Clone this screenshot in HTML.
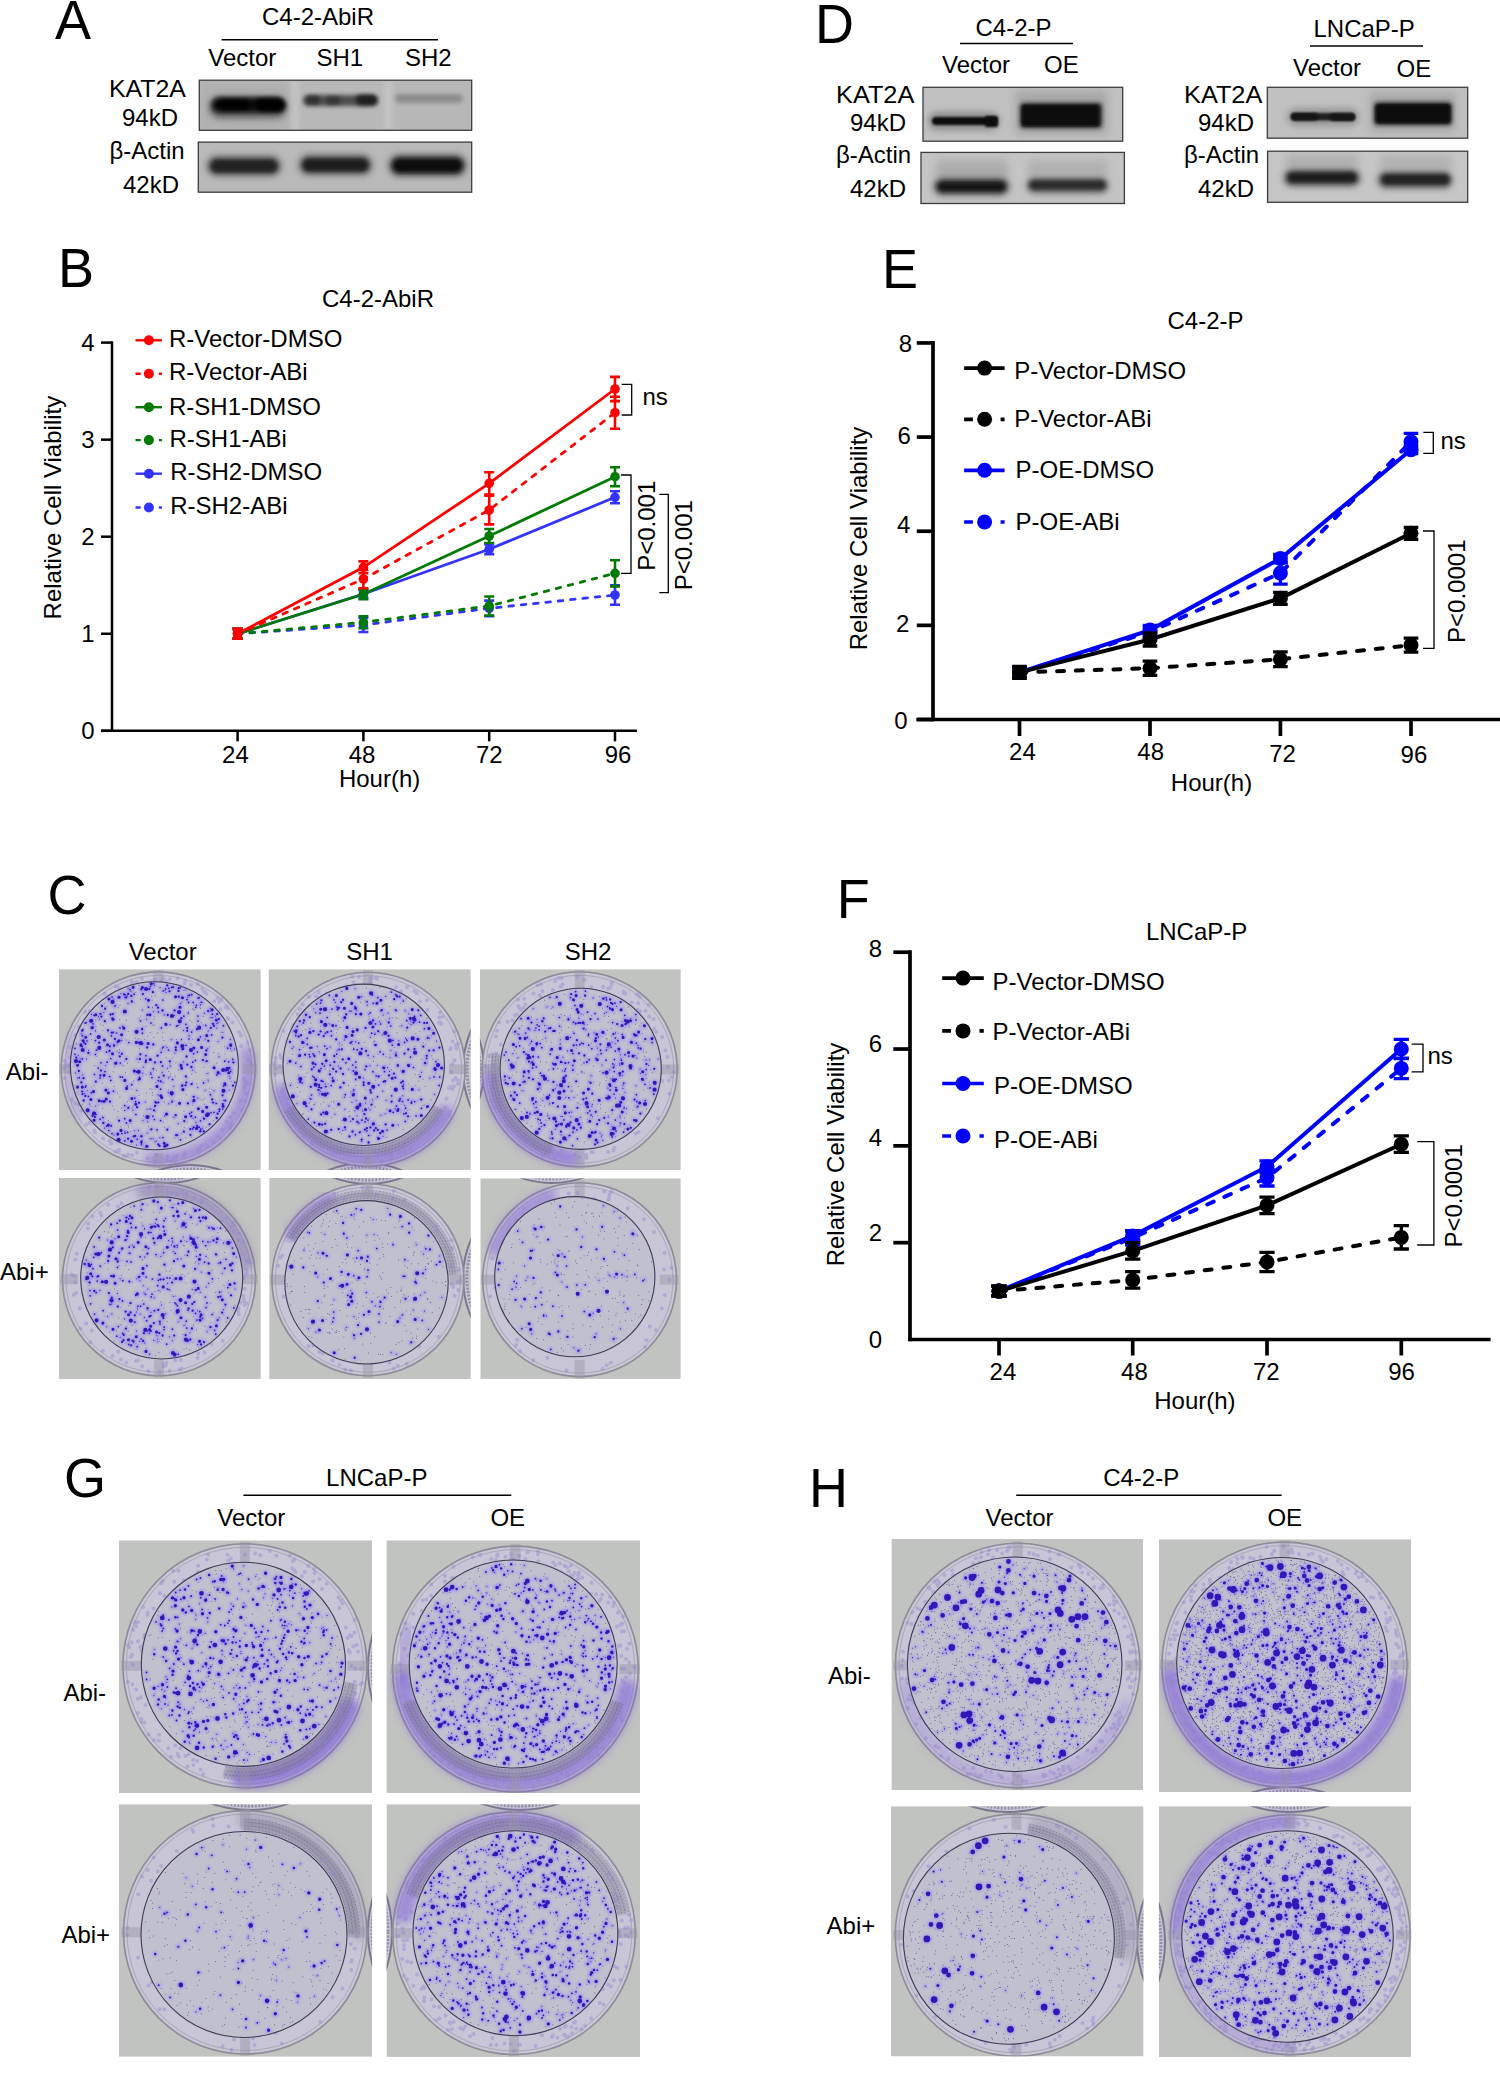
<!DOCTYPE html>
<html><head><meta charset="utf-8"><style>html,body{margin:0;padding:0;background:#fff;width:1500px;height:2073px;overflow:hidden}svg{display:block}text{font-family:"Liberation Sans",sans-serif}</style></head>
<body><svg width="1500" height="2073" viewBox="0 0 1500 2073" font-family="Liberation Sans, sans-serif"><defs><clipPath id="clip_a1"><rect x="199.3" y="80.2" width="272.4" height="50.1"/></clipPath><clipPath id="clip_a2"><rect x="198.3" y="142.1" width="273.4" height="50.1"/></clipPath><clipPath id="clip_d1"><rect x="923" y="87.3" width="199.7" height="53.9"/></clipPath><clipPath id="clip_d2"><rect x="921" y="152.4" width="203.4" height="51.1"/></clipPath><clipPath id="clip_d3"><rect x="1267.3" y="87.3" width="200.4" height="50.9"/></clipPath><clipPath id="clip_d4"><rect x="1267.6" y="151.2" width="200.1" height="51.1"/></clipPath><filter id="bl1" x="-50%" y="-50%" width="200%" height="200%"><feGaussianBlur stdDeviation="1"/></filter><filter id="bl2" x="-50%" y="-50%" width="200%" height="200%"><feGaussianBlur stdDeviation="2"/></filter><filter id="bl3" x="-50%" y="-50%" width="200%" height="200%"><feGaussianBlur stdDeviation="3"/></filter><filter id="bl4" x="-50%" y="-50%" width="200%" height="200%"><feGaussianBlur stdDeviation="4"/></filter><clipPath id="pc0"><rect x="58.9" y="969.2" width="201.9" height="200.9"/></clipPath><path id="d0_0" d="M127.5 996.1h0M89.6 1104.0h0M142.4 1010.0h0M158.2 1094.9h0M218.1 1022.6h0M217.0 1023.4h0M149.8 1108.7h0M151.4 1138.7h0M98.5 1016.2h0M121.0 993.3h0M163.0 1082.7h0M105.7 1099.7h0M124.5 997.2h0M211.8 1017.5h0M84.6 1093.6h0M170.2 1065.9h0M215.5 1016.1h0M138.5 1130.4h0M230.3 1039.4h0M88.5 1050.3h0M219.0 1056.8h0M96.3 1114.4h0M153.2 1138.6h0M223.4 1100.5h0M103.9 1012.5h0M156.3 1141.1h0M78.2 1055.3h0M136.4 1145.1h0M174.5 1015.2h0M91.4 1014.4h0M145.5 1146.9h0M150.9 1109.0h0M187.7 997.3h0M183.4 1030.4h0M153.5 1011.6h0M189.1 1035.9h0M146.5 1019.3h0M207.0 1073.5h0M124.7 1110.4h0M121.6 1040.5h0M142.4 1028.4h0M147.2 1109.3h0M183.5 1061.8h0M202.1 1002.3h0M150.6 1072.5h0M210.3 1017.8h0M160.1 987.6h0M201.7 1130.9h0M207.6 1115.2h0M185.3 990.0h0M155.0 1141.8h0M99.3 1019.0h0M230.6 1048.7h0M128.1 988.5h0M212.6 1017.8h0M197.8 1087.6h0M143.6 1067.1h0M137.0 1059.0h0M205.3 1090.3h0M220.0 1073.7h0M222.7 1032.2h0M104.7 1128.1h0M231.0 1069.8h0M200.4 1004.9h0M197.9 1098.1h0M196.0 1122.3h0M181.5 1039.4h0M164.6 1115.9h0M188.3 1012.3h0M170.2 1024.6h0M218.2 1041.6h0M173.7 1086.3h0M168.2 1092.6h0M205.2 1039.0h0M136.8 1090.4h0M159.8 1137.7h0M162.4 1048.6h0M188.2 1013.4h0M193.1 1118.2h0M229.9 1078.6h0M174.8 1053.0h0M147.7 1121.7h0M95.5 1030.9h0M214.1 1090.8h0M81.2 1033.8h0M178.2 1123.6h0M147.3 1133.1h0M132.9 1110.1h0M86.5 1058.9h0M213.2 1024.2h0M198.0 998.4h0M142.8 1073.1h0M210.3 1011.0h0M150.0 1138.8h0M208.3 1030.8h0M174.0 1117.4h0M168.6 1103.7h0M167.3 1068.2h0M207.8 1048.3h0M216.9 1028.2h0M124.9 1131.5h0M82.6 1074.7h0M77.6 1078.0h0M210.4 1008.3h0M203.3 1117.8h0M113.6 999.0h0M172.4 1100.7h0M154.4 985.3h0M162.2 1072.3h0M96.0 1114.7h0M234.6 1049.1h0M171.3 1039.7h0M95.7 1106.0h0M202.2 1128.7h0M228.5 1069.9h0M208.1 1080.1h0M115.0 1005.8h0M229.2 1090.0h0M204.3 1013.4h0M80.1 1058.7h0M165.0 990.5h0M141.4 1144.9h0M196.0 1122.6h0M89.9 1021.4h0M180.4 1003.4h0M166.9 1047.3h0M142.9 1120.6h0M119.1 1052.4h0M114.0 1135.0h0M130.9 991.3h0M87.2 1090.7h0M145.3 1102.0h0M164.2 1014.9h0M75.4 1073.1h0M134.5 1130.7h0M192.4 1070.1h0M187.9 995.5h0M105.4 1065.7h0M229.2 1076.2h0M166.0 992.5h0M168.5 1077.9h0M128.0 1003.6h0"/><path id="d0_1" d="M119.7 997.1h0M135.9 1114.5h0M105.0 1071.6h0M86.1 1022.7h0M193.6 1053.7h0M75.0 1048.3h0M193.2 1101.6h0M216.1 1103.4h0M189.0 1039.0h0M134.8 1098.0h0M134.2 994.2h0M189.7 1113.7h0M142.5 1033.2h0M125.1 1133.1h0M212.4 1014.2h0M192.8 1062.2h0M216.9 1074.9h0M172.5 1079.5h0M200.5 1120.8h0M95.4 1040.5h0M120.0 1027.9h0M154.3 1119.5h0M106.5 1052.1h0M191.6 1032.1h0M203.6 1082.9h0M106.7 1126.2h0M223.5 1025.7h0M100.1 1119.2h0M182.0 1085.8h0M171.7 987.4h0M200.6 1129.2h0M112.1 997.0h0M120.4 1063.0h0M151.0 1074.1h0M110.8 1080.4h0M111.0 1126.0h0M177.6 1135.0h0M82.6 1040.5h0M232.8 1059.3h0M108.8 1130.5h0M160.6 1089.2h0M188.5 1002.4h0M116.5 1033.0h0M211.7 1034.9h0M163.3 991.0h0M187.0 999.7h0M183.9 1016.2h0M94.5 1074.5h0M163.1 1047.2h0M151.0 1023.0h0M198.0 1021.0h0M234.8 1082.3h0M158.2 1080.6h0M83.8 1042.7h0M160.6 1120.6h0M122.7 1026.5h0M150.4 986.3h0M90.7 1033.8h0M110.8 1058.5h0M157.0 1129.8h0M153.3 1068.7h0M224.7 1061.2h0M82.2 1058.9h0M124.7 1118.7h0M117.5 1042.5h0M198.0 1016.0h0M124.8 1105.6h0M199.3 1127.2h0M124.8 1140.9h0M227.6 1048.2h0M135.6 1101.6h0M96.6 1050.2h0M79.3 1077.7h0M192.5 1128.9h0M180.4 1139.8h0M177.9 1025.5h0M197.4 1052.1h0M126.4 1122.9h0M82.4 1035.7h0M228.6 1061.8h0M128.8 1042.5h0M179.8 1007.0h0M219.3 1111.3h0M120.3 1076.9h0M100.0 1077.9h0M102.9 1117.6h0M122.4 1077.2h0M109.6 1076.5h0M185.9 1024.3h0M140.5 1020.8h0M191.5 1112.3h0M211.0 1112.7h0M180.8 1064.8h0M195.5 1117.2h0M113.5 1091.2h0M125.7 995.0h0M88.4 1096.3h0M148.4 1007.2h0M168.5 1050.0h0M111.4 1035.8h0M191.8 994.7h0M82.3 1046.7h0M200.4 1036.8h0M230.6 1071.5h0M94.2 1015.4h0M222.8 1109.0h0M152.0 1077.6h0M161.1 1052.3h0M195.4 1060.5h0M172.0 1101.9h0M205.7 1025.4h0M93.0 1023.8h0M162.8 1000.1h0M223.7 1086.1h0M176.6 1026.2h0M130.0 989.6h0M163.0 1137.5h0M186.1 1045.3h0M85.4 1087.2h0M141.1 1136.0h0M95.4 1054.5h0M131.7 1084.7h0M158.9 1077.3h0M107.2 1062.2h0M196.4 1005.3h0M210.5 1094.7h0M86.0 1085.8h0M145.7 998.8h0M152.9 1116.3h0M127.6 1132.4h0M147.2 1117.5h0M101.0 1062.8h0M153.5 983.6h0M115.1 1006.0h0M180.2 987.7h0M111.3 1125.5h0M91.3 1092.7h0M165.6 988.8h0M87.0 1041.0h0M214.0 1112.3h0M145.8 1055.7h0M158.5 1012.0h0M168.7 988.3h0M127.3 1086.0h0M161.3 1027.9h0M142.6 1043.7h0M156.3 1102.9h0M193.2 1002.4h0M112.0 1133.5h0M141.6 1144.0h0M195.8 1007.3h0M98.3 1068.0h0M121.9 1133.5h0M113.9 1045.2h0M74.9 1054.3h0M85.1 1023.1h0M225.5 1085.1h0M162.5 1065.9h0M139.5 1077.3h0M201.3 1002.3h0M137.2 1139.3h0M113.2 1032.4h0"/><path id="d0_2" d="M152.9 992.2h0M175.8 1047.4h0M82.2 1030.7h0M187.3 1064.7h0M81.3 1082.4h0M149.3 989.0h0M101.0 1070.6h0M213.1 1102.6h0M217.6 1113.7h0M82.5 1094.1h0M128.3 1107.8h0M147.2 1047.5h0M99.2 1042.7h0M158.3 1144.4h0M101.9 1101.4h0M178.4 990.9h0M160.9 1062.2h0M159.5 1145.9h0M131.3 995.9h0M119.1 1120.7h0M162.5 1010.5h0M119.8 1056.4h0M183.9 1131.7h0M142.9 994.1h0M94.9 1116.9h0M206.7 1061.2h0M197.1 1125.8h0M100.5 1013.8h0M186.3 1082.6h0M139.9 1078.9h0M117.7 1041.7h0M188.0 1103.4h0M176.2 1135.2h0M209.6 1124.3h0M219.5 1109.4h0M202.9 1060.1h0M198.8 997.8h0M191.3 1116.2h0M173.1 987.1h0M167.7 1015.0h0M109.5 1050.9h0M82.6 1029.9h0M204.1 1118.8h0M110.0 1101.6h0M181.4 1018.2h0M174.6 1010.4h0M131.8 1001.5h0M146.0 1060.5h0M230.8 1045.9h0M222.4 1037.6h0M108.0 1030.4h0M133.7 1136.4h0M182.4 1085.5h0M208.3 1040.8h0M190.3 1129.1h0M169.5 991.3h0M140.4 1054.3h0M153.3 1044.5h0M217.2 1014.1h0M109.8 1046.3h0M155.0 1106.0h0M139.9 1059.0h0M145.7 1062.2h0M185.8 1076.4h0M126.2 997.5h0M206.4 1050.4h0M95.8 1081.6h0M186.6 1056.5h0M138.6 1042.6h0M190.4 1134.8h0M121.9 1053.8h0M82.2 1091.6h0M137.1 1107.2h0M102.0 1006.0h0M155.5 1102.2h0M114.9 1038.9h0M142.1 1029.2h0M138.7 1079.7h0M80.9 1045.8h0M197.0 1029.2h0M191.4 1067.0h0M160.6 1081.3h0M104.9 1021.2h0M210.8 1027.9h0M216.7 1118.0h0M114.0 1045.7h0M141.4 1142.6h0M158.0 1007.7h0M126.4 1059.0h0M110.6 1014.5h0M128.1 1138.7h0M175.7 1115.2h0M175.8 1049.9h0M155.0 1062.4h0M178.7 988.2h0M156.3 1005.2h0M135.2 1136.0h0M200.2 1131.4h0M163.7 1075.7h0M212.2 1099.4h0M112.4 1018.5h0M208.1 1011.1h0M116.3 1063.0h0M226.0 1070.5h0M124.1 994.4h0M147.4 1014.9h0M222.6 1095.3h0M233.4 1062.4h0M193.7 1096.8h0M219.0 1019.1h0M141.6 1141.5h0M105.1 1008.7h0M100.4 1075.4h0M111.8 1032.7h0M187.3 1030.8h0M85.4 1043.8h0M83.5 1078.2h0M158.3 1102.4h0M78.8 1071.0h0M222.8 1104.1h0M141.6 1136.3h0M139.0 1102.8h0M213.8 1025.9h0M128.2 993.9h0M137.0 1071.9h0M167.2 985.4h0M76.3 1057.7h0M141.3 989.3h0M112.9 1014.1h0M92.5 1115.8h0M193.7 1127.4h0M103.3 1123.0h0M83.7 1100.5h0M189.3 995.3h0M157.6 1055.7h0M191.6 1084.2h0M92.7 1027.4h0M184.3 1121.1h0M213.0 1023.8h0M154.1 1110.3h0M233.0 1085.7h0M85.4 1095.9h0M178.8 996.7h0M169.8 1061.3h0M185.5 1085.3h0M167.3 1129.7h0M101.4 1016.6h0M225.3 1100.6h0M88.4 1052.9h0M203.8 1131.3h0M171.8 1094.4h0M151.4 1129.3h0M187.2 1028.1h0M197.7 1127.6h0M229.5 1067.8h0"/><path id="d0_3" d="M119.0 1040.7h0M142.4 987.5h0M106.3 1099.0h0M224.8 1083.9h0M104.3 1101.2h0M216.4 1020.0h0M166.0 1024.4h0M150.3 1059.5h0M135.8 1104.2h0M123.9 1028.3h0M179.6 1103.3h0M160.9 1095.8h0M90.9 1099.5h0M108.9 999.0h0M94.1 1120.2h0M149.9 1014.7h0M214.1 1067.8h0M133.1 987.3h0M134.4 1071.1h0M104.1 1075.2h0M181.7 1068.3h0M113.1 1019.3h0M161.7 1097.6h0M79.6 1061.7h0M223.1 1106.2h0M131.5 1141.3h0M104.3 1040.0h0M151.2 983.7h0M83.2 1040.7h0M77.6 1065.2h0M82.3 1087.1h0M212.1 1009.8h0M175.6 996.8h0M206.7 1035.5h0M202.7 1111.4h0M115.6 1063.2h0M107.5 1044.8h0M157.0 1086.4h0M124.8 1080.4h0M167.0 1145.1h0M130.2 1120.5h0M117.8 1134.1h0M108.3 1092.9h0M118.9 997.2h0M99.2 1100.8h0M181.0 1065.6h0M146.9 1146.2h0M108.4 1125.1h0M164.8 1146.2h0M77.5 1087.1h0M136.3 1042.4h0M121.6 1034.7h0M182.8 1048.8h0M94.2 1113.2h0M230.7 1044.8h0M228.8 1072.8h0M182.5 997.7h0M85.7 1037.3h0M218.1 1072.6h0M131.9 1098.5h0M185.6 1116.8h0M112.5 1053.7h0M182.9 1089.6h0M196.5 1128.4h0M105.9 1090.1h0M148.5 1000.3h0M198.4 1039.8h0M206.7 1107.3h0M194.0 1100.3h0M95.8 1014.7h0M177.4 1042.9h0M121.0 1130.4h0M193.8 1048.0h0M166.5 1114.1h0M164.2 1143.3h0M92.0 1027.8h0M201.6 1047.4h0M93.5 1091.6h0M205.7 1054.5h0M81.0 1044.8h0M180.0 1007.2h0M126.6 1088.4h0M148.1 1043.5h0M198.4 1108.7h0"/><path id="d0_4" d="M179.1 1012.1h0M99.3 1047.9h0M199.2 1027.7h0M91.3 1020.8h0M112.5 1001.9h0M191.0 1050.1h0M138.7 1071.8h0M223.5 1090.8h0M140.9 1043.1h0M172.0 1016.0h0M207.1 1115.2h0M82.7 1050.0h0M124.8 1011.5h0M179.8 1021.3h0M76.0 1061.1h0M227.4 1068.8h0M182.3 1046.1h0M146.1 989.0h0M171.7 1093.2h0M118.6 1139.9h0M87.7 1110.3h0M223.2 1070.0h0M94.0 1113.5h0M136.6 1031.8h0M98.7 1037.0h0M147.5 1117.0h0M207.9 1114.3h0"/><clipPath id="pc1"><rect x="268.5" y="969.2" width="202.3" height="200.9"/></clipPath><path id="d1_0" d="M398.8 1040.8h0M405.5 1038.0h0M418.8 1089.7h0M406.5 1039.4h0M321.7 1008.8h0M348.6 1069.2h0M387.6 1067.6h0M351.4 1011.2h0M328.9 1105.9h0M390.1 1057.7h0M434.5 1094.3h0M373.7 1056.6h0M380.8 1115.3h0M373.2 1020.3h0M390.9 1050.3h0M355.3 988.7h0M421.4 1072.2h0M292.1 1048.4h0M344.6 1097.1h0M368.7 1014.2h0M402.8 1095.8h0M370.3 1109.8h0M382.6 1091.1h0M325.3 1084.0h0M344.9 1109.3h0M403.6 1084.2h0M329.2 1023.7h0M405.6 1038.3h0M385.2 1113.8h0M410.7 1020.9h0M325.1 1086.7h0M343.5 1020.8h0M411.6 1101.1h0M415.8 1020.0h0M363.3 1078.0h0M309.8 1098.3h0M365.5 1103.1h0M336.4 1006.9h0M410.1 1019.2h0M370.4 1037.2h0M338.3 1066.1h0M356.1 1100.2h0M395.2 1108.9h0M382.6 1034.7h0M361.0 997.0h0M377.4 1065.3h0M408.8 1013.7h0M429.4 1038.2h0M436.6 1041.1h0M388.0 1013.2h0M389.4 1018.3h0M339.4 1043.0h0M404.7 1105.5h0M341.7 991.5h0M361.6 1141.4h0M344.4 1039.9h0M335.4 1002.4h0M411.0 1024.4h0M370.1 1065.7h0M320.3 1091.2h0M352.0 1102.2h0M313.8 1008.7h0M379.6 1021.8h0M396.1 1052.5h0M405.2 1010.8h0M290.6 1085.4h0M313.7 1055.3h0M330.1 1047.1h0M401.7 1025.7h0M383.2 1015.1h0M398.2 1125.0h0M355.7 1041.9h0M315.8 1012.7h0M354.9 1110.8h0M353.0 1091.8h0M310.0 1028.8h0M361.2 996.6h0M372.5 1099.8h0M353.4 1071.1h0M342.8 1130.3h0M389.5 1071.4h0M335.0 1114.2h0M298.7 1056.4h0M400.8 1099.7h0M386.1 1100.2h0M367.2 1005.1h0M383.1 1136.3h0M319.1 1051.7h0M429.8 1078.2h0M356.7 1010.8h0M362.8 1110.9h0M350.7 1121.4h0M317.3 1046.5h0M296.9 1103.7h0M337.1 1050.3h0M345.3 1129.6h0M385.8 996.4h0M293.4 1046.8h0M357.1 1115.7h0M319.8 1093.7h0"/><path id="d1_1" d="M419.4 1022.1h0M439.7 1077.1h0M397.8 1066.1h0M345.9 1062.8h0M314.2 1077.6h0M294.2 1031.1h0M405.6 1108.2h0M307.1 1038.3h0M312.9 1076.3h0M390.8 1026.0h0M303.9 1042.8h0M310.8 1099.1h0M391.5 992.1h0M296.1 1032.8h0M331.9 1009.1h0M407.1 1040.6h0M354.9 1006.5h0M393.2 1112.3h0M377.5 1096.7h0M324.7 1046.1h0M414.6 1016.4h0M380.9 1010.7h0M306.1 1014.6h0M329.3 995.3h0M332.5 1077.8h0M395.5 1009.9h0M320.6 1003.0h0M357.2 1049.9h0M299.5 1049.6h0M368.0 1120.1h0M359.6 1105.1h0M326.1 1086.6h0M374.8 1034.2h0M420.7 1015.5h0M376.0 1044.8h0M361.9 1120.2h0M387.2 1130.0h0M410.5 1057.1h0M371.7 1033.2h0M367.1 1001.7h0M420.2 1076.7h0M327.2 1017.5h0M439.2 1085.4h0M425.5 1063.5h0M414.7 1101.5h0M336.0 1025.7h0M345.3 1094.7h0M339.1 1049.4h0M376.2 1075.8h0M358.7 1043.1h0M372.4 995.0h0M426.6 1058.4h0M395.6 994.6h0M380.1 1051.8h0M435.9 1061.6h0M406.8 1020.6h0M380.7 1024.0h0M353.7 1049.2h0M400.1 1098.6h0M330.3 1065.2h0M421.4 1108.3h0M365.0 1069.6h0M309.9 1056.7h0M321.3 1020.9h0M311.5 1095.0h0M365.1 1121.8h0M404.5 1042.4h0M351.9 1041.5h0M397.2 996.7h0M326.9 1048.6h0M307.3 1044.3h0M408.1 1099.9h0M352.7 1065.0h0M355.5 1134.7h0M373.0 1071.7h0M353.8 1089.8h0M396.4 1106.1h0M424.4 1028.7h0M393.0 1040.4h0M308.3 1119.1h0M309.2 1054.6h0M320.9 1068.5h0M373.2 1003.3h0M303.4 1022.9h0M391.7 1095.8h0M297.2 1026.4h0M355.7 1062.0h0M302.1 1082.8h0M384.5 1071.7h0M336.7 1054.2h0M295.7 1063.1h0M434.1 1076.8h0M331.2 1085.6h0M378.7 1085.1h0M313.8 1067.2h0M366.8 1130.9h0M313.1 1053.9h0M368.7 1135.5h0M316.7 1004.0h0M323.1 1081.6h0M331.3 1035.8h0M403.3 1001.0h0M331.2 1031.1h0M403.8 1113.9h0M403.4 1088.7h0M395.7 1054.3h0M383.3 1054.3h0M353.3 1070.8h0M416.1 1115.8h0M324.3 1066.0h0M396.4 1010.6h0M358.9 1123.0h0M355.9 1067.3h0M368.1 1055.4h0M320.0 1013.2h0M377.7 997.6h0M405.3 1121.4h0M295.8 1035.6h0M325.2 1033.3h0M370.2 1012.8h0M375.5 1023.9h0M349.9 1011.0h0M334.0 999.8h0M402.5 1101.5h0M413.5 1067.5h0M392.3 1045.1h0M355.7 1079.4h0M300.9 1066.5h0M414.5 1017.2h0"/><path id="d1_2" d="M411.4 1102.8h0M408.3 1049.5h0M435.3 1068.5h0M342.7 1059.4h0M318.5 1089.9h0M394.0 1073.6h0M399.6 996.7h0M353.0 1119.1h0M371.5 1104.7h0M396.8 995.9h0M290.0 1041.9h0M364.9 1129.6h0M414.5 1049.1h0M341.8 1049.3h0M327.3 1032.2h0M321.2 1114.4h0M391.6 1101.7h0M314.4 1122.6h0M402.8 1086.4h0M418.3 1010.3h0M373.7 1123.3h0M322.3 1063.8h0M374.1 1130.5h0M388.6 1035.8h0M309.8 1017.2h0M370.8 1092.5h0M366.3 1066.3h0M399.3 1100.7h0M336.2 1039.4h0M385.2 1081.2h0M408.0 1116.3h0M402.9 1081.4h0M354.0 1094.1h0M295.7 1032.0h0M396.1 1055.6h0M375.3 1045.0h0M346.3 1036.8h0M327.6 1093.3h0M359.8 1132.3h0M397.8 1065.2h0M305.1 1054.7h0M378.2 1031.2h0M334.4 1062.0h0M375.8 1128.2h0M403.2 1071.2h0M404.5 1053.6h0M344.9 1127.3h0M433.6 1050.3h0M427.0 1022.9h0M350.6 1042.9h0M424.3 1022.9h0M298.7 1036.5h0M340.6 1068.5h0M370.4 1127.4h0M336.1 1071.6h0M427.8 1037.8h0M383.7 1081.7h0M357.3 1121.8h0M421.2 1099.5h0M311.8 1069.3h0M355.9 1014.1h0M352.5 1131.7h0M319.1 1084.9h0M406.0 1113.3h0M361.7 1139.6h0M343.0 1074.0h0M314.5 1056.0h0M373.0 1020.5h0M299.8 1021.2h0M363.7 1085.1h0M380.2 1133.2h0M395.4 1077.7h0M320.6 1031.4h0M325.1 1123.8h0M300.7 1078.7h0M319.0 1087.2h0M349.5 1136.5h0M311.6 1047.7h0M321.4 1000.3h0M364.4 1114.1h0M301.0 1035.2h0M413.5 1022.6h0M439.4 1047.7h0M306.3 1106.1h0M338.0 1007.6h0M366.1 1051.0h0M381.9 1010.1h0M338.7 1129.1h0M323.7 1036.1h0M331.2 1129.8h0M339.1 1007.8h0M321.2 1087.8h0M377.8 1129.9h0M346.2 1014.4h0M426.8 1055.8h0M388.7 1022.5h0M313.4 1031.2h0M300.1 1081.9h0M340.4 1087.4h0M370.4 1090.1h0M361.8 1048.9h0M368.6 1142.5h0M318.7 1034.6h0M343.7 1082.9h0M366.0 1118.5h0M333.2 1068.9h0M389.0 1075.4h0M341.2 1002.2h0M310.2 1047.9h0M323.2 1112.6h0M398.2 1109.1h0M360.1 1104.0h0M401.2 1082.6h0M394.2 999.2h0M429.1 1050.6h0M363.6 1082.5h0M315.5 1064.5h0M322.2 1124.7h0M321.5 1080.9h0M334.3 1056.1h0M425.1 1062.9h0M407.2 1027.6h0M304.0 1020.5h0M423.3 1046.6h0M329.9 1074.3h0M366.9 1128.2h0M305.9 1014.8h0M311.5 1109.3h0M378.6 1076.5h0M343.0 1000.0h0M365.6 1028.0h0M310.8 1086.8h0M385.6 1124.4h0M337.6 1009.5h0"/><path id="d1_3" d="M338.7 1104.2h0M346.8 988.4h0M372.9 1027.0h0M359.5 1077.2h0M313.0 1063.1h0M376.9 1003.2h0M392.8 1125.2h0M319.2 1070.9h0M353.2 1094.9h0M365.3 1098.1h0M353.0 1031.6h0M435.2 1069.5h0M412.3 1089.4h0M320.7 1009.3h0M351.7 1003.4h0M421.3 1115.5h0M319.3 1124.2h0M324.4 1054.6h0M433.6 1033.2h0M344.8 1017.6h0M326.2 1060.7h0M290.0 1061.3h0M392.2 1078.3h0M348.8 1058.7h0M380.9 1000.3h0M296.1 1030.8h0M357.2 1029.9h0M417.9 1039.2h0M408.4 1065.2h0M321.5 1021.7h0M428.9 1028.4h0M309.9 1032.4h0M333.2 1080.9h0M373.2 1124.0h0M410.3 1018.2h0M332.8 1025.5h0M413.3 1018.3h0M352.1 1035.2h0M368.8 1083.2h0M408.7 1065.8h0M358.7 997.2h0M427.5 1106.5h0M315.7 1079.8h0M398.7 1044.5h0M434.8 1068.8h0M403.2 1071.4h0M359.9 1105.3h0M347.1 1027.4h0M299.7 1055.5h0M355.6 1008.2h0M365.5 1109.6h0M360.8 1014.1h0M397.7 1110.5h0M322.5 1094.3h0M383.7 1067.7h0M382.5 1131.3h0M441.6 1068.0h0M390.0 1110.8h0M345.9 1036.6h0M378.5 1138.4h0M302.6 1042.4h0M344.4 1008.3h0M412.2 1009.6h0M336.4 995.5h0"/><path id="d1_4" d="M315.7 1084.7h0M360.4 1053.4h0M325.0 1009.3h0M415.1 1052.7h0M385.4 1033.0h0M412.7 1038.4h0M371.1 993.3h0M292.8 1096.4h0M344.9 1119.5h0M356.1 1073.3h0M438.0 1065.1h0M370.4 1023.0h0M326.4 1113.2h0M414.4 1019.7h0M325.2 1094.6h0M373.2 1086.8h0M325.3 1024.9h0M325.9 1131.5h0M304.6 1103.2h0M357.4 1107.6h0M395.8 1089.7h0M300.3 1079.0h0M389.8 1040.7h0"/><clipPath id="pc2"><rect x="479.9" y="969.2" width="200.9" height="200.9"/></clipPath><path id="d2_0" d="M557.7 1058.2h0M567.5 1050.9h0M640.4 1073.2h0M513.0 1053.6h0M608.0 1047.1h0M604.6 1013.5h0M539.6 1087.9h0M619.4 1051.8h0M544.6 1025.6h0M625.0 1092.3h0M594.1 1032.7h0M611.0 1078.7h0M649.4 1059.8h0M571.7 1091.0h0M570.0 1125.9h0M530.7 1063.0h0M533.2 1008.7h0M570.9 1116.8h0M619.5 1063.9h0M592.3 1104.4h0M606.4 1012.2h0M621.0 1058.8h0M636.0 1085.7h0M620.1 1117.8h0M611.2 1129.7h0M630.8 1018.6h0M608.8 1099.2h0M658.1 1059.0h0M555.3 1129.3h0M615.5 1032.9h0M593.0 997.9h0M619.9 1115.9h0M571.6 1112.1h0M584.0 1062.9h0M648.5 1065.3h0M553.4 1090.9h0M530.1 1043.5h0M518.1 1057.5h0M615.2 1043.7h0M600.0 1133.1h0M561.1 1116.4h0M592.4 1116.7h0M616.6 1006.3h0M542.7 1100.6h0M615.6 1098.1h0M533.0 1048.2h0M522.8 1090.8h0M601.3 1136.7h0M536.6 1107.4h0M555.1 1088.8h0M536.4 1045.7h0M562.5 1070.8h0M608.3 1117.0h0M535.9 1102.6h0M584.2 1024.2h0M535.1 1107.5h0M560.2 1043.9h0M602.7 1140.5h0M529.9 1030.0h0M609.7 1070.1h0M611.9 1126.2h0M541.3 1126.6h0M622.3 1075.3h0M562.4 1116.5h0M511.0 1068.8h0M572.4 1070.2h0M560.7 1048.6h0M635.1 1055.6h0M505.0 1079.9h0M623.1 1085.1h0M534.9 1030.4h0M607.9 1088.1h0M585.7 1105.1h0M637.6 1035.1h0M512.4 1098.3h0M609.5 1007.4h0M591.9 1106.3h0M620.3 1054.8h0M565.6 1097.2h0M620.2 1106.1h0M549.4 1103.9h0M614.2 1064.9h0M597.9 1054.8h0M643.3 1080.2h0M645.8 1074.7h0M636.9 1058.0h0M566.5 1139.9h0M561.1 1134.8h0M568.3 1018.3h0M640.1 1069.0h0M547.2 1006.8h0M529.0 1072.4h0M547.8 1115.7h0M589.0 1081.5h0M517.6 1033.8h0M536.9 1019.5h0M574.1 1097.5h0M545.6 1038.1h0M560.3 1039.7h0M568.7 1135.8h0M602.1 1065.0h0M585.9 1029.8h0M581.8 1071.8h0M602.0 1135.1h0M548.1 1080.6h0M612.0 1042.0h0M622.9 1088.4h0M641.8 1078.8h0M591.0 1075.3h0M626.5 1108.6h0M579.0 1018.2h0M601.7 1032.1h0M519.2 1028.5h0M550.1 1138.2h0M580.2 1117.3h0M552.8 1007.0h0M638.0 1045.4h0M624.7 1019.7h0M562.9 1057.2h0M620.0 1125.8h0M515.7 1109.4h0M570.5 1037.4h0M581.2 1014.0h0M646.1 1059.9h0M619.8 1065.3h0M519.0 1034.4h0M557.0 1085.3h0M636.9 1107.2h0M597.5 1048.1h0"/><path id="d2_1" d="M568.4 1086.7h0M636.3 1043.2h0M576.5 1045.0h0M569.7 1135.4h0M614.1 1094.1h0M635.8 1014.5h0M568.8 1097.9h0M526.0 1054.0h0M564.9 1139.2h0M606.6 999.9h0M552.9 1063.3h0M614.2 1071.6h0M623.8 1083.2h0M519.7 1103.2h0M532.2 1100.4h0M597.9 1019.0h0M623.6 1132.2h0M568.5 1062.6h0M612.2 1136.9h0M552.0 1133.9h0M652.2 1042.5h0M540.5 1073.2h0M505.9 1052.2h0M625.0 1054.7h0M523.2 1082.0h0M616.0 1131.1h0M550.0 997.3h0M637.9 1106.4h0M536.3 1067.0h0M609.7 1097.2h0M621.4 1060.2h0M504.3 1055.0h0M636.4 1094.7h0M591.1 1115.0h0M538.2 1119.2h0M535.9 1101.7h0M586.3 1098.2h0M631.2 1041.6h0M600.5 1050.2h0M622.3 1034.5h0M603.1 1072.8h0M549.4 1095.1h0M636.9 1101.4h0M573.1 1069.8h0M614.9 1003.2h0M539.1 1029.8h0M565.5 1068.9h0M624.8 1015.3h0M516.2 1046.7h0M636.0 1019.8h0M541.1 1122.9h0M606.0 1060.2h0M550.3 1054.2h0M572.9 1132.2h0M559.4 1017.5h0M577.4 1138.8h0M570.5 997.5h0M575.6 991.6h0M620.4 1123.0h0M527.1 1112.7h0M521.0 1018.7h0M646.2 1069.6h0M588.7 1045.2h0M587.8 1112.9h0M622.2 1097.4h0M574.9 1005.4h0M553.4 1068.9h0M615.3 1051.1h0M573.0 1053.5h0M563.9 1119.9h0M587.5 1012.2h0M541.5 1075.5h0M549.2 1118.4h0M573.5 1022.2h0M583.3 1043.7h0M532.6 1067.9h0M598.2 1037.0h0M611.1 1047.0h0M589.9 1110.9h0M533.7 1103.7h0M624.1 1107.8h0M596.0 1058.3h0M601.2 1053.6h0M589.2 1059.9h0M538.3 1057.0h0M569.2 1112.5h0M509.3 1078.1h0M612.6 1022.6h0M523.5 1076.3h0M615.9 1087.6h0M653.8 1094.2h0M581.5 1043.2h0M626.2 1023.4h0M591.8 1048.8h0M645.0 1084.3h0M606.3 1050.0h0M628.8 1056.1h0M610.1 1090.2h0M535.9 1028.0h0M588.3 1035.4h0M645.3 1100.6h0M614.4 1059.5h0M551.6 1131.9h0M527.4 1037.4h0M508.7 1060.2h0M561.9 1062.3h0M572.5 1145.6h0M579.8 1044.7h0M650.0 1087.8h0M540.2 1120.0h0M607.5 1006.7h0M585.4 991.1h0M548.6 1028.4h0M574.0 1033.3h0M540.2 1043.5h0M553.4 1064.4h0M606.1 997.7h0M529.8 1113.8h0M572.8 1065.4h0M617.9 1040.7h0M539.1 1026.2h0M588.6 1034.1h0M615.4 1038.1h0M519.6 1045.8h0M602.8 998.5h0M619.9 1075.6h0M541.8 1047.7h0M615.4 1120.1h0M638.3 1047.8h0M531.6 1041.4h0M612.8 1063.8h0M525.6 1033.0h0M595.0 1013.5h0M576.9 1129.8h0M562.0 1086.5h0M564.7 1071.0h0M559.5 1026.0h0M537.1 1024.8h0"/><path id="d2_2" d="M590.6 1082.9h0M595.1 1144.3h0M590.5 1019.1h0M542.1 1021.1h0M539.3 1128.9h0M524.7 1081.6h0M560.9 1062.0h0M550.4 1028.0h0M504.9 1076.4h0M578.4 1022.9h0M565.9 1075.8h0M606.3 1098.1h0M507.8 1083.9h0M610.2 999.5h0M645.3 1039.1h0M570.5 1122.4h0M640.4 1113.6h0M613.6 1067.3h0M580.2 1022.9h0M587.0 1062.1h0M612.2 1110.1h0M552.9 1103.1h0M544.5 1125.1h0M625.4 1024.2h0M511.0 1095.7h0M595.9 1038.3h0M545.2 1031.6h0M577.4 1107.8h0M594.8 1132.7h0M608.1 1123.3h0M533.1 1056.7h0M604.2 1117.8h0M575.7 1023.6h0M528.5 1071.2h0M620.7 1002.1h0M622.8 1071.7h0M580.8 1127.7h0M556.0 1121.5h0M573.6 1045.3h0M613.4 1034.1h0M565.4 1063.1h0M514.7 1092.5h0M523.9 1052.1h0M595.7 1111.8h0M583.7 1028.6h0M515.2 1031.7h0M610.3 1085.9h0M634.6 1099.6h0M568.4 1019.6h0M533.0 1079.3h0M576.2 1081.3h0M553.3 1030.9h0M579.0 1053.3h0M542.5 1021.4h0M553.1 1090.2h0M603.7 998.7h0M630.8 1127.8h0M634.1 1120.2h0M552.6 1138.4h0M554.7 1030.9h0M608.5 1096.4h0M516.9 1095.1h0M528.9 1077.8h0M613.7 1133.7h0M597.5 1142.6h0M531.5 1022.6h0M529.0 1061.6h0M576.9 1040.2h0M532.3 1062.5h0M557.9 1106.6h0M571.1 994.1h0M519.8 1085.2h0M607.6 1098.5h0M566.2 1125.8h0M611.0 1002.8h0M553.5 1081.9h0M556.7 997.2h0M592.3 1093.7h0M585.1 995.7h0M537.8 1089.2h0M654.2 1068.8h0M599.2 1120.1h0M534.8 1112.9h0M610.1 1008.7h0M584.4 1055.5h0M558.5 1124.3h0M600.4 1044.3h0M617.2 1024.1h0M616.0 1079.3h0M583.3 1099.3h0M505.7 1083.0h0M646.4 1064.1h0M612.4 1003.9h0M597.1 1124.2h0M595.6 1131.9h0M634.1 1034.5h0M624.4 1124.1h0M528.5 1028.5h0M561.0 1131.7h0M566.3 1126.8h0M640.6 1048.7h0M543.6 1018.4h0M538.8 1083.5h0"/><path id="d2_3" d="M609.7 1084.5h0M589.8 1121.3h0M620.7 1102.3h0M599.2 1100.2h0M628.6 1052.6h0M630.6 1068.0h0M635.5 1035.3h0M511.3 1064.9h0M574.3 1060.8h0M532.7 1098.5h0M533.3 1064.4h0M578.2 1012.1h0M627.9 1129.0h0M564.0 1091.1h0M588.4 1089.1h0M529.9 1057.6h0M551.7 1049.3h0M652.0 1038.6h0M527.7 1058.2h0M514.0 1099.6h0M612.5 1009.6h0M536.8 1043.6h0M642.4 1079.2h0M543.7 1076.1h0M638.6 1032.1h0M596.1 1140.1h0M636.0 1120.5h0M573.8 1127.9h0M592.1 1132.5h0M555.4 1064.3h0M528.3 1055.6h0M631.5 1042.2h0M564.6 1106.6h0M573.5 999.7h0M560.2 1048.4h0M625.5 1020.6h0M571.6 1050.5h0M578.9 1124.1h0M560.4 1142.1h0M539.6 1084.2h0M619.8 1073.3h0M616.3 1090.1h0M587.6 1106.8h0M603.0 1032.4h0M644.4 1025.7h0M621.1 1009.7h0M622.2 1112.0h0M540.8 1114.4h0M524.2 1071.9h0M597.2 1059.8h0M576.1 995.6h0M633.0 1056.1h0M622.1 1025.5h0M595.5 1040.7h0M520.0 1038.2h0M565.4 1112.9h0M622.1 1063.5h0M557.2 1057.5h0M525.1 1038.4h0M639.7 1102.9h0M563.9 1077.8h0M556.4 1125.6h0M583.0 1022.7h0M623.1 1037.4h0M561.5 1124.1h0M528.2 1018.3h0M630.5 1020.8h0M513.4 1044.5h0M577.1 1009.5h0M609.2 1097.5h0M596.7 1034.2h0M583.6 1093.0h0M537.4 1112.0h0M642.7 1071.8h0M618.9 1049.0h0"/><path id="d2_4" d="M563.8 1081.2h0M606.6 1072.7h0M559.3 1098.0h0M627.7 1021.6h0M559.8 1003.8h0M513.7 1083.5h0M567.2 1038.2h0M561.0 1085.1h0M611.6 1133.9h0M613.9 1080.3h0M564.3 1138.4h0M526.8 1116.9h0M623.0 1098.4h0M568.3 1124.8h0M536.7 1132.7h0M576.7 1120.2h0M586.6 1103.2h0M544.9 1078.7h0M512.7 1066.7h0M554.3 1118.5h0M617.1 1105.7h0M559.3 1092.7h0M654.6 1089.7h0M547.6 1097.8h0M599.8 1004.1h0M589.7 1136.0h0M581.3 1005.8h0M630.5 1066.2h0M614.1 1128.5h0M619.2 1105.4h0M608.8 1044.4h0M654.7 1082.8h0M521.8 1118.1h0M532.8 1049.1h0M645.0 1104.0h0"/><clipPath id="pc3"><rect x="58.9" y="1177.9" width="201.9" height="201.3"/></clipPath><path id="d3_0" d="M117.5 1293.5h0M85.3 1264.9h0M207.1 1331.7h0M132.4 1245.1h0M192.6 1241.9h0M222.2 1273.3h0M107.3 1240.1h0M211.8 1227.4h0M156.9 1335.7h0M197.8 1237.6h0M202.4 1217.9h0M193.7 1208.2h0M111.5 1304.0h0M143.3 1285.8h0M144.6 1257.1h0M144.3 1317.4h0M144.7 1343.0h0M219.2 1317.7h0M144.1 1293.0h0M158.8 1290.6h0M140.3 1314.1h0M190.1 1235.9h0M137.0 1347.0h0M171.2 1207.5h0M200.3 1292.3h0M172.8 1242.4h0M190.0 1332.7h0M171.5 1244.9h0M161.5 1305.1h0M106.6 1326.8h0M223.5 1242.9h0M118.1 1259.0h0M153.8 1340.4h0M154.4 1297.7h0M196.3 1256.4h0M121.3 1249.2h0M206.2 1287.0h0M115.0 1238.8h0M144.3 1229.1h0M177.2 1247.3h0M209.9 1327.3h0M230.9 1242.3h0M197.7 1344.6h0M120.2 1337.3h0M198.8 1263.8h0M136.7 1278.8h0M130.4 1253.5h0M191.9 1237.9h0M126.9 1239.3h0M172.4 1241.0h0M178.6 1309.2h0M191.5 1217.3h0M100.0 1290.4h0M175.1 1221.0h0M184.0 1325.5h0M140.1 1280.7h0M169.3 1336.8h0M206.0 1256.4h0M178.2 1321.8h0M155.3 1223.6h0M181.7 1226.6h0M235.2 1289.0h0M173.3 1251.6h0M181.2 1258.9h0M147.7 1309.7h0M210.5 1241.7h0M165.8 1313.7h0M183.4 1237.0h0M167.6 1283.4h0M151.0 1312.3h0M192.3 1289.3h0M165.6 1218.4h0M89.4 1264.3h0M144.6 1228.4h0M149.6 1354.3h0M126.6 1217.2h0M218.4 1263.3h0M142.8 1225.7h0M124.5 1318.9h0M168.5 1240.6h0M136.4 1312.0h0M107.6 1316.6h0M186.8 1241.5h0M120.1 1278.6h0M209.5 1227.7h0M185.8 1223.2h0M154.8 1310.4h0M201.3 1272.1h0M157.7 1341.7h0M157.8 1339.0h0M197.6 1310.8h0M111.9 1314.1h0M86.4 1259.9h0M223.4 1309.6h0M236.5 1257.0h0M173.7 1296.5h0M137.5 1308.9h0M172.4 1340.7h0M160.8 1256.5h0M136.5 1331.0h0M134.2 1322.0h0M208.7 1283.4h0M147.9 1289.0h0M139.7 1341.4h0M94.7 1253.6h0M196.8 1246.7h0"/><path id="d3_1" d="M199.8 1311.6h0M208.0 1241.9h0M227.9 1287.6h0M154.3 1310.8h0M140.9 1236.8h0M232.5 1248.0h0M117.5 1267.3h0M220.4 1228.2h0M212.4 1278.8h0M207.0 1302.9h0M169.8 1278.2h0M163.6 1252.7h0M110.0 1304.4h0M164.3 1231.0h0M226.0 1259.3h0M146.6 1320.7h0M147.4 1330.8h0M164.2 1327.2h0M167.1 1277.8h0M155.5 1226.7h0M177.0 1313.1h0M116.7 1336.2h0M188.0 1310.2h0M122.7 1333.3h0M128.7 1218.9h0M152.4 1279.0h0M122.7 1280.6h0M141.3 1209.7h0M176.1 1304.1h0M134.2 1206.0h0M187.3 1255.3h0M206.0 1307.7h0M202.8 1241.4h0M96.2 1292.6h0M175.0 1302.8h0M185.8 1227.1h0M185.1 1213.8h0M145.5 1294.3h0M186.8 1328.1h0M186.2 1321.2h0M141.3 1339.0h0M103.1 1310.7h0M195.5 1313.4h0M90.6 1303.8h0M140.1 1256.8h0M158.3 1280.3h0M160.0 1323.9h0M146.9 1265.7h0M177.5 1259.0h0M214.7 1330.3h0M93.0 1268.7h0M149.2 1333.0h0M133.8 1247.3h0M216.5 1242.3h0M164.1 1220.7h0M129.2 1247.1h0M94.5 1314.1h0M139.7 1276.6h0M143.7 1304.0h0M169.1 1289.5h0M146.1 1277.0h0M148.4 1248.4h0M150.9 1232.5h0M178.2 1354.3h0M227.7 1317.9h0M205.7 1245.7h0M100.2 1266.1h0M233.9 1307.9h0M177.4 1305.7h0M172.2 1238.3h0M214.3 1228.9h0M134.1 1246.8h0M134.8 1322.2h0M175.2 1253.3h0M137.9 1306.1h0M101.3 1252.8h0M117.6 1230.0h0M129.3 1253.0h0M166.7 1344.2h0M152.0 1294.1h0M94.2 1246.9h0M97.2 1281.1h0M118.3 1326.6h0M156.1 1254.5h0M117.2 1223.2h0M167.3 1289.0h0M215.7 1334.2h0M137.3 1346.5h0M128.9 1344.4h0M209.0 1227.7h0M131.1 1261.9h0M86.3 1279.3h0M90.1 1295.8h0M164.1 1329.6h0M205.3 1297.1h0M157.6 1285.7h0M127.0 1261.3h0M93.7 1257.4h0M97.2 1276.7h0M197.0 1320.0h0M219.6 1292.2h0M131.5 1227.4h0M122.5 1300.9h0M151.2 1296.9h0M89.9 1290.5h0M177.2 1245.3h0M172.9 1207.6h0M204.6 1262.2h0M172.4 1329.2h0M140.6 1306.2h0M91.3 1264.3h0M212.2 1314.5h0M156.4 1219.3h0M202.5 1318.4h0"/><path id="d3_2" d="M164.5 1264.7h0M111.9 1241.8h0M178.3 1203.6h0M150.7 1330.9h0M130.6 1223.3h0M108.2 1260.9h0M153.9 1323.1h0M204.0 1342.1h0M162.6 1335.5h0M129.4 1281.6h0M111.0 1249.9h0M195.1 1268.9h0M159.4 1274.7h0M134.8 1315.3h0M160.5 1279.4h0M157.6 1225.1h0M131.2 1345.3h0M199.5 1210.0h0M111.1 1224.5h0M234.6 1283.4h0M94.3 1291.0h0M153.4 1238.4h0M224.8 1268.3h0M185.6 1335.1h0M199.2 1217.7h0M152.4 1226.7h0M109.1 1250.2h0M122.1 1341.9h0M123.5 1340.2h0M174.0 1261.2h0M203.1 1217.4h0M127.9 1231.0h0M181.0 1241.3h0M174.5 1246.5h0M201.0 1344.4h0M200.2 1254.8h0M192.3 1303.9h0M147.6 1308.1h0M159.3 1333.1h0M130.6 1312.4h0M169.9 1200.3h0M217.6 1320.1h0M225.4 1304.6h0M231.0 1295.3h0M212.9 1228.6h0M157.8 1238.2h0M194.2 1302.1h0M143.1 1341.0h0M98.3 1276.1h0M117.7 1261.5h0M111.8 1297.6h0M200.3 1316.8h0M143.9 1333.2h0M119.8 1220.6h0M213.5 1240.4h0M154.7 1226.4h0M220.4 1262.7h0M148.6 1232.7h0M111.1 1276.1h0M89.6 1282.4h0M135.8 1227.7h0M196.0 1244.8h0M163.3 1318.2h0M191.9 1328.5h0M158.3 1309.9h0M149.6 1316.5h0M125.4 1240.2h0M125.9 1328.6h0M119.1 1252.8h0M210.6 1327.1h0M232.4 1263.4h0M154.4 1242.8h0M130.5 1303.2h0M160.8 1238.2h0M190.9 1217.3h0M126.4 1217.6h0M192.6 1310.7h0M188.6 1308.4h0M222.2 1312.6h0M163.5 1226.7h0M127.2 1236.2h0M147.4 1253.6h0M125.6 1311.6h0M232.0 1270.4h0M92.3 1276.3h0M208.7 1263.5h0M88.6 1265.0h0M119.4 1299.1h0M84.6 1263.9h0M195.8 1290.1h0M174.2 1335.6h0M188.4 1251.7h0M123.8 1334.9h0M108.9 1293.1h0M173.6 1216.0h0M99.2 1237.6h0M157.9 1202.1h0M129.9 1216.0h0M150.6 1315.8h0M138.9 1277.1h0M158.7 1226.4h0M200.4 1221.1h0M133.6 1341.7h0M220.6 1296.6h0M216.0 1254.4h0M142.5 1204.2h0M88.6 1263.8h0M172.1 1282.6h0M112.8 1247.3h0M190.3 1339.5h0M136.0 1295.0h0M163.5 1279.4h0M159.8 1321.6h0M218.3 1297.1h0M117.8 1306.6h0M132.5 1340.7h0M122.3 1248.4h0"/><path id="d3_3" d="M201.1 1314.8h0M146.0 1351.4h0M136.2 1336.7h0M128.5 1339.8h0M175.9 1278.5h0M102.4 1281.8h0M102.9 1323.1h0M183.8 1266.0h0M151.2 1227.3h0M118.7 1236.7h0M230.4 1264.9h0M177.3 1211.5h0M89.7 1265.8h0M116.0 1258.7h0M199.4 1259.3h0M167.3 1247.3h0M217.2 1238.8h0M222.3 1299.8h0M137.4 1293.9h0M96.1 1254.1h0M199.6 1341.2h0M128.2 1232.4h0M193.4 1239.6h0M161.3 1208.1h0M128.6 1314.8h0M195.4 1210.5h0M143.0 1268.4h0M178.2 1216.0h0M143.0 1273.3h0M150.7 1326.2h0M126.3 1221.4h0M183.5 1223.2h0M149.6 1329.6h0M164.8 1234.4h0M131.9 1217.7h0M187.6 1340.5h0M113.0 1329.3h0M163.2 1286.9h0M153.8 1200.9h0M233.7 1253.6h0M145.9 1246.7h0M182.8 1202.6h0M200.1 1320.1h0M90.7 1273.7h0M196.1 1247.3h0M111.6 1300.6h0M229.9 1284.5h0M113.6 1276.1h0M185.6 1302.7h0M181.0 1317.8h0M138.2 1242.4h0M205.7 1217.9h0M190.8 1238.4h0M108.9 1256.0h0M156.6 1332.1h0M209.0 1273.2h0M198.2 1288.4h0M115.1 1283.2h0M216.4 1325.7h0"/><path id="d3_4" d="M228.3 1242.9h0M188.9 1296.7h0M162.7 1315.1h0M98.6 1254.1h0M194.5 1281.6h0M185.9 1339.6h0M106.1 1281.9h0M160.2 1236.5h0M111.7 1242.4h0M173.0 1353.0h0M180.5 1300.1h0M87.3 1277.9h0M180.6 1278.5h0M111.6 1300.4h0M174.6 1354.6h0M110.1 1249.6h0M177.7 1311.2h0M193.5 1242.4h0M130.8 1320.6h0M145.3 1329.9h0M141.1 1234.2h0M194.2 1243.4h0M183.4 1224.5h0M96.6 1320.3h0"/><clipPath id="pc4"><rect x="269.2" y="1177.9" width="201.6" height="201.3"/></clipPath><path id="d4_0" d="M400.0 1318.1h0M424.8 1292.5h0M307.6 1232.3h0M387.8 1208.5h0M308.4 1328.7h0M366.8 1235.0h0M420.4 1295.3h0M315.9 1332.0h0M318.0 1252.9h0M346.2 1327.4h0M354.3 1338.3h0M354.0 1316.6h0M416.4 1244.7h0M373.0 1219.6h0M396.4 1354.2h0M423.5 1254.0h0M375.2 1305.9h0M428.5 1329.4h0M439.7 1256.0h0M354.1 1214.3h0M303.9 1250.1h0M350.9 1290.8h0M424.4 1311.1h0M317.7 1277.1h0M413.3 1310.1h0M324.7 1234.3h0M334.0 1299.8h0M391.1 1352.7h0M441.8 1297.2h0M374.1 1234.5h0M425.6 1269.4h0"/><path id="d4_1" d="M332.8 1321.8h0M422.3 1320.4h0M358.2 1250.6h0M404.9 1259.6h0M353.8 1275.6h0M379.1 1322.1h0M376.8 1248.5h0M333.7 1312.0h0M352.1 1300.7h0M351.2 1214.9h0M404.8 1276.2h0M416.2 1283.2h0M309.3 1232.8h0M356.7 1258.1h0M356.3 1208.7h0M379.0 1313.9h0M402.2 1226.6h0M371.9 1301.7h0M347.7 1295.4h0M402.4 1315.0h0M346.9 1238.0h0M339.6 1285.9h0M425.8 1248.9h0M393.1 1244.7h0M367.1 1276.7h0M366.4 1292.5h0M403.1 1276.3h0M336.7 1210.8h0M368.0 1270.2h0M380.0 1306.6h0M436.4 1264.7h0M333.6 1317.9h0"/><path id="d4_2" d="M363.9 1314.8h0M405.5 1298.8h0M317.8 1301.1h0M409.1 1223.5h0M409.2 1232.7h0M430.0 1249.4h0M303.3 1267.5h0M326.8 1255.8h0M354.7 1357.8h0M367.0 1261.0h0M428.4 1235.6h0M361.3 1209.9h0M358.1 1325.1h0M341.6 1272.0h0M343.1 1223.0h0M380.5 1302.0h0M367.8 1256.7h0M390.2 1214.7h0M439.9 1261.9h0M343.8 1233.7h0M323.8 1282.6h0M352.2 1293.7h0M415.3 1282.0h0M411.2 1342.3h0M354.1 1335.2h0M361.1 1333.9h0M422.9 1273.4h0M384.7 1297.6h0"/><path id="d4_3" d="M348.7 1304.6h0M358.9 1277.8h0M415.2 1319.4h0M397.7 1321.6h0M361.5 1257.9h0M330.5 1278.5h0M347.4 1254.9h0M319.4 1330.0h0M348.3 1274.3h0M315.7 1273.0h0M347.0 1284.2h0M334.2 1352.8h0M322.5 1320.5h0M351.7 1301.2h0M323.0 1253.3h0M400.4 1216.4h0M350.7 1296.9h0M369.0 1311.5h0"/><path id="d4_4" d="M291.4 1266.7h0M415.1 1298.9h0M367.0 1329.3h0M313.0 1321.7h0M342.2 1285.8h0M417.2 1273.3h0"/><clipPath id="pc5"><rect x="480.3" y="1178.3" width="200.5" height="200.6"/></clipPath><path id="d5_0" d="M573.8 1347.8h0M613.3 1339.4h0M623.6 1302.8h0M524.5 1265.9h0M614.7 1277.0h0M579.2 1350.0h0M633.5 1234.6h0M620.5 1328.7h0M525.9 1280.2h0M593.2 1313.1h0M599.0 1280.3h0M596.2 1333.7h0M562.1 1253.9h0M527.9 1277.0h0M516.1 1287.1h0M627.1 1276.5h0M557.1 1266.0h0M603.6 1205.8h0M521.6 1306.8h0M531.8 1333.9h0M644.4 1279.6h0M610.0 1275.9h0M516.6 1276.1h0M533.8 1227.9h0M620.2 1217.9h0M608.9 1274.8h0M561.8 1282.0h0M537.0 1236.7h0M614.4 1211.3h0M546.3 1315.9h0M582.5 1237.1h0"/><path id="d5_1" d="M550.8 1349.4h0M622.1 1274.7h0M541.8 1304.6h0M514.2 1281.4h0M552.9 1306.2h0M522.5 1242.4h0M535.3 1306.7h0M521.9 1328.5h0M532.6 1250.3h0M613.9 1338.7h0M512.1 1289.2h0M517.7 1231.1h0M498.4 1269.4h0M614.4 1251.8h0M566.5 1266.0h0M624.4 1255.2h0M543.6 1316.0h0M516.6 1283.3h0M642.9 1280.7h0M585.3 1284.8h0M584.3 1311.5h0M540.9 1227.3h0M561.9 1315.9h0M543.7 1315.2h0M555.4 1272.4h0M576.9 1285.0h0M634.8 1274.4h0M567.1 1286.9h0"/><path id="d5_2" d="M530.9 1250.9h0M567.5 1336.9h0M498.7 1285.1h0M548.8 1333.7h0M560.2 1206.5h0M533.5 1277.9h0M581.2 1247.0h0M535.9 1298.1h0M603.9 1258.9h0M548.1 1239.6h0M602.1 1226.8h0M576.5 1229.4h0M564.7 1256.9h0M515.6 1299.8h0M558.4 1331.5h0M594.7 1337.2h0M540.8 1292.4h0M549.9 1334.3h0M541.4 1226.9h0M627.7 1308.6h0M578.3 1350.8h0M596.4 1249.3h0"/><path id="d5_3" d="M557.4 1275.0h0M558.2 1255.6h0M529.2 1323.8h0M535.2 1229.0h0M530.7 1329.4h0M589.8 1314.9h0M499.2 1263.0h0M524.7 1299.0h0M632.8 1233.7h0M616.6 1274.0h0M530.5 1258.0h0"/><path id="d5_4" d="M577.7 1293.8h0M598.5 1310.9h0M607.0 1291.6h0"/><clipPath id="pc6"><rect x="118.9" y="1540.3" width="253.2" height="252.7"/></clipPath><path id="d6_0" d="M327.1 1615.5h0M323.1 1627.2h0M245.7 1605.7h0M297.9 1677.1h0M299.2 1613.5h0M212.5 1738.8h0M223.3 1689.6h0M179.3 1624.1h0M166.1 1676.6h0M247.3 1760.1h0M233.5 1568.9h0M248.3 1727.2h0M303.6 1739.2h0M224.5 1578.7h0M161.9 1689.4h0M247.0 1696.2h0M242.6 1676.5h0M216.9 1734.2h0M280.5 1670.6h0M189.8 1743.3h0M318.7 1724.3h0M225.1 1740.8h0M244.8 1633.4h0M193.7 1690.1h0M256.1 1637.3h0M263.5 1597.8h0M221.9 1639.5h0M291.4 1624.8h0M335.6 1679.0h0M288.9 1623.7h0M239.3 1583.8h0M289.5 1595.2h0M274.1 1656.9h0M165.6 1698.0h0M305.3 1713.5h0M166.7 1682.3h0M168.0 1705.0h0M303.5 1643.9h0M258.1 1724.5h0M180.7 1638.5h0M192.1 1648.3h0M268.7 1723.8h0M227.0 1746.8h0M301.6 1588.7h0M243.4 1744.5h0M236.7 1737.8h0M206.5 1665.9h0M260.2 1587.2h0M236.5 1685.3h0M312.9 1715.7h0M222.3 1654.8h0M153.8 1695.6h0M223.9 1639.4h0M281.8 1668.1h0M263.5 1642.8h0M240.9 1651.3h0M275.9 1742.6h0M189.3 1742.0h0M265.0 1593.8h0M321.4 1628.6h0M158.1 1686.4h0M255.7 1576.2h0M258.7 1704.6h0M180.9 1657.5h0M314.2 1673.5h0M249.2 1682.7h0M260.8 1761.4h0M292.5 1583.9h0M335.7 1698.0h0M208.7 1668.4h0M241.1 1653.4h0M260.3 1656.1h0M208.4 1676.3h0M196.0 1614.9h0M199.9 1691.2h0M280.2 1708.9h0M154.3 1649.3h0M299.0 1630.0h0M291.8 1721.4h0M222.6 1579.9h0M233.0 1733.2h0M265.7 1736.5h0M234.0 1756.3h0M182.8 1731.3h0M193.5 1630.4h0M243.9 1603.1h0M257.3 1661.4h0M331.3 1681.1h0M271.4 1742.2h0M323.9 1687.8h0M214.7 1683.6h0M292.4 1605.9h0M241.8 1589.4h0M286.5 1722.4h0M245.6 1717.4h0M199.6 1603.7h0M190.8 1632.9h0M281.4 1619.4h0M237.4 1598.9h0M267.7 1638.7h0M272.4 1598.3h0M161.4 1708.8h0M206.1 1598.3h0M179.7 1704.1h0M245.7 1625.2h0M239.2 1704.8h0M193.4 1708.0h0M195.6 1619.3h0M309.7 1642.6h0M231.2 1603.7h0M247.1 1752.4h0M193.9 1644.2h0M245.3 1723.0h0M247.6 1716.9h0M199.5 1732.1h0M274.0 1579.1h0M205.2 1633.4h0M200.9 1699.5h0M233.9 1687.9h0M303.3 1593.1h0M218.2 1588.0h0M223.6 1581.8h0M253.8 1681.2h0M203.5 1701.4h0M207.8 1622.1h0M223.6 1749.3h0M171.9 1607.1h0M307.2 1633.4h0M284.0 1628.4h0M248.2 1591.1h0M285.7 1588.6h0M209.3 1705.2h0M238.7 1688.2h0M164.8 1690.9h0M279.9 1682.0h0M243.7 1565.7h0M201.8 1652.8h0M275.0 1701.9h0M249.4 1754.4h0M173.8 1664.5h0M196.1 1637.9h0M325.9 1716.4h0M317.5 1613.2h0M263.0 1719.3h0M287.0 1625.9h0M184.2 1709.4h0M178.1 1641.2h0M233.3 1657.5h0"/><path id="d6_1" d="M286.7 1659.3h0M239.7 1709.4h0M175.7 1592.5h0M252.6 1644.6h0M258.2 1664.5h0M171.9 1714.9h0M207.6 1617.8h0M334.0 1690.0h0M284.1 1743.8h0M240.6 1573.3h0M221.7 1575.9h0M284.7 1625.6h0M222.0 1650.6h0M228.5 1673.4h0M341.3 1667.0h0M290.8 1646.8h0M229.1 1620.7h0M195.1 1726.1h0M284.7 1634.8h0M191.3 1596.0h0M260.7 1709.4h0M244.0 1703.4h0M281.4 1724.9h0M303.7 1677.4h0M212.8 1581.7h0M167.4 1687.0h0M307.5 1709.6h0M199.5 1687.2h0M176.5 1720.5h0M338.4 1687.5h0M228.5 1593.0h0M281.1 1594.7h0M277.9 1660.9h0M239.8 1687.6h0M233.4 1669.9h0M193.9 1730.6h0M279.6 1582.3h0M206.9 1700.3h0M189.4 1671.3h0M200.7 1597.7h0M227.9 1623.1h0M285.1 1717.6h0M247.7 1657.5h0M280.6 1620.3h0M201.7 1682.3h0M277.6 1599.0h0M169.3 1715.5h0M264.3 1586.9h0M306.8 1608.9h0M220.7 1624.7h0M162.2 1630.9h0M195.4 1690.0h0M146.5 1679.4h0M321.9 1707.3h0M307.7 1689.6h0M254.5 1628.3h0M188.9 1606.4h0M163.3 1628.5h0M276.5 1576.6h0M243.1 1668.4h0M160.4 1624.0h0M209.5 1595.0h0M264.3 1663.9h0M211.3 1641.9h0M309.1 1590.8h0M330.7 1643.9h0M196.6 1579.5h0M229.0 1693.0h0M270.9 1620.7h0M202.9 1666.6h0M198.3 1670.7h0M258.5 1712.3h0M239.9 1640.8h0M252.1 1642.7h0M303.3 1595.9h0M253.8 1657.7h0M176.1 1688.2h0M332.1 1638.0h0M173.7 1650.8h0M277.2 1689.7h0M175.4 1628.9h0M173.8 1664.0h0M326.6 1629.9h0M277.7 1610.0h0M246.9 1721.8h0M243.8 1760.0h0M191.5 1723.6h0M219.6 1674.9h0M231.8 1650.0h0M231.4 1745.0h0M174.5 1598.6h0M235.2 1734.8h0M233.7 1698.9h0M162.4 1684.6h0M167.3 1679.3h0M252.1 1712.3h0M169.6 1668.3h0M304.2 1689.3h0M223.2 1697.6h0M248.6 1579.1h0M169.0 1619.8h0M156.0 1621.8h0M185.1 1682.3h0M221.0 1745.5h0M188.2 1713.3h0M294.9 1593.1h0M269.9 1724.7h0M269.1 1650.2h0M316.1 1663.5h0M215.2 1598.9h0M194.4 1631.1h0M200.4 1578.0h0M221.5 1686.4h0M146.5 1672.4h0M321.6 1662.4h0M190.2 1660.4h0M319.6 1685.1h0M177.4 1641.4h0M258.4 1691.8h0M231.3 1609.3h0M161.5 1617.8h0M282.4 1625.4h0M188.9 1711.9h0M312.9 1710.0h0M306.3 1729.4h0M233.3 1606.3h0M253.4 1734.0h0M233.7 1629.8h0M163.3 1615.2h0M309.7 1728.8h0M268.1 1630.7h0M183.9 1664.2h0M236.1 1629.9h0M195.4 1729.1h0M233.5 1637.0h0M284.1 1588.9h0M271.4 1654.5h0M180.9 1599.3h0M236.0 1642.4h0M237.2 1753.0h0M180.1 1590.1h0M289.5 1682.3h0M262.5 1724.9h0M245.9 1712.5h0M304.2 1638.4h0M177.6 1617.3h0M188.1 1675.3h0M210.8 1666.6h0M188.4 1585.9h0M289.9 1590.6h0M239.0 1574.2h0M262.8 1626.4h0M186.4 1645.3h0M285.8 1734.6h0M165.0 1704.0h0M163.2 1656.9h0M202.1 1609.4h0M224.8 1625.5h0M228.0 1639.8h0M178.1 1702.2h0M275.8 1637.5h0M264.9 1639.0h0M213.4 1658.4h0M300.2 1713.2h0M309.9 1701.0h0M258.7 1636.6h0M245.4 1688.0h0M229.1 1612.0h0"/><path id="d6_2" d="M280.0 1648.8h0M289.2 1746.1h0M210.4 1657.9h0M284.9 1621.8h0M195.3 1722.2h0M272.7 1723.3h0M322.2 1656.4h0M254.2 1679.0h0M248.5 1699.9h0M236.9 1655.9h0M330.5 1671.1h0M166.2 1660.9h0M243.3 1606.9h0M175.6 1693.1h0M236.5 1735.6h0M323.7 1635.2h0M283.9 1637.7h0M279.7 1606.9h0M158.7 1699.5h0M259.6 1668.6h0M217.6 1589.8h0M233.2 1713.4h0M285.2 1607.8h0M193.7 1735.8h0M244.5 1667.7h0M214.7 1581.2h0M177.5 1651.1h0M253.0 1599.4h0M286.0 1657.6h0M304.5 1658.1h0M179.8 1707.7h0M158.0 1704.5h0M304.8 1606.7h0M293.1 1598.0h0M223.3 1579.0h0M177.6 1706.4h0M282.4 1751.5h0M300.8 1706.6h0M179.5 1715.5h0M275.3 1583.1h0M184.7 1741.8h0M318.2 1614.0h0M261.5 1631.9h0M247.2 1701.5h0M258.5 1588.5h0M225.7 1643.7h0M230.5 1653.7h0M239.8 1646.4h0M176.1 1653.4h0M226.4 1717.4h0M281.4 1643.8h0M185.8 1612.5h0M175.4 1617.3h0M256.0 1632.6h0M316.4 1707.0h0M292.1 1653.2h0M253.9 1665.3h0M173.8 1692.5h0M267.5 1660.3h0M199.0 1742.7h0M291.3 1578.9h0M219.2 1608.5h0M275.4 1578.7h0M242.1 1709.3h0M172.6 1674.8h0M189.4 1727.2h0M221.7 1640.4h0M238.0 1738.7h0M304.4 1643.0h0M270.6 1673.3h0M330.3 1701.4h0M197.2 1644.5h0M221.3 1579.3h0M323.3 1632.3h0M198.0 1634.9h0M273.5 1702.2h0M295.7 1584.4h0M287.1 1680.6h0M262.1 1649.8h0M267.2 1678.9h0M172.4 1710.6h0M203.7 1747.4h0M301.5 1641.8h0M323.9 1630.6h0M225.3 1714.2h0M282.5 1602.4h0M215.6 1758.7h0M288.9 1652.4h0M154.2 1654.3h0M304.5 1601.4h0M209.8 1647.1h0M253.2 1667.3h0M304.7 1630.8h0M261.1 1703.4h0M212.7 1746.7h0M268.0 1666.2h0M234.1 1736.7h0M209.7 1612.9h0M305.9 1715.3h0M296.3 1630.2h0M294.6 1673.9h0M188.9 1737.3h0M161.3 1625.6h0M197.5 1684.2h0M280.9 1695.8h0M282.4 1641.1h0M209.1 1575.1h0M326.6 1687.7h0M233.6 1629.0h0M326.6 1653.9h0M185.0 1589.4h0M290.1 1747.4h0M267.3 1725.5h0M190.0 1686.0h0M192.9 1683.1h0M232.6 1642.6h0M227.2 1592.6h0M276.9 1662.3h0M283.1 1654.1h0M300.3 1730.3h0"/><path id="d6_3" d="M306.7 1737.2h0M232.3 1566.1h0M228.7 1756.9h0M205.9 1663.8h0M178.5 1659.1h0M223.6 1640.9h0M295.2 1680.6h0M263.4 1759.5h0M312.4 1701.0h0M281.3 1583.2h0M260.6 1645.5h0M275.8 1671.4h0M184.0 1597.7h0M258.5 1735.3h0M203.5 1721.4h0M275.1 1711.2h0M209.2 1672.6h0M251.3 1625.4h0M240.9 1617.4h0M257.4 1734.8h0M188.1 1735.8h0M276.9 1712.0h0M286.9 1741.0h0M265.6 1573.3h0M164.4 1696.4h0M175.6 1647.1h0M205.7 1600.3h0M173.0 1671.1h0M262.9 1586.4h0M246.3 1645.5h0M188.9 1723.1h0M202.5 1613.8h0M191.8 1630.6h0M223.6 1579.4h0M162.5 1684.7h0M286.0 1737.4h0M257.3 1604.4h0M193.8 1688.2h0M274.0 1594.9h0M253.6 1646.7h0M303.5 1618.8h0M154.1 1688.2h0M213.4 1704.5h0M307.5 1593.2h0M207.8 1720.6h0M288.7 1722.4h0M342.0 1663.1h0M235.8 1694.3h0M340.9 1674.2h0M223.1 1589.5h0M235.8 1630.7h0M309.7 1714.3h0M308.3 1656.6h0M281.0 1577.5h0M310.0 1605.1h0M279.4 1680.4h0M182.8 1610.0h0M220.8 1579.5h0M203.3 1684.3h0M177.1 1631.0h0M298.7 1656.8h0M297.9 1709.7h0M241.3 1670.1h0M175.3 1605.7h0M262.2 1655.6h0M288.1 1631.3h0M261.5 1682.0h0M275.0 1692.3h0M301.9 1664.7h0M206.1 1728.6h0M215.8 1631.7h0M191.7 1610.5h0M312.3 1617.6h0M246.2 1659.9h0M172.5 1597.9h0M218.5 1674.3h0M175.8 1599.9h0M307.9 1627.5h0"/><path id="d6_4" d="M235.2 1752.4h0M201.5 1593.3h0M217.5 1718.5h0M255.5 1665.2h0M190.5 1693.9h0M197.1 1747.9h0M191.8 1662.2h0M302.5 1721.0h0M288.9 1707.0h0M279.0 1720.2h0M314.3 1726.2h0M220.6 1661.8h0M252.6 1675.3h0M178.1 1693.2h0M214.9 1645.1h0M291.2 1586.9h0M278.7 1590.0h0M197.0 1725.6h0M165.3 1648.6h0M162.3 1617.9h0M199.8 1631.5h0M266.4 1718.9h0M268.7 1757.9h0M188.8 1678.1h0M306.0 1593.6h0M194.7 1641.0h0"/><clipPath id="pc7"><rect x="386.4" y="1540.3" width="253.6" height="252.7"/></clipPath><path id="d7_0" d="M465.9 1681.8h0M519.7 1673.6h0M432.6 1632.2h0M460.1 1652.4h0M533.8 1639.8h0M469.9 1689.6h0M533.3 1608.6h0M553.4 1754.8h0M499.4 1610.6h0M491.0 1678.9h0M567.9 1600.6h0M516.0 1631.9h0M432.9 1703.0h0M610.3 1688.7h0M486.9 1593.1h0M419.8 1640.1h0M423.7 1631.7h0M465.7 1688.2h0M431.7 1637.3h0M588.6 1725.0h0M589.6 1680.6h0M472.0 1695.4h0M521.1 1592.9h0M557.6 1752.6h0M487.2 1744.8h0M467.2 1714.8h0M486.7 1713.5h0M583.7 1734.5h0M481.1 1613.6h0M539.8 1730.9h0M558.2 1632.3h0M490.2 1746.8h0M564.2 1714.4h0M518.5 1763.4h0M498.9 1728.6h0M579.0 1610.6h0M608.7 1641.1h0M597.2 1686.7h0M518.3 1690.1h0M559.9 1614.4h0M573.2 1723.6h0M488.4 1688.6h0M471.8 1641.5h0M492.3 1753.8h0M447.2 1646.9h0M571.6 1619.8h0M584.2 1676.0h0M484.9 1750.7h0M523.4 1611.0h0M563.4 1708.1h0M479.0 1690.9h0M559.5 1742.4h0M538.4 1602.2h0M595.1 1615.3h0M449.7 1611.9h0M586.2 1596.6h0M548.3 1629.3h0M575.3 1666.3h0M432.8 1670.4h0M443.1 1633.8h0M468.2 1704.4h0M464.9 1640.0h0M457.9 1739.4h0M522.4 1653.4h0M426.8 1639.1h0M501.7 1709.9h0M429.8 1642.9h0M509.2 1613.2h0M533.3 1736.9h0M449.6 1668.9h0M585.0 1650.7h0M537.1 1691.1h0M587.6 1620.6h0M487.6 1604.0h0M552.0 1677.2h0M431.4 1692.1h0M577.1 1664.3h0M461.5 1644.7h0M537.6 1615.8h0M518.2 1729.1h0M434.9 1710.3h0M606.2 1690.2h0M472.8 1597.9h0M476.3 1692.0h0M421.3 1649.2h0M587.7 1696.1h0M485.6 1645.6h0M486.0 1708.1h0M562.0 1749.8h0M443.4 1628.1h0M484.5 1739.1h0M522.1 1692.4h0M526.7 1655.5h0M560.5 1731.4h0M605.2 1657.6h0M571.1 1740.9h0M545.0 1721.9h0M536.2 1745.4h0M425.8 1673.0h0M439.8 1617.4h0M476.9 1711.3h0M441.6 1715.0h0M440.0 1638.3h0M544.8 1748.5h0M570.4 1688.3h0M438.1 1727.1h0M495.7 1700.7h0M529.9 1702.1h0M431.3 1624.2h0M510.0 1738.7h0M568.3 1737.8h0M561.6 1654.0h0M499.1 1604.9h0M508.4 1670.8h0M446.1 1640.5h0M494.7 1572.6h0M606.7 1630.7h0M524.3 1565.4h0M544.9 1591.4h0M613.7 1657.1h0M547.9 1591.9h0M464.9 1727.4h0M418.7 1655.0h0M537.7 1735.3h0M588.9 1608.5h0M476.1 1585.9h0M477.4 1648.3h0M574.7 1680.8h0M546.7 1578.7h0M563.0 1593.3h0M598.4 1683.5h0M539.0 1682.4h0M495.2 1757.3h0M509.5 1734.6h0M536.7 1595.0h0M497.1 1631.8h0M569.4 1600.2h0M579.7 1617.7h0M516.0 1684.6h0M580.1 1689.2h0M476.3 1733.3h0M415.9 1643.0h0M556.7 1737.7h0M548.9 1721.2h0M611.4 1669.7h0M605.0 1674.5h0M530.1 1642.4h0M516.1 1738.3h0M581.8 1655.3h0M475.2 1679.4h0M491.7 1599.0h0M510.4 1674.4h0M451.6 1733.4h0M553.3 1642.8h0M553.9 1619.5h0M564.2 1716.3h0M486.9 1586.3h0M441.9 1636.1h0M590.5 1712.9h0M536.3 1715.9h0M508.7 1764.3h0M482.9 1619.1h0M505.9 1671.4h0M574.7 1619.4h0M456.3 1653.1h0M537.1 1637.1h0M430.6 1634.7h0M525.7 1684.7h0M570.6 1593.5h0M539.9 1602.9h0M529.8 1726.7h0M458.2 1611.7h0M470.7 1630.2h0"/><path id="d7_1" d="M453.7 1682.5h0M446.4 1693.8h0M507.8 1570.8h0M448.2 1605.5h0M555.4 1590.8h0M539.8 1749.4h0M581.6 1606.6h0M545.4 1745.8h0M535.0 1635.5h0M525.4 1737.1h0M524.7 1587.5h0M478.3 1590.4h0M504.0 1658.0h0M505.7 1602.9h0M525.5 1686.6h0M452.1 1632.7h0M540.0 1677.6h0M513.2 1651.0h0M512.4 1674.4h0M491.7 1735.2h0M518.5 1725.5h0M504.8 1603.1h0M439.6 1607.7h0M505.7 1603.4h0M565.6 1627.5h0M583.6 1640.7h0M441.5 1622.3h0M564.0 1592.7h0M483.1 1680.4h0M505.2 1642.5h0M476.1 1657.1h0M500.9 1735.4h0M595.3 1710.6h0M508.0 1688.7h0M510.6 1660.5h0M494.2 1631.5h0M440.5 1656.8h0M543.2 1724.4h0M543.3 1621.8h0M574.9 1588.1h0M501.1 1661.0h0M434.5 1701.1h0M531.7 1693.6h0M582.9 1665.4h0M518.6 1584.2h0M497.0 1704.8h0M567.1 1610.7h0M544.3 1609.4h0M508.8 1715.9h0M448.9 1738.0h0M449.6 1682.8h0M554.5 1673.5h0M597.0 1716.8h0M464.0 1642.9h0M473.1 1715.1h0M449.3 1623.6h0M474.9 1680.9h0M512.5 1571.5h0M450.2 1694.6h0M476.7 1719.3h0M586.4 1615.6h0M578.6 1731.3h0M512.6 1658.1h0M526.7 1599.2h0M573.9 1601.2h0M549.4 1706.2h0M591.0 1621.3h0M514.1 1747.2h0M555.0 1589.1h0M448.3 1638.0h0M507.2 1705.3h0M552.3 1742.8h0M533.9 1728.8h0M537.9 1684.4h0M521.5 1628.5h0M473.7 1721.5h0M477.1 1708.6h0M550.7 1746.5h0M454.2 1724.2h0M465.6 1694.3h0M551.6 1678.0h0M537.5 1627.2h0M499.9 1585.1h0M549.9 1641.2h0M455.4 1716.9h0M570.2 1660.8h0M481.3 1755.2h0M499.3 1564.7h0M416.6 1688.2h0M534.8 1736.6h0M585.8 1656.2h0M523.9 1743.1h0M568.3 1738.6h0M523.7 1591.2h0M542.3 1638.0h0M596.9 1718.2h0M462.6 1744.3h0M513.2 1709.2h0M489.3 1703.2h0M597.6 1698.1h0M535.4 1578.7h0M598.3 1705.3h0M477.5 1696.4h0M499.6 1701.8h0M436.2 1630.0h0M542.5 1759.3h0M457.0 1720.1h0M612.1 1681.8h0M490.2 1675.3h0M487.5 1751.7h0M551.7 1699.0h0M499.3 1730.5h0M605.3 1665.4h0M559.0 1595.1h0M475.0 1609.3h0M572.5 1593.5h0M489.0 1757.3h0M548.1 1689.6h0M533.4 1746.0h0M428.4 1616.0h0M482.5 1639.8h0M457.2 1679.0h0M508.8 1760.1h0M453.4 1711.7h0M601.0 1616.9h0M524.5 1748.6h0M544.5 1658.3h0M539.9 1733.3h0M576.0 1629.4h0M449.2 1674.4h0M476.2 1605.8h0M526.5 1718.5h0M520.9 1573.6h0M468.3 1679.9h0M533.2 1700.7h0M573.3 1607.4h0M460.7 1725.6h0M485.9 1572.0h0M612.0 1651.3h0M584.5 1728.2h0M465.2 1636.4h0M522.7 1611.3h0M553.7 1690.2h0M556.5 1663.6h0M539.6 1718.9h0M456.6 1736.4h0M463.8 1627.6h0M436.6 1607.6h0M517.9 1665.1h0M541.0 1589.8h0M547.0 1647.9h0M442.5 1662.6h0M528.5 1660.2h0M517.3 1705.9h0M552.0 1600.7h0M565.7 1731.2h0M532.9 1728.5h0M512.1 1737.6h0M512.2 1681.6h0M556.3 1741.2h0M588.5 1618.6h0M491.9 1568.1h0M488.6 1615.9h0M552.2 1654.6h0M424.5 1626.0h0M516.1 1653.2h0M491.8 1684.1h0M566.2 1727.7h0M429.1 1654.4h0M546.3 1750.0h0M575.1 1584.5h0M427.6 1644.4h0M583.2 1653.3h0M491.0 1699.5h0M515.1 1593.9h0M552.3 1708.6h0M559.2 1617.4h0M597.2 1656.4h0M592.7 1658.8h0M514.3 1715.2h0M583.3 1656.4h0M496.7 1666.2h0M441.8 1609.2h0M532.6 1731.7h0M531.9 1681.2h0M490.6 1681.0h0M466.0 1655.6h0M461.5 1715.9h0M569.5 1737.3h0M500.9 1748.0h0M570.9 1588.3h0M559.4 1716.9h0M540.9 1590.0h0M485.4 1754.8h0M530.6 1619.3h0M570.8 1646.0h0M462.7 1586.9h0M557.8 1679.3h0M551.0 1586.8h0M516.5 1585.3h0M452.7 1615.8h0M532.9 1589.9h0M581.3 1645.2h0M569.1 1586.1h0M579.8 1604.2h0"/><path id="d7_2" d="M447.3 1632.5h0M459.2 1660.6h0M437.8 1603.2h0M496.6 1632.7h0M497.0 1749.1h0M535.4 1760.3h0M431.3 1663.3h0M556.6 1735.6h0M543.2 1667.4h0M465.9 1600.7h0M531.7 1688.2h0M466.4 1654.8h0M504.6 1722.5h0M543.8 1751.8h0M491.3 1719.4h0M518.9 1595.9h0M601.1 1632.4h0M532.8 1620.7h0M585.4 1713.3h0M483.6 1713.5h0M517.0 1664.9h0M553.9 1641.2h0M601.5 1638.6h0M509.9 1662.7h0M550.0 1607.0h0M456.6 1588.9h0M526.4 1756.3h0M612.3 1646.5h0M516.0 1695.3h0M579.2 1692.1h0M435.7 1633.1h0M612.8 1668.2h0M416.9 1682.7h0M450.4 1711.7h0M570.3 1740.9h0M611.5 1652.0h0M484.4 1651.8h0M523.2 1691.8h0M601.8 1672.4h0M469.1 1597.2h0M423.6 1626.6h0M562.6 1662.0h0M570.2 1616.4h0M492.4 1677.2h0M527.8 1655.2h0M432.1 1671.4h0M510.9 1698.2h0M493.1 1570.2h0M467.2 1717.8h0M569.0 1727.2h0M472.6 1657.5h0M575.3 1732.3h0M501.5 1732.1h0M436.6 1686.1h0M515.7 1697.7h0M492.9 1686.9h0M540.6 1580.7h0M566.4 1674.4h0M526.5 1641.7h0M587.5 1702.4h0M522.0 1750.1h0M469.3 1644.2h0M534.4 1693.5h0M593.5 1640.6h0M447.7 1606.8h0M569.5 1598.1h0M555.9 1751.5h0M471.6 1697.5h0M536.1 1730.1h0M526.2 1659.3h0M539.6 1627.4h0M515.0 1746.1h0M464.9 1712.0h0M482.7 1596.8h0M526.3 1733.2h0M448.5 1666.1h0M453.4 1680.9h0M449.8 1589.4h0M442.3 1723.5h0M582.5 1712.4h0M499.8 1653.7h0M609.2 1682.6h0M585.2 1622.3h0M581.3 1598.2h0M457.3 1657.5h0M541.9 1751.9h0M448.3 1724.6h0M464.9 1706.4h0M479.1 1748.3h0M494.2 1749.1h0M433.1 1623.3h0M562.0 1618.3h0M568.3 1689.3h0M506.1 1685.6h0M563.2 1618.1h0M443.5 1631.5h0M503.9 1668.8h0M440.3 1677.3h0M523.4 1762.0h0M513.5 1662.6h0M609.9 1665.5h0M570.1 1625.1h0M501.6 1615.7h0M449.9 1738.6h0M543.0 1697.7h0M430.8 1623.3h0M546.9 1601.5h0M504.2 1574.8h0M511.2 1564.3h0M592.2 1701.7h0M576.5 1731.2h0M460.2 1660.0h0M430.4 1675.3h0M457.8 1637.6h0M558.3 1688.1h0M570.3 1661.1h0M593.0 1623.7h0M608.5 1641.2h0M435.0 1648.2h0M566.3 1702.1h0M501.2 1568.5h0M535.5 1684.5h0M451.9 1616.8h0M478.8 1721.1h0M540.3 1690.6h0M503.4 1618.9h0M444.2 1671.5h0M523.6 1686.5h0M487.0 1674.3h0M479.8 1756.4h0M566.3 1729.2h0M454.9 1739.8h0M522.0 1687.8h0M447.0 1664.0h0M416.5 1636.4h0M598.5 1666.7h0M502.6 1696.1h0M479.9 1651.6h0M609.2 1676.8h0M535.7 1598.1h0M532.9 1759.3h0M417.4 1690.7h0M421.4 1656.8h0M529.0 1637.0h0M581.7 1737.0h0M532.9 1630.0h0M460.3 1650.5h0M601.6 1659.1h0M530.3 1758.7h0M516.6 1724.9h0M497.7 1587.3h0M438.7 1643.3h0M447.2 1617.2h0M547.1 1591.6h0M468.7 1721.4h0M596.6 1709.4h0M458.3 1657.0h0M587.0 1670.1h0"/><path id="d7_3" d="M567.0 1708.3h0M533.1 1611.8h0M570.2 1657.4h0M496.7 1610.3h0M475.9 1756.0h0M558.5 1719.6h0M436.1 1608.3h0M450.1 1657.9h0M500.2 1609.2h0M522.0 1635.7h0M414.4 1645.8h0M571.5 1662.3h0M550.9 1585.8h0M516.6 1724.2h0M528.8 1664.1h0M541.1 1706.1h0M492.2 1605.5h0M487.1 1664.2h0M454.8 1634.6h0M436.8 1718.8h0M583.2 1671.0h0M496.9 1587.6h0M444.8 1722.3h0M605.5 1686.2h0M500.9 1716.9h0M526.5 1664.4h0M443.6 1626.6h0M484.4 1620.4h0M510.8 1737.4h0M546.6 1714.5h0M472.6 1717.6h0M547.6 1634.3h0M564.7 1612.5h0M529.3 1589.5h0M435.3 1660.8h0M515.1 1725.1h0M606.7 1632.6h0M548.5 1749.0h0M496.0 1566.5h0M564.9 1684.4h0M556.4 1663.0h0M447.0 1656.0h0M449.6 1644.3h0M552.5 1619.4h0M424.0 1676.2h0M543.3 1741.0h0M544.0 1702.3h0M525.3 1583.5h0M575.9 1704.1h0M497.7 1625.7h0M451.4 1623.9h0M472.0 1676.3h0M596.8 1627.1h0M485.9 1687.7h0M451.2 1738.0h0M563.1 1714.3h0M504.3 1763.2h0M443.7 1709.8h0M514.4 1725.9h0M544.5 1689.2h0M516.3 1623.5h0M476.6 1679.1h0M478.8 1603.0h0M478.3 1638.3h0M480.2 1691.6h0M494.4 1742.4h0M438.6 1719.4h0M470.3 1698.9h0M605.1 1689.5h0M482.7 1687.3h0M609.0 1674.2h0M479.0 1731.8h0M608.7 1658.1h0M599.7 1650.0h0M611.9 1652.8h0M497.2 1719.1h0M555.2 1633.4h0M583.8 1646.8h0M523.6 1750.6h0M514.1 1664.4h0M527.7 1707.1h0M536.6 1744.6h0M522.1 1686.4h0M479.1 1676.2h0M566.4 1659.8h0M489.4 1616.3h0M441.1 1611.3h0M512.6 1618.8h0M564.3 1736.7h0M608.1 1631.4h0M498.8 1649.8h0M601.5 1678.2h0M515.6 1658.2h0M591.9 1605.7h0M549.7 1674.1h0M502.5 1703.8h0M419.9 1632.2h0M537.9 1724.8h0M458.8 1728.6h0M530.9 1743.6h0M605.3 1669.0h0M418.4 1666.7h0M474.9 1624.5h0M537.0 1635.5h0"/><path id="d7_4" d="M542.2 1721.1h0M481.3 1744.2h0M481.5 1661.5h0M468.6 1741.1h0M559.9 1673.5h0M467.3 1666.4h0M561.7 1613.2h0M500.4 1739.6h0M542.3 1638.0h0M609.2 1657.6h0M522.8 1729.5h0M576.4 1705.7h0M439.9 1666.3h0M504.4 1684.9h0M546.2 1718.7h0M446.6 1680.9h0M440.6 1695.3h0M507.4 1758.6h0M527.4 1581.0h0M527.4 1601.8h0M513.4 1651.2h0M452.2 1587.1h0M446.1 1589.7h0M425.2 1648.3h0M451.6 1714.1h0M456.8 1687.3h0M479.0 1740.2h0M458.6 1621.5h0M551.7 1665.4h0M522.1 1706.6h0M465.9 1733.1h0M500.0 1688.7h0M486.5 1618.0h0M571.7 1676.3h0M440.0 1725.5h0"/><clipPath id="pc8"><rect x="118.9" y="1804.2" width="253.2" height="252.6"/></clipPath><path id="d8_0" d="M286.1 1958.5h0M222.8 1844.8h0M281.6 1959.7h0M253.4 1917.6h0M159.7 1907.5h0M297.4 2002.2h0M253.4 1959.7h0M178.6 1946.5h0M339.3 1915.6h0M276.3 1980.3h0M266.5 1941.5h0M260.5 1995.3h0M230.4 1936.8h0M299.9 1917.6h0M314.4 1996.2h0M196.0 2011.9h0M273.4 1962.9h0M288.8 1967.1h0M278.9 1894.7h0M248.1 1938.0h0M197.3 1931.1h0M278.8 1885.5h0M192.3 1886.2h0M317.2 1975.7h0M266.6 1931.5h0M248.3 1936.0h0M249.8 1867.6h0M238.0 1962.5h0M255.5 1840.0h0M246.6 1849.2h0M186.2 1877.8h0M300.3 1863.7h0"/><path id="d8_1" d="M307.1 1936.9h0M166.9 1912.5h0M232.5 2009.3h0M277.2 2002.0h0M227.1 1871.4h0M211.7 1855.3h0M236.6 1878.7h0M178.3 1946.7h0M238.4 1968.5h0M282.4 1864.3h0M158.7 1985.2h0M238.3 1892.2h0M224.4 1947.7h0M216.0 1931.6h0M244.6 1892.1h0M275.3 1964.5h0M336.7 1909.0h0M220.4 1995.2h0M170.1 1997.4h0M195.8 1904.4h0M221.2 1912.3h0M201.7 1847.6h0M257.3 2022.8h0M245.9 2027.5h0M208.8 1868.3h0M324.5 1961.2h0M199.2 1927.5h0M250.4 1924.3h0"/><path id="d8_2" d="M293.9 1867.9h0M200.1 2008.7h0M264.2 1940.8h0M196.6 1853.9h0M187.8 1914.4h0M319.2 1909.8h0M198.4 1972.6h0M185.4 1940.8h0M283.7 1950.1h0M248.5 1864.0h0M212.5 1889.2h0M155.2 1954.0h0M321.6 1963.0h0M206.2 1907.3h0M164.5 1913.7h0M246.1 2019.0h0M337.3 1944.9h0"/><path id="d8_3" d="M275.3 2013.8h0M268.6 2030.3h0M319.7 1899.3h0M298.0 1995.9h0M242.7 1960.9h0M314.1 1966.0h0M238.4 1982.5h0M305.9 1931.1h0M308.8 1892.9h0M260.7 1847.4h0"/><path id="d8_4" d="M267.1 2000.8h0M250.7 1925.5h0M180.8 1985.0h0"/><clipPath id="pc9"><rect x="386.5" y="1804.2" width="253.5" height="252.7"/></clipPath><path id="d9_0" d="M498.2 1914.3h0M445.5 1985.1h0M499.8 1977.9h0M556.9 2014.4h0M542.4 1927.7h0M425.0 1914.7h0M436.2 1893.6h0M511.0 1998.7h0M569.5 1931.1h0M526.6 1889.8h0M555.1 1875.9h0M486.6 1852.3h0M438.2 1912.0h0M538.7 1947.6h0M516.9 1930.8h0M466.0 1915.5h0M509.6 1916.7h0M557.4 1858.4h0M479.9 1868.9h0M422.4 1906.2h0M535.1 1902.8h0M490.5 1934.9h0M441.8 1993.6h0M550.5 1912.7h0M517.1 2018.6h0M540.8 1887.1h0M427.9 1922.4h0M587.3 1902.8h0M530.7 1930.4h0M502.9 1899.4h0M521.9 1894.3h0M502.6 1856.7h0M483.6 1849.9h0M420.7 1933.9h0M574.4 1915.5h0M446.0 1952.2h0M515.2 2009.2h0M501.9 2029.5h0M521.2 1986.6h0M506.0 1989.6h0M494.2 2017.5h0M461.6 1851.4h0M531.7 1932.7h0M442.1 1871.6h0M545.5 1986.9h0M521.8 1920.8h0M612.1 1925.8h0M493.2 1841.5h0M523.4 1867.1h0M521.7 1907.0h0M572.6 2002.5h0M526.0 1941.8h0M541.7 2006.3h0M602.9 1901.4h0M580.5 1900.8h0M545.1 1877.6h0M446.6 1950.6h0M510.4 1901.7h0M560.1 1971.7h0M497.5 1919.7h0M424.7 1928.1h0M510.7 1929.6h0M588.3 1918.7h0M502.2 1964.7h0M530.2 1868.8h0M599.7 1938.6h0M563.0 1954.4h0M443.3 1876.5h0M500.4 1885.2h0M560.5 1929.7h0M494.5 1909.0h0M452.9 1957.8h0M440.9 1995.5h0M567.4 1923.4h0M443.6 1956.5h0M447.9 1885.3h0M593.7 1952.9h0M506.4 1958.7h0M430.8 1901.1h0M501.8 1969.4h0M542.0 1951.4h0M458.7 1987.2h0M520.9 1858.3h0M580.0 1937.9h0M548.5 2012.3h0M476.3 1938.5h0M507.3 1976.3h0M571.4 1890.9h0M553.3 1997.9h0M579.5 1905.2h0M458.9 1851.8h0M509.1 1981.8h0M465.5 1964.3h0M431.6 1950.4h0M458.2 1903.6h0M607.9 1959.7h0M467.8 1930.8h0M524.2 1965.8h0M576.8 1889.7h0M424.4 1905.5h0M469.0 2004.3h0M478.3 1924.0h0M570.7 2000.2h0M515.6 1837.9h0M483.3 1972.2h0M519.4 2005.6h0M539.2 1907.0h0M424.6 1940.4h0M485.1 1862.5h0M605.4 1950.0h0M468.7 1922.7h0M505.0 1986.5h0M499.4 1838.7h0M486.5 1887.0h0M454.8 1958.6h0M486.4 1901.7h0M507.6 1859.1h0M441.7 1883.4h0M562.7 2017.4h0M606.9 1918.9h0M587.3 1963.6h0M464.2 2010.9h0M463.6 2017.5h0M471.0 1903.4h0M476.7 1892.2h0M479.4 1906.4h0M580.7 1881.6h0M519.3 1971.8h0M496.8 1955.1h0M589.8 1958.3h0M593.9 1943.6h0M491.2 1977.7h0M449.1 1981.7h0M566.5 1889.0h0M457.7 1983.4h0M451.9 1918.6h0M497.4 1901.7h0M563.0 2014.2h0M588.1 1939.4h0M493.1 1990.6h0M431.3 1899.3h0M423.5 1931.7h0M590.8 1961.7h0M528.3 1967.1h0M460.4 2006.6h0M561.7 2015.0h0M485.2 1850.6h0M488.2 1855.0h0M529.8 1967.2h0M521.3 1877.5h0M557.5 1915.8h0M514.4 2020.5h0M551.1 1891.6h0M493.8 1886.8h0M432.5 1947.2h0M529.7 1835.6h0M563.5 1962.0h0M510.6 2001.4h0"/><path id="d9_1" d="M457.5 1959.9h0M550.9 1859.4h0M581.1 1887.5h0M503.0 1846.7h0M552.0 1873.0h0M587.1 1956.4h0M553.8 1992.1h0M487.9 1946.9h0M482.2 1940.7h0M443.5 1942.1h0M499.4 1867.6h0M472.1 1941.8h0M548.3 1955.7h0M497.9 1910.2h0M536.8 1947.1h0M572.4 1963.4h0M439.0 1965.7h0M457.8 1905.8h0M431.1 1914.8h0M421.2 1963.6h0M522.8 2010.9h0M607.9 1908.8h0M467.8 1993.9h0M582.8 1862.6h0M467.6 2010.0h0M466.6 1979.1h0M493.5 1890.2h0M544.4 1877.7h0M530.8 1930.7h0M557.8 1938.6h0M456.0 1922.9h0M448.0 1877.7h0M557.6 1882.0h0M544.2 1890.1h0M600.4 1964.1h0M546.1 1887.3h0M567.3 1975.7h0M545.7 1934.1h0M506.1 1989.7h0M597.3 1970.2h0M487.8 1911.8h0M440.8 1923.8h0M445.7 1967.0h0M568.6 1862.6h0M525.9 1872.8h0M587.8 1885.1h0M603.9 1926.7h0M476.6 1851.7h0M546.4 1983.3h0M518.5 1921.3h0M466.8 1962.1h0M433.8 1878.0h0M517.9 1872.3h0M501.6 1945.7h0M562.0 1886.7h0M439.9 1980.9h0M449.1 1966.1h0M554.7 1945.9h0M473.8 1981.0h0M580.2 1887.7h0M569.0 1885.3h0M578.1 2007.8h0M469.8 1919.1h0M587.2 1899.7h0M439.4 1896.8h0M469.8 1967.3h0M439.2 1882.0h0M465.0 1905.5h0M457.1 2002.0h0M559.8 1892.7h0M468.5 1954.6h0M588.0 1904.7h0M431.3 1886.1h0M427.6 1951.1h0M517.5 1934.2h0M492.8 1932.6h0M561.9 1928.0h0M588.5 1980.8h0M561.5 1894.6h0M478.1 1903.9h0M543.4 2015.4h0M570.4 1868.6h0M571.9 1993.3h0M547.0 1989.2h0M574.1 1898.9h0M596.5 1881.9h0M568.5 1996.7h0M499.5 1992.4h0M541.4 1943.7h0M419.4 1930.1h0M514.3 1924.1h0M522.1 1958.0h0M450.1 1924.6h0M513.3 1933.5h0M591.6 1958.2h0M568.1 1918.2h0M474.5 1900.5h0M542.2 1973.4h0M467.9 1964.3h0M461.7 1906.6h0M433.5 1961.7h0M503.1 1867.1h0M532.5 1971.4h0M585.4 1898.2h0M490.2 1972.8h0M567.5 1931.6h0M488.9 1849.5h0M521.1 1992.4h0M508.1 2022.3h0M559.8 2020.1h0M524.0 1870.0h0M517.1 1885.5h0M501.3 1930.4h0M581.1 1951.0h0M421.5 1928.5h0M531.4 1861.7h0M542.1 2018.0h0M430.8 1890.0h0M537.0 1950.7h0M508.5 1998.9h0M461.0 2005.4h0M560.3 1932.5h0M569.2 1871.5h0M572.5 1966.7h0M581.7 1919.0h0M599.2 1890.3h0M514.9 1947.8h0M484.9 1922.0h0M604.0 1898.1h0M525.2 1842.7h0M498.1 1937.0h0M455.5 1896.7h0M556.0 1989.7h0M498.8 1985.5h0M488.2 2020.7h0M510.3 2027.8h0M481.0 1849.4h0M436.5 1979.1h0M522.3 1996.9h0M485.0 1967.1h0M429.5 1936.2h0M536.5 2013.7h0M425.1 1915.7h0M437.1 1906.2h0M453.2 1905.6h0M560.6 1965.4h0M542.1 1905.4h0M457.9 1942.0h0M589.2 1982.3h0M470.0 1971.8h0M466.8 1963.0h0M523.6 1940.7h0M478.2 1928.2h0M416.2 1928.0h0M599.6 1964.5h0M436.9 1977.4h0M443.1 1943.4h0M569.7 1966.5h0M566.0 1967.0h0M514.5 1876.3h0M518.5 1917.5h0M486.5 1983.2h0M582.5 1880.2h0M570.4 1932.2h0M576.0 1991.8h0M489.1 1976.9h0M468.6 1934.3h0M505.0 1871.0h0M554.7 1963.2h0M587.3 1897.3h0M517.7 1889.8h0M527.2 1854.4h0M496.8 1956.8h0M462.2 1920.7h0M431.5 1883.2h0M481.9 2007.5h0M445.0 1945.7h0M514.2 2001.7h0M497.0 2011.2h0M507.2 1929.5h0M500.6 1854.1h0M542.4 1977.0h0M462.7 1988.1h0M569.1 1968.0h0M438.5 1891.8h0M447.6 1897.8h0"/><path id="d9_2" d="M502.3 1850.6h0M430.6 1882.5h0M533.1 1861.5h0M556.4 1912.5h0M505.7 2021.7h0M562.8 1979.0h0M467.4 1856.6h0M482.2 1971.5h0M478.5 1974.0h0M460.5 1970.0h0M537.3 1837.2h0M521.5 1954.6h0M509.5 1872.5h0M551.4 1848.2h0M562.5 1931.6h0M426.0 1956.8h0M468.4 2014.7h0M522.0 1942.5h0M570.1 1961.4h0M569.1 1983.4h0M452.3 1955.3h0M500.9 1911.3h0M523.9 1834.4h0M458.7 1919.2h0M497.3 2001.7h0M482.3 2019.6h0M447.9 1904.8h0M550.6 1967.2h0M465.0 1887.8h0M471.6 1967.0h0M552.8 1992.7h0M503.6 2030.0h0M581.0 1914.3h0M464.4 1906.7h0M575.2 1871.0h0M590.7 1974.5h0M496.3 1844.9h0M458.5 2003.5h0M505.2 1906.5h0M456.9 1906.0h0M433.2 1945.3h0M474.7 1862.3h0M529.6 1871.8h0M534.6 1842.4h0M538.9 2011.3h0M535.3 1951.6h0M555.2 1852.0h0M508.2 1923.7h0M424.3 1904.5h0M475.8 1956.3h0M571.7 2012.9h0M438.3 1922.5h0M494.5 1854.9h0M567.3 1852.4h0M585.1 1915.2h0M509.8 1915.0h0M482.7 1954.5h0M581.2 1910.2h0M582.4 1943.9h0M420.8 1919.1h0M461.6 1964.5h0M469.9 1993.0h0M457.6 1954.2h0M465.7 1896.0h0M493.5 2015.6h0M562.5 1995.9h0M583.2 1868.3h0M605.9 1905.0h0M425.3 1892.8h0M500.7 2031.2h0M594.0 1970.1h0M508.7 1838.7h0M539.2 1923.5h0M547.5 1886.5h0M523.1 1875.8h0M586.7 1951.5h0M486.0 1895.7h0M589.1 1892.5h0M464.5 1897.7h0M444.3 1940.4h0M511.1 1985.2h0M528.2 1863.2h0M573.0 1880.3h0M460.1 1874.2h0M579.8 1984.5h0M469.7 1956.2h0M556.1 1975.3h0M534.2 1926.3h0M493.3 1985.2h0M476.0 1996.8h0M595.2 1935.5h0M453.3 2000.6h0M587.3 2001.0h0M574.6 1890.5h0M430.0 1980.1h0M493.4 1854.7h0M535.8 1980.6h0M485.6 1922.6h0M515.4 1841.5h0M542.0 1977.2h0M520.6 1874.0h0M525.1 1916.0h0M549.5 1945.6h0M513.7 1984.4h0M448.0 1974.0h0M476.0 1951.5h0M567.6 1893.6h0M492.0 1904.3h0M512.5 2004.1h0M573.5 1955.1h0M466.6 2003.7h0M464.1 1892.0h0M543.4 1875.2h0M544.5 1995.1h0M583.3 2005.8h0M565.0 1883.4h0M540.5 1863.1h0M520.2 1837.8h0M535.8 1860.5h0M517.7 1847.8h0M427.9 1953.6h0M541.9 2010.6h0M543.6 1923.2h0M492.3 1913.6h0M530.3 1894.3h0M587.8 1963.9h0M527.7 1868.9h0M546.1 1943.0h0M552.8 1975.0h0M439.7 1923.0h0M612.0 1941.7h0M518.7 1881.4h0M442.9 1911.7h0M426.1 1963.1h0M499.1 2023.7h0M513.2 1878.0h0M610.7 1912.1h0M520.0 2024.8h0M485.1 1872.8h0M463.4 1962.9h0M491.9 1844.9h0M514.3 1937.1h0M506.1 1893.8h0M577.8 1879.5h0M543.5 1881.6h0M439.4 1876.0h0M470.7 1880.5h0M546.0 1890.4h0M424.8 1955.4h0M579.2 1858.5h0M489.2 1991.9h0M498.9 1850.9h0M498.8 1940.2h0M483.2 2013.2h0"/><path id="d9_3" d="M464.0 2009.9h0M607.4 1959.4h0M465.4 1942.7h0M554.4 1889.0h0M488.4 1950.3h0M530.9 1870.6h0M547.1 1865.0h0M558.4 1994.5h0M534.4 1885.8h0M554.6 1842.1h0M460.7 1894.7h0M419.5 1946.9h0M476.7 1999.1h0M539.5 1905.0h0M462.9 1955.2h0M552.2 1947.1h0M438.3 1963.2h0M496.2 1924.0h0M444.7 1896.3h0M468.3 1863.0h0M552.4 1846.9h0M576.5 1927.7h0M489.1 1987.2h0M555.7 1849.2h0M519.9 2032.0h0M470.3 1965.1h0M452.2 2008.4h0M539.6 1963.3h0M596.1 1981.4h0M430.5 1928.2h0M543.2 1922.0h0M509.3 1890.8h0M476.4 1967.8h0M591.7 1972.6h0M602.6 1932.3h0M506.4 1922.8h0M518.8 1948.6h0M533.5 1885.0h0M586.4 1892.7h0M599.3 1938.2h0M540.2 1857.6h0M563.2 1980.8h0M578.0 1937.7h0M489.4 1891.7h0M478.5 1874.3h0M548.2 1879.2h0M606.0 1923.5h0M454.7 1921.6h0M439.7 1874.4h0M543.5 1901.5h0M455.2 1932.6h0M467.9 1932.3h0M545.9 1981.6h0M548.3 2023.9h0M517.3 1911.0h0M470.3 1983.5h0M506.9 1905.9h0M532.8 1974.4h0M503.4 1908.8h0M531.8 1837.2h0M543.3 1856.9h0M455.6 1929.5h0M580.2 1996.9h0M454.8 1868.0h0M497.3 1836.5h0M583.7 2004.7h0M438.7 1913.2h0M533.0 1841.1h0M554.6 1874.0h0M576.4 1915.0h0M580.4 1915.7h0M520.7 1896.3h0M564.1 1924.1h0M528.5 2018.9h0M516.3 2007.2h0"/><path id="d9_4" d="M506.4 2017.0h0M522.9 1993.4h0M474.2 1877.7h0M513.5 1849.6h0M505.0 2019.1h0M460.3 1945.5h0M548.1 1958.4h0M551.9 1966.1h0M505.5 1993.6h0M495.8 1853.9h0M563.2 1881.8h0M547.5 1902.4h0M463.0 1904.3h0M550.5 1860.9h0M539.2 1863.3h0M527.3 1950.4h0M569.0 1936.3h0M569.2 1949.2h0M432.8 1907.0h0M503.3 1982.2h0M561.0 1878.5h0M579.8 2001.0h0M545.4 1905.9h0M528.9 2018.0h0M457.7 1898.1h0M563.3 1868.9h0M510.3 1836.2h0"/><clipPath id="pc10"><rect x="891.4" y="1539" width="251.8" height="251.2"/></clipPath><path id="d10_0" d="M985.1 1628.3h0M950.7 1674.7h0M1010.2 1684.8h0M1024.1 1568.6h0M996.8 1645.5h0M968.4 1627.5h0M1041.1 1627.5h0M973.3 1730.0h0M1009.1 1638.3h0M986.8 1599.2h0M1104.8 1645.2h0M1057.6 1733.9h0M1035.2 1678.9h0M992.7 1637.1h0M1063.7 1673.6h0M988.9 1659.1h0M1084.0 1691.1h0M996.6 1677.5h0M1064.8 1733.8h0M1037.2 1759.8h0M917.3 1674.8h0M1002.7 1640.8h0M959.8 1621.7h0M963.3 1750.9h0M1085.9 1722.5h0M1039.7 1753.4h0M1042.2 1569.3h0M1081.8 1588.2h0M982.9 1734.8h0M1066.9 1712.2h0M973.4 1703.9h0M1036.1 1732.6h0M1036.1 1719.8h0M1027.8 1629.8h0M1078.3 1708.9h0M970.2 1584.0h0M1056.8 1582.0h0M1052.6 1675.9h0M949.4 1636.3h0M1038.4 1643.1h0M969.1 1675.3h0M1081.7 1717.5h0M1101.6 1628.1h0M1033.2 1695.3h0M992.4 1694.0h0M1075.8 1677.0h0M944.5 1728.8h0M1030.4 1620.4h0M918.1 1658.3h0M1023.3 1724.4h0M954.3 1638.2h0M962.2 1715.0h0M1007.9 1687.0h0M946.3 1653.2h0M1082.2 1620.4h0M975.7 1648.0h0M1057.6 1625.7h0M1000.3 1754.9h0M1004.5 1577.2h0M915.6 1646.8h0M976.8 1725.6h0M1104.5 1625.2h0M1027.5 1758.2h0M1026.9 1672.1h0M1062.7 1589.4h0M1006.5 1762.6h0M1053.9 1657.0h0M928.5 1625.9h0M924.1 1686.2h0M1022.2 1715.3h0M981.8 1716.8h0M914.5 1690.3h0M961.5 1725.9h0M994.8 1613.5h0M969.2 1699.6h0M1074.7 1655.7h0M1026.0 1739.3h0M1060.0 1629.4h0M942.8 1653.4h0M1099.0 1694.8h0M949.6 1614.0h0M912.5 1657.6h0M937.5 1732.6h0M1009.5 1749.3h0M1101.1 1617.8h0M1015.7 1660.8h0M1028.2 1686.5h0M1020.6 1720.6h0M1017.7 1753.0h0M1105.3 1704.9h0M996.2 1687.8h0M983.1 1657.4h0M1039.3 1599.7h0M1029.0 1749.8h0M1040.7 1761.9h0M934.6 1676.3h0M1069.1 1727.5h0M975.3 1666.5h0M1047.3 1575.3h0M1086.1 1658.2h0M974.4 1628.0h0M978.7 1647.6h0M949.1 1689.8h0M976.4 1674.5h0M923.2 1632.3h0M958.4 1602.4h0M929.7 1609.5h0M1041.8 1761.0h0M1069.9 1744.2h0M1012.9 1564.9h0M1058.6 1702.2h0M1018.8 1745.5h0"/><path id="d10_1" d="M973.0 1654.8h0M978.1 1647.6h0M1043.1 1740.8h0M1022.3 1657.8h0M1054.0 1756.3h0M1077.9 1744.4h0M1018.0 1664.3h0M926.2 1712.3h0M1062.4 1603.8h0M1051.0 1592.1h0M922.4 1631.7h0M1085.8 1669.1h0M971.8 1632.5h0M991.6 1754.0h0M1039.3 1594.5h0M915.3 1674.3h0M995.3 1730.9h0M935.2 1679.2h0M1061.8 1721.2h0M1020.0 1574.7h0M1034.5 1626.3h0M959.6 1727.1h0M1003.8 1628.6h0M1110.4 1645.8h0M955.7 1723.8h0M976.8 1614.0h0M1062.2 1593.1h0M1014.1 1747.7h0M1050.3 1629.9h0M1002.4 1668.0h0M1072.1 1677.1h0M1075.7 1653.6h0M1082.2 1590.6h0M959.5 1592.4h0M949.8 1703.5h0M981.9 1582.8h0M977.4 1759.2h0M1108.0 1665.0h0M1021.0 1610.9h0M942.1 1708.5h0M969.4 1654.8h0M1098.0 1611.3h0M948.4 1682.7h0M974.2 1742.2h0M1052.7 1675.4h0M1007.3 1680.8h0M1052.5 1708.3h0M1026.0 1692.2h0M1007.2 1573.3h0M971.8 1719.6h0M1000.0 1718.0h0M994.7 1676.6h0M1008.5 1652.3h0M1049.4 1670.8h0M1025.2 1654.3h0M1022.0 1632.0h0M945.5 1649.6h0M997.4 1694.1h0M949.0 1692.6h0M1076.2 1661.1h0M1004.8 1737.9h0M985.2 1600.9h0M1049.0 1665.1h0M1080.1 1668.9h0M1076.3 1661.3h0M1084.5 1694.7h0M1064.9 1741.0h0M969.9 1628.6h0M1094.5 1714.8h0M1007.1 1628.0h0M1055.6 1575.2h0M946.9 1705.2h0M1022.9 1603.3h0M1104.3 1654.0h0M1054.0 1671.4h0M1041.9 1612.7h0M1087.3 1688.6h0M1030.3 1649.7h0M1018.2 1758.6h0M1107.3 1666.4h0M1000.6 1735.1h0M1003.9 1635.1h0M1085.1 1599.2h0M1076.3 1736.1h0M1096.5 1639.1h0M1076.6 1698.4h0M931.0 1625.0h0M1046.4 1681.5h0M1043.9 1618.0h0M993.8 1656.2h0"/><path id="d10_2" d="M986.6 1689.6h0M1034.0 1576.2h0M1070.0 1576.2h0M1067.6 1721.8h0M979.3 1704.2h0M1069.2 1661.3h0M989.5 1724.9h0M1042.0 1725.5h0M1046.5 1601.3h0M997.5 1632.5h0M1023.2 1609.2h0M960.4 1623.8h0M1044.3 1639.9h0M1040.4 1760.6h0M979.7 1738.3h0M992.4 1600.6h0M1057.8 1657.4h0M1024.9 1583.4h0M1050.0 1613.6h0M1013.8 1694.4h0M1002.7 1731.1h0M1022.3 1636.3h0M1059.6 1756.9h0M999.0 1582.0h0M953.9 1681.9h0M1048.3 1667.5h0M1006.6 1615.0h0M1015.5 1692.1h0M974.1 1725.1h0M999.8 1567.0h0M1015.0 1640.5h0M924.5 1670.5h0M1004.5 1733.0h0M970.9 1609.0h0M1017.1 1714.9h0M1115.4 1646.0h0M1013.3 1592.8h0M976.6 1739.9h0M1034.8 1672.5h0M983.3 1602.2h0M956.3 1728.4h0M1036.6 1648.4h0M1005.4 1583.6h0M1094.7 1692.5h0M965.7 1577.9h0M1062.9 1600.3h0M1036.9 1613.4h0M1083.2 1676.4h0M1078.4 1721.6h0M973.1 1740.9h0M1047.5 1670.5h0M1107.2 1694.6h0M963.6 1618.6h0M1064.4 1754.8h0M1072.1 1685.5h0M1032.7 1630.2h0M1016.5 1743.3h0M994.8 1742.9h0M1050.8 1625.6h0M1011.1 1743.6h0M1072.3 1735.7h0"/><path id="d10_3" d="M997.7 1603.1h0M1008.5 1561.5h0M927.4 1618.4h0M1002.3 1593.1h0M932.1 1680.0h0M1024.6 1632.8h0M989.3 1634.3h0M1003.1 1650.5h0M969.6 1744.3h0M1020.4 1663.8h0M1049.5 1718.2h0M1078.2 1640.2h0M1007.9 1756.8h0M961.2 1684.7h0M1039.3 1746.6h0M931.2 1607.5h0M1034.1 1593.1h0M1046.4 1595.9h0M1009.6 1615.2h0M1106.4 1622.2h0M1069.0 1580.2h0M1060.4 1587.9h0M992.0 1601.1h0M1099.6 1675.4h0M1105.3 1640.8h0M962.1 1601.9h0M914.0 1688.6h0M943.5 1701.8h0M942.6 1615.4h0M994.4 1660.9h0M1002.1 1717.5h0M995.4 1618.0h0M1103.0 1612.6h0M1046.7 1682.8h0M964.9 1601.4h0M974.3 1576.1h0M1076.6 1626.2h0M1081.7 1603.4h0M1008.4 1570.4h0M972.4 1683.7h0M1027.6 1666.6h0"/><path id="d10_4" d="M951.8 1647.4h0M965.3 1625.8h0M1058.1 1609.9h0M978.7 1594.2h0M972.0 1577.5h0M981.1 1590.5h0M969.7 1720.6h0M1039.7 1651.3h0M1051.7 1719.8h0M1077.9 1616.7h0M934.3 1605.1h0M1062.6 1753.0h0M963.9 1714.9h0M1062.7 1652.1h0M1071.8 1619.3h0M947.5 1597.4h0M1062.9 1588.3h0M1085.0 1616.7h0M1037.9 1681.0h0M1060.1 1664.7h0M956.0 1607.8h0M969.1 1714.0h0M998.0 1589.9h0M1031.6 1680.3h0M1060.3 1613.4h0M959.1 1745.3h0"/><clipPath id="pc11"><rect x="1158.9" y="1539.3" width="252.3" height="252.7"/></clipPath><path id="d11_0" d="M1319.3 1617.1h0M1302.6 1607.6h0M1315.1 1707.4h0M1298.6 1759.8h0M1189.0 1656.7h0M1232.2 1644.8h0M1257.4 1579.1h0M1243.2 1648.2h0M1306.6 1714.7h0M1308.0 1750.6h0M1274.0 1583.8h0M1212.1 1731.6h0M1349.0 1661.0h0M1253.8 1747.4h0M1224.1 1656.1h0M1366.6 1713.6h0M1203.9 1696.4h0M1268.8 1743.3h0M1298.5 1651.9h0M1240.5 1590.2h0M1240.4 1588.6h0M1314.6 1592.9h0M1292.2 1641.9h0M1328.7 1632.4h0M1185.2 1634.8h0M1222.1 1680.1h0M1315.4 1687.3h0M1341.0 1645.9h0M1263.0 1678.7h0M1215.4 1739.8h0M1328.9 1616.9h0M1251.2 1738.7h0M1352.8 1696.0h0M1329.5 1664.2h0M1253.0 1613.9h0M1301.5 1762.4h0M1279.7 1704.2h0M1184.6 1648.5h0M1230.2 1643.7h0M1200.3 1625.6h0M1280.9 1639.3h0M1234.3 1753.3h0M1363.8 1632.4h0M1241.0 1698.9h0M1346.3 1683.5h0M1350.9 1694.0h0M1326.3 1742.8h0M1213.0 1731.2h0M1309.7 1672.0h0M1359.0 1705.8h0M1234.8 1593.9h0M1259.3 1634.9h0M1251.4 1575.3h0M1280.2 1742.4h0M1268.6 1748.9h0M1351.0 1698.4h0M1283.0 1726.5h0M1190.1 1619.5h0M1353.4 1712.5h0M1262.7 1711.2h0M1266.6 1628.1h0M1246.8 1592.1h0M1306.2 1722.3h0M1222.8 1666.2h0M1320.3 1616.1h0M1296.5 1720.8h0M1314.4 1738.8h0M1252.8 1653.4h0M1192.9 1672.5h0M1338.7 1638.2h0M1360.0 1686.1h0M1202.2 1607.5h0M1192.0 1625.8h0M1316.3 1694.5h0M1201.0 1708.0h0M1220.9 1599.9h0M1352.0 1682.5h0M1347.0 1598.6h0M1288.5 1639.5h0M1316.6 1715.8h0M1252.6 1640.8h0M1349.1 1702.1h0M1316.6 1569.0h0M1281.6 1670.1h0M1344.8 1712.4h0M1357.9 1611.9h0M1268.4 1580.1h0M1297.9 1759.9h0M1314.8 1645.7h0M1285.6 1750.6h0M1316.6 1741.9h0M1183.3 1658.8h0M1257.3 1605.5h0M1312.7 1663.5h0M1312.9 1621.4h0M1267.4 1692.3h0M1206.5 1683.3h0M1284.0 1697.2h0M1261.5 1603.7h0M1333.2 1587.7h0M1303.8 1640.8h0M1372.3 1683.0h0M1283.4 1627.2h0M1195.1 1627.0h0M1360.2 1640.7h0M1247.5 1756.1h0M1303.4 1583.0h0M1321.0 1734.4h0M1209.8 1675.9h0M1330.6 1653.0h0M1322.2 1582.9h0M1313.2 1602.4h0M1217.5 1629.5h0M1253.9 1596.1h0M1348.7 1728.1h0M1313.8 1645.2h0M1267.5 1649.3h0M1252.7 1639.7h0M1319.3 1614.6h0M1230.2 1640.2h0M1351.5 1730.3h0M1274.2 1730.8h0M1264.0 1690.3h0M1259.8 1587.4h0M1364.3 1657.1h0M1273.1 1592.1h0M1188.0 1661.8h0M1240.4 1663.1h0M1299.9 1610.3h0M1357.9 1632.0h0M1211.6 1632.3h0M1228.7 1580.7h0M1181.5 1669.3h0M1203.8 1628.3h0M1375.6 1703.3h0M1261.5 1634.9h0M1212.3 1709.1h0M1237.1 1709.3h0M1280.6 1712.8h0M1310.4 1598.5h0M1253.8 1683.3h0M1241.3 1749.5h0M1255.3 1702.2h0M1233.3 1730.7h0M1216.9 1589.5h0M1333.6 1749.7h0M1288.7 1580.2h0M1279.5 1625.6h0M1276.5 1692.8h0M1237.7 1622.8h0M1208.4 1655.1h0M1339.1 1618.4h0M1315.8 1588.0h0M1195.5 1632.0h0M1229.5 1719.7h0M1303.3 1759.4h0M1341.0 1622.5h0M1309.2 1641.9h0M1320.2 1653.9h0M1350.9 1655.9h0M1277.9 1642.2h0M1223.3 1745.4h0M1266.5 1689.0h0M1330.1 1621.4h0M1252.8 1669.1h0M1204.3 1598.1h0M1337.8 1656.3h0M1320.1 1634.2h0M1250.5 1687.9h0M1249.0 1627.6h0M1378.0 1696.8h0M1200.3 1654.2h0M1301.1 1725.8h0M1246.7 1666.4h0M1384.1 1654.0h0M1183.8 1642.9h0M1247.0 1686.5h0M1302.7 1705.4h0M1328.3 1694.5h0M1269.3 1664.2h0M1249.7 1631.6h0M1260.1 1729.5h0M1285.0 1611.7h0"/><path id="d11_1" d="M1289.4 1764.4h0M1287.2 1621.6h0M1238.2 1651.1h0M1279.9 1709.3h0M1261.7 1676.8h0M1201.3 1700.9h0M1336.7 1747.3h0M1244.3 1645.6h0M1253.3 1588.3h0M1333.5 1725.5h0M1275.3 1623.5h0M1261.7 1632.1h0M1339.1 1593.8h0M1298.0 1578.1h0M1339.9 1603.4h0M1278.0 1649.5h0M1212.0 1650.5h0M1317.6 1628.1h0M1285.4 1700.5h0M1316.7 1744.4h0M1279.8 1737.6h0M1254.3 1718.7h0M1294.0 1695.8h0M1248.1 1748.6h0M1317.7 1703.0h0M1242.6 1655.0h0M1238.3 1659.0h0M1311.4 1624.1h0M1325.7 1744.6h0M1189.1 1624.4h0M1288.5 1588.6h0M1193.1 1679.5h0M1222.2 1640.1h0M1236.9 1590.5h0M1226.9 1688.5h0M1206.7 1648.3h0M1364.4 1650.0h0M1266.2 1566.6h0M1186.8 1643.8h0M1297.0 1591.7h0M1213.6 1650.9h0M1304.1 1634.6h0M1379.7 1644.2h0M1304.0 1717.3h0M1276.1 1648.0h0M1223.1 1611.5h0M1259.6 1753.5h0M1329.8 1703.1h0M1338.2 1650.1h0M1349.2 1686.9h0M1186.9 1661.4h0M1335.5 1679.3h0M1302.0 1630.2h0M1244.0 1677.1h0M1259.1 1683.5h0M1259.6 1573.0h0M1318.1 1578.1h0M1186.0 1686.1h0M1331.2 1638.4h0M1304.8 1568.8h0M1255.6 1614.2h0M1309.3 1696.9h0M1368.5 1624.4h0M1261.6 1575.3h0M1324.3 1742.2h0M1352.3 1652.7h0M1291.9 1652.8h0M1339.6 1627.1h0M1267.7 1703.9h0M1212.3 1734.3h0M1264.1 1621.1h0M1279.4 1723.2h0M1229.2 1615.3h0M1335.9 1639.1h0M1296.8 1707.7h0M1273.2 1684.2h0M1360.9 1727.3h0M1275.6 1668.6h0M1368.0 1649.6h0M1300.7 1718.4h0M1288.4 1630.6h0M1238.1 1693.3h0M1272.7 1646.9h0M1304.5 1612.2h0M1241.5 1692.6h0M1218.9 1739.0h0M1310.1 1759.7h0M1368.6 1677.1h0M1257.9 1708.5h0M1202.4 1620.6h0M1212.9 1692.7h0M1303.1 1647.5h0M1248.4 1580.8h0M1263.2 1601.1h0M1336.0 1722.6h0M1258.1 1675.6h0M1318.2 1635.4h0M1338.1 1615.9h0M1257.7 1675.0h0M1274.1 1645.4h0M1230.5 1743.7h0M1297.4 1648.8h0M1332.7 1624.2h0M1297.8 1762.7h0M1332.1 1658.9h0M1320.5 1577.5h0M1320.7 1721.7h0M1214.5 1693.3h0M1287.7 1631.3h0M1296.3 1656.6h0M1261.4 1715.5h0M1285.7 1643.1h0M1185.4 1690.7h0M1259.4 1587.5h0M1342.3 1692.0h0M1300.9 1680.4h0M1333.6 1643.5h0M1212.8 1590.3h0M1336.2 1672.3h0M1334.0 1742.8h0M1320.3 1746.8h0M1306.7 1743.3h0M1251.5 1740.5h0M1297.7 1656.9h0M1237.8 1739.0h0M1289.5 1764.8h0M1297.5 1675.5h0M1301.9 1657.7h0M1343.8 1613.9h0M1297.3 1667.7h0M1190.1 1627.0h0M1244.4 1615.5h0M1222.6 1619.2h0M1310.3 1636.1h0M1241.0 1754.7h0M1315.5 1568.3h0M1245.6 1704.9h0M1277.6 1746.2h0M1315.1 1738.3h0M1307.1 1659.8h0M1218.1 1691.2h0M1373.1 1662.7h0M1222.5 1688.8h0M1326.8 1738.8h0M1340.1 1595.2h0M1366.8 1632.9h0M1342.6 1671.0h0M1251.5 1644.3h0M1229.1 1737.8h0M1261.7 1726.4h0M1307.8 1595.3h0M1283.7 1599.7h0M1290.4 1576.4h0M1216.3 1694.1h0M1206.4 1689.4h0M1209.7 1624.8h0M1197.3 1699.0h0M1234.3 1611.4h0M1210.9 1674.6h0M1293.7 1613.9h0M1262.3 1699.3h0M1321.7 1660.2h0M1244.0 1625.8h0M1261.7 1686.6h0M1229.0 1601.2h0M1298.1 1724.3h0M1304.3 1572.0h0M1205.2 1714.2h0M1344.8 1626.7h0M1321.0 1632.7h0M1267.9 1692.0h0M1248.5 1687.7h0M1339.6 1642.3h0M1226.9 1697.2h0M1246.5 1647.7h0M1299.3 1579.7h0M1195.4 1682.7h0M1343.9 1604.1h0M1322.9 1688.5h0M1297.3 1744.9h0M1364.1 1693.6h0M1310.6 1580.1h0M1314.8 1602.4h0M1350.8 1624.2h0M1238.2 1689.4h0M1257.8 1661.2h0M1297.0 1663.3h0"/><path id="d11_2" d="M1192.5 1635.3h0M1256.0 1717.5h0M1327.5 1701.0h0M1266.2 1759.3h0M1334.4 1630.2h0M1354.2 1709.6h0M1346.6 1613.6h0M1224.0 1630.1h0M1241.3 1614.3h0M1204.7 1668.0h0M1342.5 1649.1h0M1284.1 1651.6h0M1313.6 1694.6h0M1307.5 1603.5h0M1362.2 1668.5h0M1316.9 1718.6h0M1198.5 1623.4h0M1358.9 1674.1h0M1281.1 1576.6h0M1323.4 1613.6h0M1251.3 1694.4h0M1290.3 1573.5h0M1255.0 1689.3h0M1344.5 1723.5h0M1284.5 1704.5h0M1294.6 1716.7h0M1225.3 1638.8h0M1267.0 1645.2h0M1313.0 1645.8h0M1319.8 1708.0h0M1184.3 1649.0h0M1345.3 1599.2h0M1336.5 1674.7h0M1307.3 1655.6h0M1307.0 1637.3h0M1341.1 1580.0h0M1264.6 1613.1h0M1321.2 1628.6h0M1344.4 1697.8h0M1305.6 1641.7h0M1287.8 1730.7h0M1205.6 1710.4h0M1270.4 1678.6h0M1309.4 1656.0h0M1339.0 1645.3h0M1230.6 1706.0h0M1290.0 1588.5h0M1337.7 1745.5h0M1374.8 1676.7h0M1286.6 1673.8h0M1296.2 1701.1h0M1258.3 1636.7h0M1309.1 1570.5h0M1200.2 1661.7h0M1281.3 1638.5h0M1262.6 1687.8h0M1267.4 1586.4h0M1295.2 1588.0h0M1324.4 1755.5h0M1285.9 1709.5h0M1222.4 1625.5h0M1263.8 1715.4h0M1332.5 1656.8h0M1373.7 1619.8h0M1322.2 1642.7h0M1336.8 1660.3h0M1262.6 1585.6h0M1271.5 1753.3h0M1328.7 1704.0h0M1381.6 1659.4h0M1213.8 1669.3h0M1326.0 1711.6h0M1343.3 1678.4h0M1260.6 1724.2h0M1204.3 1641.4h0M1197.4 1674.6h0M1206.0 1637.8h0M1306.7 1669.5h0M1262.9 1645.6h0M1235.4 1750.6h0M1314.9 1630.8h0M1244.8 1588.6h0M1293.8 1683.2h0M1239.9 1727.7h0M1245.8 1688.5h0M1282.1 1662.4h0M1274.6 1686.4h0M1297.8 1719.8h0M1266.3 1661.8h0M1322.8 1587.8h0M1262.4 1563.4h0M1316.3 1576.6h0M1350.5 1698.9h0M1341.2 1719.0h0M1366.1 1695.6h0M1372.7 1671.7h0M1230.2 1704.1h0M1234.4 1650.1h0M1357.4 1732.2h0M1373.4 1669.8h0M1252.8 1685.1h0M1284.3 1607.8h0M1229.6 1637.1h0M1350.3 1662.5h0M1243.0 1746.4h0M1304.3 1743.7h0M1236.6 1699.5h0M1275.2 1643.2h0M1284.3 1692.3h0M1306.9 1716.1h0M1242.4 1591.6h0M1262.2 1711.5h0M1279.5 1754.6h0M1310.6 1675.2h0M1246.9 1723.1h0M1342.8 1611.8h0M1237.5 1651.2h0M1281.4 1639.7h0M1220.5 1622.1h0M1227.5 1615.0h0M1302.4 1568.0h0M1366.0 1711.5h0M1301.9 1735.6h0M1280.5 1704.2h0M1309.1 1585.5h0M1330.2 1705.1h0M1223.8 1626.2h0M1224.4 1582.8h0M1360.1 1655.5h0M1381.2 1651.0h0M1361.0 1636.6h0"/><path id="d11_3" d="M1368.9 1702.9h0M1356.9 1601.4h0M1289.5 1627.1h0M1219.1 1690.8h0M1253.8 1726.8h0M1303.5 1663.5h0M1288.4 1596.4h0M1256.8 1580.1h0M1327.4 1726.1h0M1365.3 1636.7h0M1227.0 1719.9h0M1340.5 1713.7h0M1230.8 1665.5h0M1282.9 1696.4h0M1267.5 1747.1h0M1291.0 1686.5h0M1230.7 1607.0h0M1297.4 1629.1h0M1253.7 1696.3h0M1334.4 1743.8h0M1266.5 1630.9h0M1183.9 1687.7h0M1328.1 1606.3h0M1216.9 1631.0h0M1239.4 1607.3h0M1256.5 1655.6h0M1202.1 1716.6h0M1250.7 1754.3h0M1238.7 1745.2h0M1370.3 1690.7h0M1338.1 1605.5h0M1242.0 1614.2h0M1209.4 1628.5h0M1284.9 1760.9h0M1308.9 1566.8h0M1293.0 1764.2h0M1279.8 1704.8h0M1304.3 1575.9h0M1242.3 1722.3h0M1323.1 1702.3h0M1225.8 1688.4h0M1364.0 1712.8h0M1339.5 1607.3h0M1272.6 1742.6h0M1345.4 1660.7h0M1256.0 1600.8h0M1304.9 1714.4h0M1354.6 1652.4h0M1263.0 1711.7h0M1225.3 1677.9h0M1307.0 1580.5h0M1236.3 1633.1h0M1259.2 1699.9h0M1187.9 1625.4h0M1240.3 1732.0h0M1208.4 1631.0h0M1200.9 1711.2h0M1295.3 1726.5h0M1334.7 1582.6h0M1235.3 1621.1h0M1235.6 1705.4h0M1189.7 1688.7h0M1348.8 1596.7h0M1273.3 1737.5h0M1286.0 1658.7h0M1288.9 1596.1h0M1292.7 1605.7h0M1228.5 1718.1h0M1308.6 1724.4h0M1273.0 1658.8h0M1378.2 1696.6h0M1210.0 1682.7h0M1190.7 1708.4h0M1246.7 1583.7h0M1343.0 1740.1h0M1319.7 1589.1h0M1273.8 1666.3h0M1268.3 1680.1h0M1218.0 1739.5h0M1348.1 1715.6h0M1294.1 1723.3h0M1244.4 1704.3h0M1207.2 1705.3h0M1229.4 1588.6h0M1315.2 1648.5h0"/><path id="d11_4" d="M1283.6 1730.1h0M1266.0 1631.5h0M1211.2 1702.5h0M1233.3 1589.5h0M1219.5 1625.4h0M1307.6 1685.7h0M1212.0 1650.0h0M1332.5 1665.1h0M1232.5 1674.4h0M1276.6 1653.0h0M1239.9 1704.1h0M1280.4 1566.5h0M1315.6 1722.9h0M1323.1 1658.2h0M1267.7 1662.4h0M1236.6 1654.4h0M1293.7 1753.4h0M1341.4 1650.2h0M1266.4 1633.1h0M1363.4 1609.9h0M1275.9 1706.5h0M1217.8 1597.2h0M1289.4 1710.6h0M1330.3 1702.9h0M1343.9 1587.1h0M1380.3 1665.0h0M1302.4 1650.7h0M1272.4 1686.0h0M1223.3 1655.0h0M1314.0 1687.2h0M1283.4 1574.7h0M1299.7 1753.1h0M1214.8 1603.4h0M1319.7 1575.8h0M1242.0 1629.7h0M1307.4 1729.6h0M1241.8 1616.6h0M1210.2 1595.7h0M1314.8 1708.9h0M1270.1 1567.6h0M1308.8 1683.0h0M1312.0 1669.3h0M1221.5 1654.3h0M1297.0 1656.6h0"/><clipPath id="pc12"><rect x="890.9" y="1806.2" width="252.6" height="250.3"/></clipPath><path id="d12_0" d="M1022.0 1884.8h0M973.4 1957.3h0M1076.3 1873.1h0M1046.6 1925.3h0M925.3 1986.2h0M999.7 1895.0h0M1019.7 1872.6h0M1005.5 1990.5h0M1021.5 1995.6h0M1055.2 2011.3h0M1006.8 1845.7h0M1039.6 1846.7h0M953.1 1960.6h0M1052.4 1998.0h0M1091.6 1990.6h0M1026.8 1888.0h0M942.8 1913.6h0M940.5 1869.9h0M982.5 1871.5h0M1077.3 1948.8h0M1000.4 1874.9h0M1014.3 1840.3h0M961.2 1934.0h0M980.4 1986.3h0"/><path id="d12_1" d="M960.0 1966.6h0M1044.8 1880.8h0M974.1 2031.8h0M1087.6 1965.2h0M1056.9 1937.3h0M1093.6 1978.3h0M949.8 2011.5h0M981.3 1976.8h0M1039.9 1921.2h0M980.3 1930.7h0M1071.9 1897.0h0M1062.9 1887.9h0M1059.1 2020.8h0M1005.1 1882.3h0M977.3 1912.1h0M1062.8 1887.9h0M933.7 1871.6h0M930.3 1968.8h0M919.4 1900.0h0M981.8 1939.5h0M1053.6 2004.2h0M941.8 1881.7h0M1057.9 1905.1h0M998.3 2024.2h0M1067.0 1954.6h0"/><path id="d12_2" d="M1023.8 1900.9h0M987.2 2021.1h0M1042.7 1849.5h0M958.5 1969.7h0M937.9 1985.5h0M973.4 1936.1h0M1019.3 1841.4h0M1003.9 1857.1h0M1088.3 1921.3h0M1025.7 1909.9h0M987.0 1897.2h0M1051.8 1948.0h0"/><path id="d12_3" d="M936.3 1915.6h0M1021.0 1879.1h0M1038.2 1992.9h0M948.5 1975.0h0M951.4 2005.8h0M972.1 1973.3h0M972.7 1851.9h0M972.8 1955.8h0M931.0 1924.5h0M928.1 1893.8h0M988.6 1886.2h0"/><path id="d12_4" d="M1010.5 2029.3h0M939.6 1925.5h0M944.8 1970.8h0M978.4 1845.7h0M985.1 1840.8h0M979.0 1886.8h0M934.1 1999.6h0M1044.1 2007.2h0M926.9 1938.9h0M1056.5 2011.8h0"/><clipPath id="pc13"><rect x="1158.9" y="1806.2" width="252.3" height="250.8"/></clipPath><path id="d13_0" d="M1367.9 1959.8h0M1203.6 1925.5h0M1268.1 1936.6h0M1322.7 1965.8h0M1311.7 2017.7h0M1370.4 1948.9h0M1190.6 1967.2h0M1216.9 2009.2h0M1354.9 1882.2h0M1275.8 1837.0h0M1347.9 1872.6h0M1278.2 1947.6h0M1253.8 1866.2h0M1292.1 2028.1h0M1242.2 1908.8h0M1251.0 1879.8h0M1210.7 1902.0h0M1304.7 2012.7h0M1336.2 1847.4h0M1314.1 1984.5h0M1275.1 2028.7h0M1228.8 1943.0h0M1340.0 1979.9h0M1309.2 1985.5h0M1305.7 1846.1h0M1284.2 1991.8h0M1359.5 1991.7h0M1204.9 1980.3h0M1344.3 1891.3h0M1249.2 1908.7h0M1277.8 2020.1h0M1211.3 1920.7h0M1256.8 1901.3h0M1329.6 1889.1h0M1297.1 1880.1h0M1251.9 2022.4h0M1312.9 1934.2h0M1241.9 1867.9h0M1225.2 1991.3h0M1358.1 1961.6h0M1235.1 1865.8h0M1290.3 1945.2h0M1323.1 1994.8h0M1337.7 1894.6h0M1248.7 1975.7h0M1375.4 1963.0h0M1334.3 1847.2h0M1223.5 1951.2h0M1342.1 1935.0h0M1310.0 1998.0h0M1243.2 1987.2h0M1244.7 1906.6h0M1320.2 1970.7h0M1299.1 1838.5h0M1297.3 1883.6h0M1238.7 2015.6h0M1292.5 1943.0h0M1293.9 1987.5h0M1192.2 1966.0h0M1372.4 1911.4h0M1203.9 1957.1h0M1232.4 1957.1h0M1342.3 1878.6h0M1294.7 2000.7h0M1251.9 1939.6h0M1310.4 1904.9h0M1247.8 1883.3h0M1241.5 1947.3h0M1227.8 1967.2h0M1270.0 1962.5h0M1208.0 1988.0h0M1310.4 1930.8h0M1333.3 1888.8h0M1230.9 1984.0h0M1347.5 1963.4h0M1259.0 1923.4h0M1356.8 1949.6h0M1251.4 1885.4h0M1319.2 1915.9h0M1316.9 1915.9h0M1310.5 2029.2h0M1284.2 2020.0h0M1338.3 2011.3h0M1226.2 1951.6h0M1383.0 1962.0h0M1301.5 1927.1h0M1360.2 1939.7h0M1285.4 1918.3h0M1263.6 1901.9h0M1296.2 1994.7h0M1365.3 1878.4h0M1355.8 1974.3h0M1332.8 2017.7h0M1240.3 1987.1h0M1293.0 1926.8h0M1329.0 1963.3h0M1321.3 1928.1h0M1254.3 1981.1h0M1380.0 1902.9h0M1363.5 1884.0h0M1243.2 2025.7h0M1224.7 1901.0h0M1225.2 1927.0h0M1285.4 1911.8h0M1244.5 1940.2h0M1299.4 1893.0h0M1352.0 1899.8h0M1264.1 1957.7h0M1332.3 2006.4h0M1251.3 1914.3h0M1296.7 1927.1h0M1232.5 1863.6h0M1229.5 1933.8h0M1316.8 1928.7h0M1227.2 1899.4h0M1243.5 1971.6h0M1225.8 1922.8h0M1382.7 1912.0h0M1214.6 1967.9h0M1337.5 1847.7h0M1266.6 1971.2h0M1344.4 1932.0h0M1357.5 1892.8h0M1374.5 1910.5h0M1214.8 1930.7h0M1255.9 2030.5h0M1242.2 1990.6h0M1327.9 1985.2h0M1362.6 1947.8h0M1273.3 2027.5h0M1316.0 1960.3h0M1215.2 1885.0h0M1235.1 1889.0h0M1273.9 1883.6h0M1374.0 1881.6h0M1254.3 1955.8h0M1354.0 1922.2h0M1321.9 1992.1h0M1350.4 1947.5h0M1382.2 1898.1h0M1215.9 1971.7h0M1197.0 1970.5h0M1285.0 1893.1h0M1348.0 1883.5h0M1387.0 1911.6h0M1342.0 1939.9h0M1329.7 1852.3h0M1271.3 1991.3h0M1257.6 1905.4h0M1350.8 1999.7h0M1383.9 1931.0h0M1308.8 1891.1h0M1322.2 1931.7h0M1246.2 1964.0h0M1274.1 2037.6h0M1255.7 2019.3h0M1338.8 2004.4h0M1260.6 1981.1h0M1224.5 1968.2h0M1279.3 1998.7h0M1240.5 1910.7h0M1254.4 1892.1h0M1199.2 1887.6h0M1269.1 1967.1h0M1382.2 1951.2h0M1288.7 1862.9h0M1202.9 1906.8h0M1250.0 1845.6h0M1249.1 2000.1h0M1363.2 2001.3h0M1249.0 1907.9h0M1277.5 1963.3h0M1359.5 1997.6h0M1220.8 1991.5h0"/><path id="d13_1" d="M1311.5 1926.6h0M1333.3 1846.3h0M1271.1 2002.1h0M1301.6 2013.4h0M1221.8 1883.6h0M1278.2 1973.3h0M1300.2 1841.5h0M1240.6 1967.6h0M1309.9 1947.0h0M1254.9 2005.0h0M1249.0 1967.1h0M1314.6 1987.6h0M1251.7 1864.4h0M1281.1 1918.0h0M1281.5 1889.5h0M1263.3 1878.1h0M1378.2 1982.8h0M1299.9 1974.2h0M1232.0 2003.3h0M1265.0 1980.8h0M1198.8 1904.1h0M1252.5 1958.0h0M1289.1 2010.7h0M1333.6 1874.6h0M1248.5 1872.6h0M1258.1 1925.6h0M1323.8 1918.6h0M1285.4 1868.5h0M1296.5 1975.7h0M1262.0 1942.9h0M1290.1 1952.1h0M1324.6 1890.4h0M1312.4 1896.5h0M1329.0 1884.4h0M1356.8 1964.5h0M1298.3 1936.0h0M1313.8 1865.8h0M1225.3 2017.6h0M1352.8 1959.6h0M1369.0 1929.5h0M1385.8 1936.2h0M1229.7 1937.1h0M1226.2 1976.6h0M1315.0 1970.1h0M1237.5 2025.2h0M1243.6 1868.2h0M1297.5 1900.7h0M1233.1 1869.7h0M1296.2 1920.4h0M1324.9 1945.7h0M1223.1 1930.8h0M1318.4 1866.4h0M1238.9 1976.0h0M1236.9 1898.0h0M1376.6 1904.7h0M1302.7 1947.2h0M1342.9 1898.8h0M1238.2 2014.5h0M1232.8 1998.1h0M1372.5 1922.4h0M1271.4 1983.8h0M1224.9 1926.6h0M1298.3 1923.7h0M1362.5 1876.7h0M1262.3 1879.0h0M1323.0 1977.5h0M1376.6 1971.7h0M1288.5 1898.3h0M1354.4 1967.0h0M1376.5 1890.2h0M1364.1 2000.1h0M1276.1 1991.2h0M1258.3 2032.5h0M1349.7 1962.0h0M1225.7 1856.3h0M1191.2 1909.6h0M1213.5 1996.3h0M1266.7 1858.6h0M1304.7 1976.7h0M1226.9 1943.0h0M1303.4 1951.8h0M1252.6 2009.6h0M1219.9 1917.1h0M1249.1 1869.4h0M1288.0 1962.3h0M1377.9 1923.0h0M1349.0 2008.6h0M1255.1 1961.3h0M1305.0 2030.7h0M1372.0 1897.3h0M1335.4 1968.2h0M1197.8 1901.0h0M1245.6 2016.8h0M1349.1 1915.6h0M1298.3 2020.4h0M1352.4 1882.0h0M1265.8 1936.0h0M1242.5 1855.6h0M1225.1 1948.5h0M1321.9 1898.7h0M1211.2 1973.8h0M1215.4 1992.6h0M1327.0 1929.6h0M1318.3 1974.6h0M1247.3 1858.3h0M1348.0 1878.5h0M1335.3 2011.8h0M1222.8 2002.9h0M1190.5 1916.4h0M1344.4 1903.4h0M1200.2 1916.6h0M1353.4 1931.8h0M1202.0 1913.6h0M1194.9 1958.1h0M1272.7 1964.1h0M1301.6 1899.1h0M1311.1 1851.4h0M1344.7 1941.1h0M1298.5 1913.3h0M1389.8 1940.5h0M1280.8 2013.6h0M1201.5 1948.2h0M1287.0 1919.3h0M1330.3 1980.6h0M1244.6 1931.4h0M1272.2 1890.9h0M1337.4 1975.3h0M1344.4 1856.1h0M1227.4 2001.3h0M1309.5 2025.2h0M1300.6 1915.2h0M1262.5 1901.5h0M1245.6 2000.6h0M1326.9 1961.9h0M1211.7 1884.5h0M1275.9 1999.2h0M1299.8 1876.6h0M1260.8 1873.1h0M1344.3 1947.0h0M1296.2 2025.1h0M1292.6 1954.1h0M1269.3 2024.7h0M1340.7 1929.4h0M1387.0 1923.2h0M1237.2 1948.3h0M1265.1 1915.8h0M1315.3 2018.7h0M1249.8 1938.4h0M1311.4 1901.9h0M1360.9 1883.0h0M1322.0 1918.1h0M1259.1 1992.9h0M1260.7 2031.6h0M1252.2 1846.4h0M1311.6 1867.9h0M1222.5 1926.9h0M1302.4 1960.0h0M1343.5 1927.7h0M1319.6 2008.5h0M1326.9 1889.9h0M1366.5 1889.2h0M1296.2 1880.5h0M1353.4 1974.7h0M1324.4 1885.8h0M1234.1 1953.8h0M1327.5 2024.5h0M1294.6 1877.4h0M1239.6 1969.7h0M1204.9 1946.3h0M1351.9 1873.5h0M1194.5 1911.8h0M1213.4 1972.3h0M1312.2 1908.2h0M1302.9 1867.2h0M1366.5 1885.6h0M1318.5 1947.9h0M1376.9 1954.2h0M1217.1 1991.7h0"/><path id="d13_2" d="M1352.8 1997.4h0M1252.0 1888.3h0M1306.4 2018.7h0M1243.8 1998.3h0M1340.8 1942.5h0M1281.5 1849.4h0M1296.0 1916.4h0M1255.5 1852.7h0M1305.0 1912.5h0M1197.0 1953.5h0M1333.2 1928.2h0M1235.3 1882.2h0M1299.3 1989.3h0M1200.1 1960.2h0M1247.3 1889.8h0M1193.1 1942.5h0M1190.8 1927.2h0M1195.2 1925.7h0M1317.1 2006.0h0M1315.8 1932.9h0M1285.9 1915.1h0M1369.5 1898.8h0M1221.9 2002.0h0M1301.7 1988.1h0M1186.2 1921.2h0M1322.4 1971.9h0M1324.6 1949.5h0M1287.5 2021.2h0M1243.0 1858.8h0M1370.2 1895.2h0M1293.1 1904.7h0M1294.4 1954.3h0M1257.9 1941.7h0M1243.9 1965.5h0M1221.9 2007.4h0M1205.3 1916.3h0M1244.8 1967.9h0M1335.5 1892.8h0M1315.5 2003.9h0M1219.3 1973.1h0M1272.4 1928.6h0M1258.1 2012.9h0M1300.8 1925.2h0M1364.9 1949.4h0M1231.0 1864.5h0M1256.0 1885.0h0M1302.2 1908.1h0M1236.6 2019.2h0M1303.6 1838.1h0M1294.8 1887.9h0M1269.4 1905.7h0M1287.5 1890.4h0M1238.0 1877.7h0M1277.4 1895.5h0M1326.5 1939.0h0M1266.3 1879.7h0M1301.1 1977.7h0M1230.0 1889.2h0M1328.6 1978.8h0M1379.1 1953.6h0M1237.8 2001.9h0M1278.3 1906.5h0M1331.6 1884.7h0M1217.9 1909.6h0M1254.4 2002.6h0M1359.8 2004.5h0M1354.4 2002.0h0M1329.0 1845.5h0M1238.9 1868.4h0M1213.8 1889.8h0M1270.2 1883.5h0M1260.4 2015.0h0M1202.1 1971.1h0M1384.6 1903.6h0M1358.2 1990.7h0M1215.6 2004.7h0M1328.9 1886.8h0M1217.1 1929.2h0M1302.1 1872.9h0M1292.0 1878.3h0M1280.0 1967.3h0M1301.9 1963.7h0M1273.7 2008.9h0M1321.0 1882.9h0M1336.2 1947.1h0M1235.3 1975.8h0M1354.9 1861.6h0M1191.0 1902.9h0M1228.2 1957.1h0M1192.1 1924.4h0M1284.8 1983.6h0M1240.0 1975.3h0M1375.2 1899.7h0M1237.5 1976.4h0M1363.4 1967.8h0M1245.4 1984.5h0M1287.4 2021.5h0M1214.1 1901.3h0M1197.7 1934.9h0M1239.3 1899.9h0M1376.2 1925.0h0M1328.2 1982.9h0M1331.6 1946.2h0M1284.6 1842.0h0M1268.2 2030.6h0M1332.9 1952.7h0M1256.1 1985.7h0M1327.2 1887.0h0M1243.8 1918.0h0M1333.3 1901.8h0M1235.9 1912.1h0M1335.8 1985.3h0M1238.8 1937.8h0M1319.4 2024.1h0M1293.9 2013.3h0M1200.0 1942.2h0M1342.6 1902.1h0M1342.8 1930.4h0"/><path id="d13_3" d="M1303.6 1961.5h0M1262.8 1912.7h0M1317.7 1956.6h0M1286.2 1961.5h0M1272.8 1896.2h0M1386.6 1933.8h0M1233.6 1915.2h0M1329.8 1967.7h0M1260.4 2022.2h0M1350.6 1882.9h0M1242.1 1936.3h0M1259.7 1845.2h0M1268.4 1861.6h0M1272.6 1904.1h0M1249.2 1912.8h0M1311.5 1966.7h0M1225.0 1859.3h0M1312.0 1883.1h0M1309.7 1895.0h0M1277.2 1950.2h0M1264.5 2013.1h0M1335.0 1991.5h0M1245.9 1919.9h0M1331.0 1945.3h0M1377.7 1982.6h0M1238.5 1999.8h0M1260.9 2002.4h0M1223.5 1877.2h0M1282.1 1935.6h0M1262.5 1890.7h0M1319.2 1918.7h0M1320.4 2004.0h0M1371.2 1931.3h0M1217.7 1934.6h0M1243.4 1867.8h0M1294.8 1932.3h0M1210.2 1980.6h0M1332.8 1889.9h0M1315.9 1956.4h0M1328.7 1928.0h0M1349.1 1988.1h0M1347.1 1932.1h0M1242.8 1975.9h0M1355.1 1973.0h0M1325.4 1872.0h0M1281.7 1847.4h0M1246.6 1978.5h0M1321.5 1967.2h0M1270.9 1842.7h0M1332.2 1961.4h0M1232.3 1923.5h0M1271.0 1857.1h0M1343.4 1901.4h0M1253.1 1929.9h0M1272.4 1920.2h0M1252.8 1864.7h0M1380.0 1903.2h0M1339.4 1856.8h0M1283.8 2026.1h0M1273.4 1954.2h0M1285.1 1965.1h0M1259.7 1896.5h0M1347.9 1916.0h0M1257.3 1939.7h0M1254.0 1963.2h0M1247.6 1937.6h0M1308.4 1865.4h0M1279.8 1903.2h0M1238.7 2024.7h0M1326.3 2007.3h0M1273.7 2028.4h0M1211.4 1942.4h0M1315.7 1972.0h0M1249.3 1849.6h0M1280.3 1964.2h0"/><path id="d13_4" d="M1236.2 2014.7h0M1279.2 1916.9h0M1199.3 1981.7h0M1344.9 1992.0h0M1275.7 2033.3h0M1210.9 1911.6h0M1347.0 1929.1h0M1323.7 1924.9h0M1248.7 1906.0h0M1318.4 1931.1h0M1334.4 1962.6h0M1255.4 2020.3h0M1319.9 1956.8h0M1293.1 1998.0h0M1210.4 1941.3h0M1266.9 2000.8h0M1321.9 1916.2h0M1296.1 1906.2h0M1285.2 1878.2h0M1282.1 1972.0h0M1288.5 1905.1h0M1201.6 1922.5h0M1251.5 1914.5h0M1366.5 1961.3h0M1243.2 1922.0h0M1362.2 1934.6h0M1317.0 1971.5h0M1321.8 1899.0h0M1317.6 1863.0h0M1201.1 1953.9h0M1334.9 2019.9h0M1295.8 1936.6h0M1227.5 1951.7h0M1247.4 1857.6h0M1205.4 1936.2h0M1194.7 1959.3h0M1353.6 2003.0h0M1233.4 1948.6h0M1289.0 1932.9h0M1345.5 1930.7h0M1349.8 2016.4h0M1295.4 1901.6h0M1276.8 1941.9h0M1329.6 1862.3h0M1353.2 2001.8h0M1384.2 1906.3h0M1329.1 1870.4h0M1345.9 1956.9h0M1321.5 1850.0h0M1339.4 2008.2h0M1269.3 1954.6h0M1359.1 1916.7h0M1382.8 1928.1h0M1352.2 1887.8h0M1234.9 1891.7h0"/><filter id="pb4" x="-20%" y="-20%" width="140%" height="140%"><feGaussianBlur stdDeviation="4"/></filter><filter id="pb1" x="-5%" y="-5%" width="110%" height="110%"><feGaussianBlur stdDeviation="1"/></filter><filter id="pbs" x="0" y="0" width="100%" height="100%"><feGaussianBlur stdDeviation="0.45"/></filter></defs>
<g clip-path="url(#pc0)"><g filter="url(#pbs)">
<rect x="58.9" y="969.2" width="201.9" height="200.9" fill="#c1c3c0"/>
<circle cx="190" cy="1262" r="97" fill="#c8c5d7" stroke="#7a788c" stroke-width="2"/>
<circle cx="190" cy="1262" r="93" fill="none" stroke="#6e6c82" stroke-opacity="0.6" stroke-width="3" stroke-dasharray="2 1.5"/>
<circle cx="158.2" cy="1068.9" r="97" fill="#c8c5d7" stroke="#8c8b96" stroke-width="1.6"/>
<circle cx="158.2" cy="1068.9" r="93.5" fill="none" stroke="#a9a8b3" stroke-width="1"/>
<path d="M247.3,1053.2A90.5,90.5 0 0 1 150.3,1159.1" fill="none" stroke="#7d5fd6" stroke-opacity="0.55" stroke-width="11.7" stroke-linecap="round" filter="url(#pb4)"/>
<path d="M79.8,1114.2A90.5,90.5 0 0 1 73.2,1037.9" fill="none" stroke="#7d5fd6" stroke-opacity="0.25" stroke-width="7.8" stroke-linecap="round" filter="url(#pb4)"/>
<rect x="-7.5" y="-5" width="15.0" height="10" fill="#9795a6" fill-opacity="0.45" transform="translate(249.7,1068.9) rotate(0)"/>
<rect x="-7.5" y="-5" width="15.0" height="10" fill="#9795a6" fill-opacity="0.45" transform="translate(158.2,1160.4) rotate(90)"/>
<rect x="-7.5" y="-5" width="15.0" height="10" fill="#9795a6" fill-opacity="0.45" transform="translate(66.7,1068.9) rotate(180)"/>
<rect x="-7.5" y="-5" width="15.0" height="10" fill="#9795a6" fill-opacity="0.45" transform="translate(158.2,977.4) rotate(270)"/>
<path d="M219.8 1138.2h0M165.8 981.2h0M68.6 1071.5h0M104.7 993.7h0M229.9 1116.9h0M204.1 992.1h0M164.8 983.1h0M71.8 1099.8h0M170.6 1161.6h0M228.4 1018.8h0M247.4 1083.3h0M240.8 1035.7h0M176.8 1156.3h0M244.5 1084.8h0M75.0 1103.1h0M167.5 1156.3h0M175.7 1156.9h0M136.9 1152.4h0M205.5 991.8h0M103.4 1000.7h0M251.0 1064.6h0M222.5 1130.0h0M141.9 978.7h0M240.5 1034.1h0M202.2 988.8h0M128.4 1154.5h0M226.8 1006.5h0M67.5 1065.9h0M244.1 1087.8h0M184.4 983.5h0M200.2 1148.9h0M131.6 981.5h0M95.0 1132.3h0M66.1 1064.0h0M69.8 1057.2h0M72.1 1074.5h0M246.4 1093.6h0M248.4 1059.3h0M89.6 1123.1h0M64.4 1067.6h0M169.8 979.3h0M214.3 1001.3h0M64.9 1060.8h0M79.0 1026.8h0M147.3 1158.6h0M241.1 1046.0h0M177.6 978.4h0M227.6 1008.6h0M190.9 984.9h0M75.4 1035.3h0M245.4 1101.0h0M78.9 1031.6h0M68.4 1066.2h0M103.0 1138.4h0M69.9 1047.1h0M90.0 1010.7h0M244.7 1084.3h0M198.2 1150.3h0M217.5 998.1h0M185.2 980.4h0M155.1 1161.6h0M117.9 992.2h0M243.8 1077.9h0M161.3 981.0h0M228.5 1126.7h0M109.8 1140.7h0M206.7 1145.0h0M201.6 1145.7h0M136.8 981.9h0M119.0 1149.7h0M246.3 1082.1h0M81.3 1110.6h0M230.5 1127.7h0M70.7 1063.3h0M85.3 1011.9h0M243.6 1080.1h0M213.8 1141.9h0M207.2 1146.3h0M118.8 987.6h0M175.4 1161.1h0M184.9 982.8h0M173.5 1158.8h0M86.6 1124.5h0M118.8 1151.0h0M240.6 1100.8h0M249.3 1050.3h0M126.0 1156.0h0M123.6 1155.8h0M154.7 979.6h0M156.9 1155.0h0M220.6 1009.3h0M197.8 984.0h0M79.2 1031.6h0M221.4 999.6h0M132.5 982.6h0M94.3 1130.5h0M183.3 1156.8h0M78.3 1104.7h0M230.6 1124.6h0M132.5 1155.2h0M115.8 1151.6h0M227.8 1018.1h0M185.1 1153.3h0M250.2 1061.4h0M111.6 1143.2h0M115.8 986.4h0M239.0 1032.2h0M225.8 1007.3h0M64.8 1078.0h0M167.0 1160.3h0M233.5 1113.2h0M232.5 1022.4h0M163.4 978.2h0M206.4 994.1h0M110.7 1143.4h0M219.3 1001.7h0M247.5 1042.5h0M217.8 1136.8h0M226.6 1121.5h0M241.5 1110.1h0" stroke="#8f84c8" stroke-opacity="0.42" stroke-width="4" stroke-linecap="round" fill="none"/>
<circle cx="154.4" cy="1065.8" r="84" fill="#c1c0ce"/>
<path d="M189.0 1001.4h0M118.4 1034.0h0M102.0 1116.3h0M164.6 1127.1h0M151.9 1089.2h0M83.0 1035.2h0M78.0 1086.6h0M164.4 1023.6h0M229.1 1071.6h0M210.9 1102.5h0M175.4 1047.3h0M155.5 1082.2h0M82.4 1104.8h0M168.3 1090.1h0M152.9 1025.4h0M176.8 1051.8h0M204.1 1056.4h0M133.0 1141.3h0M113.4 1071.8h0M139.4 1044.5h0M170.7 1066.9h0M131.4 1144.1h0M93.9 1085.5h0M196.9 1083.6h0M231.7 1051.0h0M216.4 1118.0h0M126.2 1040.0h0M75.9 1044.1h0M118.5 1007.7h0M113.9 1055.0h0M155.4 1111.4h0M149.9 1088.8h0M77.1 1092.0h0M113.2 1013.7h0M92.7 1116.5h0M133.1 1106.1h0M181.0 1027.8h0M129.1 1139.4h0M108.6 1052.7h0M102.8 1030.3h0M194.8 1071.0h0M190.9 1083.6h0M209.5 1092.1h0M139.5 1048.8h0M166.0 1023.0h0M192.0 1021.9h0M122.1 1065.5h0M219.4 1100.0h0M191.6 1136.9h0M226.6 1058.9h0M122.7 1133.4h0M127.6 1063.4h0M133.1 1141.8h0M203.4 1126.3h0M231.4 1081.4h0M192.4 1039.3h0M216.0 1025.1h0M152.6 990.3h0M184.2 1127.3h0M184.0 1111.1h0M120.0 1005.3h0M192.4 1082.1h0M183.3 990.4h0M95.4 1050.1h0M81.7 1087.8h0M127.0 1109.8h0M195.7 1072.2h0M97.1 1098.9h0M211.9 1089.5h0M186.1 1103.2h0M152.7 1094.9h0M94.4 1110.7h0M114.7 1032.0h0M194.1 1067.7h0M94.5 1065.5h0M93.0 1090.9h0M146.5 998.1h0M114.2 1067.0h0M163.3 1122.1h0M105.3 1046.2h0M222.5 1027.0h0M128.2 1031.4h0M170.7 1073.7h0M196.7 1024.8h0M157.7 1033.1h0M125.1 1137.4h0M194.3 1010.1h0M139.3 1018.0h0M95.9 1026.2h0M215.1 1019.7h0M81.7 1030.9h0M154.3 1100.4h0M119.6 1049.6h0M222.2 1088.9h0M140.5 999.3h0M106.1 1061.2h0M150.2 1032.6h0M170.9 1063.8h0M103.2 1012.4h0M190.8 1043.6h0M206.1 1127.6h0M194.0 1005.1h0M133.9 1002.2h0M203.2 1040.7h0M94.4 1120.5h0M87.1 1096.0h0M139.1 1095.5h0M179.0 1049.9h0M213.5 1120.7h0M100.9 1100.6h0M146.4 1092.9h0M154.3 1024.8h0M156.3 1070.6h0M208.5 1073.0h0M103.0 1025.6h0M174.7 1138.3h0M112.0 1054.3h0M117.5 1043.7h0M137.7 1028.1h0M180.8 997.5h0M76.5 1043.0h0M189.9 1020.4h0M89.2 1034.8h0M143.6 1115.6h0M164.0 1040.5h0M153.9 1037.5h0M213.7 1052.5h0M225.2 1053.9h0M124.0 1065.7h0M131.0 1123.5h0M118.1 1111.5h0M214.2 1066.1h0M102.4 1082.9h0M117.7 1092.7h0M124.8 999.2h0M119.8 1019.6h0M168.8 1114.3h0M153.5 1070.8h0M201.3 1022.7h0M79.6 1060.6h0M75.0 1085.4h0M91.2 1106.5h0M225.2 1060.3h0M176.2 1105.7h0M90.8 1053.3h0M203.7 1066.9h0M108.5 1088.9h0M188.1 1025.7h0M148.0 1003.2h0M153.8 987.8h0M152.9 1008.0h0M115.3 1012.8h0M99.9 1101.8h0M110.8 1017.2h0M170.5 987.8h0M162.7 990.5h0M95.8 1020.1h0M149.9 1114.3h0M203.1 1016.5h0M189.5 1115.4h0M79.6 1073.1h0M208.4 1081.6h0M152.5 1007.0h0M121.6 1108.0h0M220.6 1074.1h0M209.7 1046.3h0M98.6 1105.3h0M100.4 1023.9h0M164.3 1102.1h0M145.1 1142.7h0M165.3 1046.1h0M114.1 1109.7h0M149.5 1007.1h0M135.1 1038.1h0M182.0 1002.0h0M121.4 1038.6h0M117.6 1051.0h0M162.9 1032.7h0M117.6 1133.0h0M192.2 1057.0h0M192.9 1008.3h0M166.0 1057.3h0M128.0 1125.2h0M158.3 1011.9h0M181.3 1133.6h0M187.3 1122.0h0M78.2 1094.0h0M143.7 987.9h0M149.6 1129.7h0M192.9 1111.5h0M147.9 1035.9h0M154.8 1016.3h0M146.4 1026.2h0M130.6 1131.4h0M133.0 1082.0h0M201.1 1099.7h0M187.8 1077.9h0M203.1 1024.9h0M191.8 1074.1h0M181.8 1002.4h0M93.2 1013.0h0M179.7 1024.8h0M144.4 1039.3h0M133.9 1080.8h0M112.7 1106.0h0M158.3 1099.4h0M81.9 1083.2h0M169.3 1126.7h0M120.8 1126.8h0M207.8 1031.6h0M233.1 1089.3h0M200.4 1008.5h0M119.9 1097.0h0M209.1 1035.2h0M192.4 1030.2h0M195.7 1124.4h0M232.7 1073.3h0M138.4 1038.8h0M140.1 1079.3h0M125.5 1072.7h0M217.1 1023.8h0M168.8 1071.6h0M227.2 1085.9h0M186.3 1094.8h0M178.9 1070.1h0M152.2 1000.1h0M193.0 1009.5h0M102.8 1108.6h0M218.6 1053.4h0M157.3 1131.7h0M172.9 1057.8h0M117.3 1117.1h0M94.9 1042.1h0M209.6 1088.0h0M112.7 1091.3h0M181.2 1040.7h0M126.4 1020.1h0M151.5 996.3h0M155.4 995.9h0M195.2 1059.7h0M182.3 1050.2h0M200.0 1004.8h0M170.3 1076.1h0M81.6 1080.1h0M204.3 1061.0h0M138.2 1062.6h0M192.4 1105.3h0M140.8 1015.9h0M230.8 1077.7h0M204.7 1097.9h0M217.6 1103.6h0M143.0 1075.9h0M127.1 1130.8h0M162.6 1037.3h0M200.0 1007.6h0M114.0 1086.4h0M116.2 1051.5h0M129.4 1105.9h0M224.5 1046.0h0M204.2 1104.3h0M91.3 1086.9h0M138.8 985.5h0M131.7 994.1h0M202.4 1029.4h0M135.1 1138.4h0M132.0 1089.5h0M203.0 1099.9h0M111.3 1043.9h0M161.2 1050.0h0M128.5 1127.0h0M127.4 1101.7h0M154.0 1018.9h0M96.9 1056.3h0M181.7 1049.5h0M132.4 1107.3h0M175.8 1063.0h0M203.1 1036.1h0M232.3 1050.8h0M220.7 1032.2h0M179.5 990.8h0M124.5 1061.3h0M216.8 1062.9h0M133.2 996.1h0M108.5 1120.2h0M104.8 1003.1h0M103.5 1077.3h0M74.6 1049.5h0M174.5 1092.9h0M91.4 1039.6h0M185.7 1137.7h0M147.1 1013.5h0M169.4 1076.6h0M148.4 1126.3h0M152.4 1092.6h0M89.8 1055.0h0M175.1 1076.0h0M107.2 1006.3h0M176.6 1039.6h0M146.2 1074.8h0M135.7 992.4h0" stroke="#3a2a8a" stroke-opacity="0.7" stroke-width="1.05" stroke-linecap="round" fill="none"/>
<use href="#d0_0" stroke="#9d92ee" stroke-opacity="0.6" stroke-width="4.7" stroke-linecap="round" fill="none" filter="url(#pb1)"/>
<use href="#d0_1" stroke="#9d92ee" stroke-opacity="0.6" stroke-width="5.3" stroke-linecap="round" fill="none" filter="url(#pb1)"/>
<use href="#d0_2" stroke="#9d92ee" stroke-opacity="0.6" stroke-width="5.9" stroke-linecap="round" fill="none" filter="url(#pb1)"/>
<use href="#d0_3" stroke="#9d92ee" stroke-opacity="0.6" stroke-width="6.7" stroke-linecap="round" fill="none" filter="url(#pb1)"/>
<use href="#d0_4" stroke="#9d92ee" stroke-opacity="0.6" stroke-width="7.8" stroke-linecap="round" fill="none" filter="url(#pb1)"/>
<use href="#d0_0" stroke="#3118b8" stroke-width="1.1" stroke-linecap="round" fill="none"/>
<use href="#d0_1" stroke="#3118b8" stroke-width="1.7" stroke-linecap="round" fill="none"/>
<use href="#d0_2" stroke="#3118b8" stroke-width="2.3" stroke-linecap="round" fill="none"/>
<use href="#d0_3" stroke="#3118b8" stroke-width="3.1" stroke-linecap="round" fill="none"/>
<use href="#d0_4" stroke="#3118b8" stroke-width="4.2" stroke-linecap="round" fill="none"/>
<circle cx="154.4" cy="1065.8" r="84" fill="none" stroke="#3c3a55" stroke-width="1.1"/>
</g></g>
<g clip-path="url(#pc1)"><g filter="url(#pbs)">
<rect x="268.5" y="969.2" width="202.3" height="200.9" fill="#c1c3c0"/>
<circle cx="560" cy="1069" r="97" fill="#c8c5d7" stroke="#7a788c" stroke-width="2"/>
<circle cx="560" cy="1069" r="93" fill="none" stroke="#6e6c82" stroke-opacity="0.6" stroke-width="3" stroke-dasharray="2 1.5"/>
<circle cx="365" cy="1260" r="97" fill="#c8c5d7" stroke="#7a788c" stroke-width="2"/>
<circle cx="365" cy="1260" r="93" fill="none" stroke="#6e6c82" stroke-opacity="0.6" stroke-width="3" stroke-dasharray="2 1.5"/>
<circle cx="368.1" cy="1069.3" r="97" fill="#c8c5d7" stroke="#8c8b96" stroke-width="1.6"/>
<circle cx="368.1" cy="1069.3" r="93.5" fill="none" stroke="#a9a8b3" stroke-width="1"/>
<path d="M445.0,1113.7A88.85,88.85 0 0 1 282.3,1092.3" fill="none" stroke="#7d5fd6" stroke-opacity="0.6" stroke-width="16.3" stroke-linecap="round" filter="url(#pb4)"/>
<path d="M438.7,1108.1A86.59,86.59 0 0 1 288.7,1108.1" fill="none" stroke="#7c7a90" stroke-opacity="0.45" stroke-width="9.8" filter="url(#pb1)"/>
<path d="M435.3,1106.1A82.7,82.7 0 0 1 292.1,1106.1" fill="none" stroke="#5e5c72" stroke-opacity="0.5" stroke-width="0.9" stroke-dasharray="2 1.5"/>
<path d="M438.0,1107.7A85.75625000000001,85.75625000000001 0 0 1 289.4,1107.7" fill="none" stroke="#5e5c72" stroke-opacity="0.5" stroke-width="0.9" stroke-dasharray="2 1.5"/>
<path d="M440.6,1109.2A88.8125,88.8125 0 0 1 286.8,1109.2" fill="none" stroke="#5e5c72" stroke-opacity="0.5" stroke-width="0.9" stroke-dasharray="2 1.5"/>
<path d="M443.3,1110.7A91.86875,91.86875 0 0 1 284.1,1110.7" fill="none" stroke="#5e5c72" stroke-opacity="0.5" stroke-width="0.9" stroke-dasharray="2 1.5"/>
<rect x="-9.1" y="-5" width="18.3" height="10" fill="#9795a6" fill-opacity="0.45" transform="translate(458.0,1069.3) rotate(0)"/>
<rect x="-9.1" y="-5" width="18.3" height="10" fill="#9795a6" fill-opacity="0.45" transform="translate(368.1,1159.1) rotate(90)"/>
<rect x="-9.1" y="-5" width="18.3" height="10" fill="#9795a6" fill-opacity="0.45" transform="translate(278.2,1069.3) rotate(180)"/>
<rect x="-9.1" y="-5" width="18.3" height="10" fill="#9795a6" fill-opacity="0.45" transform="translate(368.1,979.4) rotate(270)"/>
<path d="M458.0 1043.8h0M446.5 1098.4h0M414.7 991.1h0M326.5 993.8h0M297.7 1014.0h0M294.4 1028.0h0M289.1 1106.1h0M352.2 976.7h0M452.5 1041.5h0M287.5 1098.4h0M449.0 1087.9h0M283.9 1088.2h0M300.5 1132.8h0M280.2 1055.0h0M375.3 1152.0h0M329.8 1144.3h0M274.3 1063.3h0M329.4 993.9h0M440.1 1012.4h0M359.0 976.8h0M375.5 978.0h0M311.2 1143.8h0M450.2 1049.3h0M370.4 978.5h0M282.0 1090.6h0M275.1 1075.1h0M276.0 1068.8h0M311.8 1142.9h0M439.1 1017.5h0M283.3 1030.9h0M353.6 982.3h0M383.3 1154.3h0M341.7 988.9h0M439.9 1022.4h0M441.3 1023.7h0M455.5 1045.3h0M279.6 1066.9h0M316.2 996.6h0M335.9 1148.0h0M275.1 1062.3h0M308.4 1010.9h0M407.0 987.1h0M439.1 1022.8h0M365.4 986.0h0M319.0 999.0h0M381.7 1160.9h0M437.7 1124.2h0M420.0 1001.4h0M390.9 1159.1h0M287.7 1111.6h0M453.2 1086.6h0M410.7 1148.9h0M449.2 1115.8h0M457.9 1083.7h0M452.9 1080.6h0M400.8 991.4h0M404.7 1152.1h0M305.5 1124.1h0M452.3 1064.0h0M452.5 1088.9h0M299.9 1009.0h0M433.7 1125.7h0M454.2 1086.2h0M377.2 978.7h0M442.6 1016.6h0M427.0 1000.3h0M284.1 1083.8h0M322.3 996.2h0M438.4 1121.8h0M427.5 1009.7h0M293.1 1025.0h0M284.1 1061.5h0M451.0 1047.9h0M299.4 1015.2h0M456.5 1079.4h0M421.0 1133.7h0M450.7 1087.0h0M442.2 1120.2h0M274.4 1064.4h0M454.1 1031.5h0M377.7 1156.5h0M367.7 1158.7h0M302.9 1004.8h0M346.6 986.5h0M289.6 1110.5h0M451.2 1071.8h0M297.6 1114.9h0M354.1 985.0h0M436.7 1119.0h0M378.0 1153.9h0M280.9 1057.9h0M335.1 1153.0h0M389.8 1159.7h0M456.6 1048.4h0M287.2 1105.1h0M295.4 1028.7h0M291.0 1113.0h0M403.2 1145.4h0M396.3 987.2h0M275.7 1058.1h0M302.0 1014.3h0M454.5 1060.3h0M457.9 1080.1h0M437.4 1120.4h0M416.8 993.2h0M455.5 1078.0h0M293.4 1116.2h0M391.3 1155.6h0M444.9 1107.7h0M303.0 1136.1h0M449.0 1111.5h0M399.7 1152.7h0M299.7 1124.6h0M370.1 982.2h0M428.8 1127.5h0M448.8 1114.0h0M308.9 996.9h0M338.8 991.6h0M318.7 992.3h0M353.5 982.2h0" stroke="#8f84c8" stroke-opacity="0.42" stroke-width="4" stroke-linecap="round" fill="none"/>
<circle cx="363.7" cy="1064.8" r="80.7" fill="#c1c0ce"/>
<path d="M318.1 1077.4h0M355.3 1135.0h0M306.9 1072.9h0M389.6 992.0h0M403.0 999.3h0M368.7 1107.6h0M360.4 1120.0h0M341.4 1018.1h0M298.7 1025.8h0M422.6 1105.4h0M410.9 1064.1h0M337.5 1079.9h0M381.2 1075.3h0M438.3 1059.5h0M407.7 1110.8h0M368.6 1107.6h0M336.5 1006.0h0M311.9 1056.9h0M338.1 1058.1h0M366.5 987.8h0M339.3 1062.3h0M360.6 1131.6h0M291.1 1083.0h0M309.0 1102.4h0M379.9 987.6h0M400.5 1112.1h0M415.3 1074.4h0M408.7 1023.5h0M330.2 1062.7h0M318.3 1095.7h0M425.2 1039.0h0M298.3 1076.2h0M326.0 1132.6h0M326.6 1007.5h0M405.0 1009.5h0M336.6 1038.9h0M338.7 1021.3h0M311.9 1006.2h0M355.4 1066.7h0M413.2 1020.1h0M389.4 1006.5h0M373.4 1061.2h0M310.7 1022.9h0M420.0 1014.9h0M373.7 1041.8h0M385.3 1130.6h0M305.2 1029.6h0M375.3 1032.2h0M341.3 1045.8h0M362.5 1116.9h0M305.5 1077.0h0M398.7 1057.4h0M385.0 1065.2h0M392.4 1017.8h0M365.6 1000.7h0M338.6 1015.8h0M358.8 1110.3h0M418.9 1074.5h0M364.3 1042.5h0M363.8 1031.8h0M305.9 1104.4h0M378.8 1001.6h0M412.4 1119.9h0M340.2 1086.4h0M348.7 1116.6h0M356.2 1062.0h0M311.7 1122.7h0M320.8 1103.9h0M399.8 1026.5h0M337.7 1029.4h0M310.3 1051.6h0M430.7 1099.9h0M339.7 1132.5h0M381.8 1003.8h0M313.7 1104.6h0M424.2 1104.8h0M314.9 1104.6h0M397.8 1018.4h0M315.0 1013.7h0M368.4 1108.4h0M369.7 1118.0h0M403.9 1053.9h0M374.8 1040.8h0M331.6 1101.4h0M403.2 1085.7h0M390.5 1111.1h0M350.0 1115.6h0M429.6 1029.5h0M330.1 1024.4h0M328.6 1132.5h0M365.6 1089.7h0M348.7 1033.8h0M333.8 1102.8h0M371.1 1134.9h0M316.0 1012.1h0M386.0 1020.0h0M397.1 1032.8h0M287.6 1063.6h0M426.0 1044.0h0M364.1 996.7h0M431.5 1035.8h0M431.8 1055.8h0M333.0 1035.1h0M320.1 1112.7h0M386.3 1109.1h0M316.6 1126.3h0M406.5 1030.9h0M396.8 1056.4h0M391.5 1069.7h0M334.0 1101.0h0M420.0 1014.1h0M300.1 1091.6h0M368.5 1122.9h0M308.1 1110.9h0M336.4 1032.7h0M351.3 1092.9h0M426.6 1107.6h0M372.1 1093.4h0M328.9 1083.8h0M341.9 1097.8h0M366.1 1104.0h0M331.8 1117.7h0M369.1 1016.8h0M375.8 1080.2h0M297.7 1096.0h0M410.6 1116.5h0M396.0 1017.6h0M368.9 1019.1h0M315.0 1102.8h0M302.1 1114.3h0M323.9 1027.7h0M387.0 1026.9h0M311.7 1032.7h0M421.5 1059.3h0M406.2 998.6h0M318.4 1092.9h0M418.6 1081.2h0M389.7 1064.0h0M389.9 1053.9h0M419.8 1031.6h0M356.1 1085.5h0M434.2 1068.7h0M348.5 1085.6h0M383.6 1091.0h0M417.9 1100.1h0M317.6 1001.9h0M377.9 1054.3h0M325.1 1069.3h0M401.8 1110.0h0M415.8 1085.5h0M394.5 1047.5h0M292.7 1054.5h0M410.0 1018.8h0M334.1 1066.3h0M385.1 1084.0h0M369.9 1090.1h0M367.7 1082.6h0M328.8 1030.9h0M424.1 1023.3h0M296.8 1061.8h0M403.1 1129.5h0M374.3 1041.4h0M379.2 1125.5h0M349.4 1111.2h0M317.0 1087.6h0M378.4 1017.1h0M297.9 1037.6h0M352.0 1117.9h0M432.7 1059.1h0M352.7 1028.6h0M327.7 1009.4h0M350.6 1060.4h0M375.9 1098.2h0M326.8 1017.2h0M360.6 1002.3h0M298.2 1075.1h0M366.1 1047.7h0M400.4 1003.2h0M423.1 1079.3h0M390.9 1086.8h0M303.1 1047.5h0M396.5 1055.4h0M426.8 1018.5h0M349.7 1116.8h0M379.9 1032.5h0M352.4 1130.0h0M295.5 1033.3h0M319.9 1090.5h0M299.2 1083.4h0M409.9 1109.4h0M354.5 1130.4h0M380.4 1138.4h0M319.3 1054.0h0M314.8 1056.9h0M386.7 1137.3h0M339.5 999.7h0M297.3 1087.4h0M333.5 1108.7h0M362.1 1119.2h0M329.5 1070.0h0M329.7 1071.4h0M341.8 1120.6h0M337.9 1044.8h0M376.4 1137.0h0M330.0 1012.7h0M332.9 997.1h0M375.3 1107.1h0M341.7 1133.7h0M369.8 1058.3h0M350.1 1097.3h0M362.0 1109.4h0M326.6 1121.0h0M317.8 1090.3h0M435.4 1073.1h0M404.4 1109.2h0M339.7 1045.7h0M408.2 1084.0h0M415.8 1033.7h0M300.2 1066.6h0M424.8 1029.1h0M354.3 1094.1h0M433.1 1030.0h0M353.5 1030.7h0M301.6 1024.7h0M298.2 1054.9h0M372.5 1102.1h0M353.8 1047.8h0M342.4 1044.5h0M318.2 1084.1h0M303.1 1113.8h0M324.0 1102.1h0M369.6 1101.0h0M387.4 1012.2h0M386.1 1056.8h0M425.0 1086.3h0M309.5 1103.4h0M409.4 1098.4h0M307.6 1057.7h0M302.6 1030.8h0M357.3 998.7h0M400.4 1070.6h0M401.3 1104.5h0M350.7 1091.6h0M320.4 1026.2h0M423.2 1042.4h0M340.1 1055.8h0M352.5 1044.4h0M397.0 1105.1h0M340.2 1027.5h0M414.8 1046.2h0" stroke="#3a2a8a" stroke-opacity="0.7" stroke-width="1.05" stroke-linecap="round" fill="none"/>
<use href="#d1_0" stroke="#9d92ee" stroke-opacity="0.6" stroke-width="4.7" stroke-linecap="round" fill="none" filter="url(#pb1)"/>
<use href="#d1_1" stroke="#9d92ee" stroke-opacity="0.6" stroke-width="5.3" stroke-linecap="round" fill="none" filter="url(#pb1)"/>
<use href="#d1_2" stroke="#9d92ee" stroke-opacity="0.6" stroke-width="5.9" stroke-linecap="round" fill="none" filter="url(#pb1)"/>
<use href="#d1_3" stroke="#9d92ee" stroke-opacity="0.6" stroke-width="6.7" stroke-linecap="round" fill="none" filter="url(#pb1)"/>
<use href="#d1_4" stroke="#9d92ee" stroke-opacity="0.6" stroke-width="7.8" stroke-linecap="round" fill="none" filter="url(#pb1)"/>
<use href="#d1_0" stroke="#3118b8" stroke-width="1.1" stroke-linecap="round" fill="none"/>
<use href="#d1_1" stroke="#3118b8" stroke-width="1.7" stroke-linecap="round" fill="none"/>
<use href="#d1_2" stroke="#3118b8" stroke-width="2.3" stroke-linecap="round" fill="none"/>
<use href="#d1_3" stroke="#3118b8" stroke-width="3.1" stroke-linecap="round" fill="none"/>
<use href="#d1_4" stroke="#3118b8" stroke-width="4.2" stroke-linecap="round" fill="none"/>
<circle cx="363.7" cy="1064.8" r="80.7" fill="none" stroke="#3c3a55" stroke-width="1.1"/>
</g></g>
<g clip-path="url(#pc2)"><g filter="url(#pbs)">
<rect x="479.9" y="969.2" width="200.9" height="200.9" fill="#c1c3c0"/>
<circle cx="387" cy="1069" r="97" fill="#c8c5d7" stroke="#7a788c" stroke-width="2"/>
<circle cx="387" cy="1069" r="93" fill="none" stroke="#6e6c82" stroke-opacity="0.6" stroke-width="3" stroke-dasharray="2 1.5"/>
<circle cx="579.7" cy="1069.3" r="97.5" fill="#c8c5d7" stroke="#8c8b96" stroke-width="1.6"/>
<circle cx="579.7" cy="1069.3" r="94.0" fill="none" stroke="#a9a8b3" stroke-width="1"/>
<path d="M571.9,1158.0A89.05,89.05 0 0 1 491.0,1077.1" fill="none" stroke="#7d5fd6" stroke-opacity="0.6" stroke-width="16.9" stroke-linecap="round" filter="url(#pb4)"/>
<path d="M551.1,1150.2A86.67,86.67 0 0 1 495.3,1053.7" fill="none" stroke="#7c7a90" stroke-opacity="0.45" stroke-width="10.1" filter="url(#pb1)"/>
<path d="M552.4,1146.4A82.6,82.6 0 0 1 499.4,1054.5" fill="none" stroke="#5e5c72" stroke-opacity="0.5" stroke-width="0.9" stroke-dasharray="2 1.5"/>
<path d="M551.4,1149.4A85.76875,85.76875 0 0 1 496.2,1053.9" fill="none" stroke="#5e5c72" stroke-opacity="0.5" stroke-width="0.9" stroke-dasharray="2 1.5"/>
<path d="M550.3,1152.4A88.9375,88.9375 0 0 1 493.1,1053.4" fill="none" stroke="#5e5c72" stroke-opacity="0.5" stroke-width="0.9" stroke-dasharray="2 1.5"/>
<path d="M549.2,1155.4A92.10624999999999,92.10624999999999 0 0 1 490.0,1052.8" fill="none" stroke="#5e5c72" stroke-opacity="0.5" stroke-width="0.9" stroke-dasharray="2 1.5"/>
<rect x="-9.5" y="-5" width="18.9" height="10" fill="#9795a6" fill-opacity="0.45" transform="translate(669.8,1069.3) rotate(0)"/>
<rect x="-9.5" y="-5" width="18.9" height="10" fill="#9795a6" fill-opacity="0.45" transform="translate(579.7,1159.3) rotate(90)"/>
<rect x="-9.5" y="-5" width="18.9" height="10" fill="#9795a6" fill-opacity="0.45" transform="translate(489.7,1069.3) rotate(180)"/>
<rect x="-9.5" y="-5" width="18.9" height="10" fill="#9795a6" fill-opacity="0.45" transform="translate(579.7,979.2) rotate(270)"/>
<path d="M586.4 1158.1h0M518.3 1134.8h0M521.0 1010.1h0M671.9 1076.9h0M574.7 1154.5h0M667.9 1066.9h0M625.3 993.7h0M525.5 1004.6h0M518.2 999.6h0M489.2 1056.0h0M540.2 995.9h0M584.3 979.8h0M553.4 1148.0h0M638.3 1003.3h0M561.6 978.0h0M558.8 978.1h0M506.9 1125.8h0M491.6 1101.3h0M640.3 1011.5h0M635.6 1133.5h0M665.4 1050.4h0M519.4 1007.7h0M492.6 1065.3h0M526.6 1141.5h0M499.1 1022.2h0M540.9 984.1h0M638.2 995.2h0M539.6 994.9h0M640.0 997.1h0M653.5 1018.9h0M560.5 986.4h0M623.6 991.4h0M561.5 1150.7h0M637.0 994.3h0M657.9 1117.9h0M508.3 1114.3h0M554.7 1157.6h0M637.6 1009.7h0M517.2 1014.5h0M562.7 984.5h0M648.8 1005.2h0M485.3 1066.1h0M549.1 1147.0h0M512.5 1020.6h0M608.1 1152.0h0M514.8 1015.3h0M669.3 1093.8h0M543.0 1155.8h0M649.1 1016.6h0M493.6 1091.2h0M524.2 998.8h0M495.9 1036.6h0M662.2 1037.0h0M496.9 1107.5h0M586.4 1155.2h0M667.6 1057.0h0M500.8 1044.5h0M502.6 1114.8h0M668.9 1080.6h0M523.5 1007.8h0M518.3 1006.1h0M542.4 990.9h0M555.3 981.2h0M662.2 1080.9h0M537.5 985.2h0M579.1 1157.3h0M507.5 1021.8h0M523.0 1134.4h0M518.7 1135.0h0M552.6 1152.1h0M591.3 987.2h0M496.9 1030.8h0M548.3 1148.6h0M608.0 988.7h0M613.3 1150.4h0M552.8 989.9h0M541.9 1147.2h0M623.7 993.3h0M631.8 1002.6h0M532.9 1146.6h0M645.6 1011.1h0M592.8 1152.3h0M496.3 1053.6h0M612.0 982.6h0M614.5 1147.8h0M611.5 984.8h0M609.7 988.0h0M638.7 1131.9h0M603.1 986.7h0M529.9 1141.3h0M503.1 1111.6h0M653.9 1028.9h0M673.5 1072.0h0M648.5 1004.7h0M493.7 1106.9h0M656.2 1031.7h0M577.1 976.8h0M533.5 993.5h0M558.7 1153.4h0M591.5 1151.9h0" stroke="#8f84c8" stroke-opacity="0.42" stroke-width="4" stroke-linecap="round" fill="none"/>
<circle cx="580.7" cy="1068.8" r="80.6" fill="#c1c0ce"/>
<path d="M566.7 1127.8h0M649.0 1088.7h0M554.7 998.4h0M641.1 1022.9h0M514.4 1034.0h0M580.4 1059.7h0M570.6 1099.9h0M517.2 1058.8h0M627.8 1049.8h0M547.1 1120.7h0M606.3 1038.5h0M591.7 1015.4h0M595.9 1113.1h0M604.2 1016.1h0M589.2 1037.2h0M606.9 997.6h0M652.3 1072.2h0M621.4 1021.2h0M578.3 1086.3h0M540.4 1061.8h0M530.1 1077.5h0M650.3 1069.6h0M593.6 1082.0h0M606.0 1080.4h0M628.3 1007.0h0M557.5 1068.5h0M563.2 1109.6h0M552.5 1031.5h0M541.9 1115.2h0M564.3 1099.2h0M554.6 1059.3h0M531.9 1114.5h0M590.4 1088.9h0M542.5 1039.4h0M529.7 1116.5h0M530.1 1019.5h0M544.6 1106.1h0M564.5 1015.6h0M563.1 1020.7h0M582.4 1122.4h0M561.2 1014.4h0M561.9 1078.4h0M618.2 1033.4h0M526.9 1123.1h0M599.7 996.4h0M541.3 1077.8h0M591.4 1043.2h0M629.5 1027.0h0M545.9 1007.7h0M518.4 1042.4h0M559.1 1055.5h0M584.1 1073.1h0M647.5 1087.9h0M600.1 1082.8h0M612.6 1135.7h0M587.3 1058.6h0M596.0 1045.9h0M614.1 1013.2h0M512.9 1032.1h0M649.5 1084.7h0M511.7 1063.9h0M633.0 1110.3h0M643.4 1041.5h0M571.9 1086.2h0M608.6 1016.5h0M597.3 1103.9h0M551.2 1042.5h0M526.9 1111.3h0M542.6 1097.8h0M540.0 1091.8h0M557.9 1068.8h0M514.2 1109.4h0M617.1 1126.6h0M583.2 1003.2h0M516.2 1061.9h0M546.5 1025.8h0M624.9 1129.1h0M580.4 1044.3h0M505.5 1060.6h0M570.5 1017.2h0M577.0 1102.7h0M550.4 1050.7h0M585.6 1112.8h0M643.6 1049.9h0M568.8 1027.5h0M611.5 1028.4h0M574.2 1128.8h0M617.2 1074.1h0M540.2 1105.5h0M559.7 1094.0h0M587.5 1024.5h0M610.6 1067.1h0M536.2 1036.9h0M608.1 1022.2h0M513.7 1043.7h0M570.7 1014.9h0M521.5 1111.7h0M646.3 1052.1h0M587.6 1122.4h0M573.0 1031.3h0M643.4 1052.1h0M584.3 1141.7h0M578.8 1103.1h0M571.1 1036.0h0M639.8 1025.7h0M607.1 1038.9h0M541.5 1089.3h0M638.5 1103.5h0M592.8 1048.0h0M554.2 1102.2h0M553.6 1015.1h0M577.4 1074.4h0M528.7 1073.4h0M549.5 1050.3h0M520.9 1117.7h0M623.4 1108.5h0M559.7 1033.1h0M600.8 1051.6h0M642.5 1111.9h0M526.8 1123.3h0M583.9 999.5h0M561.4 1030.4h0M602.7 1008.8h0M581.8 1028.1h0M544.6 1000.3h0M624.5 1106.6h0M547.5 1113.3h0M551.6 1008.5h0M605.3 1122.9h0M537.5 1022.3h0M606.4 1047.5h0M626.4 1113.5h0M628.8 1128.0h0M572.3 1024.1h0M523.2 1048.1h0M519.4 1085.5h0M600.4 1108.3h0M576.3 1048.6h0M514.6 1050.4h0M537.7 1121.4h0M550.4 1096.0h0M651.9 1088.1h0M581.7 1124.9h0M538.6 1123.8h0M543.3 1094.8h0M588.6 1011.2h0M607.5 1030.3h0M577.3 1095.0h0M599.6 1085.0h0M570.8 999.8h0M593.4 1100.3h0M578.6 1017.9h0M580.1 997.5h0M617.5 1117.2h0M598.0 1115.6h0M528.5 1044.9h0M580.7 1104.3h0M649.3 1081.9h0M635.6 1024.1h0M523.6 1120.4h0M529.8 1039.5h0M642.9 1059.7h0M560.7 1131.1h0M507.8 1076.1h0M571.8 1008.2h0M581.2 1065.0h0M516.5 1072.1h0M525.3 1082.8h0M546.6 1062.4h0M565.5 1068.8h0M521.1 1090.6h0M638.2 1053.7h0M629.8 1124.9h0M530.4 1019.6h0M569.4 1082.5h0M614.4 1086.7h0M633.1 1044.1h0M611.5 1036.2h0M624.4 1118.0h0M521.8 1025.4h0M564.6 994.5h0M543.0 1125.3h0M645.2 1039.3h0M513.1 1097.1h0M512.3 1075.3h0M605.9 1075.7h0M587.5 1089.8h0M549.0 1069.4h0M516.5 1053.4h0M550.3 1027.4h0M538.2 1078.5h0M524.7 1108.7h0M607.8 1049.0h0M535.8 1118.5h0M533.4 1060.0h0M590.7 1129.0h0M581.7 1072.8h0M624.1 1123.6h0M598.8 1119.2h0M598.0 1100.5h0M605.4 1112.5h0M590.8 1077.2h0M548.4 1070.8h0M599.8 1071.5h0M536.5 1097.8h0M643.6 1089.7h0M540.8 1099.1h0M593.3 1066.0h0M611.4 1089.4h0M608.5 1115.6h0M545.2 1120.0h0M607.0 1077.7h0M570.1 1135.3h0M512.2 1083.9h0M556.9 1141.3h0M576.8 1108.1h0M531.6 1017.1h0M619.3 1094.6h0M644.7 1056.3h0M641.5 1070.2h0M592.3 1076.2h0M612.4 1076.2h0M570.3 1053.7h0M603.6 1140.2h0M503.6 1080.1h0M642.2 1033.7h0M655.5 1085.1h0M546.6 1041.7h0M646.2 1109.1h0M605.8 1034.2h0M560.1 1085.9h0M561.3 1027.5h0M615.4 1136.5h0M573.9 1001.2h0M512.5 1045.1h0M531.3 1126.4h0M587.3 1119.2h0M511.5 1077.3h0M600.5 1104.7h0M527.9 1027.5h0M530.3 1112.3h0M612.0 1114.2h0M646.6 1078.4h0M583.6 1014.9h0M634.0 1106.0h0M602.1 1036.8h0M626.4 1025.0h0M510.6 1091.6h0M572.7 994.4h0M549.4 1102.0h0" stroke="#3a2a8a" stroke-opacity="0.7" stroke-width="1.05" stroke-linecap="round" fill="none"/>
<use href="#d2_0" stroke="#9d92ee" stroke-opacity="0.6" stroke-width="4.7" stroke-linecap="round" fill="none" filter="url(#pb1)"/>
<use href="#d2_1" stroke="#9d92ee" stroke-opacity="0.6" stroke-width="5.3" stroke-linecap="round" fill="none" filter="url(#pb1)"/>
<use href="#d2_2" stroke="#9d92ee" stroke-opacity="0.6" stroke-width="5.9" stroke-linecap="round" fill="none" filter="url(#pb1)"/>
<use href="#d2_3" stroke="#9d92ee" stroke-opacity="0.6" stroke-width="6.7" stroke-linecap="round" fill="none" filter="url(#pb1)"/>
<use href="#d2_4" stroke="#9d92ee" stroke-opacity="0.6" stroke-width="7.8" stroke-linecap="round" fill="none" filter="url(#pb1)"/>
<use href="#d2_0" stroke="#3118b8" stroke-width="1.1" stroke-linecap="round" fill="none"/>
<use href="#d2_1" stroke="#3118b8" stroke-width="1.7" stroke-linecap="round" fill="none"/>
<use href="#d2_2" stroke="#3118b8" stroke-width="2.3" stroke-linecap="round" fill="none"/>
<use href="#d2_3" stroke="#3118b8" stroke-width="3.1" stroke-linecap="round" fill="none"/>
<use href="#d2_4" stroke="#3118b8" stroke-width="4.2" stroke-linecap="round" fill="none"/>
<circle cx="580.7" cy="1068.8" r="80.6" fill="none" stroke="#3c3a55" stroke-width="1.1"/>
</g></g>
<g clip-path="url(#pc3)"><g filter="url(#pbs)">
<rect x="58.9" y="1177.9" width="201.9" height="201.3" fill="#c1c3c0"/>
<circle cx="167" cy="1086" r="97" fill="#c8c5d7" stroke="#7a788c" stroke-width="2"/>
<circle cx="167" cy="1086" r="93" fill="none" stroke="#6e6c82" stroke-opacity="0.6" stroke-width="3" stroke-dasharray="2 1.5"/>
<circle cx="159" cy="1279.2" r="96.5" fill="#c8c5d7" stroke="#8c8b96" stroke-width="1.6"/>
<circle cx="159" cy="1279.2" r="93.0" fill="none" stroke="#a9a8b3" stroke-width="1"/>
<path d="M143.6,1191.8A88.75,88.75 0 0 1 246.4,1263.8" fill="none" stroke="#6a5a9a" stroke-opacity="0.45" stroke-width="14.0" stroke-linecap="round" filter="url(#pb4)"/>
<rect x="-8.8" y="-5" width="17.5" height="10" fill="#9795a6" fill-opacity="0.45" transform="translate(248.8,1279.2) rotate(0)"/>
<rect x="-8.8" y="-5" width="17.5" height="10" fill="#9795a6" fill-opacity="0.45" transform="translate(159.0,1369.0) rotate(90)"/>
<rect x="-8.8" y="-5" width="17.5" height="10" fill="#9795a6" fill-opacity="0.45" transform="translate(69.2,1279.2) rotate(180)"/>
<rect x="-8.8" y="-5" width="17.5" height="10" fill="#9795a6" fill-opacity="0.45" transform="translate(159.0,1189.5) rotate(270)"/>
<path d="M166.4 1363.0h0M91.8 1330.6h0M238.7 1314.6h0M238.5 1234.1h0M167.1 1194.3h0M75.4 1259.6h0M198.3 1353.6h0M179.6 1369.6h0M202.5 1198.7h0M185.5 1198.4h0M126.1 1362.5h0M148.6 1187.8h0M220.2 1221.8h0M88.1 1223.6h0M74.2 1276.0h0M76.2 1293.1h0M243.4 1242.4h0M76.7 1253.8h0M233.8 1231.0h0M226.9 1217.3h0M71.8 1274.6h0M87.8 1228.2h0M204.6 1352.4h0M191.0 1202.1h0M244.8 1304.9h0M142.2 1366.2h0M73.8 1294.8h0M244.0 1277.7h0M86.3 1323.5h0M101.3 1215.6h0M102.9 1350.7h0M120.8 1359.4h0M228.3 1231.7h0M238.1 1311.4h0M167.5 1190.1h0M165.8 1365.4h0M197.6 1358.1h0M246.1 1303.2h0M232.8 1222.6h0M150.2 1186.5h0M244.5 1289.0h0M248.1 1259.9h0M80.4 1328.8h0M92.4 1216.3h0M136.1 1361.1h0M79.7 1308.2h0M90.5 1342.2h0M118.4 1351.7h0M240.4 1302.7h0M177.3 1194.3h0M137.9 1360.5h0M245.9 1269.2h0M180.9 1359.9h0M238.7 1308.1h0M121.5 1203.4h0M244.3 1301.6h0M159.6 1372.7h0M222.7 1340.7h0M172.0 1192.9h0M246.8 1272.4h0M163.5 1366.4h0M244.1 1299.3h0M159.8 1371.5h0M202.0 1202.2h0M243.0 1296.1h0M163.1 1364.3h0M169.7 1370.7h0M211.6 1344.1h0M239.0 1240.3h0M246.1 1274.0h0M232.0 1226.8h0M182.1 1191.4h0M75.1 1282.2h0M181.4 1368.6h0M233.9 1224.6h0M112.5 1356.1h0M186.5 1193.8h0M194.1 1197.9h0M108.2 1204.7h0M148.4 1371.3h0M239.6 1256.5h0M250.6 1262.4h0M118.0 1206.5h0M226.9 1229.2h0M247.3 1261.5h0M237.7 1310.6h0M100.2 1212.4h0M157.0 1186.5h0M175.3 1360.6h0M232.4 1240.2h0" stroke="#8f84c8" stroke-opacity="0.42" stroke-width="4" stroke-linecap="round" fill="none"/>
<circle cx="161.7" cy="1278" r="81" fill="#c1c0ce"/>
<path d="M217.2 1327.5h0M176.4 1208.1h0M91.1 1254.7h0M184.0 1349.0h0M130.1 1334.9h0M172.8 1203.9h0M107.9 1269.0h0M174.3 1280.7h0M100.6 1282.3h0M104.3 1231.6h0M142.5 1300.5h0M92.9 1268.0h0M166.0 1271.1h0M223.8 1314.8h0M118.8 1317.7h0M135.3 1343.3h0M123.5 1281.2h0M226.2 1321.9h0M142.2 1259.5h0M87.2 1272.2h0M194.5 1237.3h0M225.6 1306.6h0M186.6 1348.2h0M184.3 1240.6h0M177.1 1228.8h0M184.6 1254.9h0M181.4 1304.9h0M132.2 1325.4h0M209.8 1244.9h0M228.6 1280.3h0M119.1 1265.6h0M149.8 1223.9h0M210.8 1303.3h0M184.3 1245.8h0M166.7 1230.8h0M106.6 1221.7h0M111.3 1236.5h0M199.6 1254.9h0M207.8 1249.3h0M191.2 1245.5h0M108.3 1232.1h0M195.2 1318.8h0M116.5 1331.1h0M204.9 1326.0h0M175.8 1295.9h0M193.0 1342.2h0M109.4 1332.3h0M126.2 1326.6h0M213.8 1312.7h0M208.1 1258.3h0M142.7 1250.3h0M147.5 1321.1h0M173.7 1279.5h0M198.9 1210.2h0M186.7 1211.5h0M203.9 1343.0h0M101.1 1279.8h0M217.3 1255.1h0M229.6 1264.4h0M146.0 1255.9h0M159.7 1212.8h0M192.2 1223.6h0M201.0 1258.9h0M120.6 1248.5h0M140.1 1206.0h0M167.1 1321.8h0M130.0 1245.6h0M225.5 1231.0h0M121.0 1307.3h0M146.6 1348.2h0M212.5 1282.2h0M128.7 1269.5h0M112.1 1234.4h0M207.4 1263.5h0M196.6 1330.1h0M182.1 1274.6h0M230.8 1240.0h0M138.2 1335.0h0M160.5 1302.0h0M195.4 1261.7h0M174.8 1204.2h0M163.9 1308.5h0M202.8 1264.0h0M169.8 1247.0h0M99.1 1258.9h0M155.7 1355.5h0M193.3 1326.0h0M185.9 1282.9h0M193.9 1308.9h0M181.3 1277.1h0M194.6 1250.8h0M153.9 1211.9h0M223.1 1259.2h0M147.5 1205.0h0M141.1 1222.3h0M97.8 1256.2h0M193.6 1324.4h0M89.1 1285.2h0M171.9 1296.0h0M158.9 1352.2h0M141.2 1232.8h0M126.8 1342.9h0M118.0 1300.9h0M171.2 1268.7h0M172.3 1275.3h0M178.9 1303.8h0M194.2 1212.5h0M125.6 1265.4h0M150.9 1224.3h0M177.3 1247.6h0M140.3 1201.7h0M232.0 1248.7h0M189.8 1238.0h0M99.8 1240.2h0M142.7 1260.3h0M136.0 1349.3h0M212.7 1239.6h0M221.5 1292.3h0M159.5 1341.1h0M123.1 1215.4h0M196.6 1251.2h0M128.4 1331.2h0M218.0 1232.4h0M217.4 1227.8h0M141.3 1216.9h0M100.9 1267.5h0M114.1 1340.9h0M156.5 1255.9h0M108.0 1262.2h0M161.7 1339.4h0M193.8 1293.4h0M220.6 1239.8h0M210.9 1322.4h0M198.1 1208.4h0M218.3 1278.3h0M109.6 1227.0h0M223.9 1285.2h0M228.1 1292.5h0M195.4 1321.3h0M198.4 1247.7h0M189.3 1215.1h0M128.6 1305.9h0M222.0 1291.1h0M212.0 1270.0h0M206.5 1225.7h0M145.9 1237.6h0M141.8 1210.4h0M185.6 1324.8h0M169.8 1271.1h0M149.3 1353.6h0M104.1 1316.0h0M196.0 1225.3h0M128.9 1247.2h0M121.6 1275.2h0M160.5 1291.7h0M198.2 1256.2h0M163.2 1249.2h0M185.0 1276.0h0M188.8 1295.7h0M195.0 1263.1h0M211.9 1236.8h0M204.0 1314.8h0M117.2 1290.7h0M201.3 1346.4h0M183.4 1245.3h0M188.1 1273.2h0M122.3 1260.3h0M215.5 1242.4h0M174.2 1260.1h0M155.0 1245.1h0M163.1 1265.0h0M170.9 1310.5h0M155.0 1291.2h0M206.9 1273.1h0M121.0 1324.6h0M198.9 1347.7h0M197.1 1268.0h0M130.6 1207.1h0M235.2 1305.8h0M140.3 1205.6h0M197.5 1223.9h0M169.7 1302.4h0M132.5 1281.9h0M104.9 1263.2h0M159.8 1230.3h0M165.6 1205.4h0M170.6 1290.7h0M164.4 1315.1h0M182.2 1334.5h0M126.7 1330.1h0M149.2 1231.8h0M189.8 1349.8h0M208.2 1272.6h0M197.8 1284.2h0M177.5 1247.1h0M224.6 1252.4h0M215.8 1292.4h0M153.3 1234.9h0M193.5 1316.3h0M114.3 1289.0h0" stroke="#3a2a8a" stroke-opacity="0.7" stroke-width="1.05" stroke-linecap="round" fill="none"/>
<use href="#d3_0" stroke="#9d92ee" stroke-opacity="0.6" stroke-width="4.7" stroke-linecap="round" fill="none" filter="url(#pb1)"/>
<use href="#d3_1" stroke="#9d92ee" stroke-opacity="0.6" stroke-width="5.3" stroke-linecap="round" fill="none" filter="url(#pb1)"/>
<use href="#d3_2" stroke="#9d92ee" stroke-opacity="0.6" stroke-width="5.9" stroke-linecap="round" fill="none" filter="url(#pb1)"/>
<use href="#d3_3" stroke="#9d92ee" stroke-opacity="0.6" stroke-width="6.7" stroke-linecap="round" fill="none" filter="url(#pb1)"/>
<use href="#d3_4" stroke="#9d92ee" stroke-opacity="0.6" stroke-width="7.8" stroke-linecap="round" fill="none" filter="url(#pb1)"/>
<use href="#d3_0" stroke="#3118b8" stroke-width="1.1" stroke-linecap="round" fill="none"/>
<use href="#d3_1" stroke="#3118b8" stroke-width="1.7" stroke-linecap="round" fill="none"/>
<use href="#d3_2" stroke="#3118b8" stroke-width="2.3" stroke-linecap="round" fill="none"/>
<use href="#d3_3" stroke="#3118b8" stroke-width="3.1" stroke-linecap="round" fill="none"/>
<use href="#d3_4" stroke="#3118b8" stroke-width="4.2" stroke-linecap="round" fill="none"/>
<circle cx="161.7" cy="1278" r="81" fill="none" stroke="#3c3a55" stroke-width="1.1"/>
</g></g>
<g clip-path="url(#pc4)"><g filter="url(#pbs)">
<rect x="269.2" y="1177.9" width="201.6" height="201.3" fill="#c1c3c0"/>
<circle cx="560" cy="1278" r="97" fill="#c8c5d7" stroke="#7a788c" stroke-width="2"/>
<circle cx="560" cy="1278" r="93" fill="none" stroke="#6e6c82" stroke-opacity="0.6" stroke-width="3" stroke-dasharray="2 1.5"/>
<circle cx="368" cy="1087" r="97" fill="#c8c5d7" stroke="#7a788c" stroke-width="2"/>
<circle cx="368" cy="1087" r="93" fill="none" stroke="#6e6c82" stroke-opacity="0.6" stroke-width="3" stroke-dasharray="2 1.5"/>
<circle cx="367.9" cy="1279.8" r="96" fill="#c8c5d7" stroke="#8c8b96" stroke-width="1.6"/>
<circle cx="367.9" cy="1279.8" r="92.5" fill="none" stroke="#a9a8b3" stroke-width="1"/>
<path d="M291.0,1235.4A88.85,88.85 0 0 1 330.4,1199.3" fill="none" stroke="#7d5fd6" stroke-opacity="0.55" stroke-width="12.9" stroke-linecap="round" filter="url(#pb4)"/>
<path d="M291.2,1238.8A86.99000000000001,86.99000000000001 0 0 1 453.2,1274.7" fill="none" stroke="#7c7a90" stroke-opacity="0.45" stroke-width="8.6" filter="url(#pb1)"/>
<path d="M294.0,1240.5A83.7,83.7 0 0 1 449.9,1275.0" fill="none" stroke="#5e5c72" stroke-opacity="0.5" stroke-width="0.9" stroke-dasharray="2 1.5"/>
<path d="M291.7,1239.1A86.38125000000001,86.38125000000001 0 0 1 452.6,1274.8" fill="none" stroke="#5e5c72" stroke-opacity="0.5" stroke-width="0.9" stroke-dasharray="2 1.5"/>
<path d="M289.4,1237.8A89.0625,89.0625 0 0 1 455.2,1274.5" fill="none" stroke="#5e5c72" stroke-opacity="0.5" stroke-width="0.9" stroke-dasharray="2 1.5"/>
<path d="M287.0,1236.4A91.74375,91.74375 0 0 1 457.9,1274.3" fill="none" stroke="#5e5c72" stroke-opacity="0.5" stroke-width="0.9" stroke-dasharray="2 1.5"/>
<rect x="-8.1" y="-5" width="16.3" height="10" fill="#9795a6" fill-opacity="0.45" transform="translate(457.8,1279.8) rotate(0)"/>
<rect x="-8.1" y="-5" width="16.3" height="10" fill="#9795a6" fill-opacity="0.45" transform="translate(367.9,1369.6) rotate(90)"/>
<rect x="-8.1" y="-5" width="16.3" height="10" fill="#9795a6" fill-opacity="0.45" transform="translate(278.0,1279.8) rotate(180)"/>
<rect x="-8.1" y="-5" width="16.3" height="10" fill="#9795a6" fill-opacity="0.45" transform="translate(367.9,1190.0) rotate(270)"/>
<path d="M303.0 1216.6h0M393.8 1191.0h0M362.0 1187.7h0M454.5 1295.8h0M452.0 1248.5h0M436.7 1230.4h0M283.5 1296.4h0M282.2 1255.6h0M453.3 1286.9h0M350.9 1370.4h0M376.3 1195.0h0M392.7 1198.5h0M305.1 1222.7h0M459.7 1280.8h0M389.5 1362.7h0M459.2 1269.7h0M345.3 1369.6h0M280.6 1257.8h0M393.8 1368.5h0M334.1 1193.5h0M435.8 1226.3h0M313.1 1345.1h0M419.3 1346.6h0M339.6 1364.5h0M457.9 1281.7h0M322.5 1353.5h0M404.7 1199.7h0M332.5 1360.5h0M344.2 1199.0h0M450.8 1266.7h0M367.8 1188.2h0M458.3 1290.1h0M308.5 1346.2h0M451.9 1284.6h0M406.8 1363.8h0M397.8 1365.5h0M451.5 1240.3h0M319.3 1351.9h0M278.1 1265.7h0M438.5 1336.7h0" stroke="#8f84c8" stroke-opacity="0.42" stroke-width="4" stroke-linecap="round" fill="none"/>
<circle cx="366.5" cy="1282.3" r="81.7" fill="#c1c0ce"/>
<path d="M412.0 1227.1h0M380.9 1277.2h0M353.5 1302.7h0M421.0 1251.5h0M408.0 1260.9h0M343.9 1336.9h0M386.3 1322.8h0M379.8 1300.3h0M433.0 1280.9h0M397.2 1292.0h0M288.7 1265.7h0M370.6 1333.1h0M395.0 1227.5h0M318.9 1307.8h0M382.8 1272.8h0M352.0 1282.9h0M416.5 1335.9h0M431.6 1261.1h0M381.5 1220.5h0M342.5 1292.8h0M383.8 1256.7h0M324.9 1294.9h0M414.5 1218.2h0M290.7 1305.1h0M359.3 1226.8h0M352.4 1335.9h0M397.3 1322.8h0M415.5 1278.7h0M311.7 1226.2h0M336.6 1330.4h0M363.2 1306.0h0M414.1 1229.9h0M377.3 1235.4h0M342.5 1216.0h0M370.4 1217.2h0M352.9 1236.0h0M324.2 1286.1h0M341.0 1216.8h0M407.4 1267.7h0M310.1 1251.0h0M358.3 1279.8h0M347.6 1247.0h0M388.7 1232.5h0M385.5 1220.7h0M337.3 1245.2h0M398.9 1221.7h0M392.6 1242.8h0M338.3 1213.2h0M442.7 1261.0h0M309.8 1271.7h0M383.4 1254.4h0M289.8 1293.3h0M353.9 1216.9h0M398.8 1342.6h0M304.7 1247.9h0M309.1 1313.5h0M376.3 1219.8h0M354.7 1219.5h0M373.6 1293.5h0M335.3 1239.3h0M351.8 1247.8h0M427.9 1298.8h0M374.7 1336.7h0M378.9 1296.2h0M385.3 1323.3h0M400.8 1290.1h0M326.6 1319.6h0M313.7 1248.7h0M398.5 1260.0h0M364.8 1283.5h0M330.8 1304.9h0M379.8 1258.6h0M414.2 1293.3h0M418.4 1317.5h0M335.0 1332.3h0M425.4 1266.5h0M303.2 1317.6h0M321.3 1226.0h0M397.0 1320.2h0M309.6 1258.2h0M443.3 1266.7h0M329.4 1332.6h0M442.2 1282.8h0M342.4 1271.7h0M406.3 1330.9h0M415.8 1242.2h0M321.9 1302.7h0M356.7 1319.1h0M309.0 1336.4h0M433.7 1241.8h0M362.7 1344.0h0M287.2 1284.1h0M344.8 1329.1h0M287.2 1286.4h0M324.1 1288.5h0M346.3 1263.0h0M352.2 1333.7h0M399.4 1219.6h0M357.5 1280.4h0M405.0 1265.7h0M368.4 1353.1h0M389.8 1316.5h0M345.2 1359.0h0M304.9 1292.2h0M315.4 1243.3h0M417.4 1329.0h0M344.6 1348.6h0M336.4 1332.4h0M323.6 1274.2h0M331.4 1324.1h0M308.3 1245.0h0M366.3 1297.6h0M413.3 1255.3h0M294.1 1261.0h0M368.2 1272.8h0M319.9 1258.3h0M321.1 1232.5h0M413.7 1253.0h0M327.8 1313.5h0M390.9 1352.1h0M387.5 1244.1h0M377.1 1264.7h0M305.6 1309.6h0M374.7 1240.3h0M414.2 1342.0h0M313.7 1265.5h0M339.1 1331.7h0M339.6 1266.2h0M432.1 1312.4h0M382.8 1247.5h0M329.7 1221.3h0M364.3 1269.7h0M445.7 1281.5h0M430.4 1302.6h0M380.6 1354.4h0M428.0 1263.3h0M411.3 1332.9h0M404.2 1261.0h0M342.7 1262.5h0M393.8 1326.0h0M427.3 1299.4h0M347.4 1300.4h0M386.6 1289.9h0M363.6 1221.6h0M416.4 1338.4h0M345.7 1330.6h0M304.6 1286.4h0M311.9 1337.4h0M360.4 1264.4h0M345.4 1259.4h0M414.7 1251.9h0M323.2 1241.2h0M327.6 1269.2h0M366.6 1241.9h0M404.9 1325.2h0M339.7 1310.4h0M396.0 1344.4h0M328.5 1226.4h0M355.0 1262.0h0M383.6 1299.4h0M370.9 1343.8h0M292.1 1291.5h0M379.6 1238.7h0M364.4 1268.7h0M377.3 1297.4h0M333.7 1211.4h0M394.7 1307.5h0M326.3 1214.3h0M412.8 1338.1h0M327.9 1332.5h0M347.1 1315.9h0M330.1 1333.4h0M399.1 1319.9h0M322.8 1223.8h0M300.9 1311.5h0M293.1 1274.2h0M311.3 1254.9h0M311.9 1324.3h0M390.9 1287.5h0M401.4 1291.1h0M291.5 1291.3h0M436.3 1282.5h0M408.8 1247.2h0M309.7 1309.6h0M410.7 1314.3h0M383.5 1308.8h0M329.6 1314.6h0M409.8 1343.7h0M359.6 1322.1h0M359.1 1313.6h0M327.9 1286.7h0M379.3 1275.7h0M411.5 1263.8h0M335.9 1223.4h0M418.3 1263.8h0M353.0 1258.3h0M346.8 1243.9h0M402.0 1340.8h0M402.0 1287.9h0M400.4 1300.4h0M416.5 1273.9h0M348.2 1327.0h0M355.2 1335.9h0M352.8 1215.2h0M368.4 1314.6h0M427.6 1258.3h0M308.2 1309.5h0M445.5 1285.4h0M370.1 1262.9h0M415.7 1296.6h0M425.7 1278.4h0M332.6 1329.0h0M388.6 1292.9h0M290.7 1286.5h0M439.6 1308.0h0M404.0 1294.6h0M413.4 1300.9h0M332.7 1304.5h0M408.5 1296.3h0M381.8 1279.5h0M332.6 1280.5h0M316.7 1272.4h0M357.4 1303.7h0M341.1 1275.4h0M303.8 1237.8h0M382.9 1354.6h0M356.3 1279.7h0M316.2 1258.1h0M331.8 1247.5h0M424.8 1246.8h0M324.4 1296.3h0M378.3 1354.1h0M356.2 1307.5h0M369.8 1258.8h0M338.6 1349.2h0M391.6 1296.5h0M400.7 1302.3h0M320.1 1257.9h0M403.2 1297.2h0M430.5 1302.2h0M358.5 1317.2h0M406.4 1310.7h0M346.2 1330.1h0M301.3 1258.3h0M323.5 1219.9h0M304.3 1250.7h0M388.2 1233.7h0M428.7 1264.1h0M345.9 1217.2h0M382.3 1244.0h0" stroke="#3a2a8a" stroke-opacity="0.7" stroke-width="1.05" stroke-linecap="round" fill="none"/>
<use href="#d4_0" stroke="#9d92ee" stroke-opacity="0.6" stroke-width="4.7" stroke-linecap="round" fill="none" filter="url(#pb1)"/>
<use href="#d4_1" stroke="#9d92ee" stroke-opacity="0.6" stroke-width="5.3" stroke-linecap="round" fill="none" filter="url(#pb1)"/>
<use href="#d4_2" stroke="#9d92ee" stroke-opacity="0.6" stroke-width="5.9" stroke-linecap="round" fill="none" filter="url(#pb1)"/>
<use href="#d4_3" stroke="#9d92ee" stroke-opacity="0.6" stroke-width="6.7" stroke-linecap="round" fill="none" filter="url(#pb1)"/>
<use href="#d4_4" stroke="#9d92ee" stroke-opacity="0.6" stroke-width="7.8" stroke-linecap="round" fill="none" filter="url(#pb1)"/>
<use href="#d4_0" stroke="#3118b8" stroke-width="1.1" stroke-linecap="round" fill="none"/>
<use href="#d4_1" stroke="#3118b8" stroke-width="1.7" stroke-linecap="round" fill="none"/>
<use href="#d4_2" stroke="#3118b8" stroke-width="2.3" stroke-linecap="round" fill="none"/>
<use href="#d4_3" stroke="#3118b8" stroke-width="3.1" stroke-linecap="round" fill="none"/>
<use href="#d4_4" stroke="#3118b8" stroke-width="4.2" stroke-linecap="round" fill="none"/>
<circle cx="366.5" cy="1282.3" r="81.7" fill="none" stroke="#3c3a55" stroke-width="1.1"/>
</g></g>
<g clip-path="url(#pc5)"><g filter="url(#pbs)">
<rect x="480.3" y="1178.3" width="200.5" height="200.6" fill="#c1c3c0"/>
<circle cx="552" cy="1086" r="97" fill="#c8c5d7" stroke="#7a788c" stroke-width="2"/>
<circle cx="552" cy="1086" r="93" fill="none" stroke="#6e6c82" stroke-opacity="0.6" stroke-width="3" stroke-dasharray="2 1.5"/>
<circle cx="579.6" cy="1279.7" r="96.9" fill="#c8c5d7" stroke="#8c8b96" stroke-width="1.6"/>
<circle cx="579.6" cy="1279.7" r="93.4" fill="none" stroke="#a9a8b3" stroke-width="1"/>
<path d="M496.4,1249.4A88.5,88.5 0 0 1 549.3,1196.5" fill="none" stroke="#7d5fd6" stroke-opacity="0.5" stroke-width="15.1" stroke-linecap="round" filter="url(#pb4)"/>
<rect x="-9.4" y="-5" width="18.8" height="10" fill="#9795a6" fill-opacity="0.45" transform="translate(669.1,1279.7) rotate(0)"/>
<rect x="-9.4" y="-5" width="18.8" height="10" fill="#9795a6" fill-opacity="0.45" transform="translate(579.6,1369.2) rotate(90)"/>
<rect x="-9.4" y="-5" width="18.8" height="10" fill="#9795a6" fill-opacity="0.45" transform="translate(490.1,1279.7) rotate(180)"/>
<rect x="-9.4" y="-5" width="18.8" height="10" fill="#9795a6" fill-opacity="0.45" transform="translate(579.6,1190.2) rotate(270)"/>
<path d="M604.3 1191.3h0M494.8 1287.7h0M669.5 1280.0h0M490.1 1296.6h0M515.9 1344.9h0M566.6 1370.3h0M568.6 1193.4h0M492.1 1258.2h0M610.7 1362.7h0M608.5 1199.5h0M609.3 1194.5h0M627.7 1208.3h0M655.9 1330.3h0M609.1 1197.5h0M649.8 1326.6h0M523.0 1215.6h0M664.5 1252.9h0M606.9 1365.3h0M520.1 1351.3h0M653.9 1232.2h0M524.0 1208.5h0M611.6 1191.7h0M664.6 1295.0h0M510.8 1228.6h0M509.2 1235.5h0M644.0 1219.3h0M646.4 1339.9h0M547.4 1357.7h0M496.3 1288.2h0M602.6 1369.1h0M553.3 1201.8h0M594.0 1198.7h0M533.4 1360.2h0M517.2 1220.9h0M517.4 1340.1h0M645.2 1346.9h0M661.8 1308.6h0M577.6 1192.9h0M664.0 1269.6h0M671.4 1267.7h0" stroke="#8f84c8" stroke-opacity="0.42" stroke-width="4" stroke-linecap="round" fill="none"/>
<circle cx="574.8" cy="1276.7" r="80.1" fill="#c1c0ce"/>
<path d="M624.2 1235.6h0M600.5 1230.9h0M505.1 1269.4h0M560.0 1224.9h0M617.9 1302.5h0M568.1 1344.2h0M586.4 1223.1h0M607.1 1281.2h0M551.5 1262.0h0M572.9 1323.8h0M622.2 1253.5h0M541.3 1297.8h0M518.7 1229.0h0M534.7 1283.1h0M608.8 1319.0h0M558.3 1322.0h0M543.5 1339.8h0M637.5 1265.1h0M521.1 1329.7h0M548.8 1331.8h0M525.4 1280.4h0M639.2 1249.6h0M617.1 1278.3h0M624.1 1295.2h0M576.8 1263.2h0M569.6 1250.9h0M618.5 1258.9h0M641.8 1304.4h0M607.4 1265.5h0M520.5 1305.6h0M601.8 1212.7h0M520.8 1287.4h0M558.7 1295.6h0M553.7 1255.5h0M612.5 1324.8h0M625.7 1312.4h0M559.3 1256.5h0M617.9 1245.2h0M556.1 1217.3h0M588.7 1252.4h0M558.1 1261.4h0M637.5 1235.6h0M504.0 1298.7h0M591.6 1213.5h0M602.0 1266.6h0M505.1 1303.9h0M509.3 1299.3h0M565.2 1236.6h0M580.9 1257.9h0M557.4 1352.3h0M640.6 1314.9h0M561.3 1348.1h0M504.8 1309.2h0M648.7 1291.7h0M584.1 1255.7h0M513.6 1262.8h0M581.4 1289.3h0M620.0 1292.1h0M582.3 1198.8h0M551.5 1203.8h0M615.4 1298.3h0M625.4 1320.8h0M518.2 1289.7h0M624.0 1301.8h0M553.6 1274.0h0M561.3 1274.5h0M568.8 1306.5h0M547.1 1264.0h0M583.0 1324.9h0M540.8 1262.2h0M509.4 1313.1h0M561.9 1305.7h0M540.2 1259.8h0M511.6 1247.5h0M559.3 1307.0h0M529.6 1294.3h0M624.3 1275.9h0M544.2 1227.1h0M534.1 1224.2h0M525.9 1327.4h0M637.9 1265.7h0M552.4 1254.1h0M619.9 1294.9h0M575.7 1261.1h0M568.4 1250.9h0M558.1 1295.1h0M561.2 1273.0h0M585.4 1345.5h0M626.9 1249.0h0M533.0 1284.4h0M618.7 1226.4h0M557.8 1249.3h0M595.5 1294.3h0M648.8 1300.8h0M574.9 1201.4h0M566.5 1212.7h0M560.2 1338.3h0M590.3 1326.6h0M587.9 1205.1h0M590.4 1344.6h0M572.9 1337.1h0M572.5 1206.9h0M554.5 1201.1h0M585.8 1212.7h0M555.0 1263.1h0M565.3 1287.2h0M600.3 1268.2h0M586.4 1270.5h0M504.5 1306.8h0M642.7 1299.6h0M604.1 1278.5h0M595.3 1277.0h0M635.7 1314.0h0M566.0 1336.4h0M549.8 1290.6h0M607.9 1271.9h0M534.4 1249.7h0M533.6 1234.5h0M567.9 1330.7h0M596.9 1257.9h0M542.1 1287.7h0M512.1 1244.2h0M602.7 1205.6h0M615.8 1315.2h0M515.2 1286.6h0M503.3 1262.7h0M599.5 1216.1h0M604.2 1231.6h0M616.9 1338.1h0M626.2 1221.8h0M536.8 1338.5h0M601.3 1305.9h0M604.1 1238.9h0M622.1 1278.3h0M612.4 1298.2h0M581.9 1215.2h0M638.8 1316.9h0M608.8 1311.1h0M613.7 1212.7h0M629.1 1260.6h0M584.2 1220.9h0M538.7 1318.0h0M617.4 1211.1h0M615.4 1232.0h0M593.5 1216.3h0M588.5 1291.6h0M554.1 1261.0h0M612.2 1331.8h0M617.0 1313.2h0M586.6 1212.7h0M597.7 1273.8h0M620.1 1321.9h0M600.2 1315.7h0M632.8 1243.2h0M588.0 1306.8h0M614.3 1228.6h0M509.7 1294.4h0M555.1 1259.6h0M592.4 1226.7h0M568.8 1217.6h0M520.4 1221.7h0M563.6 1350.8h0M577.1 1274.6h0M588.4 1276.2h0M623.9 1296.6h0M567.4 1236.2h0M540.2 1242.6h0M587.6 1255.2h0M598.6 1235.1h0M559.8 1250.5h0M530.4 1307.1h0M564.1 1274.5h0M631.9 1320.3h0M627.0 1280.8h0M651.6 1261.8h0M510.6 1284.8h0M589.9 1291.1h0M593.0 1213.3h0M625.2 1217.1h0M573.1 1328.6h0M542.1 1324.3h0M618.0 1238.1h0M627.3 1270.5h0M638.6 1295.6h0M539.0 1219.1h0M636.7 1278.0h0M501.2 1278.9h0M602.4 1327.1h0M589.5 1278.0h0M562.8 1310.6h0M603.6 1287.7h0M555.1 1212.7h0M589.7 1348.9h0M519.3 1239.2h0M591.5 1260.0h0M593.5 1319.8h0M604.7 1261.3h0M547.2 1301.2h0M538.0 1321.6h0M629.0 1310.0h0" stroke="#3a2a8a" stroke-opacity="0.7" stroke-width="1.05" stroke-linecap="round" fill="none"/>
<use href="#d5_0" stroke="#9d92ee" stroke-opacity="0.6" stroke-width="4.7" stroke-linecap="round" fill="none" filter="url(#pb1)"/>
<use href="#d5_1" stroke="#9d92ee" stroke-opacity="0.6" stroke-width="5.3" stroke-linecap="round" fill="none" filter="url(#pb1)"/>
<use href="#d5_2" stroke="#9d92ee" stroke-opacity="0.6" stroke-width="5.9" stroke-linecap="round" fill="none" filter="url(#pb1)"/>
<use href="#d5_3" stroke="#9d92ee" stroke-opacity="0.6" stroke-width="6.7" stroke-linecap="round" fill="none" filter="url(#pb1)"/>
<use href="#d5_4" stroke="#9d92ee" stroke-opacity="0.6" stroke-width="7.8" stroke-linecap="round" fill="none" filter="url(#pb1)"/>
<use href="#d5_0" stroke="#3118b8" stroke-width="1.1" stroke-linecap="round" fill="none"/>
<use href="#d5_1" stroke="#3118b8" stroke-width="1.7" stroke-linecap="round" fill="none"/>
<use href="#d5_2" stroke="#3118b8" stroke-width="2.3" stroke-linecap="round" fill="none"/>
<use href="#d5_3" stroke="#3118b8" stroke-width="3.1" stroke-linecap="round" fill="none"/>
<use href="#d5_4" stroke="#3118b8" stroke-width="4.2" stroke-linecap="round" fill="none"/>
<circle cx="574.8" cy="1276.7" r="80.1" fill="none" stroke="#3c3a55" stroke-width="1.1"/>
</g></g>
<g clip-path="url(#pc6)"><g filter="url(#pbs)">
<rect x="118.9" y="1540.3" width="253.2" height="252.7" fill="#c1c3c0"/>
<circle cx="490" cy="1668" r="122" fill="#c8c5d7" stroke="#7a788c" stroke-width="2"/>
<circle cx="490" cy="1668" r="118" fill="none" stroke="#6e6c82" stroke-opacity="0.6" stroke-width="3" stroke-dasharray="2 1.5"/>
<circle cx="244.9" cy="1665.8" r="122" fill="#c8c5d7" stroke="#8c8b96" stroke-width="1.6"/>
<circle cx="244.9" cy="1665.8" r="118.5" fill="none" stroke="#a9a8b3" stroke-width="1"/>
<path d="M348.8,1707.8A112.05,112.05 0 0 1 241.0,1777.8" fill="none" stroke="#7d5fd6" stroke-opacity="0.7" stroke-width="19.9" stroke-linecap="round" filter="url(#pb4)"/>
<path d="M350.8,1683.2A109.07,109.07 0 0 1 224.5,1771.7" fill="none" stroke="#7c7a90" stroke-opacity="0.45" stroke-width="11.9" filter="url(#pb1)"/>
<path d="M345.9,1682.4A104.1,104.1 0 0 1 225.3,1766.8" fill="none" stroke="#5e5c72" stroke-opacity="0.5" stroke-width="0.9" stroke-dasharray="2 1.5"/>
<path d="M349.6,1683.0A107.83125,107.83125 0 0 1 224.7,1770.5" fill="none" stroke="#5e5c72" stroke-opacity="0.5" stroke-width="0.9" stroke-dasharray="2 1.5"/>
<path d="M353.3,1683.7A111.5625,111.5625 0 0 1 224.0,1774.2" fill="none" stroke="#5e5c72" stroke-opacity="0.5" stroke-width="0.9" stroke-dasharray="2 1.5"/>
<path d="M356.9,1684.3A115.29374999999999,115.29374999999999 0 0 1 223.4,1777.8" fill="none" stroke="#5e5c72" stroke-opacity="0.5" stroke-width="0.9" stroke-dasharray="2 1.5"/>
<rect x="-11.0" y="-5" width="21.9" height="10" fill="#9795a6" fill-opacity="0.45" transform="translate(357.9,1665.8) rotate(0)"/>
<rect x="-11.0" y="-5" width="21.9" height="10" fill="#9795a6" fill-opacity="0.45" transform="translate(244.9,1778.8) rotate(90)"/>
<rect x="-11.0" y="-5" width="21.9" height="10" fill="#9795a6" fill-opacity="0.45" transform="translate(131.9,1665.8) rotate(180)"/>
<rect x="-11.0" y="-5" width="21.9" height="10" fill="#9795a6" fill-opacity="0.45" transform="translate(244.9,1552.8) rotate(270)"/>
<path d="M197.3 1760.9h0M183.6 1580.3h0M138.1 1641.3h0M349.2 1705.6h0M352.4 1691.6h0M340.4 1710.6h0M141.3 1719.0h0M321.4 1741.2h0M162.6 1580.9h0M147.5 1614.6h0M348.5 1650.2h0M313.2 1581.6h0M310.2 1749.1h0M203.1 1774.3h0M292.4 1768.1h0M174.4 1581.8h0M144.6 1634.8h0M344.6 1705.0h0M198.1 1565.7h0M200.6 1769.6h0M141.0 1697.3h0M276.4 1555.7h0M249.1 1778.4h0M129.2 1647.3h0M230.9 1558.3h0M349.9 1652.6h0M144.5 1722.6h0M309.2 1756.7h0M355.5 1693.6h0M255.2 1553.6h0M322.0 1589.1h0M206.8 1559.5h0M147.7 1612.4h0M308.2 1566.0h0M132.4 1684.3h0M351.2 1708.4h0M173.3 1570.9h0M292.2 1568.3h0M159.0 1740.8h0M354.8 1681.5h0M297.0 1757.9h0M352.6 1707.6h0M319.0 1744.1h0M154.2 1739.9h0M341.8 1719.5h0M133.2 1630.0h0M294.2 1559.7h0M225.3 1774.3h0M170.8 1756.7h0M347.5 1637.9h0M293.0 1762.0h0M256.5 1776.5h0M153.4 1608.4h0M355.2 1668.6h0M168.2 1748.2h0M354.4 1632.6h0M132.1 1654.8h0M198.0 1572.0h0M338.3 1597.5h0M326.7 1583.5h0M159.1 1734.7h0M335.3 1734.6h0M342.1 1705.9h0M272.2 1768.8h0M188.7 1754.3h0M351.3 1666.0h0M332.9 1731.0h0M360.5 1684.5h0M164.7 1596.0h0M243.3 1775.1h0M175.3 1745.6h0M314.1 1569.1h0M136.1 1689.4h0M335.5 1720.1h0M185.5 1756.1h0M295.5 1572.1h0M361.9 1682.9h0M140.3 1647.0h0M144.2 1637.8h0M128.1 1644.9h0M319.7 1579.1h0M237.3 1775.1h0M302.5 1766.1h0M131.6 1642.3h0M193.3 1760.0h0M289.7 1555.8h0M314.7 1573.0h0M292.8 1561.1h0M261.2 1776.4h0M180.5 1748.2h0M351.5 1684.7h0M238.3 1780.0h0M351.6 1635.9h0M354.5 1620.0h0M350.1 1635.2h0M264.7 1771.4h0M280.1 1767.0h0M161.3 1583.2h0M304.8 1572.0h0M178.5 1570.7h0M343.1 1723.7h0M342.5 1603.6h0M245.0 1554.6h0M295.2 1770.2h0M187.4 1766.6h0M353.2 1646.3h0M148.7 1734.4h0M228.1 1560.5h0M319.1 1742.0h0M340.9 1600.4h0M315.6 1758.3h0M357.9 1651.7h0M178.7 1756.5h0M315.8 1742.3h0M356.8 1645.1h0M128.5 1646.2h0M137.8 1713.1h0M294.3 1570.6h0M243.6 1774.3h0M251.6 1778.4h0M238.4 1776.0h0M324.9 1752.1h0M177.6 1754.0h0M143.1 1607.0h0M141.5 1722.1h0M132.9 1664.6h0M141.7 1650.4h0M145.5 1705.0h0M360.9 1668.7h0M297.0 1764.0h0M227.5 1554.8h0M193.5 1765.1h0M136.1 1626.3h0M333.3 1735.3h0M245.9 1774.0h0M260.5 1555.2h0M138.0 1622.1h0M339.3 1608.0h0M160.0 1593.3h0M130.8 1657.1h0M137.8 1698.8h0M127.9 1682.1h0M208.1 1554.6h0M345.8 1627.4h0M134.9 1622.6h0M301.8 1576.2h0M324.8 1742.4h0M341.6 1713.2h0M347.1 1716.4h0M269.8 1551.0h0" stroke="#8f84c8" stroke-opacity="0.42" stroke-width="4" stroke-linecap="round" fill="none"/>
<circle cx="243.4" cy="1664.3" r="102.1" fill="#c1c0ce"/>
<path d="M235.1 1625.9h0M294.0 1727.9h0M335.5 1645.3h0M288.2 1650.5h0M180.5 1669.3h0M292.7 1577.8h0M206.9 1681.1h0M205.2 1725.2h0M224.9 1704.5h0M327.8 1674.7h0M174.1 1691.5h0M236.8 1676.0h0M164.6 1658.2h0M268.7 1661.9h0M330.8 1648.6h0M240.2 1696.5h0M247.0 1644.7h0M279.1 1702.1h0M298.6 1630.0h0M238.5 1754.7h0M277.2 1645.5h0M220.2 1592.4h0M271.4 1674.9h0M169.4 1701.8h0M268.3 1654.1h0M268.8 1588.8h0M261.3 1641.6h0M260.2 1644.7h0M207.6 1721.4h0M310.1 1631.2h0M279.0 1701.9h0M248.7 1736.7h0M260.9 1692.4h0M250.1 1685.7h0M224.5 1716.9h0M221.7 1748.8h0M274.4 1727.9h0M302.0 1671.0h0M293.2 1669.1h0M162.1 1637.3h0M200.4 1671.2h0M319.4 1724.2h0M161.0 1701.7h0M279.1 1603.6h0M180.7 1661.7h0M325.9 1655.2h0M272.4 1613.4h0M188.2 1600.9h0M206.8 1716.4h0M259.4 1681.3h0M241.9 1637.7h0M269.6 1707.6h0M259.2 1639.9h0M198.7 1582.3h0M246.0 1717.4h0M191.0 1678.0h0M206.0 1677.6h0M293.3 1652.1h0M149.0 1635.5h0M291.7 1653.7h0M208.8 1707.9h0M241.0 1666.5h0M174.5 1663.1h0M198.6 1663.0h0M242.8 1671.3h0M219.2 1682.0h0M263.6 1667.2h0M249.3 1719.2h0M168.1 1650.3h0M195.8 1591.8h0M304.8 1606.0h0M214.7 1719.7h0M302.0 1744.4h0M190.5 1597.6h0M254.1 1646.3h0M177.6 1596.5h0M276.1 1585.1h0M206.5 1658.7h0M279.5 1603.1h0M284.9 1584.7h0M303.2 1616.6h0M214.6 1586.8h0M290.5 1673.6h0M220.0 1692.3h0M260.0 1636.5h0M191.5 1610.5h0M210.0 1592.5h0M313.4 1665.8h0M242.4 1574.9h0M174.2 1648.7h0M317.7 1697.1h0M242.2 1750.2h0M240.7 1691.5h0M267.1 1746.4h0M328.5 1651.2h0M191.4 1711.6h0M215.4 1601.0h0M178.4 1605.5h0M314.3 1701.8h0M242.4 1702.7h0M214.5 1745.6h0M318.6 1670.2h0M240.5 1688.8h0M214.3 1587.6h0M222.5 1743.9h0M173.3 1680.1h0M293.6 1710.6h0M273.1 1754.1h0M334.5 1625.7h0M230.6 1667.7h0M332.2 1646.3h0M235.6 1730.9h0M286.6 1648.9h0M203.4 1641.8h0M206.2 1658.6h0M309.1 1736.6h0M152.9 1659.3h0M216.2 1574.1h0M281.9 1635.5h0M312.3 1675.1h0M237.4 1664.6h0M221.9 1727.9h0M222.5 1695.5h0M273.6 1616.8h0M243.4 1660.1h0M310.2 1727.1h0M221.2 1570.6h0M219.9 1756.3h0M195.7 1702.3h0M158.7 1611.2h0M189.3 1690.6h0M293.5 1680.0h0M259.6 1636.8h0M292.6 1643.2h0M238.5 1714.0h0M269.8 1730.8h0M302.2 1647.7h0M279.1 1577.3h0M311.4 1623.2h0M151.0 1634.8h0M324.2 1690.3h0M161.8 1690.3h0M190.0 1595.9h0M294.4 1680.5h0M310.5 1733.4h0M205.2 1721.5h0M239.6 1609.8h0M237.1 1763.0h0M218.0 1741.2h0M184.6 1710.3h0M265.0 1699.1h0M281.3 1638.9h0M256.6 1733.6h0M338.6 1662.2h0M286.3 1715.9h0M280.4 1688.0h0M292.6 1696.0h0M240.8 1713.2h0M300.7 1615.2h0M169.5 1709.4h0M179.8 1654.6h0M211.1 1716.5h0M239.1 1688.9h0M312.6 1734.3h0M194.7 1612.7h0M263.1 1755.1h0M243.9 1716.4h0M183.8 1685.4h0M300.2 1584.8h0M336.0 1677.1h0M238.9 1646.9h0M150.0 1680.1h0M320.1 1664.4h0M299.5 1636.5h0M299.3 1592.6h0M244.4 1763.0h0M262.1 1691.6h0M213.5 1598.5h0M226.2 1568.7h0M250.9 1584.1h0M179.2 1642.8h0M247.4 1644.8h0M285.7 1641.0h0M216.7 1740.1h0M243.0 1700.1h0M218.1 1588.6h0M273.7 1678.6h0M180.5 1628.2h0M253.7 1725.8h0M320.8 1669.4h0M190.1 1677.7h0M183.1 1587.0h0M150.5 1678.8h0M244.3 1712.8h0M215.8 1570.2h0M298.4 1671.9h0M211.1 1601.5h0M240.4 1729.1h0M316.3 1627.3h0M290.0 1674.4h0M192.3 1692.1h0M269.9 1742.6h0M237.3 1575.2h0M263.1 1732.6h0M206.1 1755.5h0M254.3 1754.2h0M246.5 1617.3h0M295.3 1648.1h0M270.4 1729.4h0M202.4 1687.8h0M320.8 1638.5h0M213.4 1688.1h0M289.0 1656.8h0M279.1 1676.4h0M224.2 1679.5h0M314.0 1601.0h0M329.0 1663.0h0M197.3 1749.1h0M283.0 1647.4h0M328.1 1681.5h0M184.4 1720.6h0M213.4 1717.6h0M284.6 1665.0h0M211.9 1706.8h0M313.1 1732.9h0M269.4 1759.1h0M269.4 1610.5h0M160.7 1701.7h0M221.5 1668.0h0M296.8 1634.7h0M214.5 1697.4h0M336.5 1682.2h0M267.7 1604.9h0M328.2 1686.4h0M260.7 1671.5h0M239.2 1760.2h0M312.9 1612.8h0M235.3 1722.0h0M170.8 1598.6h0M232.7 1614.2h0M234.4 1719.9h0M243.6 1658.2h0M179.6 1592.9h0M339.5 1679.1h0M195.6 1671.8h0M337.2 1636.4h0M243.0 1726.5h0M177.8 1667.0h0M282.8 1752.3h0M236.9 1574.9h0M256.4 1574.5h0M206.8 1733.1h0M206.8 1707.5h0M321.2 1706.5h0M244.2 1619.9h0M289.1 1684.0h0M226.0 1658.3h0M300.1 1657.2h0M337.2 1657.1h0M287.9 1690.3h0M212.3 1664.6h0M163.7 1691.9h0M201.4 1688.5h0M207.2 1594.3h0M292.9 1593.3h0M302.4 1720.6h0M218.5 1752.6h0M190.8 1718.2h0M270.4 1745.9h0M244.9 1714.0h0M272.7 1638.2h0M208.3 1731.8h0M306.3 1661.3h0M251.7 1735.1h0M192.1 1590.4h0M323.1 1724.0h0M272.4 1601.8h0M322.2 1617.3h0M238.0 1683.6h0M256.2 1696.4h0M157.9 1615.0h0M176.4 1733.7h0M155.0 1693.6h0M252.3 1614.1h0M320.0 1724.3h0M187.1 1611.4h0M211.7 1698.6h0M254.1 1700.4h0M202.4 1634.8h0M266.7 1741.6h0M238.4 1673.7h0M276.1 1740.0h0M259.5 1717.8h0M158.2 1637.8h0M263.6 1679.3h0M183.6 1644.8h0M310.6 1707.7h0M229.8 1626.2h0M230.1 1727.0h0M296.5 1648.2h0M192.3 1641.6h0M191.7 1694.3h0M336.4 1662.3h0M263.1 1721.4h0M267.9 1746.1h0M249.7 1659.9h0M271.3 1605.4h0M290.7 1621.5h0M278.9 1722.2h0M231.8 1660.4h0M311.0 1621.3h0M221.9 1643.6h0M182.5 1662.6h0M235.5 1701.7h0M307.9 1631.7h0M210.5 1666.3h0M331.2 1645.8h0M274.5 1696.1h0M339.4 1649.4h0M309.0 1687.2h0M170.0 1726.7h0M174.2 1599.0h0M292.0 1741.1h0M258.9 1751.6h0M279.6 1612.0h0M280.7 1747.4h0M205.6 1691.8h0M189.8 1712.4h0M244.0 1699.4h0M311.5 1613.1h0M224.7 1656.6h0M328.0 1685.0h0M311.1 1726.1h0M169.7 1640.3h0M216.0 1738.6h0M187.1 1632.1h0M208.0 1609.4h0M181.5 1689.6h0M232.2 1653.9h0M249.9 1734.0h0M259.8 1578.4h0M272.4 1725.5h0M297.2 1707.2h0M210.9 1679.4h0M215.1 1675.1h0M312.5 1682.4h0M312.8 1703.7h0M258.2 1579.9h0M310.8 1688.2h0M192.3 1713.6h0" stroke="#3a2a8a" stroke-opacity="0.7" stroke-width="1.05" stroke-linecap="round" fill="none"/>
<use href="#d6_0" stroke="#9d92ee" stroke-opacity="0.6" stroke-width="4.7" stroke-linecap="round" fill="none" filter="url(#pb1)"/>
<use href="#d6_1" stroke="#9d92ee" stroke-opacity="0.6" stroke-width="5.4" stroke-linecap="round" fill="none" filter="url(#pb1)"/>
<use href="#d6_2" stroke="#9d92ee" stroke-opacity="0.6" stroke-width="6.1" stroke-linecap="round" fill="none" filter="url(#pb1)"/>
<use href="#d6_3" stroke="#9d92ee" stroke-opacity="0.6" stroke-width="7.0" stroke-linecap="round" fill="none" filter="url(#pb1)"/>
<use href="#d6_4" stroke="#9d92ee" stroke-opacity="0.6" stroke-width="8.4" stroke-linecap="round" fill="none" filter="url(#pb1)"/>
<use href="#d6_0" stroke="#3118b8" stroke-width="1.1" stroke-linecap="round" fill="none"/>
<use href="#d6_1" stroke="#3118b8" stroke-width="1.8" stroke-linecap="round" fill="none"/>
<use href="#d6_2" stroke="#3118b8" stroke-width="2.5" stroke-linecap="round" fill="none"/>
<use href="#d6_3" stroke="#3118b8" stroke-width="3.4" stroke-linecap="round" fill="none"/>
<use href="#d6_4" stroke="#3118b8" stroke-width="4.8" stroke-linecap="round" fill="none"/>
<circle cx="243.4" cy="1664.3" r="102.1" fill="none" stroke="#3c3a55" stroke-width="1.1"/>
</g></g>
<g clip-path="url(#pc7)"><g filter="url(#pbs)">
<rect x="386.4" y="1540.3" width="253.6" height="252.7" fill="#c1c3c0"/>
<circle cx="515.4" cy="1669" r="122.9" fill="#c8c5d7" stroke="#8c8b96" stroke-width="1.6"/>
<circle cx="515.4" cy="1669" r="119.4" fill="none" stroke="#a9a8b3" stroke-width="1"/>
<path d="M627.1,1688.7A113.45,113.45 0 0 1 402.4,1678.9" fill="none" stroke="#7d5fd6" stroke-opacity="0.6" stroke-width="18.9" stroke-linecap="round" filter="url(#pb4)"/>
<path d="M402.4,1678.9A113.45,113.45 0 0 1 408.8,1630.2" fill="none" stroke="#7d5fd6" stroke-opacity="0.3" stroke-width="13.2" stroke-linecap="round" filter="url(#pb4)"/>
<path d="M617.2,1701.9A110.67,110.67 0 0 1 409.2,1701.9" fill="none" stroke="#7c7a90" stroke-opacity="0.45" stroke-width="11.3" filter="url(#pb1)"/>
<path d="M612.8,1700.3A106.0,106.0 0 0 1 413.6,1700.3" fill="none" stroke="#5e5c72" stroke-opacity="0.5" stroke-width="0.9" stroke-dasharray="2 1.5"/>
<path d="M616.1,1701.5A109.54375,109.54375 0 0 1 410.3,1701.5" fill="none" stroke="#5e5c72" stroke-opacity="0.5" stroke-width="0.9" stroke-dasharray="2 1.5"/>
<path d="M619.5,1702.7A113.0875,113.0875 0 0 1 406.9,1702.7" fill="none" stroke="#5e5c72" stroke-opacity="0.5" stroke-width="0.9" stroke-dasharray="2 1.5"/>
<path d="M622.8,1703.9A116.63125000000001,116.63125000000001 0 0 1 403.6,1703.9" fill="none" stroke="#5e5c72" stroke-opacity="0.5" stroke-width="0.9" stroke-dasharray="2 1.5"/>
<rect x="-10.5" y="-5" width="20.9" height="10" fill="#9795a6" fill-opacity="0.45" transform="translate(629.9,1669.0) rotate(0)"/>
<rect x="-10.5" y="-5" width="20.9" height="10" fill="#9795a6" fill-opacity="0.45" transform="translate(515.4,1783.5) rotate(90)"/>
<rect x="-10.5" y="-5" width="20.9" height="10" fill="#9795a6" fill-opacity="0.45" transform="translate(400.9,1669.0) rotate(180)"/>
<rect x="-10.5" y="-5" width="20.9" height="10" fill="#9795a6" fill-opacity="0.45" transform="translate(515.4,1554.5) rotate(270)"/>
<path d="M532.8 1787.1h0M596.6 1751.6h0M609.5 1724.8h0M624.3 1668.4h0M444.8 1581.6h0M407.4 1701.8h0M557.1 1778.9h0M607.8 1727.3h0M624.2 1682.7h0M416.3 1734.0h0M437.4 1743.1h0M509.1 1788.6h0M621.1 1713.3h0M432.8 1749.3h0M454.4 1767.2h0M400.4 1670.7h0M608.3 1602.7h0M582.4 1752.3h0M621.8 1631.5h0M556.6 1780.8h0M413.3 1613.7h0M596.0 1594.2h0M442.0 1761.6h0M592.5 1756.5h0M609.9 1735.5h0M480.1 1555.1h0M578.0 1574.9h0M550.3 1771.3h0M404.2 1648.7h0M622.2 1720.4h0M399.8 1663.6h0M535.9 1776.4h0M625.9 1677.3h0M503.6 1780.3h0M431.2 1751.1h0M599.6 1600.7h0M429.3 1734.7h0M453.4 1566.8h0M550.2 1780.3h0M482.6 1770.0h0M525.3 1558.7h0M569.3 1767.2h0M528.2 1780.0h0M410.0 1706.2h0M422.0 1610.9h0M604.0 1729.3h0M604.2 1739.3h0M440.6 1759.2h0M399.6 1665.4h0M621.4 1655.7h0M622.7 1680.5h0M429.3 1743.7h0M511.0 1558.2h0M618.9 1645.8h0M571.2 1575.5h0M590.8 1593.8h0M629.2 1643.7h0M629.3 1662.2h0M567.8 1776.4h0M415.4 1707.5h0M426.4 1599.6h0M408.8 1687.1h0M597.6 1748.1h0M412.4 1700.6h0M407.6 1712.1h0M491.2 1559.1h0M428.2 1737.7h0M532.1 1776.5h0M414.0 1704.6h0M497.4 1554.6h0M434.1 1600.5h0M441.8 1753.4h0M614.9 1735.1h0M519.4 1556.1h0M485.2 1564.5h0M530.0 1781.4h0M511.0 1554.1h0M629.8 1673.8h0M613.2 1606.0h0M622.9 1616.4h0M533.5 1777.6h0M401.1 1634.0h0M434.3 1756.2h0M582.2 1577.6h0M431.1 1584.6h0M538.3 1561.3h0M576.9 1579.4h0M433.7 1756.0h0M578.6 1578.6h0M486.6 1779.8h0M578.9 1572.5h0M622.3 1623.6h0M564.7 1565.8h0M442.9 1754.3h0M402.3 1676.2h0M573.1 1575.7h0M621.0 1717.6h0M500.8 1779.9h0M602.6 1747.8h0M498.9 1777.8h0M553.2 1562.5h0M495.2 1785.6h0M421.0 1727.4h0M629.6 1643.8h0M513.6 1559.5h0M559.7 1563.6h0M568.8 1571.5h0M537.9 1554.2h0M427.7 1743.5h0M538.0 1551.4h0M618.0 1613.0h0M590.1 1755.7h0M472.8 1570.6h0M400.6 1696.4h0M613.9 1602.5h0M611.0 1731.9h0M591.5 1582.7h0M470.1 1765.4h0M618.7 1612.0h0M452.2 1577.7h0M570.9 1565.6h0M497.3 1556.1h0M469.0 1768.8h0M446.3 1755.3h0M408.7 1655.5h0M495.6 1559.9h0M574.2 1761.4h0M429.4 1740.8h0M537.0 1563.8h0M534.3 1777.4h0M567.2 1773.3h0M598.0 1736.5h0M406.3 1629.0h0M567.1 1567.6h0M460.5 1773.8h0M505.6 1556.8h0M405.5 1623.2h0M634.3 1667.0h0M589.7 1750.8h0M424.7 1728.3h0M523.5 1562.5h0M602.2 1594.8h0M431.0 1595.7h0M620.5 1624.7h0M610.0 1597.1h0M472.8 1557.2h0M404.5 1676.2h0M578.5 1574.9h0M473.7 1776.7h0M408.9 1685.3h0M574.6 1572.8h0M627.0 1648.8h0M616.9 1626.5h0M538.4 1780.0h0M527.7 1552.2h0M450.7 1582.9h0M431.6 1734.8h0M433.0 1755.1h0M449.1 1763.9h0M437.3 1594.4h0M475.0 1569.8h0M560.9 1773.6h0M598.5 1754.7h0M413.0 1720.8h0M620.3 1645.6h0M621.9 1668.4h0M422.8 1600.6h0M625.9 1659.1h0M624.1 1631.2h0M408.2 1684.8h0M525.3 1779.6h0M452.2 1760.4h0M555.1 1565.1h0M441.8 1591.9h0M588.9 1758.6h0M600.7 1599.0h0M622.4 1691.1h0M444.3 1754.4h0M413.3 1627.5h0M444.9 1575.7h0" stroke="#8f84c8" stroke-opacity="0.42" stroke-width="4" stroke-linecap="round" fill="none"/>
<circle cx="513.2" cy="1664" r="104" fill="#c1c0ce"/>
<path d="M508.3 1573.9h0M507.9 1741.7h0M490.2 1754.6h0M423.8 1694.8h0M432.4 1664.4h0M468.6 1733.3h0M506.7 1586.8h0M463.7 1627.8h0M445.6 1676.9h0M452.8 1645.8h0M552.8 1740.2h0M530.5 1629.1h0M521.3 1634.8h0M531.1 1751.0h0M511.5 1745.3h0M544.3 1754.5h0M547.0 1671.9h0M533.7 1747.9h0M569.7 1655.8h0M506.4 1576.8h0M464.1 1604.2h0M517.3 1654.1h0M548.9 1617.7h0M568.9 1629.3h0M515.4 1663.7h0M481.7 1661.8h0M583.7 1657.9h0M598.9 1654.2h0M426.7 1708.0h0M537.0 1695.1h0M595.1 1638.1h0M466.0 1732.4h0M469.7 1598.3h0M495.5 1615.9h0M558.0 1671.9h0M487.4 1665.9h0M526.2 1748.0h0M490.7 1603.9h0M461.4 1656.7h0M447.5 1708.0h0M496.8 1620.5h0M545.1 1743.1h0M461.9 1588.2h0M531.1 1570.8h0M497.9 1594.0h0M480.6 1617.0h0M496.6 1688.1h0M567.8 1616.3h0M584.1 1618.4h0M606.6 1646.6h0M453.7 1610.4h0M525.8 1732.7h0M443.2 1605.9h0M515.8 1704.9h0M505.0 1616.8h0M537.1 1739.1h0M435.3 1631.3h0M463.7 1682.0h0M577.4 1742.6h0M472.0 1636.4h0M595.5 1619.9h0M520.8 1600.1h0M486.7 1687.0h0M465.2 1582.8h0M457.7 1624.5h0M445.2 1642.9h0M607.9 1649.4h0M514.7 1618.4h0M435.8 1602.2h0M463.0 1715.8h0M451.2 1629.6h0M573.3 1716.3h0M496.7 1764.5h0M537.3 1735.5h0M585.4 1700.6h0M469.0 1703.1h0M456.4 1668.6h0M472.7 1666.4h0M450.4 1598.3h0M608.7 1633.0h0M444.2 1678.1h0M578.0 1603.0h0M476.0 1598.9h0M428.8 1656.6h0M454.1 1706.3h0M445.8 1675.1h0M562.2 1741.0h0M544.2 1647.8h0M489.4 1595.2h0M504.8 1566.8h0M586.5 1641.3h0M437.2 1690.5h0M536.7 1700.7h0M585.4 1609.1h0M453.3 1653.0h0M447.4 1611.8h0M558.6 1635.7h0M496.4 1590.2h0M434.9 1696.0h0M544.7 1743.3h0M469.4 1602.6h0M492.0 1742.0h0M548.1 1689.8h0M527.6 1696.8h0M448.7 1634.4h0M434.0 1696.5h0M601.0 1680.5h0M557.2 1705.0h0M447.4 1631.8h0M440.2 1691.0h0M483.9 1718.5h0M524.8 1695.1h0M448.4 1634.7h0M531.4 1637.3h0M525.1 1676.1h0M479.2 1723.2h0M486.1 1595.7h0M530.4 1587.3h0M482.0 1601.5h0M559.4 1711.0h0M524.7 1689.3h0M502.1 1731.0h0M475.3 1597.8h0M570.8 1743.0h0M612.9 1664.8h0M608.9 1654.8h0M531.7 1605.3h0M446.2 1636.5h0M601.3 1630.1h0M523.8 1718.8h0M431.5 1610.7h0M530.7 1759.2h0M563.8 1743.1h0M503.9 1701.9h0M438.6 1727.8h0M496.8 1729.6h0M487.2 1674.0h0M476.8 1725.9h0M481.2 1745.0h0M598.1 1609.6h0M575.5 1710.2h0M458.0 1611.4h0M439.9 1701.1h0M600.0 1662.2h0M595.8 1685.8h0M455.4 1607.5h0M582.9 1635.5h0M536.4 1666.5h0M583.1 1715.1h0M528.7 1629.6h0M558.7 1623.0h0M465.6 1586.2h0M566.2 1694.3h0M582.4 1590.9h0M415.7 1658.5h0M475.7 1625.2h0M536.8 1725.6h0M484.6 1682.7h0M508.8 1703.0h0M605.3 1623.2h0M417.6 1656.6h0M559.1 1740.3h0M592.5 1651.2h0M603.5 1656.2h0M486.4 1740.2h0M511.3 1678.5h0M421.8 1647.8h0M539.3 1587.9h0M548.3 1706.8h0M435.8 1607.2h0M507.7 1648.2h0M519.4 1577.7h0M507.8 1700.5h0M471.0 1588.2h0M572.0 1652.3h0M556.6 1628.6h0M477.0 1674.0h0M478.4 1568.6h0M579.2 1604.8h0M435.8 1641.0h0M422.4 1645.8h0M520.2 1564.5h0M512.4 1667.5h0M584.3 1728.4h0M502.3 1657.8h0M597.5 1653.8h0M443.2 1592.6h0M429.5 1647.7h0M479.8 1576.2h0M487.5 1637.9h0M501.5 1683.7h0M564.9 1635.8h0M479.1 1697.6h0M534.4 1737.6h0M493.3 1729.7h0M536.6 1580.6h0M565.6 1606.5h0M511.8 1592.6h0M489.4 1684.4h0M557.1 1626.2h0M461.9 1714.4h0M593.0 1640.4h0M543.9 1576.3h0M540.7 1585.5h0M454.8 1713.2h0M508.5 1721.2h0M454.0 1663.7h0M521.3 1758.3h0M508.7 1727.6h0M578.8 1690.5h0M563.8 1601.5h0M451.8 1739.5h0M508.2 1622.4h0M545.7 1746.4h0M501.1 1642.0h0M451.0 1655.3h0M570.3 1613.0h0M511.0 1700.1h0M506.1 1646.5h0M530.5 1641.1h0M433.8 1657.9h0M549.1 1625.4h0M483.0 1647.3h0M462.3 1586.3h0M530.5 1678.6h0M506.6 1609.9h0M549.5 1653.7h0M426.9 1622.0h0M450.2 1592.3h0M479.6 1687.1h0M498.6 1670.0h0M429.7 1721.5h0M460.3 1728.1h0M470.6 1736.1h0M430.9 1716.1h0M465.4 1686.7h0M499.8 1688.5h0M440.9 1713.5h0M519.7 1731.8h0M582.5 1602.6h0M578.4 1664.8h0M560.2 1616.7h0M524.5 1745.5h0M538.2 1642.4h0M491.7 1644.9h0M545.6 1735.7h0M557.2 1612.5h0M603.9 1710.1h0M512.1 1681.9h0M533.8 1654.1h0M493.8 1685.4h0M421.3 1685.2h0M558.7 1682.8h0M495.3 1709.1h0M427.4 1701.9h0M507.1 1739.5h0M571.7 1635.5h0M502.8 1631.2h0M463.5 1692.1h0M462.8 1734.3h0M442.1 1669.5h0M576.6 1695.8h0M466.7 1707.7h0M498.1 1728.3h0M509.2 1595.9h0M537.8 1676.6h0M447.4 1629.0h0M602.4 1682.6h0M505.4 1657.8h0M465.9 1665.8h0M560.4 1692.8h0M482.8 1734.0h0M561.6 1611.9h0M550.7 1606.8h0M536.2 1714.1h0M494.1 1725.8h0M576.2 1723.8h0M529.7 1749.1h0M527.0 1727.6h0M538.1 1693.7h0M595.4 1723.1h0M418.3 1688.3h0M554.4 1750.4h0M481.1 1593.0h0M470.5 1627.1h0M429.4 1712.7h0M499.8 1652.9h0M426.7 1689.3h0M455.8 1737.6h0M450.8 1692.3h0M541.4 1677.6h0M575.6 1611.8h0M549.3 1639.4h0M462.6 1692.7h0M534.1 1665.0h0M571.0 1612.6h0M568.9 1723.2h0M570.0 1724.4h0M513.2 1594.1h0M486.9 1721.7h0M498.6 1719.8h0M511.3 1651.4h0M537.8 1722.9h0M568.2 1678.5h0M452.7 1629.0h0M437.7 1691.3h0M572.6 1746.1h0M471.4 1647.0h0M491.7 1725.8h0M426.8 1655.9h0M485.8 1592.4h0M447.2 1659.0h0M566.5 1750.1h0M460.4 1618.9h0M588.7 1711.2h0M509.4 1698.4h0M534.1 1744.6h0M496.5 1673.3h0M497.8 1627.0h0M515.5 1564.7h0M449.1 1706.4h0M497.9 1670.6h0M490.2 1733.9h0M574.1 1641.0h0M508.4 1726.0h0M575.3 1637.1h0M492.8 1668.3h0M413.5 1645.8h0M484.8 1713.9h0M570.5 1726.5h0M478.1 1571.0h0M564.4 1746.7h0M507.4 1676.2h0M444.6 1651.7h0M591.6 1681.6h0M570.3 1744.4h0M544.0 1695.3h0M546.6 1717.3h0M461.5 1732.9h0M488.9 1690.8h0M425.1 1636.2h0M490.5 1650.2h0M442.2 1655.5h0M567.6 1733.5h0M524.8 1579.6h0M439.6 1728.1h0M501.1 1617.4h0M613.2 1645.2h0M479.4 1734.9h0M569.7 1743.9h0M563.9 1599.9h0M509.5 1587.7h0M494.1 1600.0h0M493.4 1621.2h0M530.7 1697.7h0M497.6 1695.8h0M510.9 1656.4h0M564.6 1581.3h0M492.4 1664.8h0M479.9 1647.6h0M524.2 1660.6h0M544.6 1725.1h0M488.4 1724.8h0M452.7 1701.0h0M473.7 1756.2h0M488.5 1655.5h0M469.6 1719.2h0M569.0 1581.0h0M555.3 1713.8h0M544.8 1573.7h0M433.7 1721.3h0M464.4 1656.8h0M505.8 1590.4h0M550.4 1655.6h0M494.9 1736.5h0M585.5 1696.1h0M423.2 1641.6h0M556.8 1678.4h0M535.4 1593.0h0M561.1 1650.5h0M433.9 1657.6h0M452.0 1743.5h0M452.1 1723.6h0M453.8 1654.2h0M594.8 1720.7h0M573.9 1685.5h0M573.2 1690.3h0M473.7 1581.7h0M503.1 1564.6h0M469.1 1623.3h0M475.9 1680.4h0M545.6 1657.3h0M510.9 1747.2h0M455.3 1711.3h0M469.9 1578.3h0M452.6 1603.6h0M477.3 1647.1h0M448.6 1732.1h0M510.7 1670.4h0M500.5 1658.3h0" stroke="#3a2a8a" stroke-opacity="0.7" stroke-width="1.05" stroke-linecap="round" fill="none"/>
<use href="#d7_0" stroke="#9d92ee" stroke-opacity="0.6" stroke-width="4.7" stroke-linecap="round" fill="none" filter="url(#pb1)"/>
<use href="#d7_1" stroke="#9d92ee" stroke-opacity="0.6" stroke-width="5.4" stroke-linecap="round" fill="none" filter="url(#pb1)"/>
<use href="#d7_2" stroke="#9d92ee" stroke-opacity="0.6" stroke-width="6.1" stroke-linecap="round" fill="none" filter="url(#pb1)"/>
<use href="#d7_3" stroke="#9d92ee" stroke-opacity="0.6" stroke-width="7.0" stroke-linecap="round" fill="none" filter="url(#pb1)"/>
<use href="#d7_4" stroke="#9d92ee" stroke-opacity="0.6" stroke-width="8.4" stroke-linecap="round" fill="none" filter="url(#pb1)"/>
<use href="#d7_0" stroke="#3118b8" stroke-width="1.1" stroke-linecap="round" fill="none"/>
<use href="#d7_1" stroke="#3118b8" stroke-width="1.8" stroke-linecap="round" fill="none"/>
<use href="#d7_2" stroke="#3118b8" stroke-width="2.5" stroke-linecap="round" fill="none"/>
<use href="#d7_3" stroke="#3118b8" stroke-width="3.4" stroke-linecap="round" fill="none"/>
<use href="#d7_4" stroke="#3118b8" stroke-width="4.8" stroke-linecap="round" fill="none"/>
<circle cx="513.2" cy="1664" r="104" fill="none" stroke="#3c3a55" stroke-width="1.1"/>
</g></g>
<g clip-path="url(#pc8)"><g filter="url(#pbs)">
<rect x="118.9" y="1804.2" width="253.2" height="252.6" fill="#c1c3c0"/>
<circle cx="490" cy="1932" r="122" fill="#c8c5d7" stroke="#7a788c" stroke-width="2"/>
<circle cx="490" cy="1932" r="118" fill="none" stroke="#6e6c82" stroke-opacity="0.6" stroke-width="3" stroke-dasharray="2 1.5"/>
<circle cx="250" cy="1688" r="122" fill="#c8c5d7" stroke="#7a788c" stroke-width="2"/>
<circle cx="250" cy="1688" r="118" fill="none" stroke="#6e6c82" stroke-opacity="0.6" stroke-width="3" stroke-dasharray="2 1.5"/>
<circle cx="245.2" cy="1932.3" r="121.7" fill="#c8c5d7" stroke="#8c8b96" stroke-width="1.6"/>
<circle cx="245.2" cy="1932.3" r="118.2" fill="none" stroke="#a9a8b3" stroke-width="1"/>
<path d="M245.2,1820.0A112.35,112.35 0 0 1 357.5,1932.3" fill="none" stroke="#7a7890" stroke-opacity="0.35" stroke-width="16.8" stroke-linecap="round" filter="url(#pb4)"/>
<path d="M244.0,1824.9A109.61,109.61 0 0 1 353.6,1934.5" fill="none" stroke="#7c7a90" stroke-opacity="0.45" stroke-width="11.2" filter="url(#pb1)"/>
<path d="M244.0,1829.5A105.0,105.0 0 0 1 349.0,1934.5" fill="none" stroke="#5e5c72" stroke-opacity="0.5" stroke-width="0.9" stroke-dasharray="2 1.5"/>
<path d="M244.0,1826.0A108.50625,108.50625 0 0 1 352.5,1934.5" fill="none" stroke="#5e5c72" stroke-opacity="0.5" stroke-width="0.9" stroke-dasharray="2 1.5"/>
<path d="M244.0,1822.5A112.0125,112.0125 0 0 1 356.0,1934.5" fill="none" stroke="#5e5c72" stroke-opacity="0.5" stroke-width="0.9" stroke-dasharray="2 1.5"/>
<path d="M244.0,1819.0A115.51875,115.51875 0 0 1 359.5,1934.5" fill="none" stroke="#5e5c72" stroke-opacity="0.5" stroke-width="0.9" stroke-dasharray="2 1.5"/>
<rect x="-10.4" y="-5" width="20.7" height="10" fill="#9795a6" fill-opacity="0.45" transform="translate(358.5,1932.3) rotate(0)"/>
<rect x="-10.4" y="-5" width="20.7" height="10" fill="#9795a6" fill-opacity="0.45" transform="translate(245.2,2045.6) rotate(90)"/>
<rect x="-10.4" y="-5" width="20.7" height="10" fill="#9795a6" fill-opacity="0.45" transform="translate(131.8,1932.3) rotate(180)"/>
<rect x="-10.4" y="-5" width="20.7" height="10" fill="#9795a6" fill-opacity="0.45" transform="translate(245.2,1819.0) rotate(270)"/>
<path d="M138.0 1957.7h0M320.5 2021.7h0M357.0 1936.8h0M330.4 1869.0h0M138.3 1894.4h0M351.8 1960.3h0M213.2 1825.8h0M228.5 1826.5h0M253.2 2038.5h0M127.6 1927.7h0M147.8 1870.1h0M159.4 2009.2h0M332.7 1997.3h0M192.5 1830.1h0M151.6 1982.4h0M233.9 2039.6h0M222.6 2046.2h0M281.8 2043.6h0M322.0 1859.6h0M164.3 2009.4h0M354.8 1948.6h0M333.8 1873.2h0M157.7 1871.3h0M142.0 1876.6h0M275.8 2032.9h0M342.5 1988.6h0M350.7 1943.9h0M127.6 1934.7h0M148.4 1985.4h0M176.8 1851.0h0M151.1 1880.7h0M153.7 1857.6h0M351.3 1969.9h0M161.2 1866.0h0M231.6 2050.1h0M351.9 1930.9h0M212.6 1818.9h0M254.6 2045.3h0M351.2 1961.7h0M193.3 1831.8h0" stroke="#8f84c8" stroke-opacity="0.42" stroke-width="4" stroke-linecap="round" fill="none"/>
<circle cx="244" cy="1934.5" r="103" fill="#c1c0ce"/>
<path d="M320.0 1980.6h0M283.1 1889.6h0M170.4 1957.7h0M307.8 1928.9h0M320.0 1943.3h0M201.2 2013.9h0M259.1 1999.2h0M213.6 1994.5h0M223.3 1912.6h0M250.9 1902.8h0M247.1 1918.7h0M153.3 1936.0h0M244.9 2019.5h0M166.8 1973.9h0M291.3 1923.6h0M199.4 1980.3h0M180.2 2003.0h0M283.2 2007.0h0M238.8 2027.0h0M266.4 1931.0h0M283.6 1920.7h0M165.4 1872.3h0M254.2 1938.6h0M208.7 1964.1h0M321.2 1918.0h0M282.1 1981.0h0M293.2 1992.0h0M216.1 1924.3h0M321.2 1968.2h0M224.6 1869.5h0M178.5 1993.7h0M290.3 2017.5h0M255.6 1849.9h0M149.4 1937.8h0M274.3 1944.0h0M278.0 1999.6h0M313.1 1975.0h0M259.4 2022.3h0M249.2 1944.8h0M180.5 1909.7h0M273.2 1990.2h0M310.2 1911.4h0M312.9 1907.9h0M261.1 1933.8h0M152.5 1908.3h0M172.9 1917.6h0M332.2 1973.1h0M165.9 1913.3h0M235.3 1879.9h0M312.3 1986.3h0M163.1 1958.8h0M197.9 1881.0h0M225.5 1920.5h0M288.6 1891.9h0M265.5 1891.0h0M183.0 1873.5h0M336.1 1955.7h0M184.9 1883.6h0M174.8 1980.5h0M253.9 1959.1h0M276.9 2006.0h0M228.3 1954.8h0M176.5 1919.2h0M246.6 1918.4h0M255.9 1877.4h0M253.0 1931.8h0M320.7 1923.0h0M293.8 1847.5h0M224.9 1961.3h0M253.1 1886.8h0M252.0 1978.0h0M268.5 1957.5h0M340.7 1919.9h0M240.5 1873.0h0M175.6 1925.0h0M203.3 1888.5h0M242.0 1983.5h0M267.6 2003.2h0M306.8 1911.4h0M256.0 1943.6h0M328.4 1966.6h0M274.2 1893.9h0M258.4 2011.7h0M240.1 1958.6h0M261.2 1881.9h0M266.5 1837.4h0M330.9 1894.1h0M326.8 1889.0h0M326.3 1990.0h0M245.0 1991.4h0M165.6 1938.6h0M274.9 1883.7h0M260.3 1996.2h0M192.5 1947.1h0M172.3 1901.6h0M270.1 1996.2h0M214.9 1991.5h0M203.9 1923.2h0M233.5 1891.9h0M297.1 1996.9h0M202.1 2002.5h0M191.1 1892.6h0M309.6 1875.7h0M264.9 2018.4h0M206.0 1998.4h0M230.8 1930.0h0M290.4 1883.1h0M272.8 1884.8h0M302.8 1976.7h0M225.5 2017.9h0M310.4 1966.5h0M253.2 1929.5h0M256.3 1951.2h0M277.6 1957.6h0M335.6 1931.8h0M179.6 1984.2h0M148.9 1930.8h0M230.4 1900.0h0M236.4 1994.5h0M201.1 1972.3h0M211.2 1906.5h0M159.1 1894.0h0M240.1 1925.5h0M229.8 1936.4h0M202.5 1850.2h0M246.8 1838.3h0M276.6 1975.9h0M215.0 1873.2h0M220.3 1977.0h0M193.7 2005.9h0M168.9 1912.5h0M340.0 1950.5h0M251.8 1891.6h0M311.8 1981.6h0M253.0 1970.4h0M304.8 1891.7h0M257.7 1979.4h0M170.0 1973.3h0M336.9 1933.9h0M223.1 1839.1h0M310.0 1961.1h0M171.1 1988.5h0M197.6 1883.8h0M151.0 1900.4h0M338.3 1912.9h0M226.0 1957.8h0M254.4 1839.9h0M282.7 2026.0h0M311.1 1904.4h0M208.4 1869.4h0M290.2 2022.8h0M258.6 1915.4h0M267.6 2007.7h0M224.7 2024.6h0M233.3 1969.2h0M228.1 1945.2h0M158.6 1959.9h0M339.7 1960.3h0M270.0 1967.5h0M267.8 2007.2h0M162.4 1922.5h0M287.2 1870.9h0M323.2 1892.4h0M215.4 1961.6h0M165.2 1994.2h0M190.4 1940.6h0M268.9 1899.5h0M310.7 1979.6h0M145.7 1921.8h0M205.4 1901.4h0M187.8 2015.2h0M247.8 1945.8h0M219.9 1930.1h0M277.6 1889.3h0M289.6 1938.8h0M293.2 1982.6h0M252.6 1990.1h0M216.1 1902.3h0M177.1 2005.6h0M208.2 2006.8h0M152.7 1903.0h0M243.1 1917.3h0M288.3 1947.9h0M251.5 1922.7h0M190.6 2000.7h0M223.2 1862.1h0M236.4 1907.8h0M323.5 1904.4h0M222.0 1923.7h0M284.9 1875.3h0M212.2 1882.6h0M188.4 2012.3h0M300.9 1889.6h0M262.4 1931.5h0M189.5 1949.5h0M260.0 1882.8h0M242.9 1860.8h0M267.8 1912.3h0M205.2 1851.7h0M241.1 1982.1h0M306.3 1961.5h0M161.5 1988.4h0M284.3 2024.4h0M268.5 1857.0h0M172.2 1972.1h0M231.2 1940.0h0M303.3 1913.1h0M340.0 1907.8h0M292.7 2021.7h0M239.5 1951.3h0M250.6 1940.6h0M267.3 2007.6h0M186.3 1988.3h0M295.9 1924.4h0M276.2 1905.2h0M205.9 1871.9h0M242.8 1896.2h0M274.5 2024.7h0M204.4 1877.5h0M244.9 1865.0h0M212.3 2009.1h0M256.0 1852.1h0M186.1 1897.6h0M164.4 1946.1h0M218.8 1951.0h0M229.5 1846.7h0M216.8 1938.3h0M168.3 1918.6h0M220.4 1903.4h0M161.8 1915.8h0M157.6 1888.6h0M241.6 1945.4h0M318.2 1975.2h0M212.8 1840.4h0M286.6 2011.8h0M249.8 1928.6h0M176.6 1960.2h0M252.3 1862.3h0M252.8 1873.5h0M284.3 1929.5h0M208.8 2011.0h0M295.2 1887.2h0M225.9 1879.8h0M337.3 1910.9h0M258.2 1885.5h0M272.3 1861.0h0M221.3 1948.3h0M270.8 1872.2h0M309.5 1952.2h0M266.6 1894.3h0M159.2 1892.1h0M248.1 1906.3h0M222.3 2025.9h0M226.3 2002.3h0M241.6 1911.3h0M278.4 1955.4h0M323.1 1989.3h0M279.0 1853.8h0M208.9 1970.9h0M231.6 1888.5h0M240.2 1835.0h0M175.1 1918.0h0M229.7 1871.6h0M245.5 1986.9h0M241.4 2018.7h0M229.7 1835.2h0M286.9 1940.3h0M296.0 1992.7h0M186.3 1892.5h0M174.8 1993.2h0M273.4 1866.0h0M225.0 1966.3h0M187.0 2005.1h0M328.1 1983.5h0M224.8 1956.8h0M197.7 1985.3h0M199.1 1949.8h0M332.2 1898.0h0M240.7 2014.3h0M286.3 1998.9h0M251.1 1910.2h0M271.8 1978.7h0M309.7 1998.1h0M272.4 1974.5h0M204.3 1847.8h0M282.6 1953.3h0M310.5 2003.9h0M212.6 1855.1h0M167.3 1944.7h0M231.3 1998.3h0M291.4 2000.4h0M239.5 2004.1h0M291.4 1895.7h0M197.5 1874.3h0M325.2 1935.2h0M307.1 1871.3h0M157.7 1922.3h0M331.2 1902.6h0M271.3 1980.1h0M302.3 1941.2h0" stroke="#3a2a8a" stroke-opacity="0.7" stroke-width="1.05" stroke-linecap="round" fill="none"/>
<use href="#d8_0" stroke="#9d92ee" stroke-opacity="0.6" stroke-width="4.7" stroke-linecap="round" fill="none" filter="url(#pb1)"/>
<use href="#d8_1" stroke="#9d92ee" stroke-opacity="0.6" stroke-width="5.4" stroke-linecap="round" fill="none" filter="url(#pb1)"/>
<use href="#d8_2" stroke="#9d92ee" stroke-opacity="0.6" stroke-width="6.1" stroke-linecap="round" fill="none" filter="url(#pb1)"/>
<use href="#d8_3" stroke="#9d92ee" stroke-opacity="0.6" stroke-width="7.0" stroke-linecap="round" fill="none" filter="url(#pb1)"/>
<use href="#d8_4" stroke="#9d92ee" stroke-opacity="0.6" stroke-width="8.4" stroke-linecap="round" fill="none" filter="url(#pb1)"/>
<use href="#d8_0" stroke="#3118b8" stroke-width="1.1" stroke-linecap="round" fill="none"/>
<use href="#d8_1" stroke="#3118b8" stroke-width="1.8" stroke-linecap="round" fill="none"/>
<use href="#d8_2" stroke="#3118b8" stroke-width="2.5" stroke-linecap="round" fill="none"/>
<use href="#d8_3" stroke="#3118b8" stroke-width="3.4" stroke-linecap="round" fill="none"/>
<use href="#d8_4" stroke="#3118b8" stroke-width="4.8" stroke-linecap="round" fill="none"/>
<circle cx="244" cy="1934.5" r="103" fill="none" stroke="#3c3a55" stroke-width="1.1"/>
</g></g>
<g clip-path="url(#pc9)"><g filter="url(#pbs)">
<rect x="386.5" y="1804.2" width="253.5" height="252.7" fill="#c1c3c0"/>
<circle cx="270" cy="1932" r="122" fill="#c8c5d7" stroke="#7a788c" stroke-width="2"/>
<circle cx="270" cy="1932" r="118" fill="none" stroke="#6e6c82" stroke-opacity="0.6" stroke-width="3" stroke-dasharray="2 1.5"/>
<circle cx="520" cy="1688" r="122" fill="#c8c5d7" stroke="#7a788c" stroke-width="2"/>
<circle cx="520" cy="1688" r="118" fill="none" stroke="#6e6c82" stroke-opacity="0.6" stroke-width="3" stroke-dasharray="2 1.5"/>
<circle cx="514" cy="1933.2" r="121.3" fill="#c8c5d7" stroke="#8c8b96" stroke-width="1.6"/>
<circle cx="514" cy="1933.2" r="117.8" fill="none" stroke="#a9a8b3" stroke-width="1"/>
<path d="M403.8,1913.8A111.9,111.9 0 0 1 570.0,1836.3" fill="none" stroke="#7d5fd6" stroke-opacity="0.55" stroke-width="18.8" stroke-linecap="round" filter="url(#pb4)"/>
<path d="M412.8,1895.9A109.14,109.14 0 0 1 622.9,1914.2" fill="none" stroke="#7c7a90" stroke-opacity="0.45" stroke-width="11.3" filter="url(#pb1)"/>
<path d="M417.2,1897.5A104.5,104.5 0 0 1 618.3,1915.1" fill="none" stroke="#5e5c72" stroke-opacity="0.5" stroke-width="0.9" stroke-dasharray="2 1.5"/>
<path d="M413.9,1896.3A108.025,108.025 0 0 1 621.8,1914.4" fill="none" stroke="#5e5c72" stroke-opacity="0.5" stroke-width="0.9" stroke-dasharray="2 1.5"/>
<path d="M410.6,1895.0A111.55,111.55 0 0 1 625.3,1913.8" fill="none" stroke="#5e5c72" stroke-opacity="0.5" stroke-width="0.9" stroke-dasharray="2 1.5"/>
<path d="M407.3,1893.8A115.07499999999999,115.07499999999999 0 0 1 628.7,1913.2" fill="none" stroke="#5e5c72" stroke-opacity="0.5" stroke-width="0.9" stroke-dasharray="2 1.5"/>
<rect x="-10.4" y="-5" width="20.8" height="10" fill="#9795a6" fill-opacity="0.45" transform="translate(626.9,1933.2) rotate(0)"/>
<rect x="-10.4" y="-5" width="20.8" height="10" fill="#9795a6" fill-opacity="0.45" transform="translate(514.0,2046.1) rotate(90)"/>
<rect x="-10.4" y="-5" width="20.8" height="10" fill="#9795a6" fill-opacity="0.45" transform="translate(401.1,1933.2) rotate(180)"/>
<rect x="-10.4" y="-5" width="20.8" height="10" fill="#9795a6" fill-opacity="0.45" transform="translate(514.0,1820.3) rotate(270)"/>
<path d="M414.5 1885.3h0M419.3 1882.6h0M558.9 1826.4h0M453.2 1845.5h0M405.9 1919.1h0M514.0 2050.8h0M619.1 1930.9h0M586.0 1846.3h0M434.2 2006.6h0M463.7 1834.5h0M469.4 1828.7h0M591.2 2018.6h0M631.2 1920.2h0M434.4 1864.5h0M620.3 1935.9h0M615.3 1893.8h0M436.1 2020.3h0M469.9 2036.2h0M417.0 1974.4h0M413.9 1874.4h0M573.7 2022.7h0M424.3 1987.9h0M398.2 1935.7h0M452.8 1839.6h0M579.4 1849.0h0M414.0 1888.2h0M428.7 1870.2h0M530.9 1828.7h0M572.0 2033.2h0M618.6 1897.5h0M421.5 1988.7h0M496.5 2044.9h0M560.1 2028.8h0M411.3 1962.5h0M445.2 1840.0h0M533.1 1823.7h0M450.4 2023.6h0M628.3 1936.8h0M460.5 2028.1h0M611.0 1986.5h0M418.7 1878.5h0M591.7 1850.0h0M520.0 2044.8h0M608.5 1873.7h0M429.6 1870.1h0M403.4 1940.6h0M424.3 1997.4h0M417.6 1876.3h0M407.4 1940.0h0M404.0 1975.7h0M423.6 1986.5h0M625.9 1935.2h0M614.5 1966.2h0M599.9 2003.1h0M625.1 1928.1h0M407.2 1961.6h0M403.3 1932.4h0M496.6 1817.6h0M478.5 1828.7h0M444.9 1838.7h0M575.3 2021.8h0M430.5 1855.6h0M443.6 1845.3h0M567.2 1835.6h0M555.7 1823.0h0M407.1 1979.2h0M490.9 1818.8h0M626.2 1966.7h0M526.4 1816.1h0M621.7 1920.5h0M462.7 1839.9h0M417.1 1867.2h0M553.0 2035.3h0M608.0 1984.7h0M541.8 2035.3h0M630.7 1933.0h0M402.2 1959.1h0M476.3 1828.0h0M413.2 1985.8h0M412.3 1896.2h0M439.5 2018.4h0M439.1 1856.3h0M424.1 1859.0h0M592.4 1851.1h0M613.8 1980.3h0M603.2 1989.1h0M510.7 2044.0h0M520.7 1820.2h0M490.9 2044.9h0M402.6 1928.6h0M504.5 2043.4h0M451.7 2029.3h0M404.0 1945.3h0M404.0 1949.2h0M471.6 1826.9h0M548.7 1828.7h0M545.8 1819.8h0M628.3 1927.7h0M620.5 1979.7h0M568.1 1843.6h0M462.9 2029.4h0M507.2 1820.5h0M492.4 2038.1h0M565.8 2025.5h0M543.6 1819.6h0M535.6 2045.9h0M616.1 1900.8h0M414.5 1884.9h0M629.1 1914.9h0M620.7 1944.0h0M578.9 1841.4h0M399.5 1916.7h0M524.4 1816.0h0M465.3 2026.4h0M476.7 1834.8h0M407.3 1886.9h0M424.0 2001.2h0M564.5 2027.1h0M422.5 1861.2h0M618.9 1933.1h0M612.1 1880.1h0M449.7 2022.4h0M417.5 1881.8h0M585.1 2025.4h0M483.5 1824.5h0M493.7 1816.8h0M566.5 2036.5h0M561.9 1835.0h0M410.6 1893.2h0M551.9 2037.0h0M581.4 2029.2h0M557.4 2037.8h0M407.3 1883.0h0M543.6 1827.8h0M439.1 2007.1h0M617.1 1968.0h0M614.0 1900.6h0M564.3 2034.7h0M445.5 2015.5h0M613.4 1899.1h0M423.9 1869.4h0M453.6 2021.7h0M571.3 2027.2h0M515.6 1822.3h0M533.9 1818.3h0M568.2 2036.5h0M417.8 1879.2h0M397.6 1923.4h0M431.7 1999.6h0M616.8 1906.6h0M603.6 2004.4h0M473.5 2033.9h0M445.1 1838.9h0M447.9 2029.7h0M431.6 1856.1h0M411.5 1912.0h0M576.2 2028.6h0M477.2 1834.0h0M441.6 1849.0h0M416.6 1882.1h0" stroke="#8f84c8" stroke-opacity="0.42" stroke-width="4" stroke-linecap="round" fill="none"/>
<circle cx="515.4" cy="1933.2" r="102.5" fill="#c1c0ce"/>
<path d="M486.6 1970.2h0M552.7 2024.8h0M423.9 1915.0h0M525.7 1907.7h0M522.3 1921.9h0M566.4 1904.6h0M461.5 1999.7h0M594.6 1926.6h0M526.8 1973.1h0M538.6 1884.4h0M516.5 1983.1h0M447.5 1893.3h0M453.7 1912.7h0M533.1 1933.8h0M531.1 1938.9h0M602.8 1921.7h0M488.8 1956.6h0M504.3 1938.1h0M457.3 1875.7h0M425.0 1902.8h0M498.9 1949.4h0M480.5 1991.6h0M502.4 1919.8h0M497.7 1865.2h0M570.2 1959.2h0M538.6 1979.5h0M554.2 1989.3h0M487.6 1928.8h0M545.2 1956.2h0M505.8 1899.7h0M548.5 1849.3h0M465.1 1876.0h0M437.0 1971.5h0M498.9 1863.4h0M453.4 1882.7h0M436.7 1915.3h0M499.4 1976.8h0M442.5 1973.9h0M450.0 1999.4h0M576.9 1987.8h0M548.0 1888.9h0M485.8 1903.3h0M502.5 1922.6h0M569.9 1893.3h0M528.7 1842.9h0M486.9 1882.1h0M476.0 1935.7h0M453.9 1945.1h0M527.9 1984.3h0M474.2 1873.7h0M587.5 1911.3h0M559.7 1993.6h0M482.7 2006.7h0M582.1 2004.1h0M484.1 1872.9h0M417.4 1919.6h0M525.6 1872.1h0M591.7 1887.2h0M574.7 1994.5h0M606.1 1891.0h0M479.6 1877.4h0M594.9 1887.4h0M587.3 1979.2h0M497.9 1952.7h0M489.9 1996.1h0M522.9 1846.6h0M495.0 1873.0h0M557.4 1919.9h0M542.8 1974.2h0M555.9 1886.1h0M485.0 1861.7h0M446.9 1992.9h0M613.5 1925.4h0M515.1 1859.7h0M437.6 1882.7h0M495.4 1903.0h0M556.7 1879.4h0M561.2 1936.6h0M535.7 1970.5h0M531.7 1993.3h0M466.2 1902.4h0M476.0 1937.0h0M575.3 1935.0h0M432.9 1932.4h0M578.7 1871.4h0M510.5 1911.7h0M563.3 1884.8h0M533.5 1904.2h0M570.4 1969.4h0M564.3 1885.6h0M495.7 1952.0h0M543.8 1934.5h0M428.7 1904.6h0M576.6 1888.3h0M542.9 1923.2h0M567.0 1863.0h0M444.2 1989.3h0M530.7 1933.0h0M496.3 1855.6h0M490.1 2013.1h0M437.9 1958.0h0M467.6 1933.3h0M493.4 1998.3h0M588.5 1886.1h0M592.3 1944.5h0M465.0 1878.9h0M485.5 2018.8h0M481.3 1967.9h0M522.8 1893.6h0M500.2 1926.7h0M605.2 1951.7h0M556.1 1931.1h0M521.6 1877.8h0M498.8 1936.7h0M516.0 1954.0h0M509.7 1921.3h0M474.9 1987.5h0M487.7 1874.2h0M544.2 1975.4h0M503.7 1916.3h0M520.9 2014.9h0M586.2 1919.4h0M522.4 1864.4h0M459.1 1914.1h0M486.9 1849.3h0M493.9 2007.8h0M491.7 1935.9h0M461.1 1999.1h0M431.2 1948.7h0M492.2 1920.3h0M483.0 2000.2h0M560.0 1929.1h0M503.1 1857.3h0M513.2 1912.7h0M475.3 1937.5h0M467.1 1973.7h0M541.6 2018.6h0M572.8 1854.2h0M565.6 1883.8h0M580.3 1896.6h0M584.9 1923.4h0M468.2 1860.6h0M481.8 1838.9h0M485.5 1893.5h0M481.2 1956.5h0M546.0 2011.7h0M523.8 1998.0h0M523.0 1997.4h0M558.1 1860.6h0M499.0 1865.5h0M546.4 1851.6h0M465.9 1858.1h0M504.2 1847.6h0M536.1 1863.6h0M507.2 1890.3h0M437.8 1912.9h0M583.4 1894.9h0M482.9 1850.1h0M581.2 1864.3h0M552.3 1889.1h0M433.2 1886.4h0M559.0 2019.4h0M519.6 2023.1h0M452.0 1930.0h0M450.5 1926.3h0M543.9 1944.3h0M504.5 2018.0h0M499.1 1882.8h0M430.1 1914.2h0M461.7 2006.5h0M454.2 1860.9h0M551.5 1848.1h0M590.1 1894.6h0M432.4 1960.0h0M487.0 1952.9h0M593.3 1944.5h0M450.4 1975.6h0M578.8 1961.2h0M498.7 1910.6h0M544.9 1976.2h0M603.0 1966.1h0M552.7 1857.7h0M464.1 1853.1h0M493.9 1942.1h0M435.9 1983.3h0M512.1 1859.8h0M466.5 1991.8h0M440.0 1950.3h0M567.9 1957.8h0M566.6 1931.6h0M483.9 1977.5h0M594.9 1993.1h0M479.3 1968.5h0M458.8 1971.7h0M546.2 1975.9h0M551.9 1998.6h0M515.7 1927.1h0M459.0 2000.4h0M566.3 2012.6h0M475.6 1846.6h0M593.6 1958.6h0M558.1 2009.8h0M445.5 1910.4h0M508.5 1956.9h0M520.8 1837.0h0M570.6 1925.2h0M499.9 1911.1h0M567.2 1859.6h0M510.0 1852.6h0M525.5 1884.4h0M441.3 1896.0h0M491.0 1887.4h0M493.0 1932.9h0M472.4 2002.4h0M588.5 1960.0h0M457.4 1936.5h0M426.4 1912.3h0M447.7 2002.4h0M432.8 1886.5h0M543.7 1996.0h0M541.0 1845.5h0M488.3 1989.6h0M487.2 1977.6h0M533.9 1909.2h0M544.6 1992.8h0M552.9 2007.2h0M609.6 1935.8h0M468.0 1875.5h0M536.0 1988.3h0M435.6 1881.2h0M557.6 2005.6h0M523.6 1927.8h0M556.4 1947.9h0M434.5 1897.3h0M503.1 1928.5h0M578.8 1899.9h0M560.5 1995.8h0M540.2 1857.7h0M478.3 2024.8h0M588.3 1955.7h0M576.6 2009.9h0M565.5 1869.4h0M584.3 1923.5h0M457.2 1906.4h0M607.7 1942.7h0M568.3 1856.3h0M502.2 1894.6h0M534.2 1982.5h0M498.1 1863.5h0M481.8 1985.3h0M472.9 1911.8h0M567.2 1876.6h0M607.0 1937.9h0M541.4 1961.5h0M512.8 1880.9h0M506.7 1863.5h0M452.5 2000.5h0M516.8 1938.9h0M444.7 1898.3h0M516.6 1887.8h0M525.0 1947.3h0M458.1 1889.0h0M443.6 1997.3h0M426.2 1948.9h0M568.2 1917.0h0M496.7 1865.0h0M556.1 1897.2h0M581.8 1953.3h0M499.7 1954.0h0M565.7 1975.5h0M428.7 1900.9h0M458.4 1853.7h0M558.4 2012.0h0M518.3 1954.1h0M577.2 1953.3h0M486.2 2025.4h0M601.1 1958.6h0M469.1 2013.4h0M459.7 1887.4h0M493.0 2008.4h0M476.8 1965.9h0M590.3 1933.5h0M558.7 1953.6h0M487.4 1845.9h0M471.1 1853.1h0M506.6 1949.9h0M423.1 1952.9h0M546.5 1980.9h0M595.2 1986.6h0M491.1 1988.4h0M583.5 1890.9h0M599.8 1914.8h0M514.0 1879.6h0M595.5 1961.0h0M570.0 1880.2h0M517.9 1950.5h0M458.2 1887.0h0M570.4 1883.5h0M481.7 1881.3h0M547.5 1866.4h0M570.2 1902.6h0M499.8 1842.0h0M465.4 1851.1h0M568.1 1919.4h0M481.4 1982.1h0M435.9 1933.0h0M429.3 1984.6h0M423.0 1962.8h0M468.9 1922.6h0M489.7 2011.5h0M444.4 1962.9h0M528.9 1939.0h0M496.5 1874.2h0M554.3 1923.9h0M562.6 1971.1h0M553.5 1912.4h0M466.9 1854.6h0M500.1 1914.3h0M516.8 1948.4h0M502.9 1910.3h0M508.9 2023.9h0M418.7 1906.8h0M545.8 2020.6h0M454.4 1867.6h0M517.9 1905.2h0M452.2 1994.1h0M561.5 1956.7h0M491.7 2007.5h0M469.3 1948.5h0M496.0 1902.8h0M499.8 1988.2h0M454.9 1959.7h0M513.8 1999.4h0M584.5 1880.1h0M502.0 1858.9h0M495.2 2021.3h0M430.5 1893.7h0M439.7 1907.0h0M421.0 1938.0h0M510.5 2017.7h0M476.4 1923.4h0M571.6 2005.1h0M502.6 2017.8h0M527.7 1902.0h0M494.2 1944.9h0M491.5 1855.5h0M586.7 1984.6h0M502.8 1967.3h0M588.4 1876.9h0M502.4 1997.2h0M444.2 1966.8h0M504.4 1924.3h0M466.7 1849.6h0M592.5 1970.2h0M588.7 1904.6h0M492.9 1980.5h0M474.4 1904.2h0M549.7 1885.2h0M436.1 1910.2h0M538.3 2017.8h0M470.8 1956.4h0M456.8 1956.5h0M470.7 2022.4h0M561.8 1853.2h0M471.2 1968.4h0M510.3 1919.0h0M549.3 1994.4h0M424.9 1963.5h0M466.6 1940.7h0M517.8 1974.6h0M470.5 1866.1h0M512.6 1900.7h0M429.6 1912.6h0M455.2 1883.1h0M494.9 1847.1h0M426.9 1924.0h0M558.8 1986.5h0M463.7 1869.2h0M462.3 1862.8h0M581.5 1958.3h0M478.8 1861.0h0M518.7 1969.9h0M566.1 1979.1h0M605.0 1977.9h0M573.9 1872.8h0M490.9 1936.4h0M581.4 1923.6h0M430.2 1883.8h0M573.8 1868.7h0M540.6 1954.3h0M582.5 1888.9h0M587.7 1889.2h0M509.0 1973.5h0M473.1 1922.4h0M545.6 2026.7h0M449.7 1946.9h0M492.6 2003.9h0M582.5 1933.4h0M510.1 1932.3h0M490.3 1912.5h0" stroke="#3a2a8a" stroke-opacity="0.7" stroke-width="1.05" stroke-linecap="round" fill="none"/>
<use href="#d9_0" stroke="#9d92ee" stroke-opacity="0.6" stroke-width="4.7" stroke-linecap="round" fill="none" filter="url(#pb1)"/>
<use href="#d9_1" stroke="#9d92ee" stroke-opacity="0.6" stroke-width="5.4" stroke-linecap="round" fill="none" filter="url(#pb1)"/>
<use href="#d9_2" stroke="#9d92ee" stroke-opacity="0.6" stroke-width="6.1" stroke-linecap="round" fill="none" filter="url(#pb1)"/>
<use href="#d9_3" stroke="#9d92ee" stroke-opacity="0.6" stroke-width="7.0" stroke-linecap="round" fill="none" filter="url(#pb1)"/>
<use href="#d9_4" stroke="#9d92ee" stroke-opacity="0.6" stroke-width="8.4" stroke-linecap="round" fill="none" filter="url(#pb1)"/>
<use href="#d9_0" stroke="#3118b8" stroke-width="1.1" stroke-linecap="round" fill="none"/>
<use href="#d9_1" stroke="#3118b8" stroke-width="1.8" stroke-linecap="round" fill="none"/>
<use href="#d9_2" stroke="#3118b8" stroke-width="2.5" stroke-linecap="round" fill="none"/>
<use href="#d9_3" stroke="#3118b8" stroke-width="3.4" stroke-linecap="round" fill="none"/>
<use href="#d9_4" stroke="#3118b8" stroke-width="4.8" stroke-linecap="round" fill="none"/>
<circle cx="515.4" cy="1933.2" r="102.5" fill="none" stroke="#3c3a55" stroke-width="1.1"/>
</g></g>
<g clip-path="url(#pc10)"><g filter="url(#pbs)">
<rect x="891.4" y="1539" width="251.8" height="251.2" fill="#c1c3c0"/>
<circle cx="1017.7" cy="1665.6" r="122.3" fill="#c8c5d7" stroke="#8c8b96" stroke-width="1.6"/>
<circle cx="1017.7" cy="1665.6" r="118.8" fill="none" stroke="#a9a8b3" stroke-width="1"/>
<path d="M1125.6,1704.9A114.8,114.8 0 0 1 904.6,1685.5" fill="none" stroke="#7d5fd6" stroke-opacity="0.25" stroke-width="12.0" stroke-linecap="round" filter="url(#pb4)"/>
<rect x="-8.5" y="-5" width="17.0" height="10" fill="#9795a6" fill-opacity="0.45" transform="translate(1133.5,1665.6) rotate(0)"/>
<rect x="-8.5" y="-5" width="17.0" height="10" fill="#9795a6" fill-opacity="0.45" transform="translate(1017.7,1781.4) rotate(90)"/>
<rect x="-8.5" y="-5" width="17.0" height="10" fill="#9795a6" fill-opacity="0.45" transform="translate(901.9,1665.6) rotate(180)"/>
<rect x="-8.5" y="-5" width="17.0" height="10" fill="#9795a6" fill-opacity="0.45" transform="translate(1017.7,1549.8) rotate(270)"/>
<path d="M907.9 1699.5h0M1119.0 1613.4h0M902.7 1659.9h0M1063.4 1770.5h0M937.4 1580.2h0M1111.0 1728.2h0M1116.6 1728.9h0M979.5 1562.7h0M1135.9 1652.3h0M952.2 1570.6h0M1077.8 1757.1h0M909.5 1646.1h0M1058.7 1769.5h0M1129.6 1687.0h0M908.1 1708.6h0M902.8 1651.7h0M901.8 1665.8h0M909.6 1695.3h0M1136.9 1663.8h0M1080.2 1567.4h0M973.2 1767.9h0M991.0 1772.3h0M1029.3 1552.9h0M1082.2 1572.6h0M1131.4 1634.9h0M1129.1 1666.0h0M1114.1 1604.7h0M1130.1 1651.7h0M1121.3 1716.8h0M1037.7 1555.4h0M1113.9 1724.2h0M1131.6 1639.4h0M1100.1 1741.1h0M1106.2 1730.8h0M1050.0 1559.3h0M911.7 1624.2h0M1060.2 1774.2h0M1096.4 1750.4h0M1102.1 1741.5h0M1043.6 1774.6h0M1133.1 1644.3h0M978.3 1777.0h0M1045.4 1775.4h0M1088.3 1573.9h0M1114.0 1735.9h0M1043.3 1774.5h0M1033.7 1554.2h0M986.1 1771.0h0M1114.9 1727.4h0M1022.8 1780.8h0M938.9 1747.7h0M1128.1 1636.6h0M912.4 1612.3h0M1063.1 1766.7h0M1116.3 1601.7h0M1018.1 1776.8h0M1009.8 1547.2h0M1056.8 1777.8h0M1102.9 1587.8h0M920.5 1717.9h0M1133.1 1694.2h0M1026.2 1781.6h0M1012.5 1783.0h0M925.5 1601.7h0M1070.3 1769.5h0M1119.0 1712.3h0M908.0 1622.7h0M933.3 1591.8h0M1114.4 1610.4h0M1129.1 1677.2h0M914.1 1702.4h0M1068.2 1766.7h0M918.3 1617.1h0M941.1 1755.7h0M1132.7 1651.4h0M976.1 1558.2h0M1087.4 1750.2h0M1135.4 1678.9h0M981.6 1552.3h0M1132.3 1681.0h0M901.8 1678.6h0M967.7 1773.9h0M1119.9 1717.9h0M1008.1 1547.7h0M1008.3 1549.6h0M1049.5 1551.5h0M948.3 1758.8h0M1113.5 1596.7h0M916.0 1723.9h0M1092.9 1578.6h0M937.7 1585.6h0M917.5 1608.3h0M1119.0 1721.5h0M1135.7 1660.6h0M1002.3 1553.5h0M1006.9 1551.0h0M908.1 1708.6h0M1118.7 1724.3h0M1131.0 1687.1h0M906.9 1678.9h0M981.3 1557.3h0M928.6 1587.5h0M1013.7 1774.9h0M981.1 1775.8h0M1050.3 1771.7h0M1113.9 1600.9h0M907.3 1707.8h0M963.8 1768.3h0M1053.8 1773.3h0M1058.5 1554.4h0M1100.3 1588.3h0M920.2 1609.5h0M1092.6 1751.9h0M1079.0 1565.0h0M989.0 1550.3h0M999.1 1775.0h0M911.0 1699.8h0M1043.1 1776.2h0M937.3 1584.4h0M970.7 1773.5h0M1130.8 1652.8h0M1115.5 1715.2h0M1094.2 1587.0h0M988.1 1554.5h0M975.2 1774.8h0M1127.6 1678.9h0M912.5 1696.3h0M1071.3 1567.6h0M1087.2 1750.6h0M939.4 1583.1h0M938.4 1581.2h0M1059.6 1554.4h0M973.2 1563.6h0M908.0 1682.9h0M1131.5 1673.3h0M992.9 1557.3h0M1001.9 1777.2h0M980.5 1557.3h0M929.8 1588.6h0M925.8 1738.3h0M1109.3 1604.4h0M1123.9 1617.7h0M1095.7 1748.5h0M934.3 1581.6h0M935.5 1746.0h0M1102.8 1585.0h0M1124.7 1626.5h0M953.0 1575.0h0M997.1 1549.9h0M944.4 1575.1h0" stroke="#8f84c8" stroke-opacity="0.42" stroke-width="4" stroke-linecap="round" fill="none"/>
<circle cx="1014.7" cy="1664.3" r="107.3" fill="#c1c0ce"/>
<path d="M1054.0 1635.8h0M1117.8 1649.5h0M1034.2 1589.8h0M1065.0 1632.4h0M958.3 1743.5h0M986.5 1675.3h0M1023.6 1586.8h0M1086.9 1677.3h0M1101.7 1701.4h0M1058.5 1747.5h0M1029.1 1605.2h0M1038.1 1696.0h0M1002.2 1589.8h0M978.9 1574.8h0M912.5 1669.1h0M1102.5 1717.0h0M965.9 1656.0h0M1007.2 1608.2h0M931.5 1652.3h0M924.9 1628.8h0M971.6 1704.2h0M1093.1 1607.7h0M1043.1 1625.6h0M912.4 1648.6h0M1038.8 1740.1h0M937.7 1662.8h0M1095.3 1678.5h0M911.7 1653.9h0M1035.7 1601.1h0M935.9 1668.7h0M1094.7 1699.5h0M948.6 1704.1h0M1105.9 1616.7h0M960.9 1673.5h0M980.4 1679.5h0M1091.7 1608.7h0M984.9 1730.5h0M980.7 1633.3h0M1084.2 1737.8h0M1106.6 1677.5h0M1021.3 1710.2h0M976.6 1742.7h0M968.9 1621.5h0M1010.6 1630.5h0M977.9 1661.9h0M1031.7 1714.1h0M944.1 1693.9h0M959.6 1697.7h0M1055.8 1728.8h0M982.5 1629.4h0M932.1 1648.8h0M940.6 1601.7h0M1025.3 1761.1h0M1048.3 1580.3h0M974.5 1755.8h0M1066.9 1636.8h0M1063.8 1663.8h0M1080.7 1738.2h0M1007.2 1613.4h0M1058.6 1695.0h0M930.2 1709.6h0M1080.4 1730.8h0M988.3 1603.0h0M1019.0 1677.7h0M1088.4 1618.4h0M1092.1 1732.9h0M1018.5 1589.6h0M985.4 1595.7h0M1056.0 1683.9h0M1048.0 1672.3h0M936.9 1657.0h0M1062.7 1727.4h0M1027.6 1707.6h0M1110.9 1658.4h0M1098.3 1721.3h0M1039.7 1656.4h0M1021.3 1593.1h0M955.9 1676.7h0M946.4 1696.4h0M1095.9 1671.1h0M1063.8 1591.3h0M971.8 1677.1h0M939.8 1715.0h0M1038.3 1704.3h0M1089.6 1671.6h0M1046.4 1570.1h0M1071.3 1596.5h0M945.8 1711.4h0M933.3 1662.1h0M1049.9 1566.2h0M1060.1 1636.0h0M1030.6 1575.0h0M936.0 1717.3h0M1087.2 1596.1h0M1024.2 1577.2h0M938.4 1715.6h0M1095.4 1702.6h0M954.4 1676.3h0M1008.0 1672.8h0M954.9 1605.2h0M1062.3 1647.0h0M969.7 1737.4h0M937.3 1628.1h0M955.7 1713.4h0M948.8 1582.3h0M1021.2 1576.5h0M1117.7 1679.2h0M1008.9 1582.0h0M971.3 1695.2h0M1022.6 1686.5h0M1067.2 1701.7h0M1058.4 1634.9h0M936.8 1660.5h0M920.6 1621.5h0M946.8 1584.3h0M1098.7 1707.9h0M1019.4 1583.2h0M1034.9 1654.8h0M973.3 1671.7h0M971.5 1665.5h0M1091.4 1693.9h0M924.9 1713.2h0M952.4 1620.3h0M1000.5 1726.3h0M935.7 1632.6h0M1003.0 1609.5h0M1071.7 1669.3h0M1064.9 1678.1h0M1015.9 1622.7h0M1067.2 1624.9h0M1101.2 1692.5h0M1113.0 1628.5h0M1038.3 1648.4h0M946.5 1674.0h0M1018.8 1768.0h0M1084.9 1635.1h0M927.1 1682.0h0M1057.0 1569.3h0M1076.0 1718.4h0M934.8 1687.1h0M1059.6 1679.5h0M1069.0 1718.1h0M980.2 1603.4h0M1009.3 1735.1h0M944.5 1703.2h0M923.7 1646.5h0M1115.1 1633.5h0M1021.3 1754.2h0M1042.4 1642.1h0M948.8 1598.5h0M1006.2 1726.7h0M934.8 1629.8h0M960.5 1604.3h0M1048.4 1749.1h0M1066.7 1657.6h0M1087.5 1594.9h0M1034.1 1672.1h0M965.9 1689.1h0M1081.1 1714.1h0M1084.2 1698.3h0M1000.9 1636.6h0M961.7 1607.0h0M951.0 1672.9h0M987.9 1704.4h0M1062.6 1587.2h0M1035.6 1683.9h0M947.3 1597.9h0M1035.8 1754.0h0M1011.2 1732.7h0M950.4 1733.7h0M1099.5 1658.5h0M957.5 1646.3h0M1094.5 1621.0h0M967.9 1714.6h0M1037.9 1641.2h0M1040.2 1679.0h0M936.1 1671.8h0M988.4 1747.3h0M1096.9 1706.9h0M989.2 1623.0h0M1004.7 1692.7h0M983.8 1580.3h0M1049.6 1708.0h0M1005.2 1602.1h0M1061.8 1707.1h0M934.4 1627.0h0M1108.4 1627.2h0M921.7 1702.5h0M982.9 1753.0h0M966.8 1699.3h0M1094.9 1601.9h0M980.9 1704.3h0M973.2 1712.4h0M964.4 1707.2h0M972.0 1646.2h0M923.9 1640.6h0M925.9 1627.3h0M1017.2 1620.2h0M995.3 1761.1h0M999.1 1662.8h0M944.0 1632.4h0M954.6 1580.2h0M1101.5 1701.2h0M1033.1 1588.8h0M1041.3 1679.3h0M1087.4 1610.8h0M994.3 1641.5h0M1013.6 1624.4h0M1017.1 1749.0h0M1019.5 1615.2h0M1021.7 1588.7h0M980.1 1720.5h0M966.2 1572.9h0M942.8 1647.1h0M991.5 1578.1h0M929.6 1717.9h0M966.9 1581.5h0M1048.1 1573.1h0M1088.2 1602.5h0M949.2 1584.9h0M995.8 1590.6h0M931.7 1708.8h0M1056.1 1718.5h0M1105.1 1659.2h0M1046.6 1720.3h0M972.4 1685.9h0M1070.5 1653.6h0M1005.5 1688.2h0M993.4 1635.7h0M1054.4 1748.0h0M989.3 1671.0h0M1082.4 1620.9h0M1030.3 1677.0h0M1023.9 1708.5h0M1004.3 1614.4h0M1027.9 1744.3h0M1005.9 1708.7h0M1016.8 1620.7h0M958.7 1646.8h0M920.4 1676.5h0M1055.5 1629.4h0M959.7 1748.5h0M1089.7 1643.5h0M1027.9 1736.1h0M1036.9 1656.7h0M944.1 1726.6h0M938.7 1656.7h0M1069.7 1660.9h0M1021.3 1749.3h0M1003.9 1666.2h0M1033.3 1603.0h0M944.9 1609.4h0M1037.7 1699.1h0M1011.2 1723.8h0M917.2 1654.4h0M1098.5 1660.7h0M961.7 1652.6h0M1019.9 1623.8h0M1016.4 1660.8h0M1057.0 1577.3h0M1010.9 1694.3h0M1087.6 1715.3h0M943.2 1678.6h0M926.8 1611.1h0M982.5 1756.2h0M933.7 1710.9h0M1099.4 1718.8h0M1039.4 1756.6h0M938.2 1651.9h0M1035.3 1628.0h0M992.8 1718.8h0M1004.8 1691.5h0M999.1 1594.1h0M990.4 1606.1h0M987.8 1685.4h0M1084.6 1649.5h0M960.3 1585.4h0M1006.3 1672.5h0M1021.7 1752.6h0M938.4 1684.9h0M1025.4 1663.7h0M1039.9 1754.9h0M994.0 1744.2h0M952.2 1648.4h0M984.7 1713.3h0M981.8 1607.3h0M1031.2 1714.9h0M971.7 1743.3h0M920.3 1625.0h0M970.8 1742.2h0M1094.7 1716.7h0M1047.4 1686.4h0M992.3 1580.7h0M978.2 1690.0h0M934.4 1611.4h0M1019.3 1695.5h0M1044.3 1693.6h0M1074.9 1693.9h0M924.2 1709.0h0M969.4 1604.2h0M1054.5 1581.3h0M982.7 1721.3h0M1081.9 1670.8h0M994.1 1601.0h0M1040.4 1563.3h0M948.4 1610.4h0M1007.7 1676.8h0M978.8 1614.4h0M990.1 1688.1h0M1032.7 1591.4h0M941.7 1602.7h0M1019.0 1622.7h0M919.3 1634.5h0M952.3 1664.1h0M1005.7 1625.8h0M910.8 1653.8h0M1060.2 1587.9h0M1058.6 1648.5h0M1041.5 1743.1h0M1015.7 1694.6h0M988.6 1588.8h0M1069.1 1638.3h0M953.2 1678.8h0M1051.2 1658.2h0M1046.6 1642.3h0M942.8 1635.4h0M1007.6 1742.7h0M1114.9 1659.3h0M938.3 1607.7h0M1031.3 1631.5h0M1059.8 1630.2h0M968.5 1641.3h0M1052.4 1752.4h0M1083.8 1700.2h0M1022.7 1681.3h0M1111.7 1625.5h0M984.5 1744.1h0M1008.0 1578.4h0M960.3 1628.8h0M1108.5 1674.0h0M968.7 1673.7h0M984.6 1690.3h0M1051.3 1734.7h0M1008.2 1739.8h0M975.6 1733.2h0M1096.6 1684.2h0M1067.6 1732.3h0M931.4 1603.7h0M953.5 1702.4h0M983.8 1587.2h0M1015.7 1572.8h0M1087.9 1661.8h0M1073.7 1588.2h0M953.2 1691.4h0M1080.2 1619.9h0M939.4 1652.4h0M1071.7 1625.2h0M1070.8 1684.4h0M1087.2 1611.7h0M941.1 1612.6h0M983.9 1750.1h0M1088.0 1698.7h0M979.6 1676.4h0M955.3 1709.4h0M1006.6 1641.8h0M1019.9 1740.4h0M968.6 1699.8h0M1061.1 1685.6h0M1112.9 1643.3h0M1072.0 1600.5h0M1037.9 1600.1h0M1013.6 1614.8h0M1079.7 1619.2h0M1023.4 1632.4h0M978.7 1655.6h0M1117.2 1664.7h0M998.9 1713.8h0M1070.0 1687.3h0M1054.5 1573.1h0M973.6 1716.3h0M1091.8 1687.2h0M1029.6 1653.3h0M956.4 1664.9h0M1115.3 1649.8h0M1034.2 1733.9h0M1065.2 1637.6h0M1048.1 1758.1h0M956.1 1740.7h0M1048.8 1728.0h0M1113.3 1661.5h0M982.9 1629.4h0M1048.3 1632.8h0M1033.2 1678.8h0M980.2 1747.0h0M1082.8 1591.4h0M1073.5 1730.9h0M1095.8 1630.9h0M1076.4 1697.7h0M997.2 1710.8h0M1044.0 1748.0h0M1018.8 1708.9h0M1036.3 1581.3h0M981.0 1609.7h0M931.2 1611.4h0M998.9 1712.1h0M964.3 1576.5h0M979.4 1621.7h0M1046.1 1660.9h0M946.0 1652.0h0M1088.2 1685.8h0M997.2 1743.8h0M1032.0 1614.5h0M1007.9 1694.6h0M1017.1 1755.7h0M961.7 1647.8h0M1050.9 1636.9h0M1116.9 1686.2h0M1015.0 1592.9h0M1073.6 1636.3h0M1046.4 1731.6h0M966.6 1602.4h0M980.3 1611.4h0M922.2 1654.5h0M1056.9 1602.6h0M928.4 1653.1h0M1061.9 1755.4h0M1061.9 1744.3h0M1022.2 1746.0h0M1024.8 1595.2h0M1038.5 1574.1h0M963.7 1667.8h0M971.4 1640.4h0M1087.2 1680.7h0M996.8 1585.1h0M1070.2 1607.3h0M1040.5 1700.7h0M1000.7 1664.6h0M950.0 1689.1h0M1030.9 1612.9h0M1038.4 1648.7h0M938.3 1643.0h0M1021.8 1757.6h0M999.7 1701.6h0M1006.2 1684.2h0M932.9 1651.1h0M968.8 1635.7h0M1028.1 1636.0h0M1013.4 1707.8h0M999.4 1625.2h0M1036.6 1571.0h0M992.7 1678.1h0M1028.0 1726.4h0M1114.7 1691.4h0M1019.9 1590.9h0M1078.9 1746.6h0M1012.4 1593.4h0M1015.9 1685.1h0M1077.2 1741.4h0M995.1 1727.2h0M1075.4 1696.0h0M1034.2 1663.8h0M1005.5 1572.9h0M1013.7 1714.7h0M1018.8 1742.3h0M1079.8 1634.9h0M981.7 1718.5h0M934.8 1597.5h0M997.5 1676.3h0M1093.8 1694.8h0M993.7 1606.4h0M932.4 1611.6h0M918.4 1687.4h0M1051.1 1609.3h0M1027.4 1600.6h0M986.7 1704.2h0M971.8 1650.5h0M1026.9 1705.1h0M967.0 1674.1h0M959.5 1683.4h0M969.6 1569.7h0M1042.2 1758.0h0M1073.1 1693.0h0M957.8 1730.7h0M1069.4 1670.7h0M1011.2 1709.0h0M1073.2 1633.8h0M1004.3 1752.6h0M1050.7 1716.2h0M950.0 1742.8h0M999.4 1573.6h0M1114.0 1677.1h0M970.1 1703.9h0M1037.1 1643.9h0M1022.5 1604.8h0M1086.0 1689.9h0M1019.5 1730.1h0M1027.1 1681.6h0M1094.2 1680.4h0M962.5 1691.3h0M1065.6 1722.8h0M1008.9 1752.5h0M969.7 1586.9h0M1026.0 1703.0h0M1001.8 1610.1h0M964.1 1708.1h0M1029.4 1761.0h0M982.8 1711.3h0M1062.0 1676.7h0M1003.5 1652.3h0M1043.3 1590.5h0M983.8 1763.5h0M1089.9 1622.4h0M996.5 1618.9h0M1097.2 1640.4h0M1024.2 1761.8h0M1085.3 1709.1h0M961.0 1707.3h0M995.5 1681.5h0M954.5 1665.4h0M1044.9 1711.0h0M948.8 1674.6h0M992.9 1627.3h0M1057.6 1692.7h0M960.4 1693.1h0M979.2 1644.0h0M931.5 1635.4h0M1101.8 1677.0h0M971.4 1713.8h0M992.9 1679.2h0M990.1 1665.0h0M935.7 1679.9h0M1013.4 1724.3h0M1005.5 1677.5h0M923.7 1624.5h0M988.2 1617.5h0M970.2 1673.0h0M1093.9 1641.1h0M958.5 1635.1h0M1028.4 1563.1h0M954.3 1607.0h0M956.6 1698.4h0M1041.2 1615.8h0M942.0 1731.0h0M1112.1 1688.1h0M976.0 1662.6h0M977.4 1709.2h0M1075.9 1748.3h0M1020.9 1710.0h0M1023.1 1750.6h0M1011.6 1663.4h0M1019.1 1730.1h0M971.3 1604.5h0M959.4 1609.5h0M1053.1 1595.6h0M962.8 1753.9h0M1061.5 1623.7h0M1002.2 1606.8h0M980.7 1583.5h0M1061.2 1572.1h0M984.4 1635.2h0M946.9 1635.6h0M1000.5 1726.6h0M925.8 1645.0h0M1014.9 1715.5h0M1041.0 1718.2h0M1067.7 1717.9h0M1038.7 1675.4h0M1005.3 1632.0h0M981.0 1674.9h0M923.0 1675.5h0M1043.0 1632.7h0M1107.3 1696.6h0M961.8 1661.8h0M941.5 1723.1h0M1013.7 1753.3h0M973.4 1743.1h0M1018.2 1603.6h0M1060.4 1579.3h0M945.1 1702.2h0M951.4 1602.6h0M1045.0 1573.4h0M988.1 1690.3h0M1024.9 1749.7h0M1059.7 1668.2h0M1089.7 1635.2h0M1083.8 1741.5h0M938.5 1706.6h0M948.1 1714.8h0M1116.0 1657.2h0M1009.4 1641.7h0M1049.6 1673.8h0M1008.1 1608.5h0M1091.0 1736.1h0M1074.3 1674.3h0M937.7 1672.5h0M991.3 1724.2h0M1064.5 1584.5h0M971.2 1699.5h0M1022.7 1582.0h0M934.7 1731.0h0M930.7 1639.4h0M1071.5 1739.3h0M1049.1 1691.7h0M1013.8 1765.9h0M1068.1 1714.7h0M1074.1 1671.5h0M1063.7 1726.4h0M1002.2 1746.5h0M964.9 1669.9h0M1010.9 1727.8h0M1036.6 1673.7h0M978.5 1756.8h0M1026.8 1691.1h0M1087.8 1663.0h0M1046.5 1629.3h0M951.8 1701.7h0M939.7 1721.8h0M990.7 1656.4h0M953.7 1604.8h0M1066.0 1643.6h0M1112.4 1660.8h0M1049.8 1603.8h0M1054.9 1744.3h0M1023.1 1679.3h0M1047.0 1680.7h0M1016.1 1601.3h0M956.4 1659.1h0M1017.4 1674.7h0M1117.4 1671.4h0M1042.9 1593.3h0M1006.1 1571.1h0M1036.5 1601.5h0M1025.3 1569.2h0M1098.8 1726.1h0M930.9 1723.4h0M1014.4 1752.6h0M1113.9 1679.1h0M1026.1 1743.3h0M970.0 1712.3h0M1046.5 1585.2h0M973.6 1615.9h0M1003.3 1725.8h0M971.2 1754.4h0M998.3 1692.1h0M1036.5 1752.2h0M927.8 1638.3h0M1053.0 1742.1h0M1036.0 1691.1h0M958.3 1690.5h0M1004.5 1664.1h0M985.7 1724.5h0M1088.3 1641.5h0M1049.5 1631.8h0M1016.2 1604.8h0M1049.2 1661.6h0M1081.8 1648.3h0M973.4 1691.2h0M1053.4 1743.7h0M990.4 1615.0h0M969.8 1756.3h0M986.6 1699.5h0M1077.2 1748.2h0M954.3 1722.4h0M1034.5 1746.3h0M1077.5 1610.7h0M947.5 1593.9h0M946.7 1633.5h0M1033.3 1634.0h0M931.1 1689.6h0M939.7 1705.9h0M1022.9 1729.0h0M941.6 1628.3h0M1088.6 1679.5h0M936.0 1691.6h0M947.6 1619.0h0M1073.4 1747.1h0M1086.6 1661.1h0M979.9 1747.7h0M1104.8 1658.3h0M1059.6 1615.0h0M1052.1 1662.0h0M1022.0 1737.6h0M957.7 1586.6h0M1063.4 1574.8h0M921.0 1657.5h0M1110.9 1705.8h0M991.3 1569.0h0M1033.2 1615.0h0M945.7 1648.3h0M1047.3 1756.6h0M980.3 1620.6h0M987.9 1654.6h0M921.6 1669.7h0M1030.7 1615.1h0M1027.4 1567.9h0M1079.3 1620.8h0M1069.0 1740.8h0M1066.1 1701.8h0M1003.3 1680.9h0M1063.9 1579.8h0M1029.7 1697.1h0M1053.0 1611.1h0M1082.1 1616.5h0M1042.8 1662.2h0M981.8 1629.6h0M1000.9 1566.8h0M991.8 1623.6h0M1083.4 1671.0h0M990.2 1720.5h0M999.8 1746.4h0M987.0 1587.5h0M1045.7 1696.5h0M929.1 1682.6h0M1042.9 1689.5h0M936.1 1599.3h0M1035.6 1723.6h0M977.1 1566.4h0M957.0 1733.7h0M965.6 1696.2h0M987.4 1634.8h0M1043.9 1602.3h0M949.9 1682.3h0M1084.6 1637.5h0M996.9 1605.0h0M969.9 1639.9h0M1053.8 1624.0h0M1049.0 1619.7h0M931.6 1688.5h0M937.4 1730.2h0M941.8 1610.4h0M1079.5 1691.9h0M1001.4 1731.1h0M1081.7 1644.6h0M995.4 1610.8h0M1017.6 1750.5h0M1060.2 1714.1h0M1013.7 1763.8h0M977.6 1721.5h0M1070.8 1587.3h0M937.2 1641.3h0M1041.1 1644.2h0M994.2 1687.9h0M1003.9 1600.9h0M966.9 1735.8h0M1109.4 1633.3h0M1004.0 1652.4h0M968.2 1719.3h0M985.8 1729.9h0M946.8 1611.3h0M1117.2 1649.0h0M931.9 1728.4h0M958.4 1586.9h0M1102.7 1663.0h0M988.3 1670.7h0M977.6 1609.0h0M1063.7 1661.1h0M981.8 1699.4h0M983.3 1688.7h0M1093.1 1709.7h0M989.2 1629.7h0M1010.5 1581.4h0M1034.6 1615.2h0M1029.3 1575.6h0M979.0 1671.4h0M1023.1 1654.1h0M1095.8 1602.1h0M1005.0 1677.5h0M939.4 1648.1h0M1023.3 1630.3h0M957.0 1661.6h0M980.9 1648.9h0M1046.9 1684.3h0M994.2 1736.7h0M1016.6 1757.0h0M1078.5 1686.9h0M967.9 1679.0h0M938.7 1684.1h0M1091.6 1723.4h0M1069.3 1744.4h0M912.4 1648.1h0M963.6 1620.9h0M1109.9 1642.2h0M1082.2 1668.8h0M1031.9 1626.8h0M993.7 1576.7h0M973.9 1656.2h0M1028.4 1675.6h0M1071.1 1652.1h0M1063.3 1595.4h0M995.2 1675.7h0M1012.7 1693.7h0M1045.4 1647.1h0M954.5 1668.5h0M1079.1 1608.7h0M921.6 1622.0h0M1076.0 1622.0h0M994.5 1727.2h0M1010.0 1754.6h0M957.1 1691.7h0M969.0 1720.7h0M949.0 1685.3h0M1026.7 1644.2h0M989.0 1659.7h0M951.8 1710.1h0M1055.0 1693.3h0M989.4 1723.2h0M1023.7 1736.9h0M924.0 1671.5h0M1006.4 1669.8h0M1118.0 1668.9h0M1093.3 1644.6h0M962.8 1627.6h0M994.5 1724.9h0M945.2 1620.6h0M955.7 1665.2h0M1016.5 1588.8h0M1034.9 1677.6h0M1008.0 1716.7h0M931.0 1706.6h0M935.0 1720.5h0M990.7 1613.5h0M1045.3 1661.2h0M969.5 1748.8h0M1039.7 1610.6h0M956.2 1591.5h0M1016.8 1639.3h0M998.4 1648.0h0M1084.8 1629.8h0M1097.9 1676.1h0M1016.4 1562.7h0M1094.7 1667.1h0M936.1 1708.6h0M1100.9 1655.4h0M1104.4 1710.0h0M928.2 1698.2h0M949.1 1727.6h0M949.8 1691.5h0M999.3 1697.0h0M1095.9 1703.4h0M1032.7 1633.4h0M932.8 1638.7h0M1040.7 1688.3h0M1070.8 1647.6h0M1084.2 1627.4h0M973.1 1688.9h0M1055.7 1599.1h0M1040.6 1638.0h0M1085.6 1678.5h0M965.1 1712.4h0M1092.4 1626.6h0M987.3 1595.7h0M1026.4 1599.9h0M1013.1 1630.2h0M977.9 1642.3h0M987.8 1703.2h0M989.7 1698.8h0M934.5 1654.2h0M956.2 1634.8h0M954.0 1739.3h0M935.0 1674.1h0M965.7 1756.2h0M1023.7 1751.6h0M1008.1 1611.0h0M1011.2 1744.0h0M1026.8 1640.6h0M1001.2 1601.1h0M963.6 1617.7h0M1092.4 1652.4h0M918.3 1691.8h0M1023.3 1737.2h0M1087.7 1719.0h0M1048.2 1616.7h0M1008.4 1645.6h0M939.6 1639.1h0M1049.9 1713.7h0M1024.2 1562.2h0M1091.9 1718.7h0M1033.0 1755.6h0M968.9 1654.1h0M1074.3 1720.8h0M934.8 1618.8h0M1103.2 1618.4h0M957.4 1730.1h0M994.6 1563.7h0M1050.2 1620.1h0M1006.4 1753.6h0M1066.8 1671.0h0M1013.0 1741.4h0M1013.7 1721.2h0M976.7 1667.9h0M1002.7 1717.9h0M959.4 1661.1h0M1067.3 1747.3h0M1074.3 1587.2h0M935.7 1642.0h0M926.7 1644.9h0M1089.4 1622.8h0M1009.0 1756.7h0M1037.3 1654.8h0M1029.4 1602.7h0M966.1 1679.1h0M1006.4 1600.8h0M912.6 1660.7h0M968.7 1728.7h0M1062.9 1648.6h0M1047.2 1651.5h0M1091.4 1701.5h0M1094.7 1724.0h0M1072.4 1718.3h0M976.6 1761.7h0M1105.7 1701.3h0M1092.8 1699.8h0M998.4 1656.5h0M973.4 1568.6h0M1035.8 1569.4h0M1081.9 1699.7h0M1045.2 1734.3h0M968.2 1724.8h0M1038.8 1734.6h0M938.1 1708.2h0M1079.2 1699.1h0M946.1 1638.3h0M918.6 1625.2h0M1002.7 1701.0h0M996.6 1606.1h0M1115.4 1649.0h0M1106.1 1618.0h0M1104.1 1625.6h0M999.8 1665.3h0M982.9 1590.0h0M952.3 1610.6h0M1101.7 1716.8h0M1088.0 1645.2h0M1029.0 1676.4h0M1109.2 1638.2h0M1030.7 1667.6h0M978.6 1575.6h0M948.3 1627.7h0M1047.2 1578.8h0M1017.2 1665.4h0M1107.3 1649.9h0M934.4 1716.9h0M979.9 1714.3h0M1016.3 1651.5h0M968.5 1636.7h0M975.7 1729.9h0M931.8 1688.5h0M1052.2 1629.9h0M1040.6 1700.0h0M962.2 1671.3h0M968.4 1745.0h0M985.7 1622.0h0M961.6 1656.7h0M1052.7 1627.2h0M1019.7 1709.2h0M987.0 1715.0h0M973.6 1584.7h0M924.2 1641.0h0M1017.2 1634.9h0M1025.1 1715.2h0M1082.2 1660.0h0M975.0 1714.5h0M1114.9 1658.3h0M1057.8 1713.5h0M1033.5 1572.8h0M1030.1 1605.1h0M999.7 1727.3h0M1010.4 1583.4h0M1044.9 1598.3h0M1002.3 1664.4h0M1074.2 1690.1h0M1077.1 1743.2h0M1049.1 1631.3h0M1108.4 1621.3h0M1070.5 1638.4h0M1005.9 1625.7h0M1050.7 1760.0h0M997.8 1629.4h0M1000.1 1566.6h0M916.5 1693.7h0M1061.4 1708.3h0M1065.6 1643.7h0M1025.9 1690.1h0M1073.7 1683.2h0M1038.6 1717.4h0M978.4 1658.1h0M944.3 1632.4h0M924.2 1648.9h0M1103.9 1714.4h0M1058.7 1687.3h0M1018.6 1605.9h0M913.6 1661.9h0M994.3 1701.1h0M992.9 1740.5h0M1106.9 1648.2h0M957.8 1621.3h0M920.3 1685.4h0M1057.8 1648.5h0M1117.5 1680.2h0M940.2 1718.0h0M1027.2 1684.7h0M1011.0 1620.7h0M1062.7 1670.2h0M1029.7 1617.3h0M972.1 1603.4h0M1044.2 1729.7h0M1010.4 1676.5h0M1013.3 1685.7h0M958.3 1724.8h0M963.2 1613.5h0M977.9 1710.7h0M928.4 1616.1h0M948.9 1647.4h0M979.4 1726.3h0M1025.2 1764.3h0M1076.0 1583.1h0M1066.2 1748.5h0M1089.4 1657.0h0M1041.6 1714.0h0M1023.1 1753.3h0M1058.8 1731.5h0M993.0 1764.3h0M1002.1 1634.1h0M957.0 1641.7h0M1080.2 1629.6h0M960.1 1716.3h0M1010.4 1664.4h0M966.0 1639.8h0M933.5 1683.9h0M983.2 1664.8h0M968.6 1607.7h0M995.2 1766.0h0M1075.0 1699.8h0M1023.9 1757.9h0M1043.1 1572.9h0M1058.2 1633.9h0M947.9 1697.7h0M1088.6 1638.2h0M941.6 1672.5h0M1045.4 1616.7h0M973.8 1726.6h0M1024.8 1709.8h0M1046.4 1573.6h0M1104.9 1612.5h0M1040.3 1581.1h0M1047.2 1581.7h0M1056.8 1748.5h0M983.5 1753.9h0M1060.2 1639.1h0M998.8 1663.1h0M1030.7 1604.8h0M1084.4 1620.7h0M952.1 1584.3h0M1001.4 1641.1h0M1049.3 1660.4h0M978.2 1755.4h0M999.1 1621.7h0M1105.9 1655.7h0M1073.3 1723.1h0M1098.3 1696.5h0M1026.1 1567.0h0M1080.0 1597.8h0M1089.1 1636.7h0M930.7 1668.6h0M975.3 1716.2h0M1023.1 1677.8h0M1027.2 1757.3h0M1028.1 1580.4h0M927.5 1655.6h0M1006.2 1722.8h0M987.5 1627.8h0M1096.1 1633.4h0M1068.9 1637.6h0M989.4 1761.5h0M939.6 1594.4h0M1030.3 1562.3h0M1003.6 1724.0h0M938.9 1670.1h0M1027.5 1649.3h0M938.9 1677.3h0M1014.8 1755.0h0M973.7 1641.5h0M990.5 1710.0h0M1041.0 1673.3h0M952.9 1653.8h0M949.2 1585.5h0M958.3 1701.7h0M964.4 1672.6h0M1088.9 1735.7h0M987.5 1600.7h0M928.3 1633.2h0M1092.7 1632.5h0M1014.0 1764.2h0M1092.0 1663.0h0M1043.1 1735.2h0M1100.9 1696.5h0M976.0 1651.4h0M1004.3 1610.4h0M976.9 1745.6h0M959.5 1590.6h0M929.6 1688.1h0M1068.9 1707.2h0M1084.2 1643.9h0M1107.7 1698.5h0M1011.3 1692.1h0M933.7 1697.8h0M981.1 1681.2h0M1011.8 1584.7h0M975.3 1610.4h0M949.8 1606.6h0M1009.1 1642.3h0M1050.2 1677.0h0M1086.7 1671.9h0M992.7 1682.3h0M1071.4 1708.6h0M1076.2 1582.0h0M952.2 1625.9h0M1073.5 1658.2h0M1002.5 1698.6h0M1047.5 1627.4h0M951.3 1704.3h0M1065.1 1621.0h0M1028.4 1612.7h0M930.8 1692.5h0M956.0 1688.9h0M986.4 1729.2h0M944.3 1708.3h0M1023.0 1606.9h0M944.7 1676.0h0M920.1 1692.0h0M1066.4 1625.7h0M1037.8 1563.0h0M983.0 1605.7h0M988.8 1751.0h0M1099.8 1636.5h0M973.1 1590.0h0M975.1 1607.3h0M1021.1 1614.7h0M1091.3 1654.6h0M1000.0 1604.6h0M1002.9 1671.1h0M1009.2 1756.2h0M1029.7 1745.3h0M1081.0 1661.7h0M1054.5 1640.0h0M992.4 1651.5h0M1064.4 1583.0h0M959.2 1628.9h0M1021.2 1575.8h0M934.8 1621.1h0M1000.1 1613.6h0M939.0 1642.7h0M1083.1 1743.3h0M972.6 1747.1h0M1100.0 1636.8h0M964.4 1641.7h0M938.3 1666.6h0M984.4 1633.8h0M963.2 1579.3h0M1034.2 1611.2h0M1056.4 1718.2h0M935.4 1684.5h0M1091.1 1660.1h0M1090.7 1641.4h0M1018.2 1602.0h0M1005.7 1691.7h0M982.6 1582.9h0M944.9 1729.7h0M980.1 1707.0h0M1090.9 1676.0h0M979.3 1610.6h0M999.5 1701.9h0M1104.5 1624.5h0M1037.7 1711.6h0M1045.7 1682.8h0M1008.2 1570.8h0M960.8 1668.0h0M1101.0 1679.7h0M1075.1 1590.8h0M1000.8 1618.0h0M969.0 1739.4h0M1034.1 1760.9h0M986.5 1731.0h0M1041.4 1599.7h0M953.3 1614.0h0M1032.1 1767.3h0M978.5 1630.4h0M1054.4 1655.2h0M957.6 1686.9h0M1047.1 1603.3h0M970.2 1574.1h0M988.0 1698.7h0M1033.4 1750.7h0M1083.4 1593.3h0M981.8 1702.0h0M1004.8 1615.0h0M1007.1 1642.8h0M1029.0 1642.2h0M947.5 1625.6h0M1045.9 1673.2h0M1076.9 1658.3h0M1067.5 1602.3h0M1035.8 1680.0h0M1009.7 1649.9h0M1008.4 1708.0h0M985.9 1583.4h0M956.2 1676.4h0M962.3 1643.0h0M974.7 1712.6h0M1001.0 1714.9h0M1068.1 1669.8h0M965.6 1632.3h0M1056.0 1699.8h0M919.8 1683.0h0M986.2 1733.9h0M1017.2 1565.3h0M970.0 1594.4h0M927.2 1664.0h0M962.6 1707.4h0M941.5 1678.9h0M939.9 1648.5h0M1087.6 1606.0h0M1064.0 1671.2h0M1071.2 1675.8h0M946.4 1599.9h0M1035.0 1716.7h0M1065.2 1580.3h0M983.6 1583.1h0M927.6 1689.8h0M952.0 1642.7h0M1113.2 1659.0h0M1066.2 1577.8h0M1015.3 1693.0h0M914.9 1636.3h0M987.0 1734.5h0M917.6 1654.0h0M1107.8 1712.1h0M1119.1 1673.1h0M983.6 1690.2h0M1079.3 1718.2h0M1087.9 1635.0h0M1020.1 1595.1h0M944.4 1624.3h0M972.1 1674.1h0M968.9 1575.6h0M968.4 1680.3h0M974.5 1730.6h0M960.6 1605.5h0M1017.3 1678.1h0M1033.6 1747.4h0M1016.8 1636.0h0M1073.3 1648.4h0M1077.9 1711.0h0M1008.2 1748.0h0M999.4 1570.7h0M1100.4 1696.5h0M1020.5 1645.7h0M1026.5 1701.9h0M1024.1 1679.9h0M1084.6 1645.4h0M1011.2 1723.8h0M1053.0 1752.0h0M951.9 1608.8h0M1112.6 1691.9h0M956.2 1717.3h0M1013.3 1759.7h0M1049.9 1746.0h0M1087.2 1649.7h0M1005.4 1715.0h0M968.7 1574.7h0M1025.2 1689.2h0M1002.0 1713.9h0M985.1 1572.3h0M964.4 1573.2h0M952.9 1720.1h0M925.7 1668.0h0M989.2 1665.6h0M950.8 1651.7h0M1037.6 1668.4h0M942.7 1739.7h0M1050.7 1712.8h0M1084.3 1623.0h0M970.0 1664.2h0M1022.1 1590.3h0M1020.2 1743.2h0M1007.4 1619.1h0M1034.1 1642.2h0M1021.8 1682.2h0M1054.8 1604.6h0M1012.5 1581.6h0M998.9 1573.9h0M1025.6 1643.0h0M1035.9 1698.7h0M1034.8 1667.9h0M942.5 1731.3h0M1044.3 1673.2h0M937.0 1606.7h0M1112.6 1687.7h0M1006.6 1698.6h0M1049.7 1694.1h0" stroke="#3a2a8a" stroke-opacity="0.7" stroke-width="1.05" stroke-linecap="round" fill="none"/>
<use href="#d10_0" stroke="#9d92ee" stroke-opacity="0.6" stroke-width="4.8" stroke-linecap="round" fill="none" filter="url(#pb1)"/>
<use href="#d10_1" stroke="#9d92ee" stroke-opacity="0.6" stroke-width="5.6" stroke-linecap="round" fill="none" filter="url(#pb1)"/>
<use href="#d10_2" stroke="#9d92ee" stroke-opacity="0.6" stroke-width="6.8" stroke-linecap="round" fill="none" filter="url(#pb1)"/>
<use href="#d10_3" stroke="#9d92ee" stroke-opacity="0.6" stroke-width="8.4" stroke-linecap="round" fill="none" filter="url(#pb1)"/>
<use href="#d10_4" stroke="#9d92ee" stroke-opacity="0.6" stroke-width="10.4" stroke-linecap="round" fill="none" filter="url(#pb1)"/>
<use href="#d10_0" stroke="#3118b8" stroke-width="1.2" stroke-linecap="round" fill="none"/>
<use href="#d10_1" stroke="#3118b8" stroke-width="2.0" stroke-linecap="round" fill="none"/>
<use href="#d10_2" stroke="#3118b8" stroke-width="3.2" stroke-linecap="round" fill="none"/>
<use href="#d10_3" stroke="#3118b8" stroke-width="4.8" stroke-linecap="round" fill="none"/>
<use href="#d10_4" stroke="#3118b8" stroke-width="6.8" stroke-linecap="round" fill="none"/>
<circle cx="1014.7" cy="1664.3" r="107.3" fill="none" stroke="#3c3a55" stroke-width="1.1"/>
</g></g>
<g clip-path="url(#pc11)"><g filter="url(#pbs)">
<rect x="1158.9" y="1539.3" width="252.3" height="252.7" fill="#c1c3c0"/>
<circle cx="1288" cy="1908" r="121" fill="#c8c5d7" stroke="#7a788c" stroke-width="2"/>
<circle cx="1288" cy="1908" r="117" fill="none" stroke="#6e6c82" stroke-opacity="0.6" stroke-width="3" stroke-dasharray="2 1.5"/>
<circle cx="1284.5" cy="1664.7" r="122.6" fill="#c8c5d7" stroke="#8c8b96" stroke-width="1.6"/>
<circle cx="1284.5" cy="1664.7" r="119.1" fill="none" stroke="#a9a8b3" stroke-width="1"/>
<path d="M1396.8,1684.5A114.05,114.05 0 0 1 1170.9,1674.6" fill="none" stroke="#7d5fd6" stroke-opacity="0.65" stroke-width="17.1" stroke-linecap="round" filter="url(#pb4)"/>
<rect x="-9.5" y="-5" width="19.1" height="10" fill="#9795a6" fill-opacity="0.45" transform="translate(1399.5,1664.7) rotate(0)"/>
<rect x="-9.5" y="-5" width="19.1" height="10" fill="#9795a6" fill-opacity="0.45" transform="translate(1284.5,1779.8) rotate(90)"/>
<rect x="-9.5" y="-5" width="19.1" height="10" fill="#9795a6" fill-opacity="0.45" transform="translate(1169.5,1664.7) rotate(180)"/>
<rect x="-9.5" y="-5" width="19.1" height="10" fill="#9795a6" fill-opacity="0.45" transform="translate(1284.5,1549.7) rotate(270)"/>
<path d="M1170.5 1683.1h0M1229.7 1570.2h0M1396.3 1672.3h0M1266.8 1780.7h0M1242.6 1557.8h0M1176.6 1623.4h0M1353.5 1754.0h0M1346.5 1765.6h0M1394.0 1707.1h0M1387.8 1717.0h0M1226.1 1760.7h0M1343.6 1574.6h0M1394.5 1708.9h0M1176.1 1658.6h0M1403.1 1655.1h0M1370.1 1737.9h0M1358.1 1748.2h0M1205.4 1589.0h0M1249.1 1562.6h0M1340.3 1768.0h0M1193.2 1730.6h0M1191.2 1600.5h0M1203.8 1736.2h0M1266.8 1546.8h0M1398.8 1647.6h0M1215.2 1752.5h0M1242.0 1557.1h0M1367.8 1737.1h0M1210.2 1750.8h0M1326.4 1559.2h0M1400.1 1685.4h0M1181.5 1713.0h0M1304.1 1775.7h0M1195.3 1740.2h0M1375.7 1733.3h0M1335.1 1769.0h0M1392.4 1690.1h0M1220.2 1760.3h0M1391.6 1701.0h0M1312.9 1771.9h0M1166.7 1682.4h0M1166.3 1678.9h0M1343.3 1767.8h0M1212.3 1747.4h0M1283.4 1546.2h0M1395.1 1669.3h0M1299.0 1554.0h0M1290.2 1772.2h0M1395.9 1693.3h0M1403.5 1652.6h0M1176.7 1662.3h0M1233.0 1769.8h0M1341.3 1564.4h0M1299.1 1777.6h0M1170.6 1681.0h0M1275.0 1783.3h0M1370.7 1597.2h0M1254.2 1778.8h0M1263.5 1781.7h0M1169.1 1653.7h0M1253.6 1559.0h0M1260.4 1772.6h0M1237.3 1558.8h0M1364.5 1751.8h0M1187.6 1717.7h0M1174.9 1711.9h0M1177.5 1622.4h0M1388.9 1607.3h0M1291.9 1552.4h0M1183.9 1602.2h0M1312.4 1553.6h0M1220.1 1756.3h0M1274.3 1550.8h0M1399.9 1677.2h0M1380.9 1598.1h0M1379.3 1593.5h0M1170.3 1639.2h0M1205.5 1739.4h0M1217.3 1753.4h0M1390.5 1618.0h0M1173.4 1635.0h0M1365.2 1745.1h0M1250.2 1557.8h0M1287.5 1777.1h0M1232.8 1768.3h0M1352.8 1749.2h0M1240.2 1771.8h0M1291.5 1549.4h0M1387.1 1620.1h0M1395.9 1685.8h0M1181.6 1702.7h0M1229.1 1567.8h0M1292.7 1775.9h0M1385.5 1627.5h0M1213.7 1750.0h0M1318.4 1772.2h0M1306.4 1781.3h0M1168.6 1663.9h0M1343.7 1761.1h0M1192.2 1591.7h0M1284.6 1777.8h0M1356.5 1571.7h0M1300.6 1777.6h0M1292.5 1552.7h0M1231.0 1562.3h0M1397.0 1645.0h0M1237.4 1563.4h0M1272.1 1554.0h0M1172.6 1664.8h0M1246.1 1766.9h0M1301.9 1777.5h0M1283.2 1772.7h0M1321.2 1560.0h0M1390.1 1619.9h0M1194.0 1740.5h0M1373.5 1597.7h0M1365.6 1746.6h0M1347.7 1568.8h0M1308.6 1554.8h0M1202.8 1590.1h0M1191.0 1726.6h0M1200.4 1739.2h0M1323.0 1562.1h0M1315.3 1770.9h0M1396.4 1644.1h0M1395.7 1703.1h0M1366.8 1580.9h0M1211.0 1754.9h0M1247.2 1767.3h0M1362.4 1576.6h0M1313.0 1779.4h0M1394.4 1681.8h0M1393.7 1673.6h0M1344.7 1764.0h0M1252.8 1769.8h0M1329.3 1766.6h0M1358.9 1577.2h0M1377.2 1734.1h0M1174.5 1639.2h0M1170.8 1644.8h0M1320.1 1556.8h0M1210.0 1579.6h0M1209.8 1581.0h0M1186.6 1722.7h0M1260.3 1556.5h0M1385.5 1613.1h0M1355.8 1573.4h0M1395.9 1633.3h0M1183.8 1714.6h0M1193.6 1591.7h0M1342.4 1572.3h0M1385.1 1706.3h0M1377.9 1719.3h0M1394.9 1670.5h0M1372.2 1740.3h0M1195.5 1585.4h0M1397.5 1636.1h0M1387.0 1631.1h0M1300.9 1782.3h0M1175.8 1681.6h0M1289.3 1552.2h0M1177.2 1634.9h0M1290.1 1773.1h0M1191.3 1590.7h0M1400.9 1655.0h0M1386.7 1619.2h0M1249.1 1778.0h0M1191.0 1596.7h0M1394.4 1673.4h0M1168.9 1677.5h0M1338.0 1561.0h0M1224.6 1759.5h0M1362.0 1573.8h0M1175.1 1675.0h0M1203.6 1584.4h0M1213.3 1748.9h0M1198.1 1740.5h0M1364.2 1746.3h0M1395.8 1630.3h0M1283.0 1777.3h0M1377.7 1734.5h0M1210.4 1583.9h0M1175.0 1630.6h0M1185.3 1612.5h0M1243.5 1768.7h0M1396.0 1663.0h0M1171.4 1662.9h0M1336.7 1764.1h0M1315.6 1771.7h0M1209.5 1747.5h0M1387.3 1622.5h0M1227.4 1765.0h0M1193.7 1733.1h0M1219.4 1578.0h0M1233.1 1568.9h0M1284.3 1782.0h0M1399.9 1657.1h0M1337.8 1764.1h0M1260.5 1779.9h0M1296.1 1774.0h0" stroke="#8f84c8" stroke-opacity="0.42" stroke-width="4" stroke-linecap="round" fill="none"/>
<circle cx="1282.2" cy="1663" r="105.5" fill="#c1c0ce"/>
<path d="M1228.4 1600.3h0M1203.5 1673.5h0M1184.4 1689.1h0M1204.4 1725.9h0M1237.4 1717.5h0M1283.0 1575.6h0M1232.3 1654.8h0M1194.1 1662.1h0M1219.5 1606.9h0M1228.5 1732.0h0M1338.8 1671.8h0M1306.4 1568.5h0M1345.4 1649.8h0M1339.2 1743.0h0M1199.1 1708.1h0M1278.9 1720.9h0M1345.2 1684.3h0M1299.4 1678.6h0M1313.4 1711.1h0M1300.0 1631.6h0M1218.6 1666.9h0M1355.4 1630.2h0M1287.6 1702.1h0M1363.1 1611.4h0M1184.0 1645.3h0M1305.8 1721.0h0M1291.7 1564.8h0M1301.9 1588.8h0M1230.6 1651.9h0M1358.6 1725.1h0M1314.3 1737.6h0M1332.5 1582.9h0M1205.9 1695.5h0M1267.0 1663.6h0M1232.0 1699.4h0M1307.5 1649.2h0M1213.0 1634.8h0M1357.7 1605.5h0M1208.5 1642.1h0M1216.0 1731.3h0M1379.2 1678.0h0M1191.3 1647.0h0M1363.6 1658.1h0M1241.7 1689.6h0M1280.3 1570.6h0M1294.9 1589.2h0M1340.1 1600.7h0M1227.7 1726.1h0M1330.4 1690.3h0M1317.2 1672.6h0M1346.9 1742.0h0M1335.6 1722.9h0M1182.7 1642.2h0M1302.3 1624.4h0M1377.2 1649.7h0M1242.2 1691.1h0M1265.2 1745.3h0M1258.6 1588.6h0M1322.4 1582.9h0M1262.4 1750.4h0M1200.0 1699.4h0M1324.4 1668.5h0M1231.0 1726.5h0M1250.6 1665.0h0M1251.9 1722.3h0M1206.7 1644.2h0M1357.2 1657.0h0M1252.6 1756.8h0M1243.8 1751.6h0M1375.8 1698.4h0M1335.2 1638.8h0M1259.5 1582.0h0M1315.9 1695.4h0M1374.9 1703.8h0M1242.9 1681.2h0M1241.9 1578.5h0M1301.1 1561.4h0M1340.3 1626.9h0M1337.4 1681.5h0M1356.5 1594.2h0M1198.8 1673.5h0M1291.1 1708.8h0M1304.5 1677.9h0M1339.1 1619.6h0M1182.8 1654.0h0M1199.1 1680.0h0M1257.5 1575.3h0M1340.2 1578.4h0M1210.4 1617.2h0M1240.4 1670.5h0M1321.3 1720.0h0M1242.8 1687.6h0M1251.4 1632.5h0M1341.2 1658.5h0M1197.2 1654.1h0M1229.3 1705.9h0M1327.2 1652.3h0M1224.2 1583.0h0M1333.7 1728.6h0M1320.1 1729.0h0M1231.9 1632.4h0M1286.7 1705.4h0M1194.2 1671.5h0M1334.9 1745.1h0M1310.7 1651.4h0M1254.1 1587.4h0M1328.1 1725.0h0M1180.0 1665.9h0M1342.0 1741.4h0M1230.5 1646.5h0M1314.9 1623.3h0M1328.6 1688.2h0M1276.5 1704.3h0M1354.9 1593.3h0M1206.5 1700.7h0M1292.5 1644.7h0M1293.5 1697.9h0M1326.5 1611.1h0M1323.1 1679.9h0M1380.5 1668.1h0M1338.4 1731.5h0M1297.1 1717.5h0M1342.5 1630.6h0M1189.8 1641.8h0M1296.0 1690.3h0M1297.5 1608.9h0M1379.9 1678.8h0M1340.1 1648.2h0M1317.4 1682.3h0M1323.1 1628.8h0M1272.6 1610.8h0M1262.7 1633.1h0M1247.0 1639.1h0M1346.6 1601.5h0M1350.2 1656.5h0M1344.8 1642.5h0M1381.0 1662.1h0M1277.3 1696.3h0M1347.1 1606.1h0M1288.2 1611.0h0M1353.6 1664.8h0M1312.3 1664.4h0M1327.3 1642.7h0M1337.8 1598.4h0M1204.9 1724.8h0M1233.5 1591.8h0M1354.0 1710.3h0M1336.0 1744.3h0M1255.8 1599.2h0M1323.4 1583.8h0M1265.0 1718.2h0M1366.6 1688.7h0M1243.7 1751.6h0M1257.3 1722.8h0M1322.4 1740.5h0M1317.0 1678.4h0M1255.4 1636.9h0M1384.9 1666.8h0M1239.0 1718.4h0M1250.2 1710.9h0M1252.0 1678.7h0M1331.8 1682.5h0M1316.3 1646.4h0M1369.3 1653.7h0M1275.4 1570.0h0M1320.4 1694.1h0M1241.2 1569.0h0M1336.7 1732.0h0M1192.5 1642.7h0M1289.8 1692.7h0M1209.2 1592.1h0M1309.4 1678.2h0M1228.6 1734.7h0M1328.8 1717.2h0M1238.6 1663.7h0M1308.7 1725.2h0M1244.5 1676.6h0M1314.4 1676.2h0M1349.7 1685.5h0M1292.1 1575.0h0M1365.0 1636.9h0M1245.1 1682.9h0M1342.0 1692.2h0M1374.9 1687.3h0M1236.1 1571.5h0M1377.6 1700.8h0M1377.4 1640.9h0M1202.3 1619.1h0M1199.5 1672.5h0M1198.0 1617.9h0M1218.9 1706.0h0M1212.1 1620.6h0M1296.6 1563.8h0M1271.1 1604.7h0M1232.6 1668.8h0M1271.4 1588.8h0M1299.0 1685.2h0M1249.9 1632.8h0M1242.5 1647.4h0M1195.0 1705.7h0M1242.1 1635.0h0M1221.0 1688.6h0M1264.3 1623.2h0M1342.7 1657.3h0M1252.1 1596.7h0M1381.1 1653.0h0M1295.8 1656.4h0M1313.7 1652.5h0M1278.5 1754.7h0M1201.5 1629.3h0M1233.6 1613.2h0M1243.8 1604.7h0M1368.3 1666.0h0M1259.1 1583.6h0M1188.4 1641.4h0M1328.8 1723.1h0M1318.4 1635.1h0M1303.1 1647.9h0M1255.1 1687.2h0M1362.3 1678.2h0M1302.9 1597.0h0M1311.0 1720.3h0M1306.1 1654.9h0M1266.0 1633.8h0M1266.8 1744.1h0M1252.0 1591.9h0M1283.8 1710.1h0M1308.3 1758.9h0M1212.8 1683.3h0M1339.0 1591.7h0M1218.8 1598.6h0M1346.0 1704.4h0M1210.7 1695.0h0M1218.2 1726.1h0M1255.3 1687.2h0M1188.0 1665.1h0M1361.5 1692.4h0M1277.3 1711.4h0M1335.0 1711.9h0M1233.1 1750.7h0M1282.4 1666.2h0M1227.5 1614.3h0M1362.0 1711.3h0M1344.9 1582.7h0M1237.5 1603.8h0M1316.2 1709.1h0M1292.3 1660.5h0M1190.2 1695.3h0M1202.9 1674.7h0M1351.8 1713.2h0M1322.9 1743.0h0M1225.2 1607.6h0M1210.7 1600.2h0M1299.6 1623.0h0M1223.9 1638.5h0M1373.8 1649.9h0M1250.2 1672.4h0M1315.4 1615.4h0M1337.3 1628.2h0M1201.7 1707.8h0M1243.4 1581.4h0M1271.9 1696.9h0M1301.0 1629.9h0M1261.8 1724.8h0M1369.4 1655.5h0M1268.2 1626.8h0M1294.8 1615.2h0M1292.6 1574.3h0M1338.8 1718.0h0M1355.5 1724.1h0M1358.4 1643.0h0M1229.0 1669.5h0M1230.6 1595.5h0M1231.3 1692.5h0M1261.5 1567.4h0M1263.8 1624.0h0M1205.5 1606.2h0M1273.1 1760.4h0M1319.2 1621.4h0M1318.8 1700.4h0M1311.6 1636.2h0M1312.3 1751.8h0M1311.1 1747.2h0M1363.5 1668.4h0M1282.4 1584.5h0M1231.2 1610.1h0M1248.0 1672.3h0M1218.2 1728.5h0M1209.7 1611.1h0M1275.7 1570.3h0M1306.2 1611.2h0M1198.4 1704.3h0M1207.0 1708.0h0M1246.7 1733.0h0M1257.0 1728.6h0M1208.1 1599.2h0M1202.0 1651.4h0M1314.4 1725.6h0M1203.8 1690.6h0M1221.8 1658.2h0M1259.9 1633.0h0M1221.1 1731.1h0M1322.9 1654.8h0M1248.2 1737.0h0M1254.4 1649.2h0M1321.1 1634.2h0M1267.6 1749.3h0M1338.6 1697.2h0M1236.5 1645.5h0M1195.2 1706.2h0M1278.3 1764.4h0M1299.9 1634.9h0M1270.2 1725.4h0M1229.6 1618.5h0M1320.2 1693.1h0M1238.4 1596.2h0M1323.7 1728.3h0M1195.4 1703.9h0M1339.4 1612.8h0M1244.4 1664.0h0M1238.8 1611.6h0M1285.0 1712.0h0M1236.2 1645.3h0M1333.1 1638.0h0M1268.4 1567.5h0M1312.0 1604.2h0M1298.2 1586.3h0M1355.3 1732.7h0M1356.5 1611.8h0M1246.3 1718.2h0M1296.8 1651.8h0M1329.2 1665.5h0M1251.5 1660.0h0M1353.1 1615.3h0M1349.9 1713.2h0M1351.1 1590.9h0M1357.4 1608.5h0M1244.0 1576.6h0M1371.8 1675.9h0M1385.0 1665.8h0M1221.1 1634.5h0M1243.0 1725.6h0M1252.6 1730.5h0M1364.8 1678.8h0M1246.9 1613.6h0M1351.5 1671.7h0M1345.2 1632.3h0M1273.1 1588.8h0M1345.7 1655.1h0M1310.1 1593.4h0M1314.0 1587.6h0M1340.5 1634.8h0M1364.6 1601.6h0M1217.4 1737.1h0M1329.1 1625.4h0M1203.2 1612.2h0M1359.3 1668.7h0M1354.4 1690.7h0M1294.6 1737.0h0M1326.3 1730.4h0M1289.7 1604.3h0M1334.9 1721.4h0M1383.8 1676.9h0M1267.2 1598.3h0M1236.8 1598.6h0M1363.1 1718.7h0M1281.4 1736.7h0M1204.1 1680.7h0M1307.8 1585.1h0M1217.3 1697.0h0M1320.2 1730.1h0M1206.0 1725.9h0M1321.5 1601.4h0M1376.6 1661.4h0M1196.9 1645.8h0M1294.1 1596.3h0M1363.5 1668.3h0M1244.4 1595.3h0M1312.0 1608.7h0M1349.3 1604.5h0M1252.8 1615.5h0M1240.3 1728.2h0M1330.2 1692.7h0M1266.9 1756.3h0M1280.5 1723.8h0M1205.1 1665.7h0M1366.7 1709.1h0M1313.2 1611.0h0M1367.0 1699.0h0M1351.2 1660.0h0M1239.7 1756.1h0M1238.8 1740.9h0M1303.2 1647.2h0M1318.8 1661.2h0M1324.0 1607.5h0M1340.1 1621.3h0M1324.0 1741.9h0M1289.9 1677.1h0M1344.2 1714.4h0M1261.5 1681.9h0M1273.8 1685.4h0M1294.0 1744.2h0M1276.0 1754.7h0M1230.7 1698.4h0M1373.2 1691.2h0M1359.4 1715.1h0M1186.5 1628.2h0M1193.0 1654.7h0M1249.5 1584.9h0M1295.9 1700.1h0M1301.1 1759.8h0M1330.5 1679.3h0M1302.8 1578.1h0M1295.1 1647.8h0M1247.2 1663.9h0M1281.0 1737.1h0M1223.5 1666.2h0M1279.7 1754.5h0M1331.5 1655.7h0M1324.6 1695.2h0M1371.3 1618.1h0M1235.1 1654.3h0M1240.4 1750.1h0M1342.6 1664.6h0M1253.1 1639.8h0M1329.5 1607.6h0M1273.0 1731.4h0M1323.6 1712.9h0M1256.6 1596.1h0M1243.8 1640.7h0M1248.3 1565.5h0M1246.5 1616.9h0M1308.7 1684.7h0M1257.5 1573.4h0M1206.5 1632.3h0M1314.1 1610.7h0M1315.9 1596.9h0M1237.4 1739.5h0M1227.4 1738.6h0M1326.9 1595.3h0M1209.4 1593.1h0M1306.7 1702.2h0M1248.7 1751.1h0M1247.4 1644.3h0M1277.8 1596.3h0M1238.5 1659.8h0M1329.7 1752.2h0M1231.6 1702.9h0M1305.2 1692.3h0M1227.0 1645.4h0M1256.8 1634.4h0M1262.5 1723.1h0M1277.3 1567.8h0M1278.0 1731.9h0M1238.2 1603.7h0M1234.9 1586.2h0M1284.0 1665.8h0M1183.4 1633.3h0M1338.0 1711.8h0M1324.5 1581.7h0M1274.6 1720.1h0M1272.6 1689.2h0M1212.3 1687.3h0M1290.0 1668.5h0M1306.6 1619.1h0M1347.9 1585.5h0M1235.1 1718.2h0M1285.7 1565.2h0M1256.8 1583.9h0M1183.4 1646.7h0M1276.9 1611.0h0M1296.9 1761.6h0M1287.2 1599.1h0M1369.9 1692.6h0M1286.3 1755.8h0M1317.3 1674.1h0M1215.0 1683.4h0M1271.9 1619.6h0M1322.3 1643.7h0M1230.7 1752.6h0M1296.2 1669.6h0M1236.1 1722.9h0M1205.5 1712.4h0M1310.0 1707.5h0M1291.4 1560.4h0M1297.6 1746.9h0M1284.8 1594.2h0M1267.7 1744.9h0M1305.1 1606.3h0M1267.7 1643.8h0M1195.8 1654.0h0M1350.6 1627.8h0M1282.9 1604.1h0M1276.0 1575.3h0M1272.8 1637.9h0M1325.7 1709.1h0M1272.6 1761.0h0M1257.3 1729.0h0M1273.4 1696.5h0M1230.2 1601.0h0M1333.7 1736.0h0M1308.5 1615.7h0M1277.0 1588.3h0M1220.6 1696.8h0M1292.4 1647.2h0M1260.9 1567.0h0M1249.3 1628.0h0M1265.3 1746.6h0M1331.0 1622.4h0M1241.6 1629.0h0M1304.4 1666.2h0M1275.0 1683.2h0M1194.2 1616.2h0M1325.4 1720.5h0M1335.2 1719.1h0M1268.8 1686.1h0M1292.8 1611.6h0M1232.9 1603.0h0M1239.7 1697.1h0M1274.1 1696.9h0M1232.3 1572.8h0M1240.9 1619.5h0M1319.4 1571.6h0M1323.9 1725.3h0M1303.5 1673.1h0M1300.3 1571.1h0M1267.5 1577.7h0M1248.3 1644.4h0M1291.9 1665.0h0M1363.5 1666.8h0M1242.2 1716.1h0M1225.0 1740.6h0M1262.3 1620.6h0M1322.5 1657.8h0M1381.3 1657.6h0M1316.4 1736.8h0M1272.1 1617.8h0M1263.1 1597.2h0M1239.3 1643.1h0M1260.3 1756.0h0M1340.6 1737.2h0M1363.7 1684.8h0M1328.1 1685.3h0M1237.1 1654.5h0M1318.3 1577.1h0M1284.0 1761.8h0M1192.7 1707.9h0M1267.6 1579.9h0M1271.8 1715.9h0M1245.1 1720.3h0M1341.1 1597.2h0M1362.3 1688.5h0M1292.7 1571.3h0M1321.0 1757.9h0M1202.7 1723.5h0M1304.8 1736.6h0M1236.5 1687.5h0M1279.4 1740.6h0M1213.4 1697.4h0M1253.0 1624.4h0M1339.1 1676.2h0M1237.5 1687.1h0M1356.0 1696.9h0M1367.9 1709.4h0M1381.2 1680.9h0M1252.8 1712.2h0M1354.1 1708.2h0M1303.2 1620.9h0M1375.2 1697.2h0M1264.8 1690.4h0M1255.1 1607.1h0M1215.7 1587.8h0M1292.9 1721.6h0M1305.9 1673.8h0M1345.7 1591.0h0M1293.7 1724.8h0M1294.1 1758.3h0M1332.4 1620.4h0M1272.4 1675.9h0M1238.5 1677.9h0M1378.8 1637.2h0M1333.7 1589.5h0M1277.8 1599.7h0M1355.0 1613.0h0M1318.5 1612.2h0M1243.3 1640.3h0M1278.4 1562.4h0M1320.3 1744.5h0M1223.7 1639.3h0M1289.3 1755.5h0M1279.9 1587.1h0M1278.9 1748.7h0M1261.5 1688.1h0M1240.0 1645.9h0M1353.9 1684.8h0M1368.2 1611.9h0M1275.7 1708.0h0M1381.4 1682.9h0M1254.7 1693.9h0M1371.0 1696.6h0M1285.8 1587.9h0M1205.8 1692.3h0M1262.3 1582.0h0M1273.5 1734.4h0M1310.4 1585.8h0M1262.1 1637.8h0M1317.4 1719.9h0M1335.9 1688.0h0M1194.9 1628.7h0M1328.1 1612.6h0M1207.5 1720.2h0M1266.1 1653.1h0M1243.0 1632.1h0M1292.1 1631.9h0M1321.9 1749.8h0M1359.9 1715.2h0M1246.1 1647.9h0M1242.7 1694.5h0M1286.4 1600.3h0M1350.4 1602.7h0M1279.0 1713.4h0M1205.1 1717.3h0M1247.2 1662.1h0M1248.4 1625.5h0M1316.9 1718.8h0M1351.7 1606.5h0M1291.6 1702.3h0M1320.1 1725.5h0M1188.8 1702.5h0M1290.9 1689.7h0M1282.0 1711.2h0M1340.8 1607.6h0M1220.3 1643.0h0M1181.1 1666.6h0M1326.3 1617.0h0M1208.6 1705.8h0M1283.5 1756.3h0M1285.5 1695.6h0M1318.9 1616.0h0M1328.9 1686.1h0M1292.8 1630.6h0M1352.0 1640.8h0M1319.3 1709.8h0M1282.8 1618.9h0M1322.8 1601.9h0M1181.8 1671.1h0M1300.5 1637.8h0M1195.5 1619.2h0M1297.3 1589.1h0M1343.5 1670.9h0M1183.2 1683.4h0M1326.8 1622.6h0M1190.8 1699.4h0M1371.3 1662.7h0M1207.9 1659.6h0M1349.3 1737.4h0M1307.0 1746.0h0M1294.1 1605.3h0M1307.0 1648.6h0M1360.7 1624.1h0M1203.5 1609.5h0M1336.1 1700.3h0M1299.9 1565.8h0M1268.0 1719.7h0M1233.4 1752.1h0M1287.5 1705.5h0M1314.6 1582.3h0M1259.2 1614.7h0M1242.0 1593.8h0M1290.1 1622.1h0M1308.4 1683.4h0M1347.9 1616.9h0M1334.6 1595.0h0M1235.5 1579.6h0M1379.9 1645.0h0M1339.1 1738.6h0M1229.5 1680.4h0M1207.6 1679.4h0M1221.0 1587.0h0M1381.3 1656.3h0M1277.2 1683.9h0M1364.2 1724.6h0M1311.9 1719.5h0M1200.8 1684.9h0M1376.4 1642.9h0M1246.0 1753.2h0M1364.8 1659.8h0M1220.2 1689.0h0M1189.4 1618.6h0M1272.0 1659.0h0M1318.5 1671.6h0M1285.2 1566.2h0M1342.4 1637.0h0M1328.3 1677.8h0M1257.5 1664.8h0M1255.1 1618.1h0M1181.5 1678.1h0M1353.1 1725.3h0M1304.4 1748.0h0M1190.1 1637.1h0M1234.3 1702.4h0M1274.1 1614.1h0M1327.6 1718.9h0M1242.5 1700.5h0M1311.3 1709.3h0M1265.0 1588.3h0M1279.8 1657.1h0M1236.2 1663.2h0M1257.3 1752.6h0M1362.5 1713.4h0M1339.4 1663.7h0M1268.0 1624.8h0M1295.0 1564.4h0M1244.0 1633.4h0M1269.5 1744.3h0M1299.2 1643.0h0M1228.7 1747.1h0M1291.8 1630.9h0M1325.4 1677.0h0M1313.5 1761.0h0M1254.3 1620.9h0M1229.3 1593.0h0M1316.1 1637.9h0M1299.5 1723.2h0M1294.8 1754.0h0M1276.8 1730.1h0M1286.1 1591.9h0M1318.8 1662.9h0M1325.1 1603.5h0M1233.5 1712.6h0M1352.3 1696.5h0M1315.8 1694.7h0M1277.9 1706.3h0M1319.6 1642.3h0M1281.2 1685.3h0M1259.8 1648.7h0M1189.8 1632.5h0M1295.2 1599.8h0M1264.8 1585.0h0M1276.6 1750.8h0M1273.6 1689.2h0M1280.0 1615.8h0M1369.5 1700.4h0M1205.9 1644.2h0M1286.9 1731.9h0M1313.9 1564.9h0M1323.3 1582.2h0M1358.4 1599.1h0M1237.4 1583.3h0M1274.5 1678.9h0M1292.5 1604.2h0M1279.7 1644.8h0M1335.9 1703.2h0M1273.4 1725.8h0M1277.7 1747.6h0M1301.5 1615.7h0M1291.1 1598.4h0M1255.2 1690.0h0M1282.9 1706.3h0M1332.6 1609.5h0M1333.7 1610.8h0M1337.5 1686.4h0M1258.3 1754.5h0M1258.4 1612.3h0M1181.2 1641.4h0M1290.5 1736.6h0M1265.7 1683.8h0M1236.2 1650.7h0M1280.7 1700.4h0M1335.7 1671.6h0M1224.7 1735.2h0M1271.2 1576.7h0M1195.3 1651.4h0M1246.7 1634.0h0M1275.9 1722.7h0M1352.5 1600.1h0M1361.4 1609.9h0M1323.8 1593.9h0M1347.6 1613.7h0M1300.6 1704.9h0M1257.4 1682.4h0M1189.1 1620.1h0M1247.0 1620.6h0M1235.6 1627.6h0M1263.2 1576.7h0M1215.6 1705.8h0M1319.2 1686.1h0M1262.0 1688.8h0M1346.2 1592.6h0M1276.2 1617.7h0M1238.0 1707.6h0M1198.1 1612.5h0M1349.0 1624.7h0M1266.2 1716.2h0M1273.3 1696.6h0M1362.5 1697.0h0M1322.7 1724.1h0M1352.1 1686.4h0M1199.5 1676.6h0M1289.1 1758.8h0M1247.2 1644.1h0M1337.3 1644.9h0M1334.7 1598.6h0M1255.2 1587.3h0M1230.7 1657.1h0M1257.8 1622.2h0M1343.0 1630.0h0M1271.2 1583.9h0M1315.7 1659.8h0M1280.5 1753.8h0M1251.5 1583.2h0M1267.5 1721.5h0M1302.7 1684.4h0M1272.9 1723.0h0M1315.8 1630.8h0M1246.5 1693.1h0M1252.8 1680.9h0M1291.2 1688.0h0M1201.2 1611.9h0M1201.6 1648.8h0M1325.7 1730.3h0M1262.7 1655.0h0M1331.3 1667.9h0M1210.1 1600.1h0M1259.5 1750.1h0M1287.8 1618.0h0M1270.8 1706.1h0M1230.8 1576.4h0M1322.7 1580.8h0M1308.0 1685.1h0M1326.3 1635.5h0M1357.9 1725.1h0M1353.1 1688.2h0M1312.6 1598.9h0M1277.1 1732.0h0M1290.3 1618.9h0M1355.4 1676.0h0M1322.5 1688.2h0M1324.7 1718.1h0M1322.2 1714.8h0M1276.0 1559.9h0M1276.9 1642.6h0M1289.9 1630.1h0M1286.6 1585.1h0M1274.9 1594.1h0M1248.8 1609.1h0M1316.7 1704.3h0M1361.1 1629.4h0M1294.2 1743.1h0M1293.4 1709.1h0M1230.6 1709.1h0M1235.3 1629.4h0M1301.4 1729.4h0M1261.7 1640.8h0M1254.7 1634.3h0M1255.3 1684.6h0M1318.0 1617.0h0M1312.7 1636.2h0M1295.8 1719.9h0M1336.6 1615.0h0M1315.7 1733.7h0M1314.3 1757.8h0M1282.5 1570.3h0M1378.9 1634.9h0M1243.7 1589.4h0M1353.7 1602.5h0M1305.6 1609.2h0M1224.3 1610.7h0M1232.2 1624.9h0M1288.8 1730.8h0M1289.8 1743.5h0M1323.1 1607.1h0M1355.0 1710.7h0M1367.0 1718.2h0M1330.2 1673.1h0M1250.9 1753.4h0M1267.3 1687.4h0M1246.9 1737.7h0M1272.5 1675.1h0M1292.7 1581.1h0M1373.5 1623.4h0M1284.3 1738.7h0M1327.8 1624.2h0M1207.0 1629.9h0M1212.8 1723.4h0M1224.1 1633.1h0M1295.8 1624.3h0M1258.1 1750.1h0M1231.9 1731.0h0M1323.5 1669.6h0M1250.4 1712.3h0M1198.5 1619.9h0M1271.0 1563.7h0M1232.4 1686.1h0M1289.6 1759.3h0M1296.2 1703.2h0M1367.5 1649.5h0M1347.1 1591.1h0M1331.0 1641.1h0M1251.2 1715.6h0M1332.7 1632.3h0M1302.3 1607.4h0M1280.5 1611.9h0M1184.1 1680.1h0M1322.1 1587.1h0M1248.6 1626.0h0M1333.7 1686.8h0M1254.4 1654.5h0M1251.4 1678.5h0M1222.4 1720.6h0M1307.7 1749.5h0M1250.5 1578.1h0M1237.7 1677.8h0M1276.8 1655.7h0M1327.0 1650.7h0M1264.8 1648.4h0M1226.7 1699.0h0M1198.0 1703.4h0M1335.8 1595.6h0M1281.8 1567.1h0M1370.9 1611.8h0M1329.9 1713.3h0M1303.7 1691.8h0M1199.1 1648.5h0M1321.4 1723.8h0M1272.8 1727.7h0M1257.4 1665.2h0M1258.6 1703.2h0M1225.9 1701.4h0M1281.5 1615.1h0M1204.3 1598.6h0M1360.1 1601.4h0M1278.3 1646.1h0M1268.6 1764.7h0M1201.4 1627.3h0M1180.3 1657.4h0M1188.8 1688.4h0M1258.0 1659.7h0M1341.4 1688.6h0M1303.1 1716.1h0M1358.7 1601.4h0M1345.4 1620.9h0M1246.0 1608.5h0M1366.3 1648.2h0M1265.5 1747.8h0M1304.6 1591.1h0M1283.7 1754.6h0M1183.5 1642.9h0M1371.0 1634.2h0M1330.1 1744.1h0M1337.1 1705.4h0M1320.4 1692.2h0M1323.9 1692.7h0M1367.5 1642.0h0M1333.7 1592.0h0M1200.0 1666.6h0M1349.7 1676.7h0M1341.4 1730.3h0M1274.8 1760.2h0M1232.3 1612.9h0M1218.3 1689.7h0M1319.3 1566.6h0M1260.6 1627.6h0M1258.7 1748.7h0M1248.7 1654.0h0M1223.8 1689.7h0M1353.2 1707.5h0M1326.3 1597.5h0M1260.9 1573.1h0M1265.2 1702.7h0M1341.1 1657.2h0M1192.9 1629.1h0M1267.3 1615.8h0M1379.3 1641.4h0M1283.6 1761.4h0M1252.5 1564.9h0M1337.3 1737.3h0M1363.2 1604.6h0M1246.2 1585.7h0M1239.8 1728.2h0M1267.3 1571.0h0M1208.3 1617.9h0M1194.7 1695.1h0M1257.9 1575.5h0M1196.4 1712.3h0M1302.6 1761.8h0M1207.8 1660.7h0M1230.8 1576.4h0M1311.4 1713.9h0M1230.6 1713.5h0M1238.1 1703.3h0M1248.4 1588.8h0M1308.1 1684.3h0M1197.2 1688.5h0M1326.1 1745.5h0M1266.7 1568.0h0M1356.6 1629.2h0M1245.8 1641.4h0M1346.5 1743.2h0M1278.8 1611.4h0M1279.8 1610.9h0M1285.1 1665.4h0M1258.1 1740.5h0M1235.4 1586.8h0M1356.9 1683.6h0M1333.8 1704.5h0M1258.7 1727.1h0M1274.3 1709.5h0M1282.2 1763.5h0M1355.4 1722.4h0M1211.2 1705.9h0M1314.9 1719.9h0M1260.9 1746.2h0M1250.2 1720.2h0M1300.5 1735.0h0M1297.5 1622.3h0M1297.7 1582.5h0M1260.0 1748.5h0M1186.9 1630.1h0M1279.2 1660.3h0M1368.8 1687.4h0M1220.5 1722.1h0M1238.1 1664.8h0M1319.3 1582.4h0M1186.3 1690.7h0M1274.2 1628.4h0M1236.2 1616.5h0M1205.6 1674.1h0M1260.2 1583.9h0M1190.6 1621.8h0M1229.8 1627.4h0M1228.1 1749.9h0M1293.0 1668.1h0M1373.4 1641.2h0M1328.4 1715.3h0M1228.4 1666.5h0M1212.5 1606.4h0M1376.5 1655.0h0M1245.7 1708.7h0M1308.9 1658.5h0M1206.3 1727.4h0M1310.5 1566.8h0M1278.6 1572.6h0M1200.8 1635.2h0M1237.2 1689.6h0M1240.0 1621.7h0M1314.5 1622.9h0M1331.1 1703.1h0M1352.6 1655.5h0M1238.8 1733.0h0M1307.5 1672.6h0M1305.4 1637.3h0M1223.1 1609.5h0M1268.1 1671.6h0M1293.7 1612.3h0M1286.8 1727.9h0M1382.0 1687.6h0M1268.4 1634.2h0M1237.7 1750.0h0M1309.3 1713.5h0M1240.7 1606.5h0M1350.3 1666.9h0M1245.2 1618.8h0M1261.5 1610.5h0M1189.1 1703.2h0M1383.7 1677.8h0M1330.8 1685.5h0M1222.6 1734.1h0M1294.6 1717.4h0M1371.0 1667.5h0M1357.1 1706.5h0M1208.9 1595.4h0M1351.0 1680.7h0M1272.3 1669.1h0M1241.0 1584.8h0M1277.7 1739.3h0M1218.3 1599.2h0M1343.3 1594.8h0M1319.1 1753.9h0M1306.4 1580.5h0M1200.3 1675.3h0M1348.8 1699.4h0M1309.8 1582.0h0M1225.5 1740.9h0M1195.6 1709.1h0M1320.4 1577.3h0M1242.7 1608.3h0M1334.8 1606.0h0M1289.4 1671.9h0M1339.2 1576.9h0M1227.5 1575.3h0M1281.1 1559.9h0M1272.9 1620.7h0M1376.1 1630.1h0M1351.8 1620.6h0M1375.6 1681.4h0M1326.0 1645.9h0M1226.6 1748.9h0M1286.3 1639.2h0M1351.1 1657.8h0M1354.6 1724.0h0M1206.5 1660.0h0M1290.9 1657.7h0M1226.9 1701.1h0M1288.6 1598.5h0M1313.6 1759.2h0M1194.8 1626.0h0M1354.8 1682.8h0M1319.0 1628.4h0M1187.9 1658.0h0M1297.8 1749.5h0M1293.4 1571.3h0M1183.7 1670.3h0M1274.4 1622.6h0M1269.4 1568.2h0M1307.2 1579.7h0M1342.2 1718.0h0M1273.0 1666.8h0M1251.9 1752.5h0M1233.5 1721.6h0M1230.5 1723.9h0M1226.2 1650.8h0M1332.4 1643.2h0M1212.0 1734.5h0M1285.0 1614.7h0M1308.6 1601.3h0M1285.3 1646.9h0M1337.3 1602.7h0M1300.2 1675.9h0M1310.1 1571.8h0M1243.7 1630.6h0M1191.4 1689.2h0M1355.2 1705.9h0M1315.7 1657.4h0M1354.6 1689.7h0M1321.0 1686.0h0M1356.8 1706.9h0M1237.4 1707.5h0M1248.1 1759.1h0M1229.2 1665.9h0M1371.8 1650.2h0M1354.6 1693.8h0M1365.2 1708.1h0M1249.1 1722.6h0M1204.9 1716.2h0M1351.6 1664.5h0M1335.4 1661.0h0M1300.9 1669.9h0M1206.3 1632.0h0M1308.7 1701.5h0M1306.4 1739.8h0M1299.6 1720.4h0M1311.0 1572.3h0M1194.2 1699.5h0M1217.5 1666.3h0M1326.1 1652.9h0M1300.1 1616.9h0M1334.7 1729.7h0M1227.8 1583.7h0M1278.5 1711.0h0M1276.6 1592.2h0M1360.3 1612.6h0M1235.8 1711.1h0M1200.3 1680.4h0M1342.5 1642.3h0M1363.4 1715.6h0M1336.7 1673.7h0M1335.3 1680.5h0M1190.1 1698.6h0M1260.9 1701.5h0M1272.0 1744.5h0M1297.6 1684.4h0M1275.4 1736.8h0M1224.8 1687.5h0M1298.0 1757.2h0M1236.3 1669.8h0M1240.8 1587.4h0M1305.0 1615.5h0M1281.2 1661.1h0M1295.4 1707.2h0M1316.8 1655.5h0M1344.5 1643.2h0M1227.7 1746.0h0M1323.0 1745.4h0M1352.8 1638.0h0M1283.4 1575.0h0M1371.0 1678.1h0M1358.2 1719.3h0M1262.4 1597.3h0M1255.5 1582.5h0M1237.3 1754.4h0M1282.9 1638.8h0M1349.1 1654.6h0M1275.4 1738.9h0M1240.5 1739.1h0M1268.6 1760.2h0M1302.3 1737.2h0M1254.4 1754.8h0M1322.1 1677.5h0M1361.7 1601.2h0M1333.4 1703.3h0M1236.4 1647.9h0M1295.0 1685.2h0M1262.8 1651.7h0M1274.0 1701.3h0M1189.5 1630.2h0M1280.5 1612.3h0M1302.9 1572.2h0M1257.6 1760.2h0M1214.2 1706.2h0M1342.9 1733.6h0M1365.1 1604.1h0M1228.5 1664.8h0M1205.0 1656.4h0M1332.2 1709.9h0M1216.2 1588.6h0M1300.8 1565.4h0M1292.1 1710.6h0M1271.7 1704.2h0M1236.8 1641.1h0M1239.4 1672.5h0M1312.8 1581.6h0M1344.5 1635.2h0M1291.6 1602.7h0M1362.6 1618.0h0M1313.0 1593.6h0M1263.9 1753.7h0M1286.1 1574.0h0M1225.3 1691.9h0M1211.8 1667.6h0M1358.1 1655.0h0M1308.8 1578.0h0M1358.6 1644.7h0M1302.0 1709.7h0M1281.5 1566.0h0M1284.1 1640.8h0M1197.2 1678.3h0M1272.0 1721.2h0M1382.6 1678.2h0M1374.8 1674.3h0M1343.2 1669.8h0M1265.8 1579.0h0M1229.9 1614.6h0M1292.2 1652.2h0M1240.3 1649.6h0M1236.7 1614.7h0M1182.6 1653.2h0M1283.8 1707.9h0M1231.8 1682.7h0M1380.5 1653.8h0M1309.0 1582.3h0M1318.1 1759.3h0M1321.2 1645.8h0M1355.4 1604.4h0M1251.2 1716.5h0M1356.7 1732.3h0M1244.8 1733.1h0M1293.6 1648.9h0M1241.3 1594.7h0M1347.0 1711.5h0M1335.1 1695.6h0M1250.6 1623.3h0M1329.4 1737.0h0M1363.3 1672.7h0M1288.2 1576.5h0M1319.7 1617.7h0M1230.9 1636.8h0M1250.5 1628.1h0M1285.0 1747.5h0M1260.6 1743.4h0M1292.9 1607.8h0M1379.6 1632.7h0M1382.8 1682.8h0M1307.9 1691.6h0M1251.3 1630.6h0M1186.4 1665.2h0M1187.9 1676.2h0M1263.1 1662.8h0M1232.5 1749.2h0M1307.2 1590.5h0M1197.3 1698.8h0M1234.0 1651.4h0M1250.1 1717.8h0M1355.7 1718.9h0M1330.4 1687.6h0M1312.4 1735.2h0M1348.9 1610.6h0M1306.2 1567.3h0M1229.8 1751.0h0M1206.1 1731.7h0M1320.5 1651.3h0M1327.4 1688.4h0M1358.3 1671.8h0M1269.9 1702.7h0M1258.5 1646.3h0M1229.7 1586.4h0M1214.0 1719.0h0M1309.4 1728.5h0M1337.1 1734.5h0M1193.4 1637.5h0M1315.7 1594.2h0M1305.3 1720.5h0M1377.2 1671.9h0M1240.7 1699.4h0M1217.6 1636.3h0M1345.8 1683.8h0M1279.2 1618.6h0M1277.1 1672.1h0M1281.7 1744.9h0M1272.9 1652.1h0M1363.3 1655.9h0M1320.1 1586.8h0M1240.2 1708.2h0M1227.1 1599.4h0M1315.1 1600.7h0M1192.3 1665.4h0M1292.5 1689.9h0M1264.4 1682.5h0M1275.9 1711.1h0M1337.2 1593.4h0M1302.9 1728.1h0M1332.2 1578.5h0M1374.1 1650.8h0M1278.8 1613.3h0M1356.0 1663.2h0M1239.6 1652.6h0M1281.2 1761.8h0M1309.2 1622.7h0M1361.9 1704.9h0M1231.4 1640.3h0M1186.3 1665.3h0M1229.7 1712.0h0M1356.9 1611.3h0M1332.1 1642.0h0M1320.3 1710.5h0M1376.6 1685.5h0M1279.5 1580.0h0M1294.6 1673.5h0M1316.2 1716.9h0M1357.0 1620.3h0M1217.6 1631.3h0M1306.2 1685.1h0M1330.4 1607.4h0M1328.7 1681.1h0M1347.1 1697.8h0M1272.8 1563.4h0M1319.2 1624.7h0M1263.2 1727.5h0M1233.7 1577.4h0M1382.0 1651.2h0M1283.8 1626.5h0M1264.4 1616.6h0M1284.8 1702.5h0M1337.1 1710.2h0M1273.5 1573.4h0M1318.9 1749.9h0M1326.3 1689.7h0M1276.5 1700.1h0M1293.1 1651.8h0M1344.1 1624.4h0M1293.9 1715.8h0M1289.5 1760.6h0M1238.6 1613.9h0M1211.5 1698.4h0M1196.4 1636.9h0M1345.0 1677.4h0M1291.9 1760.6h0M1260.4 1584.1h0M1254.5 1575.0h0M1297.8 1747.2h0M1319.2 1600.9h0M1284.3 1602.4h0M1209.3 1633.6h0M1252.2 1585.2h0M1355.7 1665.9h0M1257.6 1676.7h0M1281.1 1633.2h0M1258.8 1602.9h0M1272.5 1583.6h0M1266.2 1585.2h0M1209.5 1703.1h0M1203.2 1622.7h0M1225.5 1712.7h0M1196.1 1716.8h0M1320.8 1758.9h0M1273.3 1675.2h0M1267.2 1612.8h0M1234.5 1736.1h0M1328.0 1708.7h0M1254.0 1591.7h0M1342.6 1638.2h0M1274.6 1653.3h0M1374.5 1631.7h0M1279.5 1738.8h0M1254.4 1732.7h0M1278.9 1683.8h0M1314.9 1756.9h0M1290.8 1749.8h0M1262.2 1588.2h0M1182.0 1678.8h0M1363.7 1677.9h0M1226.8 1690.5h0M1328.0 1584.7h0M1203.6 1635.5h0M1225.8 1582.3h0M1337.9 1622.9h0M1255.7 1593.5h0M1280.5 1635.1h0M1298.5 1579.2h0M1309.2 1753.7h0M1245.5 1667.9h0M1246.6 1695.8h0M1329.6 1732.1h0M1255.7 1637.6h0M1230.7 1664.3h0M1355.9 1717.6h0M1301.7 1748.1h0M1198.5 1620.0h0M1204.8 1655.9h0M1235.8 1580.3h0M1280.2 1610.9h0M1203.5 1613.8h0M1285.3 1752.8h0M1274.4 1668.2h0M1306.5 1603.3h0M1325.1 1582.3h0M1286.3 1660.6h0M1303.2 1734.2h0M1353.5 1675.3h0M1325.5 1578.6h0M1258.2 1656.4h0M1231.4 1608.0h0M1340.4 1639.8h0M1336.4 1740.8h0M1204.0 1677.8h0M1321.4 1618.3h0M1218.4 1700.0h0M1234.3 1703.5h0M1242.6 1686.9h0M1198.9 1605.9h0M1265.8 1673.0h0M1358.1 1717.2h0M1356.0 1718.3h0M1354.2 1704.2h0M1193.5 1699.4h0M1185.6 1649.2h0M1382.4 1656.6h0M1376.6 1642.0h0M1349.5 1620.2h0M1201.9 1706.8h0M1353.7 1688.7h0M1214.5 1696.7h0M1359.5 1652.8h0M1269.2 1600.0h0M1305.3 1598.7h0M1256.4 1754.4h0M1364.9 1629.0h0M1246.3 1743.7h0M1210.0 1662.4h0M1265.4 1661.0h0M1230.6 1673.1h0M1267.5 1657.5h0M1379.0 1627.6h0M1322.9 1638.2h0M1269.1 1671.9h0M1317.6 1750.1h0M1279.5 1564.2h0M1271.6 1725.1h0M1293.0 1645.9h0M1271.2 1725.0h0M1310.0 1698.3h0M1218.1 1616.2h0M1227.9 1709.9h0M1338.7 1672.7h0M1255.5 1731.7h0M1243.8 1721.6h0M1273.2 1683.6h0M1213.8 1710.8h0M1189.9 1617.2h0M1243.2 1615.7h0M1286.0 1569.4h0M1259.8 1657.9h0M1335.6 1575.8h0M1224.2 1664.1h0M1288.0 1587.7h0M1210.2 1614.1h0M1290.9 1560.4h0M1382.6 1677.2h0M1343.7 1663.8h0M1183.5 1667.5h0M1272.8 1670.1h0M1268.6 1704.3h0M1307.7 1633.3h0M1385.0 1663.3h0M1267.0 1703.2h0M1314.3 1586.1h0M1237.8 1614.5h0M1202.2 1668.5h0M1362.6 1645.3h0M1276.4 1685.0h0M1275.1 1638.2h0M1259.6 1748.0h0M1298.1 1617.7h0M1266.1 1595.1h0M1319.2 1658.0h0M1215.2 1726.4h0M1360.7 1718.2h0M1265.9 1629.2h0M1243.7 1748.9h0M1293.4 1691.8h0M1285.7 1649.2h0M1313.9 1740.0h0M1333.5 1590.7h0M1220.7 1688.0h0M1300.4 1653.7h0M1267.9 1641.2h0M1343.3 1743.2h0M1267.0 1761.4h0M1297.1 1566.9h0M1310.7 1577.8h0M1344.6 1625.1h0M1221.2 1581.9h0M1221.8 1707.8h0M1268.4 1580.8h0M1292.3 1691.0h0M1332.6 1619.6h0M1253.3 1730.9h0M1340.6 1680.0h0M1298.7 1592.3h0M1352.2 1588.3h0M1364.9 1707.0h0M1261.4 1720.5h0M1361.7 1627.4h0M1240.0 1605.3h0M1186.4 1652.7h0M1206.8 1652.0h0M1257.8 1676.2h0M1311.6 1672.4h0M1251.1 1583.1h0M1213.8 1591.3h0M1334.9 1712.4h0M1349.8 1618.5h0M1301.2 1586.7h0M1201.6 1623.9h0M1294.5 1733.9h0M1214.2 1657.4h0M1339.5 1742.9h0M1369.4 1612.3h0M1318.6 1680.1h0M1289.7 1654.1h0M1308.7 1613.9h0M1203.0 1644.9h0M1196.8 1652.4h0M1276.7 1691.2h0M1240.5 1718.1h0M1218.6 1690.6h0M1274.1 1642.0h0M1247.6 1673.9h0M1369.3 1614.3h0M1326.7 1661.4h0M1311.2 1731.2h0M1327.5 1733.6h0M1273.9 1614.1h0M1197.5 1610.0h0M1249.0 1688.0h0M1348.0 1637.5h0M1207.7 1679.8h0M1305.9 1563.4h0M1308.8 1602.9h0M1297.1 1605.3h0M1255.2 1685.7h0M1300.9 1561.8h0M1346.4 1620.9h0M1261.7 1748.5h0M1325.0 1635.2h0M1330.5 1619.6h0M1287.7 1734.5h0M1335.2 1676.2h0M1275.2 1674.8h0M1247.2 1746.4h0M1216.5 1687.6h0M1265.5 1689.1h0M1303.3 1572.5h0M1349.0 1697.3h0M1218.4 1678.2h0M1338.3 1663.1h0M1297.3 1584.8h0M1353.8 1659.9h0M1298.8 1747.8h0M1330.2 1723.4h0M1359.9 1604.4h0M1189.9 1640.4h0M1297.1 1719.6h0M1315.9 1743.5h0M1357.3 1628.9h0M1196.5 1703.7h0M1233.0 1614.2h0M1331.2 1678.0h0M1353.1 1617.2h0M1254.9 1628.2h0M1278.7 1720.5h0M1223.2 1708.2h0M1332.8 1713.2h0M1263.0 1653.7h0M1294.2 1758.5h0M1346.2 1695.8h0M1228.6 1639.2h0M1214.9 1646.6h0M1313.3 1578.6h0M1321.8 1640.1h0M1301.6 1565.7h0M1366.3 1697.2h0M1333.6 1747.0h0M1324.5 1725.3h0M1249.3 1571.2h0M1356.4 1667.9h0M1351.8 1737.4h0M1315.7 1682.3h0M1325.7 1574.4h0M1255.9 1623.2h0M1303.3 1657.9h0M1344.1 1597.7h0M1332.5 1676.0h0M1321.1 1589.1h0M1368.1 1717.1h0M1229.5 1675.0h0M1201.1 1650.1h0M1205.3 1731.2h0M1262.2 1572.4h0M1282.0 1563.0h0M1209.7 1670.4h0M1314.9 1581.1h0M1299.0 1722.7h0M1306.5 1721.1h0M1261.3 1592.7h0M1213.0 1606.4h0M1236.4 1663.1h0M1216.8 1725.4h0M1316.5 1691.9h0M1335.6 1629.9h0M1294.9 1681.8h0M1206.0 1612.4h0M1255.0 1675.4h0M1267.5 1586.2h0M1321.8 1572.0h0M1270.8 1688.4h0M1371.0 1618.7h0M1331.6 1737.4h0M1359.6 1665.1h0M1323.6 1711.3h0M1306.5 1667.5h0M1284.8 1724.2h0M1324.8 1650.2h0M1232.4 1665.7h0M1306.7 1753.5h0M1258.2 1722.4h0M1280.3 1679.6h0M1236.8 1629.0h0M1308.0 1648.8h0M1215.7 1621.1h0M1225.0 1628.1h0M1317.9 1721.3h0M1294.8 1721.7h0M1224.7 1611.7h0M1317.6 1644.5h0M1311.8 1590.0h0M1333.1 1608.9h0M1238.7 1698.5h0M1211.4 1674.2h0M1330.5 1589.4h0M1327.9 1602.5h0M1362.4 1668.2h0M1283.5 1616.7h0M1278.9 1562.4h0M1253.5 1574.7h0M1246.7 1598.0h0M1331.7 1714.3h0M1324.0 1756.9h0M1277.2 1635.6h0M1278.3 1654.7h0M1286.0 1706.5h0M1325.6 1577.5h0M1349.8 1713.0h0M1285.4 1675.4h0M1183.5 1691.0h0M1290.8 1609.1h0M1218.7 1716.0h0M1264.2 1673.7h0M1325.3 1708.5h0M1318.8 1617.8h0M1249.7 1583.7h0M1372.6 1641.2h0M1204.2 1685.3h0M1244.8 1700.9h0M1251.6 1632.9h0M1200.2 1651.1h0M1265.9 1582.8h0M1220.8 1694.8h0M1343.2 1646.0h0M1193.3 1636.3h0M1280.5 1669.3h0M1237.6 1754.1h0M1298.3 1729.4h0M1361.8 1628.2h0M1339.8 1670.4h0M1346.8 1631.5h0M1272.1 1732.2h0M1272.9 1761.5h0M1323.4 1588.7h0M1332.4 1613.2h0M1191.2 1634.7h0M1303.1 1659.1h0M1254.0 1713.7h0M1288.0 1754.1h0M1207.7 1604.7h0M1325.6 1752.5h0M1289.5 1625.7h0M1255.4 1574.3h0M1216.2 1652.8h0M1349.2 1735.1h0M1282.2 1656.0h0M1186.9 1641.1h0M1366.5 1626.0h0M1191.4 1703.4h0M1347.3 1673.2h0M1292.9 1585.3h0M1309.2 1707.9h0M1303.4 1675.2h0M1343.6 1713.5h0M1284.3 1669.5h0M1299.2 1656.0h0M1214.3 1649.0h0M1228.6 1644.5h0M1249.7 1695.6h0M1343.8 1661.4h0M1197.6 1688.3h0M1271.8 1738.9h0M1189.2 1634.7h0M1278.0 1705.4h0M1236.8 1612.9h0M1270.7 1627.1h0M1261.1 1708.9h0M1350.4 1650.3h0M1250.0 1724.3h0M1371.4 1659.7h0M1217.1 1627.8h0M1253.6 1572.0h0M1361.5 1689.4h0M1349.6 1680.2h0M1349.8 1722.6h0M1285.2 1671.5h0M1219.3 1694.6h0M1349.7 1646.2h0M1361.0 1668.9h0M1254.1 1724.1h0M1304.6 1742.4h0M1214.0 1696.0h0M1249.9 1699.4h0M1359.6 1694.5h0M1293.6 1753.9h0M1277.3 1609.4h0M1307.8 1677.0h0M1368.3 1714.8h0M1249.0 1711.4h0M1295.5 1632.0h0M1296.2 1748.4h0M1297.9 1637.8h0M1299.0 1659.2h0M1227.2 1731.3h0M1301.2 1573.0h0M1316.9 1581.2h0M1313.9 1653.0h0M1349.2 1652.1h0M1243.7 1711.2h0M1234.4 1577.2h0M1201.0 1657.3h0M1297.4 1706.0h0M1313.9 1729.9h0M1287.6 1581.0h0M1319.4 1600.9h0M1215.4 1708.2h0M1291.5 1696.0h0M1261.3 1712.8h0M1377.9 1666.0h0M1286.3 1654.7h0M1227.7 1656.0h0M1237.7 1647.8h0M1331.7 1671.4h0M1201.0 1611.3h0M1238.2 1692.1h0M1323.4 1627.6h0M1201.5 1712.8h0M1244.1 1720.4h0M1351.7 1720.4h0M1293.0 1694.1h0M1216.0 1601.7h0M1224.0 1697.5h0M1384.2 1671.4h0M1193.3 1689.2h0M1321.4 1633.6h0M1308.6 1730.2h0M1216.5 1717.8h0M1315.0 1646.3h0M1335.5 1612.0h0M1325.8 1736.5h0M1290.5 1587.3h0M1320.7 1700.4h0M1201.5 1621.6h0M1321.0 1600.6h0M1317.1 1666.2h0M1249.5 1760.7h0M1289.2 1662.2h0M1332.7 1749.7h0M1364.0 1685.4h0M1307.9 1751.2h0M1248.8 1653.6h0M1322.6 1633.4h0M1288.4 1722.5h0M1354.6 1645.0h0M1319.8 1709.1h0M1273.0 1675.5h0M1352.1 1616.7h0M1340.5 1579.3h0M1356.5 1655.9h0M1309.3 1747.5h0M1311.5 1608.4h0M1252.0 1720.6h0M1286.1 1753.2h0M1298.8 1722.2h0M1245.7 1723.4h0M1210.4 1727.0h0M1187.3 1693.5h0M1231.2 1638.2h0M1296.3 1634.9h0M1242.3 1758.2h0M1351.6 1672.2h0M1296.0 1764.8h0M1371.2 1665.2h0M1354.9 1647.2h0M1234.9 1586.7h0M1258.7 1700.0h0M1360.2 1623.4h0M1339.0 1724.1h0M1234.3 1693.1h0M1223.9 1640.7h0M1278.1 1615.9h0M1266.3 1617.6h0M1375.2 1707.6h0M1350.4 1655.6h0M1267.3 1720.3h0M1337.1 1580.5h0M1215.8 1652.5h0M1240.5 1732.7h0M1261.8 1632.8h0M1198.2 1661.4h0M1251.8 1724.0h0M1249.6 1714.7h0M1260.2 1584.7h0M1293.0 1655.2h0M1325.2 1673.0h0M1220.8 1714.2h0M1245.1 1740.0h0M1356.8 1653.4h0M1224.7 1624.6h0M1321.5 1659.0h0M1330.3 1643.7h0M1205.1 1633.3h0M1290.4 1629.6h0M1335.4 1582.5h0M1313.0 1579.4h0M1289.4 1700.5h0M1374.9 1688.2h0M1327.7 1598.8h0M1284.0 1648.8h0M1281.6 1607.9h0M1286.8 1587.9h0M1348.5 1721.6h0M1323.2 1598.7h0M1243.4 1571.0h0M1254.0 1634.2h0M1262.0 1646.1h0M1308.3 1599.7h0M1346.9 1638.2h0M1371.4 1660.8h0M1312.7 1624.4h0M1234.9 1720.2h0M1352.4 1693.3h0M1308.2 1704.5h0M1300.3 1615.4h0M1209.5 1598.9h0M1308.8 1620.8h0M1236.2 1733.2h0M1205.1 1617.2h0M1335.1 1627.7h0M1335.2 1718.4h0M1344.9 1736.1h0M1313.2 1760.2h0M1271.2 1667.2h0M1221.9 1732.8h0M1271.7 1581.7h0M1205.0 1633.9h0M1370.0 1665.9h0M1334.4 1580.0h0M1338.7 1748.7h0M1308.4 1751.8h0M1370.1 1706.7h0M1351.0 1705.4h0M1263.5 1659.0h0M1266.6 1631.8h0M1363.6 1648.7h0M1313.7 1567.1h0M1190.5 1664.4h0M1298.4 1576.9h0M1310.8 1682.6h0M1307.0 1671.0h0M1268.5 1718.4h0M1318.9 1712.0h0M1249.1 1711.7h0M1282.4 1583.8h0M1207.1 1715.8h0M1336.3 1708.3h0M1281.1 1701.7h0M1305.8 1627.3h0M1329.0 1719.3h0M1301.8 1733.0h0M1367.9 1686.9h0M1284.1 1669.6h0M1304.9 1691.1h0M1332.1 1638.0h0M1200.8 1667.2h0M1214.2 1585.9h0M1275.5 1636.0h0M1352.6 1650.5h0M1338.4 1639.7h0M1211.4 1655.6h0M1357.3 1714.3h0M1331.9 1654.3h0M1334.4 1717.3h0M1326.6 1731.3h0M1292.4 1593.6h0M1275.5 1587.8h0M1269.5 1604.1h0M1261.5 1582.8h0M1230.9 1744.9h0M1199.1 1699.7h0M1298.4 1616.7h0M1214.8 1604.3h0M1305.1 1597.0h0M1266.6 1722.7h0M1263.1 1659.1h0M1380.8 1657.0h0M1329.1 1718.4h0M1371.7 1709.7h0M1302.4 1630.9h0M1250.4 1756.0h0M1214.4 1738.8h0M1264.3 1606.6h0M1240.4 1659.4h0M1277.7 1627.4h0M1297.4 1759.9h0M1226.9 1743.4h0M1206.4 1730.3h0M1257.5 1717.9h0M1263.5 1735.0h0M1293.8 1712.9h0M1321.3 1650.1h0M1232.5 1649.1h0M1271.4 1748.9h0M1230.4 1576.8h0M1314.1 1634.2h0M1239.2 1591.1h0M1254.6 1697.4h0M1214.0 1662.0h0M1288.2 1637.8h0M1274.1 1624.0h0M1258.7 1587.4h0M1330.8 1599.0h0M1383.6 1652.4h0M1350.1 1700.0h0M1342.1 1628.6h0M1327.5 1745.6h0M1237.9 1605.9h0M1317.7 1743.2h0M1230.3 1579.1h0M1189.1 1683.9h0M1274.6 1757.0h0M1295.1 1572.5h0M1265.1 1621.9h0M1281.8 1594.1h0M1191.0 1618.3h0M1306.5 1732.8h0M1297.4 1746.6h0M1269.3 1619.8h0M1231.6 1715.0h0M1331.1 1613.2h0M1197.1 1718.4h0M1310.5 1593.9h0M1186.3 1674.2h0M1294.0 1599.8h0M1235.8 1592.0h0M1274.8 1736.4h0M1333.1 1697.6h0M1229.5 1613.8h0M1330.3 1724.0h0M1371.0 1703.7h0M1229.4 1675.2h0M1208.1 1657.2h0M1250.4 1653.8h0M1183.1 1690.8h0M1377.0 1647.5h0M1251.3 1746.3h0M1326.6 1619.9h0M1251.2 1734.9h0M1199.2 1685.0h0M1318.8 1738.7h0M1309.2 1678.4h0M1332.3 1686.2h0M1260.7 1723.4h0M1279.3 1733.9h0M1349.4 1690.0h0M1233.8 1701.5h0M1282.0 1598.2h0M1260.8 1734.4h0M1240.7 1757.6h0M1241.8 1594.2h0M1223.7 1717.7h0M1343.2 1678.7h0M1252.7 1703.8h0M1365.9 1629.9h0M1267.6 1765.3h0M1243.3 1669.4h0M1244.7 1605.2h0M1325.8 1604.0h0M1278.0 1569.2h0M1221.8 1625.8h0M1328.3 1657.5h0M1327.1 1747.4h0M1304.6 1651.4h0M1358.4 1690.6h0M1202.9 1721.0h0M1250.0 1729.5h0M1327.0 1641.4h0M1307.8 1582.0h0M1196.0 1659.1h0M1214.1 1646.6h0M1277.3 1743.7h0M1381.1 1668.2h0M1244.8 1638.6h0M1263.8 1670.6h0M1329.5 1669.3h0M1362.4 1601.8h0M1212.3 1719.2h0M1285.7 1585.2h0M1305.4 1633.7h0M1315.3 1705.9h0M1322.4 1583.4h0M1283.1 1750.2h0M1196.4 1614.3h0M1205.2 1678.3h0M1327.3 1680.3h0M1251.8 1757.5h0M1332.0 1734.7h0M1313.2 1753.3h0M1304.8 1744.1h0M1330.5 1582.7h0M1374.9 1639.3h0M1319.9 1623.6h0M1357.5 1685.4h0M1264.4 1722.6h0M1281.3 1659.8h0M1248.0 1728.9h0M1227.3 1659.9h0M1222.4 1647.8h0M1345.4 1602.6h0M1248.6 1749.5h0M1239.2 1683.5h0M1340.3 1714.8h0M1313.7 1680.4h0M1219.4 1637.2h0M1252.2 1612.9h0M1367.8 1655.6h0M1234.5 1604.3h0M1260.2 1649.2h0M1217.0 1728.9h0M1189.5 1703.6h0M1262.5 1612.3h0M1275.3 1589.8h0M1342.7 1684.6h0M1215.6 1691.8h0M1275.3 1656.9h0M1300.0 1620.9h0M1340.6 1618.2h0M1249.4 1734.5h0M1358.2 1682.6h0M1342.8 1712.1h0M1291.7 1698.7h0M1282.7 1644.6h0M1304.9 1603.4h0M1277.9 1647.6h0M1200.0 1704.3h0M1371.0 1654.5h0M1219.5 1652.1h0M1230.7 1735.2h0M1253.8 1567.0h0M1232.1 1619.0h0M1317.9 1727.6h0M1280.2 1596.5h0M1292.0 1572.7h0M1285.9 1588.6h0M1269.3 1682.4h0M1195.6 1716.4h0M1181.8 1687.1h0M1326.1 1595.0h0M1266.7 1752.7h0M1286.2 1573.6h0M1213.1 1734.6h0M1238.8 1743.9h0M1275.3 1683.7h0M1338.6 1682.5h0M1250.3 1584.8h0M1288.9 1763.7h0M1263.4 1629.0h0M1209.0 1665.9h0M1339.7 1636.2h0M1289.8 1727.8h0M1267.7 1728.4h0M1238.7 1691.2h0M1244.1 1573.2h0M1301.8 1686.8h0M1279.1 1596.2h0M1302.5 1637.0h0M1290.7 1748.8h0M1326.9 1700.9h0M1272.3 1729.4h0M1239.1 1587.1h0M1311.2 1568.9h0M1203.3 1708.8h0M1238.0 1712.5h0M1209.7 1684.4h0M1307.5 1618.9h0M1290.3 1602.8h0M1315.0 1675.0h0M1352.7 1701.0h0M1370.4 1680.1h0M1270.8 1738.9h0M1243.3 1712.0h0M1297.1 1633.4h0M1278.9 1599.0h0M1362.1 1635.2h0M1259.4 1594.6h0M1193.7 1689.6h0M1249.4 1650.9h0M1340.9 1698.6h0M1213.5 1702.0h0M1370.2 1703.7h0M1275.9 1600.0h0M1280.9 1635.7h0M1317.5 1577.3h0M1222.0 1592.0h0M1251.9 1685.7h0M1246.2 1579.3h0M1252.2 1699.8h0M1369.9 1690.0h0M1238.1 1575.9h0M1245.8 1615.9h0M1326.6 1646.6h0M1220.8 1628.3h0M1225.9 1630.6h0M1339.6 1635.4h0M1347.6 1617.3h0M1219.2 1683.7h0M1246.3 1759.6h0M1277.9 1561.5h0M1299.2 1732.6h0M1224.1 1683.0h0M1233.0 1633.6h0M1300.1 1580.4h0M1283.7 1735.5h0M1368.3 1700.6h0M1343.8 1728.1h0M1204.9 1660.4h0M1360.8 1670.5h0M1338.2 1621.0h0M1283.9 1763.0h0M1356.1 1685.5h0M1211.3 1643.7h0M1362.0 1625.6h0M1309.6 1622.5h0M1262.7 1661.1h0M1237.3 1609.7h0M1234.5 1748.9h0M1194.9 1658.7h0M1374.1 1645.0h0M1244.9 1713.3h0M1368.2 1630.9h0M1233.5 1635.9h0M1221.1 1646.4h0M1295.0 1615.7h0M1231.8 1614.4h0M1268.9 1601.2h0M1275.8 1678.4h0M1187.7 1660.1h0M1294.1 1564.0h0M1250.4 1607.8h0M1371.3 1644.2h0M1256.7 1688.1h0M1349.9 1626.5h0M1280.0 1754.3h0M1361.7 1637.7h0M1251.3 1743.2h0M1192.7 1673.9h0M1258.7 1744.7h0M1218.2 1604.5h0M1205.9 1638.8h0M1224.0 1633.2h0M1313.6 1602.6h0M1324.5 1595.7h0M1236.1 1588.4h0M1304.5 1737.7h0M1293.3 1661.3h0M1246.3 1593.1h0M1195.2 1666.6h0M1280.3 1692.1h0M1307.3 1613.7h0M1346.2 1663.8h0M1350.8 1687.2h0M1232.4 1653.8h0M1299.8 1691.6h0M1192.7 1620.0h0M1236.2 1723.2h0M1243.6 1617.7h0M1326.7 1645.5h0M1233.5 1693.1h0M1291.1 1705.3h0M1194.1 1679.6h0M1268.9 1681.8h0M1296.1 1614.1h0M1183.0 1634.8h0M1255.5 1640.0h0M1297.6 1700.3h0M1257.6 1589.6h0M1277.7 1653.7h0M1310.8 1602.2h0M1337.4 1616.5h0M1243.3 1717.1h0M1290.3 1662.0h0M1195.3 1692.0h0M1370.5 1628.4h0M1293.3 1607.1h0M1211.6 1708.1h0M1290.9 1650.2h0M1337.6 1643.1h0M1288.6 1598.9h0M1222.6 1586.0h0M1295.5 1708.3h0M1385.2 1665.8h0M1318.1 1610.2h0M1299.6 1737.9h0M1260.6 1621.2h0M1186.4 1632.1h0M1250.8 1637.5h0M1205.9 1628.9h0M1294.4 1575.4h0M1285.8 1574.7h0M1272.0 1691.3h0M1283.9 1613.0h0M1277.1 1738.3h0M1274.5 1725.3h0M1250.8 1619.3h0M1221.8 1652.5h0M1319.5 1632.9h0M1211.7 1606.6h0M1288.7 1693.5h0M1206.1 1681.8h0M1255.3 1669.7h0M1294.6 1624.4h0M1260.9 1565.6h0M1313.4 1760.1h0M1346.8 1644.9h0M1331.8 1657.0h0M1249.9 1581.2h0M1350.5 1706.2h0M1244.1 1624.8h0M1280.9 1744.7h0M1239.3 1617.3h0M1224.8 1611.6h0M1318.9 1732.1h0M1249.7 1662.6h0M1293.9 1604.0h0M1307.7 1750.0h0M1287.1 1585.0h0M1310.5 1626.6h0M1204.4 1611.0h0M1219.3 1744.5h0M1262.6 1588.8h0M1323.6 1689.0h0M1328.9 1746.6h0M1264.5 1581.7h0M1380.0 1676.6h0M1268.4 1680.1h0M1266.8 1743.2h0M1357.5 1612.4h0M1301.7 1640.4h0M1226.3 1656.7h0M1213.7 1610.2h0M1314.5 1676.4h0M1320.5 1698.5h0M1196.1 1666.9h0M1266.7 1565.0h0M1313.0 1604.9h0M1272.8 1715.8h0M1237.7 1605.0h0M1332.6 1633.8h0M1287.4 1738.1h0M1236.5 1629.8h0M1262.7 1573.1h0M1234.1 1608.3h0M1220.8 1607.8h0M1349.3 1648.0h0M1215.6 1691.6h0M1242.1 1578.2h0M1259.2 1591.3h0M1297.1 1659.0h0M1250.4 1596.3h0M1303.2 1676.8h0M1319.2 1606.8h0M1190.3 1658.5h0M1337.7 1721.2h0M1267.6 1652.1h0M1324.8 1655.7h0M1352.1 1703.5h0M1286.9 1614.1h0M1327.1 1722.0h0M1264.0 1608.2h0M1220.4 1638.3h0M1356.7 1695.6h0M1274.1 1596.6h0M1294.2 1635.4h0M1365.0 1616.5h0M1309.6 1683.6h0M1326.1 1714.8h0M1212.0 1660.9h0M1236.6 1737.6h0M1231.9 1620.7h0M1253.0 1589.9h0M1278.1 1698.3h0M1229.0 1678.9h0M1263.6 1703.4h0M1212.2 1679.9h0M1351.5 1678.7h0M1207.1 1614.8h0M1205.0 1608.9h0M1336.1 1627.1h0M1245.1 1719.4h0M1196.2 1629.7h0M1297.2 1652.5h0M1320.0 1647.0h0M1270.7 1742.0h0M1239.8 1682.1h0M1309.8 1725.2h0M1355.2 1604.1h0M1265.7 1602.9h0M1232.4 1655.0h0M1262.4 1716.5h0M1318.2 1592.3h0M1202.3 1718.6h0M1347.9 1714.3h0M1333.3 1663.8h0M1311.0 1578.9h0M1212.3 1714.9h0M1206.0 1674.5h0M1271.8 1696.8h0M1375.4 1686.7h0M1278.8 1596.7h0M1289.2 1625.6h0M1305.8 1634.6h0M1251.7 1747.2h0M1234.1 1572.1h0M1240.8 1586.5h0M1201.2 1681.2h0M1240.8 1620.0h0M1351.1 1612.1h0M1218.2 1602.8h0M1224.4 1730.8h0M1264.9 1655.8h0M1330.2 1754.3h0M1277.8 1704.9h0M1231.7 1645.1h0M1191.8 1621.2h0M1304.4 1562.3h0M1344.1 1702.8h0M1342.7 1581.4h0M1270.0 1733.7h0M1346.2 1731.2h0M1204.2 1715.2h0M1238.7 1681.8h0M1223.3 1707.8h0M1215.6 1601.8h0M1248.2 1571.3h0M1264.2 1566.6h0M1241.7 1626.9h0M1281.1 1712.7h0M1186.3 1667.7h0M1279.0 1608.0h0M1344.1 1675.5h0M1322.5 1622.3h0M1312.1 1659.1h0M1304.5 1717.8h0M1270.5 1614.8h0M1289.9 1598.9h0M1287.5 1758.4h0M1271.5 1608.3h0M1278.2 1662.3h0M1247.8 1703.8h0M1373.5 1614.6h0M1249.4 1629.7h0M1374.7 1679.2h0M1375.2 1680.4h0M1304.0 1563.0h0M1339.7 1633.3h0M1241.5 1671.8h0M1309.0 1632.2h0M1239.6 1653.4h0M1335.7 1660.1h0M1371.7 1692.9h0M1249.0 1605.0h0M1300.6 1641.3h0M1332.3 1579.6h0M1260.1 1649.8h0M1310.6 1575.5h0M1326.6 1725.7h0M1285.7 1765.8h0M1300.4 1566.6h0M1193.8 1664.0h0M1234.9 1749.0h0M1273.3 1740.2h0M1252.4 1667.7h0M1275.1 1747.0h0M1288.0 1624.3h0M1278.5 1736.8h0M1295.3 1699.7h0M1353.3 1693.2h0M1247.6 1597.5h0M1320.7 1704.6h0M1247.7 1629.6h0M1321.3 1758.1h0M1301.6 1697.0h0M1237.0 1646.6h0M1288.4 1761.7h0M1209.5 1689.9h0M1216.5 1610.2h0M1335.3 1719.7h0M1190.4 1705.6h0M1276.4 1734.3h0M1303.5 1738.7h0M1230.2 1700.2h0M1282.1 1561.6h0M1281.2 1679.7h0M1346.6 1602.7h0M1293.1 1693.2h0M1238.9 1672.1h0M1328.1 1586.0h0M1273.8 1651.2h0M1364.3 1636.5h0M1270.3 1586.1h0M1253.4 1728.0h0M1263.8 1565.2h0M1179.7 1672.1h0M1274.5 1617.9h0M1242.0 1702.3h0M1212.0 1627.6h0M1261.7 1653.5h0M1310.1 1662.3h0M1289.1 1719.0h0M1361.6 1653.0h0M1242.5 1631.0h0M1301.0 1747.2h0M1341.2 1624.1h0M1244.6 1652.9h0M1245.9 1595.1h0M1245.8 1670.2h0M1224.8 1687.0h0M1345.1 1707.5h0M1306.1 1762.8h0M1199.2 1662.7h0M1296.1 1678.1h0M1230.5 1742.0h0M1316.4 1678.2h0M1341.0 1585.5h0M1297.0 1675.2h0M1295.2 1572.5h0M1321.4 1751.8h0M1341.7 1651.7h0M1288.1 1593.8h0M1364.3 1684.6h0M1234.0 1581.7h0M1240.5 1675.2h0M1228.8 1609.5h0M1263.4 1638.1h0M1275.2 1711.0h0M1235.3 1620.7h0M1210.8 1704.8h0M1309.3 1596.3h0M1323.9 1640.8h0M1316.7 1709.9h0M1306.4 1687.3h0M1206.3 1662.2h0M1294.7 1612.4h0M1241.6 1586.6h0M1244.7 1626.0h0M1240.2 1716.7h0M1218.3 1692.0h0M1216.8 1737.3h0M1326.9 1589.5h0M1288.3 1581.6h0M1273.6 1653.7h0M1255.2 1642.9h0M1264.0 1617.5h0M1243.2 1729.9h0M1215.6 1622.1h0M1218.6 1672.0h0M1309.7 1712.7h0M1260.6 1694.4h0M1272.0 1713.0h0M1260.7 1581.9h0M1331.0 1644.0h0M1364.8 1704.3h0M1374.4 1654.8h0M1280.9 1722.4h0M1374.4 1622.6h0M1369.7 1640.9h0M1261.5 1755.4h0M1343.5 1597.2h0M1357.4 1606.6h0M1288.7 1725.2h0M1326.1 1681.5h0M1212.9 1698.3h0M1338.4 1660.7h0M1353.2 1654.7h0M1205.6 1599.2h0M1321.4 1733.2h0M1295.3 1654.7h0M1328.4 1577.9h0M1364.1 1647.0h0M1252.0 1628.4h0M1237.7 1632.7h0M1293.2 1662.3h0M1305.7 1728.9h0M1312.7 1758.1h0M1232.0 1746.0h0M1202.3 1656.1h0M1328.7 1574.8h0M1187.0 1674.5h0M1185.3 1671.6h0M1258.9 1695.9h0M1262.4 1694.7h0M1359.2 1633.9h0M1302.0 1752.1h0M1265.1 1591.5h0M1320.5 1745.5h0M1296.4 1608.6h0M1360.8 1663.4h0M1250.0 1728.8h0M1188.8 1651.5h0M1350.0 1621.9h0M1197.0 1619.7h0M1199.3 1606.5h0M1239.4 1654.2h0M1362.4 1635.9h0M1288.3 1700.3h0M1269.3 1751.9h0M1200.9 1638.3h0M1367.8 1664.1h0M1214.1 1637.5h0M1352.4 1630.4h0M1314.3 1606.7h0M1333.1 1675.9h0M1187.7 1667.6h0M1285.6 1580.8h0M1334.5 1575.0h0M1220.7 1669.1h0M1323.8 1643.5h0M1260.8 1662.5h0M1270.0 1630.3h0M1287.7 1683.3h0M1262.7 1730.5h0M1193.9 1622.5h0M1339.0 1674.6h0M1343.4 1717.3h0M1350.1 1722.5h0M1297.8 1592.7h0M1227.4 1677.4h0M1289.2 1754.5h0M1339.0 1580.6h0M1349.2 1701.6h0M1282.3 1618.0h0M1206.6 1718.3h0M1250.6 1690.7h0M1311.4 1693.5h0M1309.7 1577.9h0M1340.0 1678.5h0M1246.8 1637.9h0M1295.0 1579.0h0M1288.3 1748.7h0M1270.5 1709.5h0M1353.6 1698.3h0M1358.2 1671.9h0M1330.7 1725.9h0M1320.0 1728.8h0M1338.4 1601.7h0M1365.5 1618.9h0M1232.3 1648.5h0M1291.0 1580.7h0M1319.3 1712.5h0M1300.0 1708.4h0M1347.6 1650.0h0M1227.7 1615.5h0M1330.8 1746.6h0M1342.8 1609.4h0M1263.5 1736.6h0M1277.4 1602.7h0M1262.4 1573.7h0M1346.7 1608.4h0M1249.9 1678.8h0M1212.3 1601.7h0M1309.0 1652.5h0M1254.2 1729.5h0M1213.8 1635.7h0M1331.0 1597.5h0M1283.9 1634.8h0M1263.7 1703.1h0M1332.7 1692.2h0M1266.7 1722.1h0M1300.6 1672.2h0M1260.0 1641.5h0M1241.9 1698.4h0M1262.6 1581.6h0M1194.3 1680.1h0M1231.4 1666.4h0M1185.3 1675.6h0M1268.9 1689.2h0M1273.1 1694.0h0M1376.0 1654.3h0M1332.5 1587.1h0M1334.9 1660.0h0M1317.2 1617.3h0M1295.8 1633.3h0M1318.9 1623.5h0M1365.3 1612.2h0M1343.6 1602.6h0M1312.6 1726.9h0M1300.7 1667.3h0M1325.2 1612.9h0M1354.2 1689.5h0M1318.3 1732.2h0M1223.0 1613.2h0M1280.4 1614.3h0M1330.7 1754.0h0M1251.3 1761.3h0M1263.1 1629.1h0M1338.6 1703.1h0M1334.7 1596.8h0M1372.5 1666.9h0M1190.2 1622.4h0M1217.1 1658.7h0M1203.8 1714.8h0M1378.9 1674.6h0M1320.9 1657.5h0M1299.0 1738.4h0M1310.1 1693.8h0M1218.2 1592.1h0M1339.6 1665.6h0M1294.9 1604.0h0M1327.7 1622.2h0M1217.0 1676.1h0M1308.4 1681.4h0M1332.9 1662.0h0M1370.1 1707.5h0M1260.0 1610.9h0M1259.9 1759.2h0M1285.5 1656.4h0M1271.1 1571.4h0M1276.8 1696.0h0M1196.7 1715.9h0M1222.6 1740.9h0M1371.2 1667.4h0M1204.8 1622.9h0M1217.1 1687.6h0M1358.0 1677.5h0M1302.7 1694.7h0M1215.3 1595.8h0M1273.0 1680.9h0M1233.3 1704.5h0M1243.9 1680.4h0M1293.5 1612.4h0M1230.8 1686.0h0M1364.4 1692.9h0M1246.3 1651.7h0M1345.3 1612.9h0M1192.4 1624.4h0M1343.1 1584.7h0M1330.2 1713.6h0M1245.9 1575.4h0M1223.7 1710.0h0M1379.8 1656.6h0M1189.8 1649.5h0M1290.0 1724.7h0M1304.6 1621.3h0M1289.0 1614.7h0M1189.7 1626.5h0M1252.2 1595.2h0M1251.9 1702.6h0M1243.6 1705.3h0M1239.1 1744.3h0M1259.8 1743.6h0M1346.2 1598.0h0M1316.5 1641.3h0M1211.5 1667.3h0M1289.8 1642.6h0M1340.1 1684.4h0M1241.7 1652.6h0M1265.0 1753.1h0M1216.5 1721.2h0M1225.5 1612.6h0M1350.2 1687.7h0M1257.2 1721.3h0M1363.0 1686.6h0M1326.9 1666.8h0M1246.5 1691.3h0M1216.2 1614.2h0M1341.6 1712.3h0M1220.2 1582.7h0M1247.4 1735.6h0M1236.8 1634.9h0M1210.4 1727.9h0M1371.3 1700.6h0M1278.7 1560.9h0M1229.1 1741.1h0M1316.9 1588.8h0M1355.1 1662.1h0M1337.3 1720.0h0M1267.7 1643.7h0M1277.5 1704.6h0M1323.0 1631.4h0M1262.7 1701.1h0M1312.4 1650.2h0M1325.1 1731.7h0M1354.8 1680.2h0M1327.7 1668.0h0M1326.5 1617.5h0M1246.1 1608.4h0M1319.4 1593.1h0M1337.6 1747.4h0M1196.2 1617.4h0M1277.8 1719.5h0M1326.7 1724.9h0M1190.4 1653.9h0M1237.2 1636.0h0M1345.3 1638.1h0M1359.0 1680.4h0M1256.6 1639.3h0M1224.8 1681.0h0M1338.7 1691.7h0M1358.4 1633.1h0M1331.8 1751.8h0M1297.0 1756.6h0M1351.1 1648.7h0M1204.0 1676.5h0M1269.2 1724.6h0M1352.1 1611.2h0M1258.0 1739.2h0M1203.4 1634.0h0M1220.4 1611.6h0M1244.9 1744.4h0M1307.2 1751.0h0M1275.5 1645.3h0M1291.3 1660.1h0M1364.2 1643.9h0M1347.0 1712.4h0M1314.2 1689.1h0M1232.3 1749.1h0M1268.1 1613.4h0M1368.5 1703.7h0M1343.0 1600.7h0M1208.8 1713.9h0M1291.5 1636.1h0M1238.5 1756.1h0M1318.3 1755.0h0M1324.4 1667.8h0M1226.9 1632.8h0M1260.8 1575.9h0M1272.9 1726.5h0M1206.2 1688.9h0M1217.2 1610.0h0M1238.9 1681.3h0M1296.3 1569.3h0M1241.6 1722.4h0M1266.3 1595.0h0M1372.6 1709.7h0M1310.4 1698.6h0M1374.7 1675.1h0M1214.5 1639.7h0M1375.3 1626.9h0M1288.6 1588.8h0M1256.5 1705.7h0M1219.2 1601.3h0M1285.7 1749.6h0M1249.3 1624.2h0M1321.4 1664.7h0M1254.9 1666.3h0M1225.0 1742.3h0M1275.1 1660.1h0M1277.2 1677.7h0M1261.3 1592.0h0M1239.6 1660.4h0M1238.6 1717.8h0M1213.8 1639.5h0M1353.0 1737.7h0M1285.2 1622.3h0M1339.8 1618.0h0M1337.5 1747.0h0M1324.8 1625.4h0M1316.0 1662.7h0M1339.7 1692.4h0M1306.7 1598.1h0M1245.5 1611.3h0M1275.7 1691.3h0M1257.8 1698.0h0M1345.4 1722.6h0M1267.7 1622.8h0M1288.0 1611.8h0M1285.1 1606.4h0M1314.6 1638.4h0M1233.1 1617.1h0M1340.0 1712.5h0M1223.0 1680.2h0M1223.5 1643.8h0M1256.6 1759.5h0M1249.4 1574.6h0M1250.8 1645.7h0M1300.2 1668.5h0M1357.3 1685.7h0M1365.7 1613.0h0M1249.4 1674.2h0M1241.4 1625.1h0M1348.3 1734.7h0M1212.5 1712.5h0M1281.5 1712.2h0M1331.9 1631.5h0M1371.6 1649.8h0M1234.2 1607.9h0M1343.3 1703.6h0M1325.3 1699.6h0M1290.5 1564.3h0M1312.8 1583.0h0M1351.5 1658.5h0M1355.5 1727.2h0M1230.6 1634.2h0M1313.4 1688.7h0M1353.7 1696.3h0M1302.5 1637.0h0M1285.4 1718.1h0M1261.1 1742.9h0M1281.6 1753.2h0M1358.2 1676.5h0M1268.8 1606.3h0M1333.8 1608.7h0M1330.8 1727.8h0M1297.6 1640.6h0M1311.2 1635.4h0M1230.1 1693.8h0M1346.1 1633.5h0M1332.9 1676.9h0M1233.9 1656.5h0M1351.3 1680.9h0M1339.5 1613.9h0M1322.0 1690.7h0M1289.0 1759.8h0M1254.7 1675.4h0M1311.8 1627.3h0M1262.2 1669.3h0M1191.8 1631.9h0M1247.6 1579.9h0M1361.5 1676.0h0M1350.6 1659.4h0M1222.6 1675.6h0M1258.4 1669.5h0M1226.4 1632.8h0M1219.8 1734.4h0M1334.7 1619.8h0M1353.7 1635.2h0M1283.8 1638.7h0M1333.1 1620.3h0M1383.6 1657.9h0M1220.4 1738.4h0M1357.0 1648.5h0M1254.3 1594.0h0M1291.9 1704.9h0M1284.1 1628.3h0M1246.9 1748.9h0M1314.0 1718.8h0M1271.7 1686.5h0M1258.7 1629.8h0M1376.2 1623.1h0M1286.5 1604.7h0M1263.7 1604.3h0M1365.8 1701.5h0M1212.0 1599.3h0M1233.4 1743.7h0M1244.6 1702.6h0M1219.8 1708.2h0M1216.8 1690.8h0M1341.1 1667.5h0M1273.0 1635.5h0M1289.8 1663.6h0M1250.4 1686.6h0M1303.0 1596.2h0M1361.0 1648.1h0M1268.9 1560.7h0M1204.1 1684.9h0M1253.9 1691.3h0M1338.2 1634.1h0M1310.1 1586.5h0M1318.4 1708.3h0M1319.9 1587.7h0M1212.6 1680.7h0M1208.5 1689.3h0M1309.1 1646.6h0M1195.1 1645.1h0M1198.0 1631.3h0M1327.6 1727.3h0M1367.5 1673.3h0M1361.7 1620.2h0M1362.8 1599.6h0M1330.3 1724.4h0M1350.7 1650.5h0M1250.1 1712.4h0M1316.3 1662.4h0M1199.0 1637.4h0M1319.9 1743.5h0M1309.4 1720.8h0M1261.1 1572.3h0M1198.1 1648.3h0M1250.1 1664.0h0M1330.8 1616.1h0M1251.1 1711.0h0M1321.4 1601.3h0M1365.8 1671.4h0M1322.6 1702.5h0M1202.5 1597.9h0M1201.7 1659.0h0M1319.3 1636.6h0M1303.3 1698.1h0M1292.9 1565.5h0M1286.3 1719.3h0M1237.1 1588.9h0M1261.2 1601.9h0M1378.5 1676.4h0M1272.6 1673.7h0M1373.4 1636.4h0M1248.6 1737.4h0M1339.1 1620.9h0M1304.6 1570.3h0M1326.3 1702.6h0M1290.0 1674.7h0M1296.7 1743.1h0M1306.8 1572.5h0M1271.5 1716.3h0M1297.0 1746.9h0M1259.8 1573.4h0M1282.5 1765.2h0M1294.6 1591.7h0M1268.3 1731.5h0M1259.6 1645.9h0M1289.9 1625.7h0M1300.7 1619.5h0M1232.0 1587.9h0M1324.1 1747.1h0M1303.9 1757.5h0M1188.9 1656.9h0M1269.6 1692.1h0M1286.8 1705.0h0M1278.4 1646.5h0M1293.6 1725.6h0M1362.1 1633.9h0M1266.1 1762.0h0M1303.9 1656.2h0M1311.4 1693.7h0M1376.6 1701.7h0M1284.5 1644.8h0M1254.6 1647.9h0M1271.4 1687.4h0M1194.6 1717.8h0M1326.8 1606.4h0M1384.6 1658.7h0M1264.0 1632.5h0M1297.9 1688.8h0M1285.8 1626.0h0M1268.0 1686.9h0M1249.0 1685.7h0" stroke="#3a2a8a" stroke-opacity="0.7" stroke-width="1.05" stroke-linecap="round" fill="none"/>
<use href="#d11_0" stroke="#9d92ee" stroke-opacity="0.6" stroke-width="4.8" stroke-linecap="round" fill="none" filter="url(#pb1)"/>
<use href="#d11_1" stroke="#9d92ee" stroke-opacity="0.6" stroke-width="5.6" stroke-linecap="round" fill="none" filter="url(#pb1)"/>
<use href="#d11_2" stroke="#9d92ee" stroke-opacity="0.6" stroke-width="6.8" stroke-linecap="round" fill="none" filter="url(#pb1)"/>
<use href="#d11_3" stroke="#9d92ee" stroke-opacity="0.6" stroke-width="8.4" stroke-linecap="round" fill="none" filter="url(#pb1)"/>
<use href="#d11_4" stroke="#9d92ee" stroke-opacity="0.6" stroke-width="10.4" stroke-linecap="round" fill="none" filter="url(#pb1)"/>
<use href="#d11_0" stroke="#3118b8" stroke-width="1.2" stroke-linecap="round" fill="none"/>
<use href="#d11_1" stroke="#3118b8" stroke-width="2.0" stroke-linecap="round" fill="none"/>
<use href="#d11_2" stroke="#3118b8" stroke-width="3.2" stroke-linecap="round" fill="none"/>
<use href="#d11_3" stroke="#3118b8" stroke-width="4.8" stroke-linecap="round" fill="none"/>
<use href="#d11_4" stroke="#3118b8" stroke-width="6.8" stroke-linecap="round" fill="none"/>
<circle cx="1282.2" cy="1663" r="105.5" fill="none" stroke="#3c3a55" stroke-width="1.1"/>
</g></g>
<g clip-path="url(#pc12)"><g filter="url(#pbs)">
<rect x="890.9" y="1806.2" width="252.6" height="250.3" fill="#c1c3c0"/>
<circle cx="1258" cy="1940" r="121" fill="#c8c5d7" stroke="#7a788c" stroke-width="2"/>
<circle cx="1258" cy="1940" r="117" fill="none" stroke="#6e6c82" stroke-opacity="0.6" stroke-width="3" stroke-dasharray="2 1.5"/>
<circle cx="1008" cy="1691" r="121" fill="#c8c5d7" stroke="#7a788c" stroke-width="2"/>
<circle cx="1008" cy="1691" r="117" fill="none" stroke="#6e6c82" stroke-opacity="0.6" stroke-width="3" stroke-dasharray="2 1.5"/>
<circle cx="1016.5" cy="1935.1" r="121.2" fill="#c8c5d7" stroke="#8c8b96" stroke-width="1.6"/>
<circle cx="1016.5" cy="1935.1" r="117.7" fill="none" stroke="#a9a8b3" stroke-width="1"/>
<path d="M1036.2,1823.5A113.35,113.35 0 0 1 1128.1,1954.8" fill="none" stroke="#7a7890" stroke-opacity="0.3" stroke-width="14.1" stroke-linecap="round" filter="url(#pb4)"/>
<path d="M1028.2,1829.2A111.21000000000001,111.21000000000001 0 0 1 1118.4,1958.0" fill="none" stroke="#7c7a90" stroke-opacity="0.45" stroke-width="9.4" filter="url(#pb1)"/>
<path d="M1027.6,1832.8A107.5,107.5 0 0 1 1114.8,1957.4" fill="none" stroke="#5e5c72" stroke-opacity="0.5" stroke-width="0.9" stroke-dasharray="2 1.5"/>
<path d="M1028.1,1829.9A110.44375,110.44375 0 0 1 1117.7,1957.9" fill="none" stroke="#5e5c72" stroke-opacity="0.5" stroke-width="0.9" stroke-dasharray="2 1.5"/>
<path d="M1028.6,1827.0A113.3875,113.3875 0 0 1 1120.6,1958.4" fill="none" stroke="#5e5c72" stroke-opacity="0.5" stroke-width="0.9" stroke-dasharray="2 1.5"/>
<path d="M1029.1,1824.1A116.33125,116.33125 0 0 1 1123.5,1958.9" fill="none" stroke="#5e5c72" stroke-opacity="0.5" stroke-width="0.9" stroke-dasharray="2 1.5"/>
<rect x="-8.9" y="-5" width="17.7" height="10" fill="#9795a6" fill-opacity="0.45" transform="translate(1130.8,1935.1) rotate(0)"/>
<rect x="-8.9" y="-5" width="17.7" height="10" fill="#9795a6" fill-opacity="0.45" transform="translate(1016.5,2049.4) rotate(90)"/>
<rect x="-8.9" y="-5" width="17.7" height="10" fill="#9795a6" fill-opacity="0.45" transform="translate(902.1,1935.1) rotate(180)"/>
<rect x="-8.9" y="-5" width="17.7" height="10" fill="#9795a6" fill-opacity="0.45" transform="translate(1016.5,1820.8) rotate(270)"/>
<path d="M1010.0 2049.7h0M969.6 1828.4h0M1059.7 2036.2h0M1082.7 2022.9h0M1005.6 1826.8h0M908.8 1913.6h0M985.5 2042.8h0M1076.2 1837.9h0M1126.5 1945.1h0M1087.1 2028.2h0M1059.1 1827.1h0M1069.8 1832.7h0M1126.7 1898.8h0M1011.6 2051.6h0M901.3 1944.7h0M913.4 1891.1h0M942.8 2019.6h0M974.1 2035.2h0M1065.7 1830.0h0M1130.9 1924.8h0M907.6 1896.5h0M1092.5 2021.1h0M914.0 1973.2h0M1049.7 2043.2h0M1014.2 2047.5h0M928.4 1866.3h0M1093.3 2017.7h0M1026.5 2044.7h0M1054.6 2039.8h0M1119.0 1986.0h0M1123.5 1903.0h0M993.7 1819.9h0M1121.5 1964.3h0M1056.7 1825.8h0M946.4 1851.4h0M916.5 1995.5h0M1104.2 1859.0h0M1050.4 2046.7h0M935.2 2016.7h0M1093.3 2024.5h0" stroke="#8f84c8" stroke-opacity="0.42" stroke-width="4" stroke-linecap="round" fill="none"/>
<circle cx="1008.9" cy="1938.7" r="105.5" fill="#c1c0ce"/>
<path d="M995.2 1859.6h0M973.7 1906.7h0M942.7 1896.0h0M1000.2 1877.3h0M991.9 1996.7h0M992.0 1900.3h0M1014.2 1972.9h0M992.0 1917.4h0M934.6 1918.0h0M990.0 1946.2h0M1059.5 1972.0h0M1014.5 1938.6h0M997.4 1972.9h0M965.0 1907.9h0M980.6 1944.1h0M1040.6 1884.7h0M1004.9 1945.4h0M1080.4 1925.0h0M935.6 1950.7h0M984.5 2019.7h0M990.5 1938.5h0M1001.7 1840.3h0M987.7 1890.6h0M1003.8 2033.8h0M960.1 2001.2h0M997.0 1988.4h0M981.3 1976.3h0M992.7 1950.8h0M1010.5 1908.3h0M1088.9 1940.8h0M1042.2 2023.4h0M941.4 1914.6h0M994.3 1996.5h0M1053.4 1990.4h0M1082.2 2000.8h0M1027.5 2030.7h0M965.4 1975.5h0M1022.0 1952.3h0M950.9 1960.9h0M1105.5 1932.5h0M987.8 1934.0h0M1021.2 1903.6h0M1054.8 1902.1h0M1062.7 1992.9h0M1009.0 1946.0h0M1065.6 2016.5h0M959.4 1990.3h0M1028.3 1881.2h0M999.5 1891.8h0M1086.4 1905.3h0M1074.3 1903.0h0M947.4 1908.2h0M1052.4 1869.8h0M1082.2 2003.6h0M971.5 1930.6h0M917.8 1919.2h0M1063.9 1925.3h0M1057.1 1968.0h0M1032.1 1943.2h0M1077.8 1993.7h0M1067.3 1873.6h0M1046.4 1842.4h0M960.4 1891.9h0M988.9 1846.5h0M1013.1 1883.1h0M996.6 1970.6h0M907.4 1957.3h0M1020.5 1886.5h0M1078.3 1940.3h0M1007.9 1956.4h0M1063.9 1915.8h0M1039.1 1897.1h0M926.3 1986.7h0M1016.6 1835.9h0M1003.7 2010.4h0M1066.2 1898.2h0M1035.0 2009.8h0M946.3 1948.2h0M968.4 1918.7h0M1017.2 1921.5h0M1043.8 1965.0h0M981.0 2013.0h0M911.6 1940.6h0M1046.7 1874.3h0M1007.5 1890.9h0M933.9 1974.9h0M1109.2 1952.7h0M1068.5 2014.0h0M1062.8 2016.6h0M985.0 1938.6h0M1004.3 2038.1h0M952.8 1893.4h0M958.8 1929.0h0M999.3 1941.9h0M960.6 2014.8h0M1055.0 1953.9h0M931.3 1976.9h0M1003.0 1840.0h0M1037.0 1921.9h0M1049.7 1847.6h0M969.5 1853.1h0M965.3 1862.5h0M1005.3 2018.1h0M1003.3 1901.3h0M1083.8 1966.4h0M945.1 1885.9h0M1020.5 1865.7h0M937.9 2004.5h0M915.6 1939.1h0M941.9 1979.0h0M915.1 1972.9h0M955.8 2024.5h0M1081.2 1894.5h0M948.3 1999.0h0M980.3 1942.6h0M1035.0 1877.5h0M1100.1 1930.7h0M950.4 1975.6h0M1008.8 1861.0h0M1015.2 1967.2h0M991.1 1973.9h0M1064.4 1927.5h0M1052.0 1919.6h0M1024.9 1992.5h0M1095.4 1992.9h0M1032.9 1963.8h0M988.7 1956.2h0M1034.7 1978.8h0M1004.8 1926.4h0M1011.6 1961.5h0M1066.7 1886.7h0M987.4 1857.5h0M1034.2 1855.9h0M1062.6 2017.7h0M991.5 1922.1h0M935.1 1928.9h0M1050.8 2020.0h0M931.1 1977.4h0M1011.1 2005.8h0M960.7 1912.6h0M1073.0 1896.1h0M997.2 1885.2h0M990.3 1912.4h0M1034.8 1906.4h0M1006.1 2040.2h0M1026.5 2030.0h0M1054.4 1973.2h0M1063.4 1980.6h0M931.7 1899.1h0M992.2 1873.8h0M984.4 1982.2h0M1071.2 1939.5h0M1091.7 1990.0h0M1018.6 1907.3h0M920.4 1969.0h0M1051.9 1990.2h0M1005.3 1938.2h0M1038.6 1980.2h0M1106.6 1950.6h0M1009.5 1876.5h0M1078.8 1994.3h0M926.8 1904.1h0M1085.8 1910.1h0M933.9 1884.7h0M918.3 1943.4h0M1040.5 1868.7h0M950.8 1995.7h0M1012.5 1924.4h0M954.5 1964.7h0M956.8 1919.8h0M1041.9 1882.1h0M934.5 1910.1h0M923.7 1972.1h0M1009.1 1863.0h0M1005.4 1850.9h0M917.7 1903.9h0M1038.0 2010.0h0M962.4 1959.0h0M1067.8 1895.5h0M996.4 1956.0h0M922.9 1961.4h0M1060.0 2019.1h0M926.5 1976.7h0M1081.9 1966.0h0M1030.3 1876.7h0M927.3 1904.0h0M1074.1 1955.0h0M927.3 1967.3h0M941.8 1881.8h0M1055.1 1892.2h0M1045.2 1929.1h0M1038.7 1932.9h0M933.9 1964.2h0M909.2 1931.0h0M1077.5 1965.8h0M949.7 1867.8h0M1047.1 1971.9h0M1070.4 1912.2h0M914.7 1959.5h0M1018.2 1921.5h0M1003.3 1892.5h0M1080.1 1922.2h0M1019.7 1900.5h0M1096.1 1948.2h0M987.3 2013.4h0M1092.6 1918.0h0M924.6 1941.9h0M1009.6 2019.0h0M1061.5 1985.9h0M1089.3 1973.9h0M1041.1 2006.5h0M1081.6 1965.7h0M996.8 1926.6h0M1075.9 1882.1h0M1094.0 1936.4h0M982.0 1910.4h0M1046.2 2012.3h0M1011.2 1977.3h0M1026.2 1865.9h0M930.5 1900.7h0M1003.8 1910.4h0M1044.7 2003.5h0M1011.1 2020.0h0M954.1 1956.0h0M1079.1 1994.4h0M1015.3 2007.2h0M1042.9 1861.1h0M998.9 1886.5h0M1023.1 2007.7h0M956.2 1925.9h0M934.4 1883.3h0M1009.4 1936.4h0M939.3 1975.5h0M961.6 1957.1h0M997.5 2024.0h0M1036.7 1912.2h0M1071.0 1968.2h0M1084.3 2000.6h0M963.1 1896.2h0M1076.8 1888.7h0M969.6 1920.4h0M914.0 1958.4h0M923.4 1956.9h0M1093.4 1915.9h0M1004.0 1878.6h0M1055.1 1899.3h0M1065.5 1868.3h0M929.1 1884.2h0M1065.3 2022.2h0M1078.8 1974.0h0M978.5 1865.8h0M1029.9 1887.6h0M1030.6 2001.9h0M968.8 1917.3h0M1070.2 1957.3h0M1065.3 1929.6h0M979.9 1873.8h0M1069.8 1967.9h0M1029.0 2017.1h0M982.1 1914.5h0M1093.7 1944.4h0M1108.6 1951.8h0M988.9 1975.8h0M1004.6 1846.5h0M928.3 1976.8h0M1074.9 2012.2h0M1105.2 1970.1h0M1009.1 1898.2h0M966.8 1858.4h0M1043.4 1900.4h0M1029.0 2010.1h0M1040.9 1936.5h0M1013.5 1962.7h0M1057.3 1900.4h0M1060.2 1859.7h0M1090.8 1944.7h0M1041.4 2021.4h0M1107.8 1920.0h0M1005.8 1912.3h0M1049.2 1969.7h0M918.5 1972.9h0M956.7 1918.0h0M985.6 1950.8h0M1063.8 1876.0h0M1037.3 1916.3h0M1018.0 1971.0h0M1038.0 1990.8h0M991.4 1912.8h0M1033.0 1999.4h0M1061.7 1990.8h0M1092.1 1919.7h0M946.6 1972.1h0M965.2 1987.2h0M1037.8 1998.6h0M988.4 1886.3h0M1074.1 1968.4h0M1030.2 1905.6h0M1038.5 1884.9h0M951.6 1881.1h0M954.8 1909.1h0M942.7 1931.8h0M1087.4 2001.5h0M1048.1 1911.4h0M1047.2 1846.8h0M1085.1 1996.9h0M1071.1 2000.4h0M933.3 1996.6h0M937.2 1929.6h0M966.0 1919.7h0M917.8 1969.0h0M963.1 1989.6h0M999.2 1982.8h0M1101.3 1918.0h0M994.2 2000.3h0M1048.2 1893.4h0M1030.7 1987.0h0M1058.6 1968.7h0M1013.4 1978.1h0M1084.2 1902.7h0M994.8 1989.4h0M1086.7 1953.4h0M981.3 1924.9h0M967.0 1995.4h0M1075.0 1946.9h0M1032.2 1986.0h0M1054.6 1960.2h0M1101.8 1948.2h0M1040.3 1997.4h0M1011.7 1892.2h0M1107.9 1916.9h0M951.4 1923.3h0M1068.4 1971.4h0M957.5 1895.4h0M1023.1 1875.0h0M990.1 2005.2h0M920.4 1896.9h0M1052.0 1909.2h0M951.8 1895.5h0M1053.6 1883.9h0M926.2 1970.0h0M1017.6 1876.8h0M933.2 1882.0h0M913.8 1921.9h0M981.8 1999.5h0M1039.6 1982.7h0M914.9 1906.5h0M1016.6 1967.6h0M1032.1 1875.5h0M1014.6 1843.2h0M958.7 1963.4h0M932.3 2004.0h0M1088.1 1964.6h0M937.3 1935.8h0M1104.5 1914.6h0M964.7 2016.8h0M1092.2 1889.8h0M983.5 1951.7h0M982.9 2010.9h0M1019.9 1889.2h0M964.2 1923.1h0M994.7 1942.2h0M1110.4 1941.1h0M1036.4 1918.9h0M910.1 1935.0h0M992.2 1992.3h0M931.4 1895.8h0M983.9 1874.3h0M983.9 1959.6h0M1091.4 1887.9h0M1023.4 1868.1h0M912.5 1925.6h0M1039.9 1962.5h0M962.9 2009.8h0M1081.3 1958.4h0M991.4 2037.8h0M949.8 1881.4h0M1024.5 1998.4h0M973.0 2007.4h0M1021.7 1964.3h0M1025.3 1926.5h0M1049.6 1916.1h0M1087.2 1916.8h0M1006.6 2009.5h0M987.2 1918.0h0M971.8 1860.9h0M1089.2 1995.9h0M985.0 1859.2h0M1008.5 2039.0h0M1107.4 1954.7h0M971.5 2008.7h0M1043.0 2004.9h0M971.6 1990.8h0M950.6 1978.1h0M1032.5 1980.8h0M1079.5 1934.9h0M1065.0 2015.7h0M1058.8 2004.2h0M1067.9 1937.1h0M1057.1 1974.8h0M942.7 1898.4h0M1078.8 1914.7h0M960.2 1994.5h0M967.7 1915.6h0M919.7 1936.8h0M1008.4 2003.3h0M1103.8 1933.7h0M989.6 1862.0h0M1041.2 1988.0h0M990.6 1922.2h0M972.7 1846.5h0M1062.7 1873.1h0M949.1 1967.5h0M1034.7 1892.6h0M924.0 1925.8h0M1086.7 1891.0h0M1013.1 1960.4h0M993.2 1869.8h0M961.3 1956.6h0M985.9 2019.7h0M1087.5 1970.0h0M966.2 1887.9h0M913.1 1932.0h0M965.4 1866.5h0M929.5 1963.7h0M1049.3 1980.6h0M1024.3 1842.6h0M1010.5 1855.3h0M1034.7 1990.6h0M935.0 1954.0h0M1067.1 1879.2h0M963.5 1984.9h0M1073.2 1880.4h0M944.3 1895.3h0M1094.6 1891.9h0M1030.5 1935.1h0M978.7 1928.6h0M1081.4 1929.1h0M1056.9 1952.4h0M911.4 1965.8h0M946.2 1969.8h0M1062.4 1948.7h0M1025.2 2014.1h0M1081.9 1936.7h0M972.2 2034.4h0M1051.9 1980.2h0M1043.5 2011.5h0M1040.5 1920.0h0M1068.4 1889.3h0M1030.2 1981.6h0M980.7 1865.3h0M965.2 1938.1h0M931.4 1938.9h0M954.2 1957.7h0M1036.9 1958.6h0M1021.5 1917.0h0M985.3 1892.8h0M1035.0 1915.3h0M1014.9 1922.3h0M1072.0 1897.5h0M1106.1 1946.2h0M1009.0 1962.0h0M1023.3 1922.4h0M991.3 1903.6h0M979.1 1842.7h0M947.3 1856.0h0M1072.5 1928.0h0M963.5 1922.6h0M945.0 1920.1h0M1063.6 1924.7h0M976.3 1841.1h0M1078.3 1916.6h0M1104.9 1968.9h0M1084.5 1999.9h0M1008.3 1970.3h0M946.2 1944.9h0M1068.6 2020.1h0M925.8 1936.9h0M1045.6 1937.8h0M952.9 2020.2h0M917.0 1968.0h0M1085.2 1901.6h0M955.8 2002.0h0M985.7 1943.7h0M997.7 2016.5h0M1087.0 1946.6h0M957.3 1944.7h0M989.3 1869.6h0M999.4 1987.5h0M990.4 2025.2h0M980.1 1910.9h0M957.1 1906.2h0M1109.0 1920.2h0M1099.5 1923.1h0M950.3 2009.7h0M1079.1 2009.7h0M961.7 1937.0h0M980.0 1916.7h0M1028.5 2012.5h0M1086.0 1983.4h0M997.8 2010.1h0M1070.5 2017.7h0M994.4 1876.6h0M1035.6 1888.4h0M1039.8 1954.6h0M997.9 1934.6h0M939.1 1922.9h0M1059.9 1889.3h0M1038.0 1977.0h0M1034.6 1894.1h0M1079.5 1999.4h0M1012.1 1938.5h0M992.5 2039.1h0M1081.0 1960.7h0M1043.5 2003.9h0M1056.7 2009.5h0M971.9 2007.0h0M1077.2 1916.6h0M1082.7 1926.8h0M1021.7 2025.5h0M1030.2 1891.3h0M1065.3 2010.3h0M981.3 2027.6h0M1069.5 1889.9h0M1054.2 2026.8h0M1004.8 1977.5h0M1087.4 1921.2h0M1015.7 1855.4h0M916.3 1953.3h0M1027.7 1878.2h0M1069.7 1884.5h0M908.1 1960.9h0M1050.8 1982.6h0M977.3 2011.2h0M950.9 1936.3h0M971.9 1858.6h0M968.1 1881.7h0M1079.1 1896.4h0M1058.5 1869.1h0M1039.0 1897.9h0M1012.0 1931.3h0M999.2 1930.8h0M1037.1 1984.9h0M1066.9 2006.3h0M1083.0 1980.9h0M971.5 1967.4h0M966.5 1873.1h0M1050.3 1892.5h0M1015.0 1955.0h0M959.5 1896.8h0M1072.3 1884.2h0M970.3 1891.3h0M1054.9 2011.2h0M950.2 1960.7h0M930.1 1924.2h0M1020.0 1975.5h0M1059.5 1969.5h0M1080.9 1883.4h0M1025.6 2025.7h0M1086.6 1954.6h0M1007.6 1986.2h0M939.4 1899.1h0M1049.4 2003.1h0M1007.8 1865.4h0M943.2 2009.5h0M1056.6 1888.4h0M991.4 1925.4h0M1020.0 1907.6h0M1085.4 1975.7h0M1029.0 1930.8h0M958.9 1910.7h0M950.7 1991.7h0M1003.6 1906.5h0M955.2 1965.1h0M1094.6 1903.7h0M981.2 1986.6h0M922.3 1966.8h0M940.6 2008.6h0M1003.6 1962.2h0M922.6 1892.2h0M1053.4 1846.8h0M1045.6 2015.7h0M1075.0 1947.2h0M1020.7 1997.3h0M1064.7 2021.8h0M1069.0 1947.5h0M995.5 1900.5h0M943.3 1936.5h0M977.6 1850.4h0M1007.8 1891.1h0M936.3 1893.5h0M1072.0 1901.5h0M1083.2 1968.5h0M958.0 1858.8h0M1016.6 1885.9h0M998.5 1839.5h0M1042.3 1875.6h0M1036.7 1948.2h0M943.6 1931.1h0M963.6 1869.3h0M957.0 1992.0h0M926.2 1907.0h0M967.2 1916.8h0M1027.9 1871.3h0M1095.2 1930.6h0M918.8 1931.9h0M986.3 2020.3h0M1085.7 1934.4h0M976.9 1955.0h0M993.9 1872.5h0M990.6 1897.5h0M1042.6 1930.8h0M990.9 1915.5h0M924.4 1909.2h0M974.2 1979.6h0M914.5 1963.9h0M1083.4 1917.1h0M1037.0 1872.5h0M1047.2 1868.4h0M1063.1 1999.8h0M1000.8 1987.3h0M968.1 1912.3h0M964.5 1988.7h0M1023.5 1937.5h0M1027.5 2008.3h0M1079.6 1984.3h0M1045.9 1924.9h0M955.7 2004.3h0M1003.2 1901.4h0M985.1 1983.6h0M971.4 1898.8h0M1057.0 1955.8h0M915.3 1921.2h0M1042.8 1952.9h0M910.4 1932.6h0M1071.0 1893.8h0M1021.4 1948.6h0M994.2 1894.0h0M976.7 1925.4h0M933.9 1992.1h0M1090.3 1960.9h0M958.4 1989.7h0M942.6 1991.8h0M1076.6 1888.8h0M1047.2 1846.5h0M1093.4 1918.4h0M1076.1 1947.4h0M949.9 2010.3h0M1065.7 1919.7h0M1052.7 1987.3h0M1107.3 1940.5h0M1001.6 1916.3h0M1001.2 1896.4h0M1007.4 1944.4h0M963.5 1892.2h0M969.7 1858.6h0M1036.5 1902.5h0M986.7 1947.6h0M1011.7 1915.7h0M942.9 1965.0h0M1013.6 2038.6h0M981.7 1859.6h0M1012.4 1911.4h0M1001.7 1878.8h0M963.1 2015.9h0M953.9 1973.2h0M979.0 1925.4h0M1094.1 1916.6h0M943.1 1918.2h0M1015.6 1856.3h0M1090.1 1916.2h0M1101.4 1917.8h0M943.2 1918.5h0M966.7 1935.2h0M963.2 1996.9h0M1080.9 1869.5h0M980.5 2027.9h0M1057.8 1876.9h0M953.3 1905.6h0M1051.1 1922.3h0M934.5 1962.9h0M996.3 2033.7h0M945.4 1979.2h0M911.0 1938.7h0M1052.7 1848.2h0M979.3 1920.8h0M1050.5 1998.0h0M1048.6 1850.4h0M907.3 1946.1h0M986.8 1906.3h0M996.5 2032.5h0M919.4 1948.8h0M1072.8 1931.9h0M1093.8 1922.6h0M1052.2 1858.6h0M1007.5 1891.1h0M1012.5 1906.3h0M939.5 1989.2h0M1085.6 1920.3h0M984.1 2020.5h0M1028.8 1839.2h0" stroke="#3a2a8a" stroke-opacity="0.7" stroke-width="1.05" stroke-linecap="round" fill="none"/>
<use href="#d12_0" stroke="#9d92ee" stroke-opacity="0.6" stroke-width="4.8" stroke-linecap="round" fill="none" filter="url(#pb1)"/>
<use href="#d12_1" stroke="#9d92ee" stroke-opacity="0.6" stroke-width="5.6" stroke-linecap="round" fill="none" filter="url(#pb1)"/>
<use href="#d12_2" stroke="#9d92ee" stroke-opacity="0.6" stroke-width="6.8" stroke-linecap="round" fill="none" filter="url(#pb1)"/>
<use href="#d12_3" stroke="#9d92ee" stroke-opacity="0.6" stroke-width="8.4" stroke-linecap="round" fill="none" filter="url(#pb1)"/>
<use href="#d12_4" stroke="#9d92ee" stroke-opacity="0.6" stroke-width="10.4" stroke-linecap="round" fill="none" filter="url(#pb1)"/>
<use href="#d12_0" stroke="#3118b8" stroke-width="1.2" stroke-linecap="round" fill="none"/>
<use href="#d12_1" stroke="#3118b8" stroke-width="2.0" stroke-linecap="round" fill="none"/>
<use href="#d12_2" stroke="#3118b8" stroke-width="3.2" stroke-linecap="round" fill="none"/>
<use href="#d12_3" stroke="#3118b8" stroke-width="4.8" stroke-linecap="round" fill="none"/>
<use href="#d12_4" stroke="#3118b8" stroke-width="6.8" stroke-linecap="round" fill="none"/>
<circle cx="1008.9" cy="1938.7" r="105.5" fill="none" stroke="#3c3a55" stroke-width="1.1"/>
</g></g>
<g clip-path="url(#pc13)"><g filter="url(#pbs)">
<rect x="1158.9" y="1806.2" width="252.3" height="250.8" fill="#c1c3c0"/>
<circle cx="1044" cy="1942" r="121" fill="#c8c5d7" stroke="#7a788c" stroke-width="2"/>
<circle cx="1044" cy="1942" r="117" fill="none" stroke="#6e6c82" stroke-opacity="0.6" stroke-width="3" stroke-dasharray="2 1.5"/>
<circle cx="1290" cy="1691" r="121" fill="#c8c5d7" stroke="#7a788c" stroke-width="2"/>
<circle cx="1290" cy="1691" r="117" fill="none" stroke="#6e6c82" stroke-opacity="0.6" stroke-width="3" stroke-dasharray="2 1.5"/>
<circle cx="1290.2" cy="1934.7" r="120" fill="#c8c5d7" stroke="#8c8b96" stroke-width="1.6"/>
<circle cx="1290.2" cy="1934.7" r="116.5" fill="none" stroke="#a9a8b3" stroke-width="1"/>
<path d="M1177.7,1924.9A112.9,112.9 0 0 1 1290.2,1821.8" fill="none" stroke="#7d5fd6" stroke-opacity="0.6" stroke-width="14.2" stroke-linecap="round" filter="url(#pb4)"/>
<path d="M1290.2,2047.6A112.9,112.9 0 0 1 1177.3,1934.7" fill="none" stroke="#7d5fd6" stroke-opacity="0.3" stroke-width="11.4" stroke-linecap="round" filter="url(#pb4)"/>
<rect x="-8.1" y="-5" width="16.2" height="10" fill="#9795a6" fill-opacity="0.45" transform="translate(1404.1,1934.7) rotate(0)"/>
<rect x="-8.1" y="-5" width="16.2" height="10" fill="#9795a6" fill-opacity="0.45" transform="translate(1290.2,2048.6) rotate(90)"/>
<rect x="-8.1" y="-5" width="16.2" height="10" fill="#9795a6" fill-opacity="0.45" transform="translate(1176.3,1934.7) rotate(180)"/>
<rect x="-8.1" y="-5" width="16.2" height="10" fill="#9795a6" fill-opacity="0.45" transform="translate(1290.2,1820.8) rotate(270)"/>
<path d="M1379.7 2005.8h0M1223.0 1839.6h0M1275.6 2043.9h0M1278.8 1821.4h0M1252.9 2042.5h0M1198.6 2004.2h0M1371.0 2009.1h0M1380.7 1870.2h0M1282.7 2049.7h0M1216.3 1854.3h0M1182.2 1898.6h0M1348.2 2032.6h0M1369.6 2012.1h0M1385.2 1989.5h0M1400.7 1919.3h0M1401.8 1928.0h0M1199.8 1862.3h0M1248.2 1834.3h0M1193.9 1874.4h0M1335.7 2033.4h0M1369.7 1855.0h0M1328.9 2039.8h0M1313.1 2047.6h0M1181.5 1934.4h0M1335.3 1835.9h0M1269.5 2040.8h0M1283.6 1826.1h0M1183.0 1917.2h0M1177.0 1948.7h0M1180.9 1910.4h0M1178.9 1945.3h0M1200.5 1873.4h0M1181.6 1952.2h0M1367.5 1847.6h0M1389.9 1978.9h0M1257.6 1826.4h0M1403.7 1948.4h0M1395.0 1896.2h0M1225.2 2027.2h0M1392.5 1893.6h0M1254.9 2038.4h0M1212.6 1853.7h0M1286.0 2046.0h0M1398.2 1958.7h0M1402.7 1922.6h0M1266.5 2048.7h0M1220.9 2020.3h0M1396.7 1958.6h0M1324.8 2039.0h0M1367.2 1855.8h0M1291.2 2048.1h0M1386.0 1879.7h0M1298.3 1823.8h0M1185.2 1892.3h0M1397.5 1894.0h0M1174.8 1928.8h0M1215.8 2017.5h0M1399.5 1906.6h0M1306.4 1825.2h0M1387.9 1877.1h0M1292.2 2051.1h0M1181.4 1956.2h0M1281.5 2043.1h0M1325.0 2043.4h0M1360.1 2019.9h0M1183.5 1971.3h0M1206.1 2013.2h0M1285.5 2045.8h0M1193.1 1984.2h0M1309.1 2042.2h0M1273.4 1826.9h0M1236.1 1839.1h0M1221.5 1843.9h0M1219.8 2027.3h0M1227.8 1840.6h0M1397.1 1966.7h0M1278.9 2046.3h0M1395.9 1887.6h0M1395.7 1978.0h0M1393.5 1889.4h0M1385.2 2000.8h0M1185.7 1986.9h0M1371.5 1852.8h0M1388.7 1889.3h0M1320.2 1828.3h0M1363.7 2018.3h0M1198.7 1877.5h0M1180.9 1970.5h0M1177.6 1938.0h0M1256.7 2046.5h0M1291.5 2048.8h0M1224.6 1849.2h0M1400.1 1932.3h0M1406.3 1926.5h0M1384.2 1867.3h0M1200.6 2001.7h0M1224.3 2030.7h0M1397.4 1954.6h0M1401.1 1903.5h0M1258.4 1822.4h0M1176.0 1917.6h0M1181.5 1975.5h0M1391.5 1982.1h0M1188.3 1881.1h0M1189.4 1988.1h0M1399.6 1912.3h0M1323.9 2037.4h0M1362.7 1849.1h0M1204.4 2007.5h0M1370.0 2010.1h0M1300.0 2044.4h0M1360.1 1849.7h0M1387.8 1997.0h0M1189.3 1896.0h0M1238.5 1833.0h0M1222.4 1841.9h0M1192.6 1985.2h0M1286.1 1821.2h0M1258.8 1829.8h0M1210.7 2016.6h0M1205.4 2009.9h0M1177.1 1954.1h0M1225.1 2026.3h0M1342.6 1837.2h0M1341.3 2036.2h0M1367.7 2020.6h0M1272.1 2049.4h0M1183.4 1911.7h0M1177.1 1919.7h0M1177.0 1944.6h0M1210.9 2020.2h0M1342.8 2037.1h0M1401.4 1951.4h0M1389.8 1978.9h0M1191.6 1873.4h0M1249.6 2038.6h0M1178.1 1951.7h0M1224.8 2024.4h0M1358.5 1844.8h0M1221.0 2026.9h0M1402.0 1934.0h0M1400.3 1945.3h0M1377.9 1869.4h0M1326.6 2043.9h0M1377.2 2010.8h0M1306.8 2044.8h0M1200.0 1873.9h0M1307.7 1824.2h0M1304.8 1820.8h0M1392.4 1988.2h0M1337.6 1835.4h0M1198.1 1875.2h0M1178.8 1907.2h0M1209.6 2013.5h0M1368.7 2019.8h0M1209.3 1852.4h0M1390.4 1990.4h0M1385.4 1995.5h0M1304.2 2049.9h0M1378.3 2004.1h0M1180.7 1955.0h0M1394.9 1979.7h0M1399.6 1915.3h0M1379.4 1868.8h0M1273.9 2045.5h0M1403.5 1915.2h0M1217.4 1854.7h0M1187.3 1967.2h0M1393.1 1977.0h0M1294.3 2043.4h0M1175.5 1926.3h0M1394.0 1882.4h0M1192.4 1983.7h0M1399.0 1909.4h0M1226.5 2030.9h0M1181.3 1893.1h0M1255.0 1823.6h0M1356.8 2030.3h0M1179.9 1905.2h0M1255.6 2039.2h0M1258.6 2039.4h0M1395.8 1908.0h0M1295.4 2048.2h0M1321.1 2040.0h0M1288.1 2044.6h0M1404.6 1942.1h0M1230.4 1841.6h0M1381.2 1867.9h0M1312.1 2049.3h0M1304.9 2049.0h0M1334.0 1836.2h0M1354.2 1843.2h0M1173.7 1933.1h0M1185.2 1967.6h0M1400.6 1970.2h0M1180.4 1966.7h0M1216.3 1844.3h0M1397.4 1889.3h0M1174.1 1931.4h0M1252.3 2036.8h0" stroke="#8f84c8" stroke-opacity="0.42" stroke-width="4" stroke-linecap="round" fill="none"/>
<circle cx="1287.5" cy="1936.5" r="105.8" fill="#c1c0ce"/>
<path d="M1369.1 1951.3h0M1241.1 2027.6h0M1270.4 2001.8h0M1230.2 1922.7h0M1379.9 1944.9h0M1288.8 1997.2h0M1193.4 1974.5h0M1351.3 1910.0h0M1239.2 1979.3h0M1293.0 2001.8h0M1267.5 2021.2h0M1220.9 1904.3h0M1281.8 1845.9h0M1355.9 1914.2h0M1380.7 1898.1h0M1203.5 1961.3h0M1327.2 1888.6h0M1286.7 1865.1h0M1244.7 1984.8h0M1285.8 1922.7h0M1231.7 1938.6h0M1331.0 1859.6h0M1235.4 1850.2h0M1332.6 1914.9h0M1266.9 1949.1h0M1343.8 1854.2h0M1341.6 1877.7h0M1329.8 1947.2h0M1338.7 1912.6h0M1278.1 1954.9h0M1307.7 2007.6h0M1363.3 1996.6h0M1317.8 1936.0h0M1289.5 1947.8h0M1335.9 1891.2h0M1233.2 1910.8h0M1219.0 1873.6h0M1381.5 1946.2h0M1363.1 1946.5h0M1382.0 1951.7h0M1258.7 1950.2h0M1368.9 1943.6h0M1353.7 1986.4h0M1344.4 1951.9h0M1330.7 1859.4h0M1247.6 2018.3h0M1337.9 1924.4h0M1379.4 1918.1h0M1336.1 1890.7h0M1306.5 1853.3h0M1303.3 1864.0h0M1277.0 2009.0h0M1356.8 1954.8h0M1244.3 2009.8h0M1299.2 1894.0h0M1257.1 2005.3h0M1379.6 1898.5h0M1222.8 1916.9h0M1286.6 1937.7h0M1184.7 1929.8h0M1389.2 1955.1h0M1300.1 1941.6h0M1288.4 1908.1h0M1294.8 1833.7h0M1228.3 1991.2h0M1331.2 1983.3h0M1334.7 1981.7h0M1196.9 1914.2h0M1325.5 1885.4h0M1326.9 1895.6h0M1226.5 1873.3h0M1233.8 1877.2h0M1386.0 1933.7h0M1362.6 1917.5h0M1333.4 1913.6h0M1223.8 1862.7h0M1313.7 1914.2h0M1255.7 1991.8h0M1373.7 1989.4h0M1299.8 2018.9h0M1307.8 2031.0h0M1253.8 1939.3h0M1288.4 1866.4h0M1273.2 1989.6h0M1234.1 1919.0h0M1252.6 1922.4h0M1251.7 1849.7h0M1235.4 1943.0h0M1256.2 1942.2h0M1377.9 1936.9h0M1360.9 1896.9h0M1264.6 1986.3h0M1335.3 2007.5h0M1247.7 1900.3h0M1324.5 2001.3h0M1241.4 1939.1h0M1317.0 2028.5h0M1203.4 1919.7h0M1240.7 1964.8h0M1362.7 1992.9h0M1211.5 1946.7h0M1257.9 1954.1h0M1252.3 1960.8h0M1271.1 1929.1h0M1352.8 1870.3h0M1286.4 2036.6h0M1229.1 2008.6h0M1201.3 1952.3h0M1215.2 1989.0h0M1188.3 1958.0h0M1326.9 2020.4h0M1309.2 2022.3h0M1239.3 1982.0h0M1212.8 1896.9h0M1337.1 1914.3h0M1266.9 1939.5h0M1316.6 1960.1h0M1333.1 1920.0h0M1284.6 1921.4h0M1328.1 1868.9h0M1356.1 2003.1h0M1350.1 2014.0h0M1290.3 1972.3h0M1210.3 1897.1h0M1306.0 2020.6h0M1254.6 1999.9h0M1195.0 1894.2h0M1205.4 1964.2h0M1316.5 1956.6h0M1283.3 1887.5h0M1241.2 1942.3h0M1328.4 1981.2h0M1224.5 1940.2h0M1305.9 1838.9h0M1269.2 2002.3h0M1257.2 1977.1h0M1361.8 1922.6h0M1297.8 1962.9h0M1227.6 1910.5h0M1314.1 1940.1h0M1364.2 1944.8h0M1242.7 1853.8h0M1358.4 1935.3h0M1355.3 1912.1h0M1330.3 1959.3h0M1221.8 1923.7h0M1346.9 1996.7h0M1264.7 2020.8h0M1316.8 1840.0h0M1375.1 1961.9h0M1312.1 1941.6h0M1354.9 1951.3h0M1324.2 1950.5h0M1186.5 1958.4h0M1318.6 1979.4h0M1330.3 1970.7h0M1369.6 1893.8h0M1370.7 1979.4h0M1336.6 1872.4h0M1299.5 1872.5h0M1276.0 1935.2h0M1206.8 1974.9h0M1319.8 1930.5h0M1267.6 2027.8h0M1331.4 2013.5h0M1268.1 1857.5h0M1213.2 1966.7h0M1207.3 1985.9h0M1303.2 1959.1h0M1294.8 1897.1h0M1313.1 1930.8h0M1358.7 1970.1h0M1388.1 1930.1h0M1241.1 1917.4h0M1320.5 1974.0h0M1309.0 1917.7h0M1301.6 1983.3h0M1278.2 1978.9h0M1312.9 2034.1h0M1329.1 1952.1h0M1356.6 1989.7h0M1374.9 1902.2h0M1234.1 1947.5h0M1194.9 1943.7h0M1337.8 1906.9h0M1295.6 2039.8h0M1380.1 1958.8h0M1234.7 2014.5h0M1389.2 1953.1h0M1248.4 1963.2h0M1298.6 1863.7h0M1322.7 1950.0h0M1328.7 1966.4h0M1187.1 1926.8h0M1267.1 1978.4h0M1236.6 1952.3h0M1246.3 1894.5h0M1268.7 1892.2h0M1289.7 1837.4h0M1258.1 1940.1h0M1372.4 1976.6h0M1364.9 2000.5h0M1321.3 1938.2h0M1382.2 1952.9h0M1227.4 1898.5h0M1359.6 1934.0h0M1367.6 1938.7h0M1323.1 1991.2h0M1301.0 2033.5h0M1208.4 1966.1h0M1220.8 1920.5h0M1255.6 1895.0h0M1317.6 1862.1h0M1364.1 1990.4h0M1246.7 2021.1h0M1195.7 1891.4h0M1241.9 1930.9h0M1211.1 1931.6h0M1232.1 1903.7h0M1309.4 1863.5h0M1229.1 1953.2h0M1287.3 1926.0h0M1305.1 1918.7h0M1220.1 1904.5h0M1226.4 1915.7h0M1305.6 1963.7h0M1264.3 2008.7h0M1214.0 1939.1h0M1226.9 1853.7h0M1280.1 1924.3h0M1311.6 1989.8h0M1337.0 1898.2h0M1198.4 1960.5h0M1191.8 1926.8h0M1277.0 1897.9h0M1246.5 1849.3h0M1231.9 1944.6h0M1288.4 1973.9h0M1313.5 1930.7h0M1199.9 1945.1h0M1258.7 1855.7h0M1286.7 2007.6h0M1217.0 1918.4h0M1297.6 1999.6h0M1240.9 1872.5h0M1322.0 1972.5h0M1377.2 1928.2h0M1326.0 1856.7h0M1219.8 1993.2h0M1210.9 1955.9h0M1366.0 2002.3h0M1358.4 2011.8h0M1235.8 1911.7h0M1360.6 1867.3h0M1230.9 1866.0h0M1256.2 2020.9h0M1268.8 1924.8h0M1241.1 1950.0h0M1377.5 1924.3h0M1320.3 1919.0h0M1237.8 1931.1h0M1247.5 1852.8h0M1337.6 1896.8h0M1306.7 1898.2h0M1344.1 1850.5h0M1260.6 1959.2h0M1269.1 1963.3h0M1323.0 1991.6h0M1322.9 1875.6h0M1261.2 2016.7h0M1314.7 1959.9h0M1282.4 2029.9h0M1314.6 2009.0h0M1362.1 1980.7h0M1221.4 1963.1h0M1306.2 2008.3h0M1370.4 1914.7h0M1330.1 1957.6h0M1258.4 1982.8h0M1381.8 1956.3h0M1266.5 1932.1h0M1304.0 2005.5h0M1219.4 1988.8h0M1308.1 2036.4h0M1339.8 1990.4h0M1319.3 1927.1h0M1284.7 1838.9h0M1252.6 1871.8h0M1307.4 1981.6h0M1282.0 1984.6h0M1222.1 1935.4h0M1255.4 1979.7h0M1315.6 1848.1h0M1239.6 1916.2h0M1263.9 1912.1h0M1322.4 2010.4h0M1214.6 1875.3h0M1276.0 2037.8h0M1294.5 1896.6h0M1298.4 2025.6h0M1318.7 1998.0h0M1357.6 1927.8h0M1253.8 1977.7h0M1383.7 1928.6h0M1217.0 1912.7h0M1266.3 1865.9h0M1373.3 1887.2h0M1211.8 1955.4h0M1244.1 1851.1h0M1370.0 1998.5h0M1315.0 1851.9h0M1348.9 1940.2h0M1346.7 1926.0h0M1239.7 2013.2h0M1369.7 1985.4h0M1203.3 1907.5h0M1258.9 2035.4h0M1250.7 1985.3h0M1220.8 1952.7h0M1244.5 1951.4h0M1270.6 1919.5h0M1245.0 2021.2h0M1355.6 1922.5h0M1251.4 1848.8h0M1364.5 1919.8h0M1235.1 1888.0h0M1226.2 2012.3h0M1251.4 1879.0h0M1260.7 1853.1h0M1275.4 2001.5h0M1270.9 1847.1h0M1284.3 2011.2h0M1260.0 1933.5h0M1354.1 1863.5h0M1208.2 1978.0h0M1358.1 1870.6h0M1231.5 1923.6h0M1309.2 1995.2h0M1299.4 2008.1h0M1387.5 1922.6h0M1313.8 1982.1h0M1327.6 1913.8h0M1314.2 1883.3h0M1229.5 2022.2h0M1362.9 1994.7h0M1277.5 1917.3h0M1294.3 1993.8h0M1307.3 1865.4h0M1222.0 1914.8h0M1363.0 1986.1h0M1359.4 1953.8h0M1320.8 1969.3h0M1326.2 1915.7h0M1273.5 1937.8h0M1316.0 1938.4h0M1187.7 1934.6h0M1221.4 1866.8h0M1296.3 1858.4h0M1289.4 1943.6h0M1372.9 1932.8h0M1251.4 1964.2h0M1210.6 1899.0h0M1372.4 1962.2h0M1264.4 1890.9h0M1241.1 1860.1h0M1317.6 1848.5h0M1286.4 1939.5h0M1307.3 1955.9h0M1220.6 1994.1h0M1383.4 1953.0h0M1356.6 1925.9h0M1262.0 1879.2h0M1319.4 1845.3h0M1231.8 1956.0h0M1198.1 1919.2h0M1351.3 1913.9h0M1270.0 1887.1h0M1244.1 1892.6h0M1356.7 1878.7h0M1194.6 1935.4h0M1257.2 1863.6h0M1367.1 1894.5h0M1300.6 1938.4h0M1223.1 1857.9h0M1277.3 1966.9h0M1272.6 1972.4h0M1281.7 1898.0h0M1248.9 1947.9h0M1267.9 1951.6h0M1236.3 1923.6h0M1298.6 1988.6h0M1345.3 1915.4h0M1343.6 2023.2h0M1371.1 1967.5h0M1298.5 1879.5h0M1257.6 1853.3h0M1219.1 1961.3h0M1274.8 1916.7h0M1229.8 1996.1h0M1285.2 1976.1h0M1366.2 1986.1h0M1296.7 1856.8h0M1225.4 2001.3h0M1308.0 2019.9h0M1252.8 1895.1h0M1253.0 1933.8h0M1370.7 1957.5h0M1295.9 1916.2h0M1378.1 1918.1h0M1306.4 1907.6h0M1213.9 1910.6h0M1258.7 1969.7h0M1332.3 1942.1h0M1358.5 1986.6h0M1293.8 1906.5h0M1363.4 1992.5h0M1327.3 1992.8h0M1228.9 1952.4h0M1257.6 1982.9h0M1273.2 1867.7h0M1310.6 1976.9h0M1268.3 2004.3h0M1316.0 1978.0h0M1318.9 1848.2h0M1267.4 1907.4h0M1350.8 1963.7h0M1316.0 1936.4h0M1254.0 1932.8h0M1287.6 1849.6h0M1365.0 1976.7h0M1336.7 1977.5h0M1310.7 1851.7h0M1244.5 1911.0h0M1252.7 1974.7h0M1266.3 1976.1h0M1327.7 1940.0h0M1318.1 1878.9h0M1244.1 1866.7h0M1321.7 1998.5h0M1330.5 1966.6h0M1330.1 2004.9h0M1370.9 1951.2h0M1289.0 2025.0h0M1247.2 1947.5h0M1298.5 1889.0h0M1206.6 1959.1h0M1295.0 1861.1h0M1212.3 1973.4h0M1216.1 1966.0h0M1317.3 1859.6h0M1374.6 1910.0h0M1301.9 1943.3h0M1320.7 1925.5h0M1224.2 1938.8h0M1219.5 1950.9h0M1227.0 1876.8h0M1240.3 1940.1h0M1195.6 1962.4h0M1270.2 2004.7h0M1237.0 1979.5h0M1251.5 1909.7h0M1288.1 1963.6h0M1292.2 1924.2h0M1237.8 1982.8h0M1288.9 1840.0h0M1252.7 1898.4h0M1252.2 1977.8h0M1254.9 1934.3h0M1284.0 2019.4h0M1288.2 1998.7h0M1363.7 1897.2h0M1294.7 1840.8h0M1211.6 1989.8h0M1332.1 1899.9h0M1266.8 1836.1h0M1335.6 1956.4h0M1360.5 1975.6h0M1328.0 2023.2h0M1329.8 1971.3h0M1327.3 2018.8h0M1260.6 1969.7h0M1320.4 1952.0h0M1203.2 1988.9h0M1311.1 1982.5h0M1374.8 1953.9h0M1219.2 1965.3h0M1241.7 1997.3h0M1381.0 1969.6h0M1340.0 2009.9h0M1306.9 1950.8h0M1233.7 1942.6h0M1311.1 1981.1h0M1301.3 1901.4h0M1264.5 2032.1h0M1242.5 1858.0h0M1370.3 1888.6h0M1293.9 2014.9h0M1222.1 1929.4h0M1279.9 1962.1h0M1281.6 1903.6h0M1315.6 1978.3h0M1246.3 1899.8h0M1229.1 2000.6h0M1349.9 1950.3h0M1239.5 1883.7h0M1236.2 1879.1h0M1321.9 1867.8h0M1191.1 1937.2h0M1336.6 2018.8h0M1322.9 1910.0h0M1245.4 1978.1h0M1255.9 1920.0h0M1365.5 1977.3h0M1340.6 1953.9h0M1295.7 2003.6h0M1253.8 1864.5h0M1220.0 1939.7h0M1240.5 1845.6h0M1293.2 1903.9h0M1340.5 1890.2h0M1248.7 1942.3h0M1313.7 1837.5h0M1368.5 1887.1h0M1240.1 1852.6h0M1285.4 1911.7h0M1351.5 1971.4h0M1322.3 1920.5h0M1288.7 1943.2h0M1378.3 1915.9h0M1337.0 1927.5h0M1210.3 1961.2h0M1217.3 1955.7h0M1342.9 1991.1h0M1211.7 1992.1h0M1311.1 1994.4h0M1248.6 1912.5h0M1332.6 2025.0h0M1347.3 1869.6h0M1343.8 1884.2h0M1224.7 1860.8h0M1200.4 1964.0h0M1255.4 1952.7h0M1292.3 2006.8h0M1245.6 1959.2h0M1389.1 1931.8h0M1310.7 1901.1h0M1240.7 1967.7h0M1243.9 1849.4h0M1364.0 1995.7h0M1301.4 2007.2h0M1374.7 1955.1h0M1269.2 1870.9h0M1213.6 1896.9h0M1332.4 2030.0h0M1317.0 2007.2h0M1252.5 1894.5h0M1216.3 1972.3h0M1256.7 1941.8h0M1241.2 1874.6h0M1273.9 2017.3h0M1248.2 1868.0h0M1318.4 1889.1h0M1327.8 1934.5h0M1389.0 1935.2h0M1278.4 1942.5h0M1282.0 1905.4h0M1274.0 1858.4h0M1375.2 1943.3h0M1378.8 1907.5h0M1275.7 2016.9h0M1189.7 1911.2h0M1213.5 1871.4h0M1187.5 1912.7h0M1338.7 1941.6h0M1287.5 1971.2h0M1336.5 1907.3h0M1281.0 1974.0h0M1210.4 1950.1h0M1355.7 1949.1h0M1277.4 1972.7h0M1224.5 1863.9h0M1338.3 2012.8h0M1336.5 1847.0h0M1353.9 1920.0h0M1254.9 2000.3h0M1337.9 2009.0h0M1324.8 2014.9h0M1222.8 1860.5h0M1361.9 1874.8h0M1213.8 1894.6h0M1292.5 1887.5h0M1198.9 1966.0h0M1283.9 1953.0h0M1241.9 1871.0h0M1383.1 1943.1h0M1275.0 2019.5h0M1285.3 1880.7h0M1222.6 1954.4h0M1335.9 1867.6h0M1238.8 2026.1h0M1334.6 1989.5h0M1242.1 1905.0h0M1258.5 2001.2h0M1336.1 1868.4h0M1240.2 1969.5h0M1361.3 1910.7h0M1314.6 2013.3h0M1281.7 2003.4h0M1226.8 1913.9h0M1268.2 1999.7h0M1297.1 1980.5h0M1341.4 1986.5h0M1319.6 1899.4h0M1314.7 1902.7h0M1257.4 2007.8h0M1327.9 1986.0h0M1276.8 2027.7h0M1323.7 1871.5h0M1228.3 1989.8h0M1341.5 1869.8h0M1217.4 1960.0h0M1334.3 1999.3h0M1210.3 1887.1h0M1310.5 1970.5h0M1373.0 1900.0h0M1352.7 1941.3h0M1386.3 1962.5h0M1185.3 1931.5h0M1314.5 2030.4h0M1216.2 1910.9h0M1384.3 1928.3h0M1280.8 1899.6h0M1313.7 1919.2h0M1188.5 1961.5h0M1239.5 1991.2h0M1260.0 2008.6h0M1324.9 1981.1h0M1373.0 1962.1h0M1318.9 1951.1h0M1358.0 1972.7h0M1252.8 1914.6h0M1314.4 1847.4h0M1312.9 1847.9h0M1195.2 1907.9h0M1334.9 2003.4h0M1295.9 1919.1h0M1259.5 1870.5h0M1269.5 2025.9h0M1332.2 2013.7h0M1301.6 1835.4h0M1310.3 1962.8h0M1244.6 2007.3h0M1245.3 1854.0h0M1312.1 2033.8h0M1307.9 1917.9h0M1277.9 2017.8h0M1328.5 1975.4h0M1222.3 1985.2h0M1234.9 1921.0h0M1205.2 1953.5h0M1330.9 1892.1h0M1292.7 1855.4h0M1369.8 1967.2h0M1287.7 2032.0h0M1243.9 1875.0h0M1286.6 1833.2h0M1313.7 2012.6h0M1244.1 1902.3h0M1339.8 1873.8h0M1376.7 1904.0h0M1365.5 1898.3h0M1216.8 1996.9h0M1242.0 1869.9h0M1211.0 1892.5h0M1247.4 1917.3h0M1318.2 1982.6h0M1227.8 2007.2h0M1362.2 1869.5h0M1338.7 2007.2h0M1335.4 1941.2h0M1224.3 1856.0h0M1241.5 1900.2h0M1308.8 1845.8h0M1276.0 1849.6h0M1318.6 1948.7h0M1250.5 1940.8h0M1247.2 1913.3h0M1307.3 2024.9h0M1326.0 1878.8h0M1255.0 1956.8h0M1375.0 1962.7h0M1352.8 1963.7h0M1361.8 1959.4h0M1356.0 1951.5h0M1300.1 1857.6h0M1277.3 1988.9h0M1225.3 1975.1h0M1321.5 1967.9h0M1348.3 1920.6h0M1231.5 1954.5h0M1263.1 1903.1h0M1369.7 1898.8h0M1304.6 1977.6h0M1330.5 1959.5h0M1202.3 1944.1h0M1349.6 2017.1h0M1317.9 1987.3h0M1346.5 1968.6h0M1226.1 1950.0h0M1272.9 1949.9h0M1329.2 1961.9h0M1283.7 1995.5h0M1195.1 1905.2h0M1303.4 2035.5h0M1271.1 1937.1h0M1269.3 2012.0h0M1328.9 1938.8h0M1289.4 1852.3h0M1279.4 1914.9h0M1246.9 2025.1h0M1382.4 1899.0h0M1297.3 2030.8h0M1268.0 1954.5h0M1317.2 1921.0h0M1222.6 1974.9h0M1356.0 1952.6h0M1271.0 1844.8h0M1281.5 1965.0h0M1378.3 1905.4h0M1248.8 1846.2h0M1352.9 1923.0h0M1227.3 1962.3h0M1310.0 1913.8h0M1335.7 1890.1h0M1247.2 2022.2h0M1216.9 1905.1h0M1248.4 1948.0h0M1308.4 1883.4h0M1313.6 1989.1h0M1383.4 1912.4h0M1330.2 2021.7h0M1333.7 1961.0h0M1331.3 1897.6h0M1245.3 2016.1h0M1368.4 1884.6h0M1313.9 1948.4h0M1299.9 1836.2h0M1318.2 2033.2h0M1309.3 1846.3h0M1266.7 1864.1h0M1292.2 1958.4h0M1339.5 1877.8h0M1307.0 1973.3h0M1242.4 2013.7h0M1332.8 1854.0h0M1244.5 1961.8h0M1304.0 1961.4h0M1266.3 1889.7h0M1286.9 1931.9h0M1305.0 1898.0h0M1352.3 1890.4h0M1333.5 1844.8h0M1337.1 1871.0h0M1239.1 1983.9h0M1321.5 1870.3h0M1229.4 1919.5h0M1355.2 1945.4h0M1332.5 2008.3h0M1362.0 1985.6h0M1377.4 1942.3h0M1309.0 1966.0h0M1200.4 1935.3h0M1296.8 1891.5h0M1261.0 1972.1h0M1225.8 1991.2h0M1236.9 1875.1h0M1350.8 2009.7h0M1224.7 1963.7h0M1215.6 2005.6h0M1289.6 1941.1h0M1317.3 1909.8h0M1323.8 1848.5h0M1248.5 1981.9h0M1312.1 1886.4h0M1349.6 1916.1h0M1258.5 1950.0h0M1195.6 1924.8h0M1353.6 1940.6h0M1261.6 1865.7h0M1241.0 1987.4h0M1359.0 1918.4h0M1322.8 1933.3h0M1332.1 1923.2h0M1231.8 1962.0h0M1212.9 1868.3h0M1292.5 1902.8h0M1327.3 1950.9h0M1283.1 1994.3h0M1265.2 1843.3h0M1189.4 1969.7h0M1203.3 1882.7h0M1304.5 1951.1h0M1362.5 1877.3h0M1293.6 1941.7h0M1196.3 1947.0h0M1338.4 1950.2h0M1207.9 1933.2h0M1305.8 2013.8h0M1269.4 1835.4h0M1287.7 1957.4h0M1335.1 1943.5h0M1289.4 1859.9h0M1234.7 1976.1h0M1347.6 1912.4h0M1229.9 1921.7h0M1209.7 1971.1h0M1209.7 1995.3h0M1332.4 2011.5h0M1285.0 1879.3h0M1325.8 1843.7h0M1272.8 1921.0h0M1330.3 1982.7h0M1295.0 1856.7h0M1249.3 1998.1h0M1305.0 2013.9h0M1282.2 1881.5h0M1243.0 2018.5h0M1230.0 2005.0h0M1264.1 1983.6h0M1346.1 1902.1h0M1223.2 1971.9h0M1291.1 1948.0h0M1276.0 1913.5h0M1194.0 1971.6h0M1198.6 1906.7h0M1274.5 1866.1h0M1292.9 2002.3h0M1365.8 1959.4h0M1325.3 1874.4h0M1271.1 1924.3h0M1301.6 1990.9h0M1261.1 2029.7h0M1206.9 1953.0h0M1208.3 1911.8h0M1327.0 1942.0h0M1324.4 2026.3h0M1205.6 1931.2h0M1316.9 2029.4h0M1371.3 1898.9h0M1197.1 1975.8h0M1257.2 1862.6h0M1322.8 1941.0h0M1311.3 1915.5h0M1285.0 2019.2h0M1231.2 1938.5h0M1360.1 1887.1h0M1295.7 1977.3h0M1269.2 2037.2h0M1255.8 1934.2h0M1222.7 1925.1h0M1293.2 1994.7h0M1372.0 1907.7h0M1320.9 2001.5h0M1340.3 1870.9h0M1185.6 1931.8h0M1236.1 1862.4h0M1276.5 1933.8h0M1260.7 1948.5h0M1281.3 2004.2h0M1323.6 1858.7h0M1342.5 1921.1h0M1246.2 1995.2h0M1260.1 1855.4h0M1296.3 2008.5h0M1325.9 1899.4h0M1315.2 1856.4h0M1245.6 1854.6h0M1319.0 1974.2h0M1361.6 1921.0h0M1214.0 1923.2h0M1242.4 2014.8h0M1238.0 1965.5h0M1270.9 1977.3h0M1325.4 2004.1h0M1244.2 1979.3h0M1209.5 1936.0h0M1354.5 1886.4h0M1242.7 1976.5h0M1192.4 1970.1h0M1279.9 1926.0h0M1359.5 1960.5h0M1363.4 1942.2h0M1256.8 1845.6h0M1240.7 2003.0h0M1277.4 1957.0h0M1273.9 1862.6h0M1247.2 1864.5h0M1291.4 1926.1h0M1229.9 1928.9h0M1228.1 1940.3h0M1244.4 1981.4h0M1315.6 1864.9h0M1339.7 1976.7h0M1227.4 1971.9h0M1311.2 1947.0h0M1317.6 1984.5h0M1321.4 1982.1h0M1279.5 1874.8h0M1209.9 1891.6h0M1295.1 2010.6h0M1224.8 2017.0h0M1322.5 1864.4h0M1316.9 2018.8h0M1256.5 1896.0h0M1372.8 1946.5h0M1230.8 2005.6h0M1313.8 1939.6h0M1328.7 1971.3h0M1331.4 1928.8h0M1278.2 1924.0h0M1345.2 1883.2h0M1194.0 1945.6h0M1282.5 2034.8h0M1353.1 1916.7h0M1295.1 2013.2h0M1236.0 1896.9h0M1344.5 2016.3h0M1207.5 1880.5h0M1297.0 1949.3h0M1229.1 1978.5h0M1360.1 1898.9h0M1351.5 1886.3h0M1222.3 1870.9h0M1346.6 1858.1h0M1298.1 1878.7h0M1297.0 2028.1h0M1264.3 1864.1h0M1187.2 1916.4h0M1316.3 1904.0h0M1200.0 1881.3h0M1191.8 1897.6h0M1386.0 1948.4h0M1221.4 2002.9h0M1298.8 1926.9h0M1241.3 1992.7h0M1272.6 2028.6h0M1220.4 1875.4h0M1275.7 1999.2h0M1348.2 2002.9h0M1228.3 1965.4h0M1319.5 1910.6h0M1308.0 1923.6h0M1270.8 1891.4h0M1328.6 2015.7h0M1306.3 2009.2h0M1327.1 2030.0h0M1328.8 1976.4h0M1186.9 1933.3h0M1335.2 1911.4h0M1336.3 1973.3h0M1216.4 1875.1h0M1357.4 1999.6h0M1328.8 1875.6h0M1285.2 1903.0h0M1316.7 1964.6h0M1371.0 1947.2h0M1206.8 1892.7h0M1246.1 1888.3h0M1307.8 1875.4h0M1344.6 1953.5h0M1322.7 2012.5h0M1210.0 1904.5h0M1339.6 1952.4h0M1268.8 2032.7h0M1224.5 1933.1h0M1262.0 1914.3h0M1340.8 1950.8h0M1186.4 1940.4h0M1275.9 1915.4h0M1243.1 1997.8h0M1212.3 1974.8h0M1375.1 1898.4h0M1258.2 1896.6h0M1335.3 1966.5h0M1302.8 1856.5h0M1212.6 1891.6h0M1216.5 1888.0h0M1330.2 2007.1h0M1276.4 1850.3h0M1333.8 1907.8h0M1355.1 1915.2h0M1342.1 1901.2h0M1273.1 2007.9h0M1250.5 1899.7h0M1198.7 1907.5h0M1280.1 1972.5h0M1306.1 1840.5h0M1298.0 1900.2h0M1302.7 1977.6h0M1281.3 1842.4h0M1319.1 1978.5h0M1232.3 1951.6h0M1364.7 1867.5h0M1240.4 1986.2h0M1347.0 1913.0h0M1375.0 1889.2h0M1336.2 1893.0h0M1272.2 2034.6h0M1212.6 1948.0h0M1277.1 1983.1h0M1361.6 1926.8h0M1258.5 2001.6h0M1281.9 1841.0h0M1203.8 1918.6h0M1237.1 1992.3h0M1226.4 2019.4h0M1342.4 1927.0h0M1349.8 1862.7h0M1293.3 2010.6h0M1243.3 1942.6h0M1212.8 1962.2h0M1343.7 1925.7h0M1271.9 1959.0h0M1211.8 1882.7h0M1372.2 1893.5h0M1237.3 2004.0h0M1286.5 1850.2h0M1329.7 1856.3h0M1218.6 1867.6h0M1224.8 1989.6h0M1322.9 1884.7h0M1335.6 1874.8h0M1224.8 1952.6h0M1243.3 1956.9h0M1223.1 1876.8h0M1307.4 1865.9h0M1199.1 1962.5h0M1344.7 1948.7h0M1316.2 1960.2h0M1304.7 1868.2h0M1189.1 1931.7h0M1330.0 1904.0h0M1217.0 1995.9h0M1317.8 2003.4h0M1333.3 1887.4h0M1259.2 2032.9h0M1382.0 1916.2h0M1190.3 1901.4h0M1375.5 1930.9h0M1381.5 1934.2h0M1252.9 2008.1h0M1334.3 1991.1h0M1202.8 1993.2h0M1343.5 1934.5h0M1380.2 1955.0h0M1251.0 1893.5h0M1310.6 1998.9h0M1314.7 1970.8h0M1209.5 1896.6h0M1369.1 1888.4h0M1267.7 1969.6h0M1283.0 1834.4h0M1235.3 1884.3h0M1223.4 1965.6h0M1329.9 1980.5h0M1358.5 1881.2h0M1221.8 1870.4h0M1350.9 2001.6h0M1241.9 1994.3h0M1270.4 1866.4h0M1275.4 2036.2h0M1274.7 2021.8h0M1271.1 1881.6h0M1376.3 1954.2h0M1280.6 1842.1h0M1216.3 1953.2h0M1247.7 1960.0h0M1227.9 1994.5h0M1267.4 1958.5h0M1243.2 1980.4h0M1268.5 1904.1h0M1347.4 1882.2h0M1379.4 1984.3h0M1325.8 1956.6h0M1199.2 1903.7h0M1274.9 2006.7h0M1225.0 1864.2h0M1364.5 1947.2h0M1285.3 1963.2h0M1239.8 2008.4h0M1356.0 1893.0h0M1257.6 1886.8h0M1229.3 1873.7h0M1261.1 1967.6h0M1243.0 1889.2h0M1286.1 1913.2h0M1353.1 1983.9h0M1209.5 1987.1h0M1297.2 1853.3h0M1278.6 1933.2h0M1234.4 1938.7h0M1260.7 1961.6h0M1237.9 1874.8h0M1229.7 1956.3h0M1282.8 1835.9h0M1252.6 1913.7h0M1284.3 1847.4h0M1311.9 1918.1h0M1228.4 1892.7h0M1234.3 1954.1h0M1339.7 1999.6h0M1230.0 1868.4h0M1268.6 1845.2h0M1228.9 1950.1h0M1275.9 2007.7h0M1313.4 1971.4h0M1344.1 1951.8h0M1324.6 1863.9h0M1200.6 1977.8h0M1356.6 1974.0h0M1224.9 1885.9h0M1216.2 1960.6h0M1229.3 1851.6h0M1292.6 1856.2h0M1313.9 2029.0h0M1204.7 1985.6h0M1303.3 2016.7h0M1210.8 1946.9h0M1293.3 1948.4h0M1214.9 1871.3h0M1255.8 2029.6h0M1235.2 1944.2h0M1362.9 1971.0h0M1332.0 2021.1h0M1252.2 1896.6h0M1241.8 1986.9h0M1251.6 1928.0h0M1281.7 1890.5h0M1243.5 2004.4h0M1252.0 2025.1h0M1260.9 1970.4h0M1376.8 1935.1h0M1359.5 1881.4h0M1332.7 1884.1h0M1299.1 1880.3h0M1267.2 1943.2h0M1321.7 1907.7h0M1240.2 1943.3h0M1348.7 1927.9h0M1324.4 1871.4h0M1225.7 1955.5h0M1370.3 1903.3h0M1275.5 1906.3h0M1237.1 1958.1h0M1256.3 1875.1h0M1333.4 1848.2h0M1305.6 1869.6h0M1388.9 1919.5h0M1276.5 1947.8h0M1323.9 1889.7h0M1271.4 1836.3h0M1342.7 1915.6h0M1257.0 1950.1h0M1241.8 2000.4h0M1282.9 1867.5h0M1285.1 1991.9h0M1226.6 1938.8h0M1220.8 1979.0h0M1188.9 1959.9h0M1358.6 1964.9h0M1287.0 2021.1h0M1328.2 1893.2h0M1259.1 1973.7h0M1344.8 1947.4h0M1320.3 2022.9h0M1263.3 1876.6h0M1259.1 1890.6h0M1369.5 1990.7h0M1351.7 2013.3h0M1273.5 1911.6h0M1259.8 2019.8h0M1265.8 1866.2h0M1387.0 1963.4h0M1295.1 1862.6h0M1333.2 1897.3h0M1287.7 1953.9h0M1242.1 1864.1h0M1287.8 2030.4h0M1277.9 1865.8h0M1270.8 1958.0h0M1281.1 1844.3h0M1355.4 1867.2h0M1214.2 1977.8h0M1209.9 1929.1h0M1311.3 1995.3h0M1321.7 1917.6h0M1330.3 1915.8h0M1352.7 1968.5h0M1332.4 1978.2h0M1312.0 2009.9h0M1236.5 1948.7h0M1256.6 1910.9h0M1368.2 1972.6h0M1295.9 1923.1h0M1358.1 1971.1h0M1382.2 1959.9h0M1249.0 1941.7h0M1376.9 1919.0h0M1199.7 1909.6h0M1307.8 1949.3h0M1382.2 1952.8h0M1316.8 1844.5h0M1306.5 1916.1h0M1287.7 1980.2h0M1234.3 1920.0h0M1284.4 1887.4h0M1363.6 1974.5h0M1292.6 1982.7h0M1274.8 1889.9h0M1218.3 1865.2h0M1275.8 1962.5h0M1231.9 1949.6h0M1203.1 1905.4h0M1252.6 1954.0h0M1338.9 1865.2h0M1329.5 1858.3h0M1309.9 1907.3h0M1263.3 1992.8h0M1225.4 1868.0h0M1256.9 2023.9h0M1317.5 1872.0h0M1247.5 2014.5h0M1289.9 1977.2h0M1335.1 2006.4h0M1315.3 1940.1h0M1351.2 1867.2h0M1294.7 1999.8h0M1340.8 1899.4h0M1295.4 1876.2h0M1213.2 1940.2h0M1206.5 1906.8h0M1238.0 1852.2h0M1197.8 1906.2h0M1333.5 1863.5h0M1261.0 2008.7h0M1231.0 1991.0h0M1295.5 2028.0h0M1335.8 1924.5h0M1372.4 1922.7h0M1252.4 2016.9h0M1293.4 1839.4h0M1291.2 1875.0h0M1312.0 1901.1h0M1310.2 1865.0h0M1367.0 1876.4h0M1234.2 1964.0h0M1382.1 1970.0h0M1246.7 1902.6h0M1361.6 1909.8h0M1233.8 1993.4h0M1306.8 1862.7h0M1319.0 1994.0h0M1356.6 1882.6h0M1257.4 1850.4h0M1235.1 1908.4h0M1234.9 1867.6h0M1337.6 1916.4h0M1222.0 1923.8h0M1343.6 2002.3h0M1217.6 1990.9h0M1218.8 1872.0h0M1269.2 1928.2h0M1279.3 1904.7h0M1374.9 1987.3h0M1291.4 1904.0h0M1359.9 1875.1h0M1263.5 1951.5h0M1316.4 1843.3h0M1235.3 1874.9h0M1256.8 1873.1h0M1281.8 1891.8h0M1350.0 1897.6h0M1220.9 1934.6h0M1309.0 1837.4h0M1343.6 2022.8h0M1297.9 1911.0h0M1357.4 1901.1h0M1190.9 1965.7h0M1248.9 1997.9h0M1365.1 1957.5h0M1296.2 2036.1h0M1282.0 1868.4h0M1313.0 1937.6h0M1197.5 1973.1h0M1297.8 1944.9h0M1220.2 1975.1h0M1307.6 1836.8h0M1218.9 1993.0h0M1310.9 1843.2h0M1297.9 1888.2h0M1283.0 2000.9h0M1296.0 2028.6h0M1354.1 1896.5h0M1337.3 1889.0h0M1356.7 1882.5h0M1272.6 1857.6h0M1308.9 1839.6h0M1322.8 1870.0h0M1346.3 2004.0h0M1377.6 1950.2h0M1222.6 1866.3h0M1316.7 1986.6h0M1223.2 1910.6h0M1261.1 1992.6h0M1229.2 1967.8h0M1313.1 2013.3h0M1238.7 2026.2h0M1191.5 1937.8h0M1311.3 1905.1h0M1243.2 1995.8h0M1371.7 1985.1h0M1324.0 1929.1h0M1358.1 2011.3h0M1374.2 1892.8h0M1332.2 1863.9h0M1198.3 1920.5h0M1360.1 1978.2h0M1199.8 1970.8h0M1361.9 1914.0h0M1354.3 1978.6h0M1244.5 2016.8h0M1216.1 2002.0h0M1223.5 1967.3h0M1268.5 1916.3h0M1347.9 1988.8h0M1329.2 1983.9h0M1279.2 1966.1h0M1208.8 1977.5h0M1197.0 1964.6h0M1217.7 1968.4h0M1331.0 1914.2h0M1372.5 1915.1h0M1338.8 2004.1h0M1310.8 1903.2h0M1379.2 1965.6h0M1239.4 1861.0h0M1303.8 1946.0h0M1372.3 1922.0h0M1295.0 1859.5h0M1234.1 1939.7h0M1358.4 1892.3h0M1322.4 1857.3h0M1271.8 1967.9h0M1377.3 1950.9h0M1327.0 1889.5h0M1381.8 1894.4h0M1264.4 1858.1h0M1374.6 1883.3h0M1250.0 1861.0h0M1217.5 1976.2h0M1235.9 1875.8h0M1264.1 1892.5h0M1296.0 1934.8h0M1299.9 1984.5h0M1282.8 1943.4h0M1193.8 1904.7h0M1288.5 1966.1h0M1325.6 1966.7h0M1281.4 1998.3h0M1248.5 1846.8h0M1333.0 1859.8h0M1328.1 1889.1h0M1341.9 1894.7h0M1259.2 1898.6h0M1235.8 2009.8h0M1285.8 2008.1h0M1359.8 1922.8h0M1361.2 1942.0h0M1315.9 2026.3h0M1365.8 2004.2h0M1209.7 1874.9h0M1364.8 1919.1h0M1335.4 1872.3h0M1354.8 1908.0h0M1320.8 1949.2h0M1320.5 2003.9h0M1321.9 1874.6h0M1310.6 1840.1h0M1191.5 1961.9h0M1305.2 2011.8h0M1235.3 1988.7h0M1187.6 1940.3h0M1252.1 1854.3h0M1223.4 1922.5h0M1288.2 1994.8h0M1333.9 1908.4h0M1254.3 1905.4h0M1379.7 1970.9h0M1353.9 1950.3h0M1342.9 1900.9h0M1385.6 1961.3h0M1387.4 1948.1h0M1288.6 1909.9h0M1254.0 1877.5h0M1229.7 1891.1h0M1298.1 1854.9h0M1316.4 1978.9h0M1213.5 1989.8h0M1233.7 1981.2h0M1295.6 1953.8h0M1278.1 2027.2h0M1302.3 1855.7h0M1269.8 1853.0h0M1211.7 1985.2h0M1317.3 1932.7h0M1367.2 1886.4h0M1238.7 1975.4h0M1366.4 1913.7h0M1296.6 1954.9h0M1222.3 1905.8h0M1282.5 1844.3h0M1348.7 1864.9h0M1262.8 1840.1h0M1219.1 1927.6h0M1303.3 1947.2h0M1271.6 2027.5h0M1304.3 1918.0h0M1313.9 1971.7h0M1304.5 1910.6h0M1219.6 1931.1h0M1333.5 1997.6h0M1309.0 2022.0h0M1327.8 2018.5h0M1320.3 1925.3h0M1225.6 1879.3h0M1367.8 1958.6h0M1320.0 2019.3h0M1268.5 1996.6h0M1336.3 2021.3h0M1329.5 1853.7h0M1270.8 1878.1h0M1246.0 2020.4h0M1233.1 1998.9h0M1195.2 1973.3h0M1293.5 1898.3h0M1280.7 1833.4h0M1341.9 1859.4h0M1313.4 1889.6h0M1267.4 2023.8h0M1315.3 2005.8h0M1329.2 2013.2h0M1315.3 2008.2h0M1326.8 1918.9h0M1352.8 1890.0h0M1286.5 1926.8h0M1356.8 1942.0h0M1199.2 1984.4h0M1244.8 1942.0h0M1265.4 2022.6h0M1295.3 1939.5h0M1313.0 2011.0h0M1328.4 1860.2h0M1303.7 1998.7h0M1299.1 2035.7h0M1361.3 1925.8h0M1293.3 1967.5h0M1223.7 1921.0h0M1263.8 1959.3h0M1225.0 1958.2h0M1303.9 1930.4h0M1255.6 1890.1h0M1364.1 1907.9h0M1224.2 1937.2h0M1280.1 1963.9h0M1360.1 2002.2h0M1340.4 1983.9h0M1283.4 1987.6h0M1266.2 1992.0h0M1291.8 1951.0h0M1362.4 1933.0h0M1300.9 1971.3h0M1296.3 1973.7h0M1301.4 1835.5h0M1308.5 1957.6h0M1344.5 1944.4h0M1240.8 1880.2h0M1221.4 1974.5h0M1352.2 1958.6h0M1314.8 1978.6h0M1297.3 1853.6h0M1313.4 2006.8h0M1307.5 1994.1h0M1248.9 1889.8h0M1295.9 1853.9h0M1242.1 1887.7h0M1213.6 1948.2h0M1245.3 2024.5h0M1191.2 1916.5h0M1351.8 1908.2h0M1189.5 1919.7h0" stroke="#3a2a8a" stroke-opacity="0.7" stroke-width="1.05" stroke-linecap="round" fill="none"/>
<use href="#d13_0" stroke="#9d92ee" stroke-opacity="0.6" stroke-width="4.8" stroke-linecap="round" fill="none" filter="url(#pb1)"/>
<use href="#d13_1" stroke="#9d92ee" stroke-opacity="0.6" stroke-width="5.6" stroke-linecap="round" fill="none" filter="url(#pb1)"/>
<use href="#d13_2" stroke="#9d92ee" stroke-opacity="0.6" stroke-width="6.8" stroke-linecap="round" fill="none" filter="url(#pb1)"/>
<use href="#d13_3" stroke="#9d92ee" stroke-opacity="0.6" stroke-width="8.4" stroke-linecap="round" fill="none" filter="url(#pb1)"/>
<use href="#d13_4" stroke="#9d92ee" stroke-opacity="0.6" stroke-width="10.4" stroke-linecap="round" fill="none" filter="url(#pb1)"/>
<use href="#d13_0" stroke="#3118b8" stroke-width="1.2" stroke-linecap="round" fill="none"/>
<use href="#d13_1" stroke="#3118b8" stroke-width="2.0" stroke-linecap="round" fill="none"/>
<use href="#d13_2" stroke="#3118b8" stroke-width="3.2" stroke-linecap="round" fill="none"/>
<use href="#d13_3" stroke="#3118b8" stroke-width="4.8" stroke-linecap="round" fill="none"/>
<use href="#d13_4" stroke="#3118b8" stroke-width="6.8" stroke-linecap="round" fill="none"/>
<circle cx="1287.5" cy="1936.5" r="105.8" fill="none" stroke="#3c3a55" stroke-width="1.1"/>
</g></g>
<text transform="translate(55,38.8) scale(1,1.04)" font-size="54">A</text>
<text x="262" y="25.3" font-size="24" text-anchor="start" >C4-2-AbiR</text>
<line x1="221.6" y1="39.7" x2="438" y2="39.7" stroke="#000" stroke-width="1.4"/>
<text x="208.3" y="66" font-size="24" text-anchor="start" >Vector</text>
<text x="316.5" y="66" font-size="24" text-anchor="start" >SH1</text>
<text x="405" y="66" font-size="24" text-anchor="start" >SH2</text>
<text x="109" y="97" font-size="24" text-anchor="start" textLength="76.9" lengthAdjust="spacingAndGlyphs">KAT2A</text>
<text x="122" y="125.5" font-size="24" text-anchor="start" >94kD</text>
<text x="109.5" y="158.7" font-size="24" text-anchor="start" >β-Actin</text>
<text x="123" y="192.5" font-size="24" text-anchor="start" >42kD</text>
<text transform="translate(815,43) scale(1,1.04)" font-size="54">D</text>
<text x="975.5" y="35.6" font-size="24" text-anchor="start" >C4-2-P</text>
<line x1="960" y1="43.5" x2="1073" y2="43.5" stroke="#000" stroke-width="1.4"/>
<text x="942" y="73" font-size="24" text-anchor="start" >Vector</text>
<text x="1044" y="73" font-size="24" text-anchor="start" >OE</text>
<text x="1313.5" y="36.5" font-size="24" text-anchor="start" >LNCaP-P</text>
<line x1="1310" y1="46" x2="1423" y2="46" stroke="#000" stroke-width="1.4"/>
<text x="1293" y="76" font-size="24" text-anchor="start" >Vector</text>
<text x="1396.5" y="76.5" font-size="24" text-anchor="start" >OE</text>
<text x="836" y="103" font-size="24" text-anchor="start" textLength="78.3" lengthAdjust="spacingAndGlyphs">KAT2A</text>
<text x="850" y="131" font-size="24" text-anchor="start" >94kD</text>
<text x="836" y="163" font-size="24" text-anchor="start" >β-Actin</text>
<text x="850" y="197" font-size="24" text-anchor="start" >42kD</text>
<text x="1184" y="103" font-size="24" text-anchor="start" textLength="78.3" lengthAdjust="spacingAndGlyphs">KAT2A</text>
<text x="1198" y="131" font-size="24" text-anchor="start" >94kD</text>
<text x="1184" y="163" font-size="24" text-anchor="start" >β-Actin</text>
<text x="1198" y="197" font-size="24" text-anchor="start" >42kD</text>
<text transform="translate(58,287) scale(1,1.04)" font-size="54">B</text>
<text transform="translate(882,288) scale(1,1.04)" font-size="54">E</text>
<text transform="translate(836.7,917.8) scale(1,1.04)" font-size="54">F</text>
<g stroke="#000" stroke-width="2.5" fill="none" stroke-linecap="butt">
<line x1="112" y1="341.34999999999997" x2="112" y2="732.05"/>
<line x1="101" y1="730.8" x2="637" y2="730.8"/>
<line x1="101" y1="730.8" x2="112" y2="730.8"/>
<line x1="101" y1="633.75" x2="112" y2="633.75"/>
<line x1="101" y1="536.6999999999999" x2="112" y2="536.6999999999999"/>
<line x1="101" y1="439.65" x2="112" y2="439.65"/>
<line x1="101" y1="342.59999999999997" x2="112" y2="342.59999999999997"/>
<line x1="237.6" y1="730.8" x2="237.6" y2="741.3"/>
<line x1="363.4" y1="730.8" x2="363.4" y2="741.3"/>
<line x1="489.2" y1="730.8" x2="489.2" y2="741.3"/>
<line x1="615.0" y1="730.8" x2="615.0" y2="741.3"/>
</g>
<text x="94.5" y="739.3" font-size="24" text-anchor="end" >0</text>
<text x="94.5" y="642.2" font-size="24" text-anchor="end" >1</text>
<text x="94.5" y="545.2" font-size="24" text-anchor="end" >2</text>
<text x="94.5" y="448.1" font-size="24" text-anchor="end" >3</text>
<text x="94.5" y="351.1" font-size="24" text-anchor="end" >4</text>
<text x="235.4" y="762.9" font-size="24" text-anchor="middle" >24</text>
<text x="362" y="762.9" font-size="24" text-anchor="middle" >48</text>
<text x="489.3" y="762.9" font-size="24" text-anchor="middle" >72</text>
<text x="618" y="762.9" font-size="24" text-anchor="middle" >96</text>
<text x="379.6" y="786.5" font-size="24" text-anchor="middle" >Hour(h)</text>
<text transform="translate(61,507.6) rotate(-90)" font-size="24" text-anchor="middle">Relative Cell Viability</text>
<text x="378" y="306.5" font-size="24" text-anchor="middle" >C4-2-AbiR</text>
<path d="M237.6,633.8 L363.4,625.0 L489.2,608.3 L615.0,595.0" fill="none" stroke="#3333ff" stroke-width="2.8" stroke-dasharray="4.6 7.8" stroke-linecap="round"/>
<path d="M237.6,633.8 L363.4,594.0 L489.2,549.2 L615.0,497.3" fill="none" stroke="#3333ff" stroke-width="2.8"/>
<path d="M237.6,633.8 L363.4,622.3 L489.2,606.0 L615.0,573.3" fill="none" stroke="#007a00" stroke-width="2.8" stroke-dasharray="4.6 7.8" stroke-linecap="round"/>
<path d="M237.6,633.8 L363.4,594.3 L489.2,536.0 L615.0,476.7" fill="none" stroke="#007a00" stroke-width="2.8"/>
<path d="M237.6,633.8 L363.4,579.0 L489.2,510.0 L615.0,412.7" fill="none" stroke="#ff0000" stroke-width="2.8" stroke-dasharray="4.6 7.8" stroke-linecap="round"/>
<path d="M237.6,633.8 L363.4,567.3 L489.2,483.3 L615.0,389.0" fill="none" stroke="#ff0000" stroke-width="2.8"/>
<path d="M237.6,628.9V638.6M232.6,628.9H242.6M232.6,638.6H242.6" stroke="#3333ff" stroke-width="2.6" fill="none"/>
<circle cx="237.6" cy="633.8" r="4.8" fill="#3333ff"/>
<path d="M363.4,618.0V632.0M358.4,618.0H368.4M358.4,632.0H368.4" stroke="#3333ff" stroke-width="2.6" fill="none"/>
<circle cx="363.4" cy="625.0" r="4.8" fill="#3333ff"/>
<path d="M489.2,600.6V616.1M484.2,600.6H494.2M484.2,616.1H494.2" stroke="#3333ff" stroke-width="2.6" fill="none"/>
<circle cx="489.2" cy="608.3" r="4.8" fill="#3333ff"/>
<path d="M615.0,585.3V604.7M610.0,585.3H620.0M610.0,604.7H620.0" stroke="#3333ff" stroke-width="2.6" fill="none"/>
<circle cx="615.0" cy="595.0" r="4.8" fill="#3333ff"/>
<path d="M237.6,628.9V638.6M232.6,628.9H242.6M232.6,638.6H242.6" stroke="#3333ff" stroke-width="2.6" fill="none"/>
<circle cx="237.6" cy="633.8" r="4.8" fill="#3333ff"/>
<path d="M363.4,590.1V597.8M358.4,590.1H368.4M358.4,597.8H368.4" stroke="#3333ff" stroke-width="2.6" fill="none"/>
<circle cx="363.4" cy="594.0" r="4.8" fill="#3333ff"/>
<path d="M489.2,544.4V554.1M484.2,544.4H494.2M484.2,554.1H494.2" stroke="#3333ff" stroke-width="2.6" fill="none"/>
<circle cx="489.2" cy="549.2" r="4.8" fill="#3333ff"/>
<path d="M615.0,491.3V503.3M610.0,491.3H620.0M610.0,503.3H620.0" stroke="#3333ff" stroke-width="2.6" fill="none"/>
<circle cx="615.0" cy="497.3" r="4.8" fill="#3333ff"/>
<path d="M237.6,628.9V638.6M232.6,628.9H242.6M232.6,638.6H242.6" stroke="#007a00" stroke-width="2.6" fill="none"/>
<circle cx="237.6" cy="633.8" r="4.8" fill="#007a00"/>
<path d="M363.4,616.3V628.3M358.4,616.3H368.4M358.4,628.3H368.4" stroke="#007a00" stroke-width="2.6" fill="none"/>
<circle cx="363.4" cy="622.3" r="4.8" fill="#007a00"/>
<path d="M489.2,596.5V615.5M484.2,596.5H494.2M484.2,615.5H494.2" stroke="#007a00" stroke-width="2.6" fill="none"/>
<circle cx="489.2" cy="606.0" r="4.8" fill="#007a00"/>
<path d="M615.0,560.2V586.4M610.0,560.2H620.0M610.0,586.4H620.0" stroke="#007a00" stroke-width="2.6" fill="none"/>
<circle cx="615.0" cy="573.3" r="4.8" fill="#007a00"/>
<path d="M237.6,628.9V638.6M232.6,628.9H242.6M232.6,638.6H242.6" stroke="#007a00" stroke-width="2.6" fill="none"/>
<circle cx="237.6" cy="633.8" r="4.8" fill="#007a00"/>
<path d="M363.4,589.5V599.2M358.4,589.5H368.4M358.4,599.2H368.4" stroke="#007a00" stroke-width="2.6" fill="none"/>
<circle cx="363.4" cy="594.3" r="4.8" fill="#007a00"/>
<path d="M489.2,529.0V543.0M484.2,529.0H494.2M484.2,543.0H494.2" stroke="#007a00" stroke-width="2.6" fill="none"/>
<circle cx="489.2" cy="536.0" r="4.8" fill="#007a00"/>
<path d="M615.0,467.2V486.2M610.0,467.2H620.0M610.0,486.2H620.0" stroke="#007a00" stroke-width="2.6" fill="none"/>
<circle cx="615.0" cy="476.7" r="4.8" fill="#007a00"/>
<path d="M237.6,628.9V638.6M232.6,628.9H242.6M232.6,638.6H242.6" stroke="#ff0000" stroke-width="2.6" fill="none"/>
<circle cx="237.6" cy="633.8" r="4.8" fill="#ff0000"/>
<path d="M363.4,569.7V588.3M358.4,569.7H368.4M358.4,588.3H368.4" stroke="#ff0000" stroke-width="2.6" fill="none"/>
<circle cx="363.4" cy="579.0" r="4.8" fill="#ff0000"/>
<path d="M489.2,495.6V524.4M484.2,495.6H494.2M484.2,524.4H494.2" stroke="#ff0000" stroke-width="2.6" fill="none"/>
<circle cx="489.2" cy="510.0" r="4.8" fill="#ff0000"/>
<path d="M615.0,396.7V428.7M610.0,396.7H620.0M610.0,428.7H620.0" stroke="#ff0000" stroke-width="2.6" fill="none"/>
<circle cx="615.0" cy="412.7" r="4.8" fill="#ff0000"/>
<path d="M237.6,628.9V638.6M232.6,628.9H242.6M232.6,638.6H242.6" stroke="#ff0000" stroke-width="2.6" fill="none"/>
<circle cx="237.6" cy="633.8" r="4.8" fill="#ff0000"/>
<path d="M363.4,561.4V573.1M358.4,561.4H368.4M358.4,573.1H368.4" stroke="#ff0000" stroke-width="2.6" fill="none"/>
<circle cx="363.4" cy="567.3" r="4.8" fill="#ff0000"/>
<path d="M489.2,472.2V494.5M484.2,472.2H494.2M484.2,494.5H494.2" stroke="#ff0000" stroke-width="2.6" fill="none"/>
<circle cx="489.2" cy="483.3" r="4.8" fill="#ff0000"/>
<path d="M615.0,376.9V401.1M610.0,376.9H620.0M610.0,401.1H620.0" stroke="#ff0000" stroke-width="2.6" fill="none"/>
<circle cx="615.0" cy="389.0" r="4.8" fill="#ff0000"/>
<path d="M135.5,340.3H161.9" stroke="#ff0000" stroke-width="2.4"/>
<circle cx="148.9" cy="340.3" r="5" fill="#ff0000"/>
<text x="169" y="347.2" font-size="24" text-anchor="start" >R-Vector-DMSO</text>
<path d="M135.5,373.7H140.7M158.9,373.7H161.9" stroke="#ff0000" stroke-width="2.4"/>
<circle cx="148.9" cy="373.7" r="5" fill="#ff0000"/>
<text x="169" y="379.8" font-size="24" text-anchor="start" >R-Vector-ABi</text>
<path d="M135.5,407.2H161.9" stroke="#007a00" stroke-width="2.4"/>
<circle cx="148.9" cy="407.2" r="5" fill="#007a00"/>
<text x="169" y="414.5" font-size="24" text-anchor="start" >R-SH1-DMSO</text>
<path d="M135.5,440.1H140.7M158.9,440.1H161.9" stroke="#007a00" stroke-width="2.4"/>
<circle cx="148.9" cy="440.1" r="5" fill="#007a00"/>
<text x="169.5" y="447.4" font-size="24" text-anchor="start" >R-SH1-ABi</text>
<path d="M135.5,473.7H161.9" stroke="#3333ff" stroke-width="2.4"/>
<circle cx="148.9" cy="473.7" r="5" fill="#3333ff"/>
<text x="170.2" y="479.8" font-size="24" text-anchor="start" >R-SH2-DMSO</text>
<path d="M135.5,507.5H140.7M158.9,507.5H161.9" stroke="#3333ff" stroke-width="2.4"/>
<circle cx="148.9" cy="507.5" r="5" fill="#3333ff"/>
<text x="170.2" y="514.1" font-size="24" text-anchor="start" >R-SH2-ABi</text>
<path d="M621.7,384.3H631.7V415H621.7" stroke="#000" stroke-width="1.3" fill="none"/>
<text x="642.5" y="405" font-size="24" text-anchor="start" >ns</text>
<path d="M621,475H631V573.3H621" stroke="#000" stroke-width="1.3" fill="none"/>
<text transform="translate(655,525.8) rotate(-90)" font-size="24" text-anchor="middle">P&lt;0.001</text>
<path d="M659.3,494.3H668.3V592.7H659.3" stroke="#000" stroke-width="1.3" fill="none"/>
<text transform="translate(691.7,545.2) rotate(-90)" font-size="24" text-anchor="middle">P&lt;0.001</text>
<g stroke="#000" stroke-width="3.7" fill="none" stroke-linecap="butt">
<line x1="933" y1="341.09" x2="933" y2="721.35"/>
<line x1="916.4" y1="719.5" x2="1500" y2="719.5"/>
<line x1="916.8" y1="719.5" x2="933" y2="719.5"/>
<line x1="916.8" y1="625.36" x2="933" y2="625.36"/>
<line x1="916.8" y1="531.22" x2="933" y2="531.22"/>
<line x1="916.8" y1="437.08" x2="933" y2="437.08"/>
<line x1="916.8" y1="342.94" x2="933" y2="342.94"/>
<line x1="1019.5" y1="719.5" x2="1019.5" y2="736.0"/>
<line x1="1150" y1="719.5" x2="1150" y2="736.0"/>
<line x1="1280.4" y1="719.5" x2="1280.4" y2="736.0"/>
<line x1="1411" y1="719.5" x2="1411" y2="736.0"/>
</g>
<text x="907.5" y="729" font-size="24" text-anchor="end" >0</text>
<text x="909.3" y="632" font-size="24" text-anchor="end" >2</text>
<text x="910.3" y="532.8" font-size="24" text-anchor="end" >4</text>
<text x="910.8" y="443.7" font-size="24" text-anchor="end" >6</text>
<text x="912.1" y="351.5" font-size="24" text-anchor="end" >8</text>
<text x="1022.4" y="760" font-size="24" text-anchor="middle" >24</text>
<text x="1150.7" y="760" font-size="24" text-anchor="middle" >48</text>
<text x="1282.6" y="762" font-size="24" text-anchor="middle" >72</text>
<text x="1413.9" y="763" font-size="24" text-anchor="middle" >96</text>
<text x="1211.5" y="791" font-size="24" text-anchor="middle" >Hour(h)</text>
<text transform="translate(866.7,538.5) rotate(-90)" font-size="24" text-anchor="middle">Relative Cell Viability</text>
<text x="1205.5" y="329" font-size="24" text-anchor="middle" >C4-2-P</text>
<path d="M1019.5,672.4 L1150.0,631.9 L1280.4,573.1 L1411.0,441.8" fill="none" stroke="#0000ff" stroke-width="4" stroke-dasharray="7 11.8" stroke-linecap="round"/>
<path d="M1019.5,672.4 L1150.0,630.1 L1280.4,558.5 L1411.0,449.8" fill="none" stroke="#0000ff" stroke-width="4"/>
<path d="M1019.5,672.4 L1150.0,668.2 L1280.4,659.3 L1411.0,645.1" fill="none" stroke="#000" stroke-width="4" stroke-dasharray="7 11.8" stroke-linecap="round"/>
<path d="M1019.5,672.4 L1150.0,639.5 L1280.4,598.3 L1411.0,533.3" fill="none" stroke="#000" stroke-width="4"/>
<path d="M1019.5,667.7V677.1M1012.2,667.7H1026.8M1012.2,677.1H1026.8" stroke="#0000ff" stroke-width="3.3" fill="none"/>
<circle cx="1019.5" cy="672.4" r="7.5" fill="#0000ff"/>
<path d="M1150.0,627.2V636.7M1142.7,627.2H1157.3M1142.7,636.7H1157.3" stroke="#0000ff" stroke-width="3.3" fill="none"/>
<circle cx="1150.0" cy="631.9" r="7.5" fill="#0000ff"/>
<path d="M1280.4,562.1V584.2M1273.1,562.1H1287.7M1273.1,584.2H1287.7" stroke="#0000ff" stroke-width="3.3" fill="none"/>
<circle cx="1280.4" cy="573.1" r="7.5" fill="#0000ff"/>
<path d="M1411.0,433.3V450.3M1403.7,433.3H1418.3M1403.7,450.3H1418.3" stroke="#0000ff" stroke-width="3.3" fill="none"/>
<circle cx="1411.0" cy="441.8" r="7.5" fill="#0000ff"/>
<path d="M1019.5,667.7V677.1M1012.2,667.7H1026.8M1012.2,677.1H1026.8" stroke="#0000ff" stroke-width="3.3" fill="none"/>
<circle cx="1019.5" cy="672.4" r="7.5" fill="#0000ff"/>
<path d="M1150.0,625.4V634.8M1142.7,625.4H1157.3M1142.7,634.8H1157.3" stroke="#0000ff" stroke-width="3.3" fill="none"/>
<circle cx="1150.0" cy="630.1" r="7.5" fill="#0000ff"/>
<path d="M1280.4,554.3V562.8M1273.1,554.3H1287.7M1273.1,562.8H1287.7" stroke="#0000ff" stroke-width="3.3" fill="none"/>
<circle cx="1280.4" cy="558.5" r="7.5" fill="#0000ff"/>
<path d="M1411.0,446.0V453.6M1403.7,446.0H1418.3M1403.7,453.6H1418.3" stroke="#0000ff" stroke-width="3.3" fill="none"/>
<circle cx="1411.0" cy="449.8" r="7.5" fill="#0000ff"/>
<path d="M1019.5,666.8V678.1M1012.2,666.8H1026.8M1012.2,678.1H1026.8" stroke="#000" stroke-width="3.3" fill="none"/>
<circle cx="1019.5" cy="672.4" r="7.5" fill="#000"/>
<path d="M1150.0,661.1V675.3M1142.7,661.1H1157.3M1142.7,675.3H1157.3" stroke="#000" stroke-width="3.3" fill="none"/>
<circle cx="1150.0" cy="668.2" r="7.5" fill="#000"/>
<path d="M1280.4,651.9V666.6M1273.1,651.9H1287.7M1273.1,666.6H1287.7" stroke="#000" stroke-width="3.3" fill="none"/>
<circle cx="1280.4" cy="659.3" r="7.5" fill="#000"/>
<path d="M1411.0,638.1V652.2M1403.7,638.1H1418.3M1403.7,652.2H1418.3" stroke="#000" stroke-width="3.3" fill="none"/>
<circle cx="1411.0" cy="645.1" r="7.5" fill="#000"/>
<path d="M1019.5,666.5V678.4M1012.2,666.5H1026.8M1012.2,678.4H1026.8" stroke="#000" stroke-width="3.3" fill="none"/>
<circle cx="1019.5" cy="672.4" r="7.5" fill="#000"/>
<path d="M1150.0,633.0V646.0M1142.7,633.0H1157.3M1142.7,646.0H1157.3" stroke="#000" stroke-width="3.3" fill="none"/>
<circle cx="1150.0" cy="639.5" r="7.5" fill="#000"/>
<path d="M1280.4,592.3V604.3M1273.1,592.3H1287.7M1273.1,604.3H1287.7" stroke="#000" stroke-width="3.3" fill="none"/>
<circle cx="1280.4" cy="598.3" r="7.5" fill="#000"/>
<path d="M1411.0,527.3V539.3M1403.7,527.3H1418.3M1403.7,539.3H1418.3" stroke="#000" stroke-width="3.3" fill="none"/>
<circle cx="1411.0" cy="533.3" r="7.5" fill="#000"/>
<path d="M964.1,368.1H1004.6" stroke="#000" stroke-width="3.7"/>
<circle cx="984.6" cy="368.1" r="7.5" fill="#000"/>
<text x="1014.2" y="379.1" font-size="24" text-anchor="start" >P-Vector-DMSO</text>
<path d="M964.1,419.3H972.9M1000.6,419.3H1004.6" stroke="#000" stroke-width="3.7"/>
<circle cx="984.6" cy="419.3" r="7.5" fill="#000"/>
<text x="1014.2" y="426.5" font-size="24" text-anchor="start" >P-Vector-ABi</text>
<path d="M964.1,470.3H1004.6" stroke="#0000ff" stroke-width="3.7"/>
<circle cx="984.6" cy="470.3" r="7.5" fill="#0000ff"/>
<text x="1015.5" y="477.5" font-size="24" text-anchor="start" >P-OE-DMSO</text>
<path d="M964.1,522H972.9M1000.6,522H1004.6" stroke="#0000ff" stroke-width="3.7"/>
<circle cx="984.6" cy="522" r="7.5" fill="#0000ff"/>
<text x="1015.5" y="530" font-size="24" text-anchor="start" >P-OE-ABi</text>
<path d="M1423.3,432.3H1433.3V453.3H1423.3" stroke="#000" stroke-width="1.3" fill="none"/>
<text x="1440.5" y="449.3" font-size="24" text-anchor="start" >ns</text>
<path d="M1423,531H1434V648.3H1423" stroke="#000" stroke-width="1.3" fill="none"/>
<text transform="translate(1465,591.2) rotate(-90)" font-size="24" text-anchor="middle">P&lt;0.0001</text>
<g stroke="#000" stroke-width="3.7" fill="none" stroke-linecap="butt">
<line x1="910" y1="950.37" x2="910" y2="1341.35"/>
<line x1="908.2" y1="1339.5" x2="1490.6" y2="1339.5"/>
<line x1="893.3" y1="1242.68" x2="910" y2="1242.68"/>
<line x1="893.3" y1="1145.8600000000001" x2="910" y2="1145.8600000000001"/>
<line x1="893.3" y1="1049.04" x2="910" y2="1049.04"/>
<line x1="893.3" y1="952.22" x2="910" y2="952.22"/>
<line x1="999" y1="1339.5" x2="999" y2="1355.5"/>
<line x1="1132.7" y1="1339.5" x2="1132.7" y2="1355.5"/>
<line x1="1267" y1="1339.5" x2="1267" y2="1355.5"/>
<line x1="1401.3" y1="1339.5" x2="1401.3" y2="1355.5"/>
</g>
<text x="882" y="1347.7" font-size="24" text-anchor="end" >0</text>
<text x="882" y="1241" font-size="24" text-anchor="end" >2</text>
<text x="882" y="1146" font-size="24" text-anchor="end" >4</text>
<text x="882" y="1051.8" font-size="24" text-anchor="end" >6</text>
<text x="882" y="957.4" font-size="24" text-anchor="end" >8</text>
<text x="1002.9" y="1379.5" font-size="24" text-anchor="middle" >24</text>
<text x="1134.4" y="1379.5" font-size="24" text-anchor="middle" >48</text>
<text x="1266.3" y="1379.5" font-size="24" text-anchor="middle" >72</text>
<text x="1401.5" y="1379.5" font-size="24" text-anchor="middle" >96</text>
<text x="1194.9" y="1408.9" font-size="24" text-anchor="middle" >Hour(h)</text>
<text transform="translate(844,1154.5) rotate(-90)" font-size="24" text-anchor="middle">Relative Cell Viability</text>
<text x="1196.6" y="940" font-size="24" text-anchor="middle" >LNCaP-P</text>
<path d="M999.0,1291.1 L1132.7,1237.8 L1267.0,1177.8 L1401.3,1068.4" fill="none" stroke="#0000ff" stroke-width="4" stroke-dasharray="7 11.8" stroke-linecap="round"/>
<path d="M999.0,1291.1 L1132.7,1235.9 L1267.0,1166.7 L1401.3,1049.0" fill="none" stroke="#0000ff" stroke-width="4"/>
<path d="M999.0,1291.1 L1132.7,1280.0 L1267.0,1262.0 L1401.3,1237.4" fill="none" stroke="#000" stroke-width="4" stroke-dasharray="7 11.8" stroke-linecap="round"/>
<path d="M999.0,1291.1 L1132.7,1250.9 L1267.0,1205.4 L1401.3,1144.2" fill="none" stroke="#000" stroke-width="4"/>
<path d="M999.0,1286.2V1295.9M991.4,1286.2H1006.6M991.4,1295.9H1006.6" stroke="#0000ff" stroke-width="3.3" fill="none"/>
<circle cx="999.0" cy="1291.1" r="7.5" fill="#0000ff"/>
<path d="M1132.7,1230.6V1245.1M1125.1,1230.6H1140.3M1125.1,1245.1H1140.3" stroke="#0000ff" stroke-width="3.3" fill="none"/>
<circle cx="1132.7" cy="1237.8" r="7.5" fill="#0000ff"/>
<path d="M1267.0,1169.6V1186.0M1259.4,1169.6H1274.6M1259.4,1186.0H1274.6" stroke="#0000ff" stroke-width="3.3" fill="none"/>
<circle cx="1267.0" cy="1177.8" r="7.5" fill="#0000ff"/>
<path d="M1401.3,1058.2V1078.6M1393.7,1058.2H1408.9M1393.7,1078.6H1408.9" stroke="#0000ff" stroke-width="3.3" fill="none"/>
<circle cx="1401.3" cy="1068.4" r="7.5" fill="#0000ff"/>
<path d="M999.0,1286.2V1295.9M991.4,1286.2H1006.6M991.4,1295.9H1006.6" stroke="#0000ff" stroke-width="3.3" fill="none"/>
<circle cx="999.0" cy="1291.1" r="7.5" fill="#0000ff"/>
<path d="M1132.7,1231.1V1240.7M1125.1,1231.1H1140.3M1125.1,1240.7H1140.3" stroke="#0000ff" stroke-width="3.3" fill="none"/>
<circle cx="1132.7" cy="1235.9" r="7.5" fill="#0000ff"/>
<path d="M1267.0,1160.9V1172.5M1259.4,1160.9H1274.6M1259.4,1172.5H1274.6" stroke="#0000ff" stroke-width="3.3" fill="none"/>
<circle cx="1267.0" cy="1166.7" r="7.5" fill="#0000ff"/>
<path d="M1401.3,1039.4V1058.7M1393.7,1039.4H1408.9M1393.7,1058.7H1408.9" stroke="#0000ff" stroke-width="3.3" fill="none"/>
<circle cx="1401.3" cy="1049.0" r="7.5" fill="#0000ff"/>
<path d="M999.0,1286.2V1295.9M991.4,1286.2H1006.6M991.4,1295.9H1006.6" stroke="#000" stroke-width="3.3" fill="none"/>
<circle cx="999.0" cy="1291.1" r="7.5" fill="#000"/>
<path d="M1132.7,1271.7V1288.2M1125.1,1271.7H1140.3M1125.1,1288.2H1140.3" stroke="#000" stroke-width="3.3" fill="none"/>
<circle cx="1132.7" cy="1280.0" r="7.5" fill="#000"/>
<path d="M1267.0,1252.4V1271.7M1259.4,1252.4H1274.6M1259.4,1271.7H1274.6" stroke="#000" stroke-width="3.3" fill="none"/>
<circle cx="1267.0" cy="1262.0" r="7.5" fill="#000"/>
<path d="M1401.3,1225.7V1249.0M1393.7,1225.7H1408.9M1393.7,1249.0H1408.9" stroke="#000" stroke-width="3.3" fill="none"/>
<circle cx="1401.3" cy="1237.4" r="7.5" fill="#000"/>
<path d="M999.0,1286.2V1295.9M991.4,1286.2H1006.6M991.4,1295.9H1006.6" stroke="#000" stroke-width="3.3" fill="none"/>
<circle cx="999.0" cy="1291.1" r="7.5" fill="#000"/>
<path d="M1132.7,1242.7V1259.1M1125.1,1242.7H1140.3M1125.1,1259.1H1140.3" stroke="#000" stroke-width="3.3" fill="none"/>
<circle cx="1132.7" cy="1250.9" r="7.5" fill="#000"/>
<path d="M1267.0,1197.2V1213.6M1259.4,1197.2H1274.6M1259.4,1213.6H1274.6" stroke="#000" stroke-width="3.3" fill="none"/>
<circle cx="1267.0" cy="1205.4" r="7.5" fill="#000"/>
<path d="M1401.3,1135.9V1152.4M1393.7,1135.9H1408.9M1393.7,1152.4H1408.9" stroke="#000" stroke-width="3.3" fill="none"/>
<circle cx="1401.3" cy="1144.2" r="7.5" fill="#000"/>
<path d="M942.2,978.1H983.8" stroke="#000" stroke-width="3.7"/>
<circle cx="963" cy="978.1" r="7.5" fill="#000"/>
<text x="992.6" y="989.6" font-size="24" text-anchor="start" >P-Vector-DMSO</text>
<path d="M942.2,1030.9H951.0M979.5,1030.9H983.8" stroke="#000" stroke-width="3.7"/>
<circle cx="963" cy="1030.9" r="7.5" fill="#000"/>
<text x="992.6" y="1039.5" font-size="24" text-anchor="start" >P-Vector-ABi</text>
<path d="M942.2,1083.5H983.8" stroke="#0000ff" stroke-width="3.7"/>
<circle cx="963" cy="1083.5" r="7.5" fill="#0000ff"/>
<text x="993.9" y="1094.4" font-size="24" text-anchor="start" >P-OE-DMSO</text>
<path d="M942.2,1136H951.0M979.5,1136H983.8" stroke="#0000ff" stroke-width="3.7"/>
<circle cx="963" cy="1136" r="7.5" fill="#0000ff"/>
<text x="993.9" y="1147.5" font-size="24" text-anchor="start" >P-OE-ABi</text>
<path d="M1411.6,1044.1H1423V1071.9H1411.6" stroke="#000" stroke-width="1.3" fill="none"/>
<text x="1427.5" y="1064.3" font-size="24" text-anchor="start" >ns</text>
<path d="M1417.2,1141.6H1433.9V1245H1417.2" stroke="#000" stroke-width="1.3" fill="none"/>
<text transform="translate(1462.3,1195.9) rotate(-90)" font-size="24" text-anchor="middle">P&lt;0.0001</text>
<text transform="translate(47.5,913.6) scale(1,1.04)" font-size="54">C</text>
<text x="162.7" y="960" font-size="24" text-anchor="middle" >Vector</text>
<text x="369.5" y="960" font-size="24" text-anchor="middle" >SH1</text>
<text x="588" y="960" font-size="24" text-anchor="middle" >SH2</text>
<text x="5.8" y="1079.5" font-size="24" text-anchor="start" >Abi-</text>
<text x="0" y="1280" font-size="24" text-anchor="start" >Abi+</text>
<text transform="translate(64,1496.6) scale(1,1.04)" font-size="54">G</text>
<text x="376.8" y="1485.6" font-size="24" text-anchor="middle" >LNCaP-P</text>
<line x1="243.4" y1="1495.2" x2="511.3" y2="1495.2" stroke="#000" stroke-width="1.4"/>
<text x="251.3" y="1525.5" font-size="24" text-anchor="middle" >Vector</text>
<text x="507.8" y="1525.5" font-size="24" text-anchor="middle" >OE</text>
<text x="63.4" y="1700.5" font-size="24" text-anchor="start" >Abi-</text>
<text x="61.4" y="1943" font-size="24" text-anchor="start" >Abi+</text>
<text transform="translate(809,1506.6) scale(1,1.04)" font-size="54">H</text>
<text x="1141.2" y="1485.6" font-size="24" text-anchor="middle" >C4-2-P</text>
<line x1="1016.2" y1="1495.2" x2="1281.7" y2="1495.2" stroke="#000" stroke-width="1.4"/>
<text x="1019.5" y="1526.4" font-size="24" text-anchor="middle" >Vector</text>
<text x="1284.8" y="1526.4" font-size="24" text-anchor="middle" >OE</text>
<text x="828" y="1683.7" font-size="24" text-anchor="start" >Abi-</text>
<text x="826.6" y="1934.3" font-size="24" text-anchor="start" >Abi+</text>
<rect x="199.3" y="80.2" width="272.4" height="50.1" fill="#b7b7b7"/>
<g clip-path="url(#clip_a1)">
<rect x="200" y="80" width="90.0" height="51.0" rx="0.0" fill="#b0b0b0" fill-opacity="1" filter="url(#bl4)"/>
<rect x="292" y="80" width="8.0" height="51.0" rx="0.0" fill="#c8c8c8" fill-opacity="1" filter="url(#bl3)"/>
<rect x="300" y="80" width="85.0" height="51.0" rx="0.0" fill="#b8b8b8" fill-opacity="1" filter="url(#bl4)"/>
<rect x="385" y="80" width="7.0" height="51.0" rx="0.0" fill="#c6c6c6" fill-opacity="1" filter="url(#bl3)"/>
<rect x="209" y="96" width="78.0" height="22.0" rx="11.0" fill="#5a5a5a" fill-opacity="1" filter="url(#bl3)"/>
<rect x="212" y="98" width="73.0" height="14.0" rx="7.0" fill="#111" fill-opacity="1" filter="url(#bl2)"/>
<rect x="218" y="100" width="32.0" height="10.0" rx="5.0" fill="#050505" fill-opacity="1" filter="url(#bl2)"/>
<rect x="255" y="99" width="29.0" height="12.0" rx="6.0" fill="#050505" fill-opacity="1" filter="url(#bl2)"/>
<rect x="303" y="95" width="75.0" height="11.0" rx="5.5" fill="#505050" fill-opacity="1" filter="url(#bl2)"/>
<rect x="306" y="96" width="14.0" height="8.0" rx="4.0" fill="#2e2e2e" fill-opacity="1" filter="url(#bl2)"/>
<rect x="326" y="97" width="14.0" height="7.0" rx="3.5" fill="#333" fill-opacity="1" filter="url(#bl2)"/>
<rect x="356" y="95" width="21.0" height="10.0" rx="5.0" fill="#1e1e1e" fill-opacity="1" filter="url(#bl2)"/>
<rect x="395" y="94" width="68.0" height="9.0" rx="4.5" fill="#8c8c8c" fill-opacity="1" filter="url(#bl2)"/>
</g>
<rect x="199.3" y="80.2" width="272.4" height="50.1" fill="none" stroke="#3c3c3c" stroke-width="1.3"/>
<rect x="198.3" y="142.1" width="273.4" height="50.1" fill="#b9b9b9"/>
<g clip-path="url(#clip_a2)">
<rect x="206" y="155" width="76.0" height="22.0" rx="11.0" fill="#7a7a7a" fill-opacity="1" filter="url(#bl3)"/>
<rect x="210" y="159" width="68.0" height="14.0" rx="7.0" fill="#202020" fill-opacity="1" filter="url(#bl2)"/>
<rect x="298" y="154" width="75.0" height="22.0" rx="11.0" fill="#787878" fill-opacity="1" filter="url(#bl3)"/>
<rect x="302" y="158" width="67.0" height="14.0" rx="7.0" fill="#1a1a1a" fill-opacity="1" filter="url(#bl2)"/>
<rect x="388" y="154" width="79.0" height="23.0" rx="11.5" fill="#6a6a6a" fill-opacity="1" filter="url(#bl3)"/>
<rect x="392" y="158" width="71.0" height="15.0" rx="7.5" fill="#0e0e0e" fill-opacity="1" filter="url(#bl2)"/>
</g>
<rect x="198.3" y="142.1" width="273.4" height="50.1" fill="none" stroke="#3c3c3c" stroke-width="1.3"/>
<rect x="923" y="87.3" width="199.7" height="53.9" fill="#c0c0c0"/>
<g clip-path="url(#clip_d1)">
<rect x="1015" y="90" width="93.0" height="45.0" rx="6.0" fill="#a8a8a8" fill-opacity="1" filter="url(#bl4)"/>
<rect x="928" y="112" width="72.0" height="18.0" rx="9.0" fill="#8a8a8a" fill-opacity="1" filter="url(#bl3)"/>
<rect x="932" y="117" width="65.0" height="8.0" rx="4.0" fill="#111" fill-opacity="1" filter="url(#bl1)"/>
<rect x="985" y="116" width="13.0" height="11.0" rx="2.0" fill="#111" fill-opacity="1" filter="url(#bl1)"/>
<rect x="1020" y="103" width="82.0" height="25.0" rx="4.0" fill="#1a1a1a" fill-opacity="1" filter="url(#bl2)"/>
<rect x="1022" y="105.5" width="76.6" height="20.5" rx="3.0" fill="#0c0c0c" fill-opacity="1" filter="url(#bl1)"/>
</g>
<rect x="923" y="87.3" width="199.7" height="53.9" fill="none" stroke="#3c3c3c" stroke-width="1.3"/>
<rect x="921" y="152.4" width="203.4" height="51.1" fill="#c4c4c4"/>
<g clip-path="url(#clip_d2)">
<rect x="936" y="160" width="72.0" height="18.0" rx="4.0" fill="#acacac" fill-opacity="1" filter="url(#bl4)"/>
<rect x="1028" y="160" width="80.0" height="17.0" rx="4.0" fill="#b0b0b0" fill-opacity="1" filter="url(#bl4)"/>
<rect x="933" y="177" width="77.0" height="19.0" rx="9.5" fill="#6a6a6a" fill-opacity="1" filter="url(#bl3)"/>
<rect x="937" y="181" width="69.0" height="11.0" rx="5.5" fill="#161616" fill-opacity="1" filter="url(#bl2)"/>
<rect x="1026" y="177" width="83.0" height="17.0" rx="8.5" fill="#7a7a7a" fill-opacity="1" filter="url(#bl3)"/>
<rect x="1029" y="180" width="77.0" height="10.0" rx="5.0" fill="#2a2a2a" fill-opacity="1" filter="url(#bl2)"/>
</g>
<rect x="921" y="152.4" width="203.4" height="51.1" fill="none" stroke="#3c3c3c" stroke-width="1.3"/>
<rect x="1267.3" y="87.3" width="200.4" height="50.9" fill="#c0c0c0"/>
<g clip-path="url(#clip_d3)">
<rect x="1370" y="92" width="86.0" height="40.0" rx="6.0" fill="#a8a8a8" fill-opacity="1" filter="url(#bl4)"/>
<rect x="1287" y="108" width="72.0" height="18.0" rx="9.0" fill="#959595" fill-opacity="1" filter="url(#bl3)"/>
<rect x="1291" y="113" width="64.0" height="7.5" rx="3.8" fill="#222" fill-opacity="1" filter="url(#bl1)"/>
<rect x="1291" y="113" width="27.0" height="7.5" rx="3.8" fill="#121212" fill-opacity="1" filter="url(#bl1)"/>
<rect x="1330" y="113.5" width="25.0" height="7.5" rx="3.8" fill="#121212" fill-opacity="1" filter="url(#bl1)"/>
<rect x="1374" y="102.5" width="78.0" height="22.5" rx="4.0" fill="#1a1a1a" fill-opacity="1" filter="url(#bl2)"/>
<rect x="1376" y="104.5" width="74.0" height="18.5" rx="3.0" fill="#0c0c0c" fill-opacity="1" filter="url(#bl1)"/>
</g>
<rect x="1267.3" y="87.3" width="200.4" height="50.9" fill="none" stroke="#3c3c3c" stroke-width="1.3"/>
<rect x="1267.6" y="151.2" width="200.1" height="51.1" fill="#c6c6c6"/>
<g clip-path="url(#clip_d4)">
<rect x="1286" y="154" width="73.0" height="16.0" rx="4.0" fill="#b0b0b0" fill-opacity="1" filter="url(#bl4)"/>
<rect x="1380" y="155" width="72.0" height="16.0" rx="4.0" fill="#b2b2b2" fill-opacity="1" filter="url(#bl4)"/>
<rect x="1283" y="169" width="78.0" height="18.0" rx="9.0" fill="#6e6e6e" fill-opacity="1" filter="url(#bl3)"/>
<rect x="1287" y="172" width="70.0" height="11.0" rx="5.5" fill="#1c1c1c" fill-opacity="1" filter="url(#bl2)"/>
<rect x="1377" y="171" width="76.0" height="18.0" rx="9.0" fill="#737373" fill-opacity="1" filter="url(#bl3)"/>
<rect x="1381" y="174" width="69.0" height="11.0" rx="5.5" fill="#242424" fill-opacity="1" filter="url(#bl2)"/>
</g>
<rect x="1267.6" y="151.2" width="200.1" height="51.1" fill="none" stroke="#3c3c3c" stroke-width="1.3"/>
</svg></body></html>
